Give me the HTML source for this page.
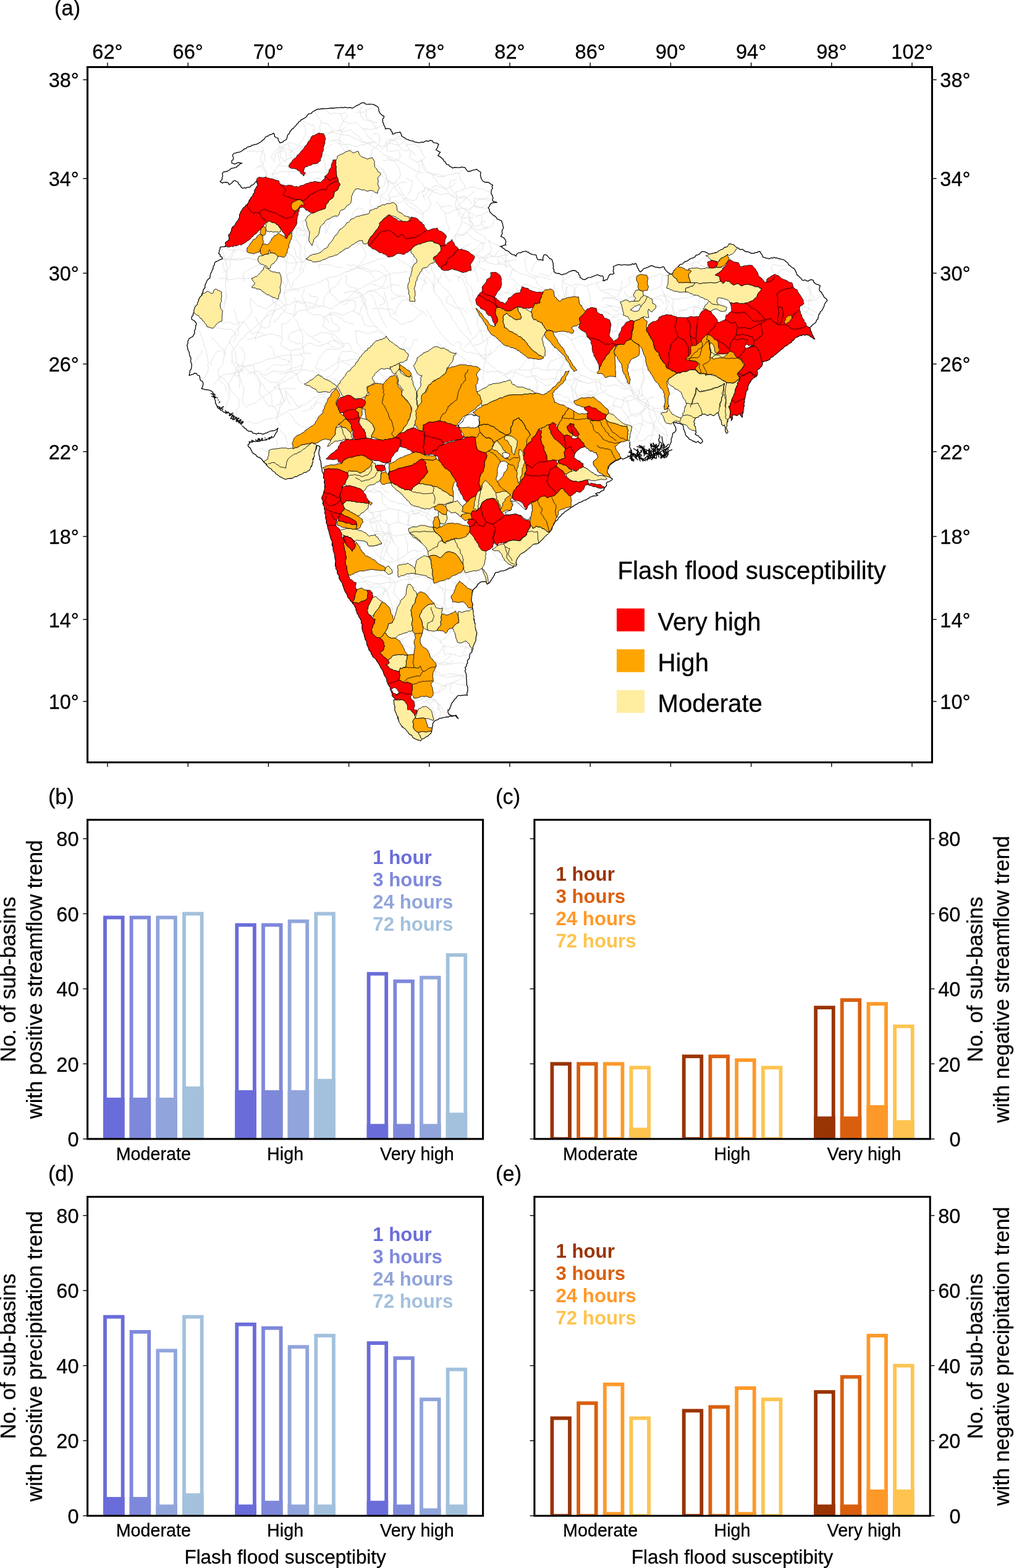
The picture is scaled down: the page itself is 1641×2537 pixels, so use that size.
<!DOCTYPE html>
<html lang="en"><head><meta charset="utf-8"><title>Flash flood susceptibility and sub-basin trends</title>
<style>html,body{margin:0;padding:0;background:#fff}svg{display:block}text:not([fill]){stroke:#000;stroke-width:0.3px}text{font-family:'Liberation Sans', 'DejaVu Sans', sans-serif}</style>
</head><body>
<svg width="1641" height="2537" viewBox="0 0 1641 2537" role="img" aria-label="Flash flood susceptibility map and sub-basin trend bar charts">
<rect width="1641" height="2537" fill="#fff"/>
<g id="map" stroke-linejoin="miter" stroke-linecap="butt">
<g fill="none" stroke="#dcdcdc" stroke-width="0.85">
<polyline points="507.5,180 510.7,182.7 513.1,186.5 515,190 518.6,193.6 520,197.5 517.8,202.9 517.5,207.5 518.7,211.2 521.2,215"/>
<polyline points="526.2,177.5 531.5,181.6 535,185 540,182.5 544.2,183.2 550,183.8 554.5,183.5 560,181.2"/>
<polyline points="487.5,193.8 493.6,197.4 497.5,200 501.8,201.8 507.5,202.5 508.4,207.2 508.8,212.5 506.9,217.4 505,220"/>
<polyline points="450,232.5 452.7,238.6 455,242.5 454,246.1 453.6,251.2 453.8,255 457,256.6 460,260 456.1,262.9 452.6,265.4 450,267.5 447.8,272.1 446.2,275 442.9,277.8 440,282.5 442.9,284.4 446.3,287.9 449.6,289.4 452.5,292.5"/>
<polyline points="460,260 463.3,258.9 467.1,256.5 472.5,255 480,253.8"/>
<polyline points="450,267.5 454.6,267.6 461.3,268.6 465,270 467.5,270"/>
<polyline points="440,282.5 445.1,280.6 450.4,279.8 455,277.5 458.8,277.3 463.7,278.1 466.1,278.1 472,277.9 475,277.5 479.5,277.1 486.2,278.8"/>
<polyline points="491.2,285 496.5,283.1 500,280 503.8,278.4 508,277.9 512.5,277.5 517.2,279.1 520.9,279.9 525,280 532.5,277.5"/>
<polyline points="525,216.2 530.1,214.5 534,215.1 540,213.8 543.6,216 550,217.5 553.5,218.1 557.7,218.7 562.5,218.8 567.1,220 570.7,222.1 575,223.8 579.7,226.4 582.6,228.4 587.5,230 591.4,230.9 596.3,233.2 600,235 604.7,237.2 609,239.7 612.5,242.5 617.7,246.5 620,250 624.5,251.7 629,253.3 632.5,255 636.5,257 641.1,257.8 645,260 649,263.2 653.2,263.8 657.5,267.5 662.1,269.9 666.7,272.6 670,275 675,277.3 679,278.6 685,280"/>
<polyline points="587.5,208.8 591,208.4 596.2,209.2 600,210 604.2,208.7 608.8,207.5 612.5,206.2 617.7,203.8 621.2,202.5"/>
<polyline points="587.5,208.8 590.3,211.4 592.6,216.5 595,220 597.4,222.8 601.5,223.8 605,227.5 607.6,230.9 612.1,235 615,237.5 619,236.3 625,235 629.4,231.4 631.1,228.1 635,225 639.8,223.4 645.3,220.8 650,220"/>
<polyline points="617.5,242.5 620.8,238.9 624.4,237.7 627.4,234.7 630,232.5 634.2,232.3 640.1,234 645,235 647.9,233.1 652.3,230.1 654.8,227.4 657.5,225"/>
<polyline points="616.2,281.2 618.4,284.6 621.8,287.2 625,290 629.6,293 635,295 638.1,301.2 640,305 643.1,309.2 645.8,312 650,315 652,319 655,325 658.2,328.3 659,331.3 662.5,335 667.6,337.2 672.5,340 677,343.8 680.2,345.5 685,347.5"/>
<polyline points="611.2,312.5 616.6,317.1 620,320 624.5,322.9 630,325 636.2,327.5"/>
<polyline points="363.8,401.2 369.2,403.2 375,405 379,405.4 382.6,403.6 387.5,403.8 390.5,405 396.3,406.8 400,407.5"/>
<polyline points="360,420 365.3,420.2 370,420.2 375,418.8 378.8,420.4 383.9,420.7 387.5,421.2 392.2,420.3 396,418.8 400,417.5 404.7,418.2 409.4,419.6 413.3,420.1 417.5,421.2"/>
<polyline points="472.5,376.2 475.3,379 477.7,383.7 480,387.5 482.6,392.3 484.3,396.5 487.5,400 486.7,403.4 485.8,408 485,412.5 485.4,416.1 488.2,421.6 490,425 487.8,428.3 486.3,434.5 485,439"/>
<polyline points="480,362.5 485.1,359.6 490,357.5 493.8,356.2"/>
<polyline points="490,357.5 490.5,361.9 490.8,366.3 492.5,370 495.2,375.5 495.5,379.6 497.5,385 495.7,391.3 494.6,395.7 492.5,400 494.1,405.5 493.8,409.4 493.5,415 495,418.8"/>
<polyline points="465,408.8 470,412.1 475,415 476.6,419 480,425 478.6,430.1 475.9,433.8 475,439"/>
<polyline points="550,183.8 552.2,186.5 553.6,191.3 555,195 560,197.7 565,200 570.3,199.5 575,197.5 578.6,200 582,203.3 584.4,206.3 587.5,208.8"/>
<polyline points="520,197.5 525.8,199.8 530,200 532.7,203.9 535.3,206.4 537.2,209.8 540,213.8"/>
<polyline points="625,232.5 629.1,229.9 635,227.5 639.6,226.5 645,223.8 652.5,225 654.4,230.5 657.5,235 660.4,237.8 661.7,242 665,245 663.7,250.9 662.5,255 667.1,258.1 671,259.8 675,262.5 682.5,260"/>
<polyline points="675,262.5 677,265.5 678.8,270 678,275.6 677.5,280 672.5,285 676.2,289.2 678.9,291.7 682.5,295 685.5,300.6 687.5,305 692.6,306.5 697,308.2 700,310 696.9,313.3 695.2,317.3 692.5,320 695.2,323.6 697.5,330 694.6,333.7 692.5,340 687.5,342.3 685,345"/>
<polyline points="625,255 629.4,256.5 632.7,258 637.5,260 639.3,263.6 642.1,267 645,270 646.4,274.8 647.8,280.8 647.5,285 645.2,288.3 641.9,292 640,295 642.5,297.6 645.5,302.2 647.2,305.4 650,310 652.7,314.9 655.6,317.2 657.9,322.3 660,325 663.2,328 667.5,328.9 670.2,332.4 675,335 678.9,338.8 682.8,341.6 685,345 684.8,349.8 686,353.6 685.1,358.4 686.2,363.8"/>
<polyline points="700,282.5 704.3,283.6 708.7,285.6 712.5,286.2 717.8,285 720.9,283.9 725,282.5 728.3,282 734,281.8 737,280.1 742.5,280 747.5,275"/>
<polyline points="742.5,280 743.8,284.5 745,290 747.4,293.3 749.8,296.7 752.5,300 750,307.5 745.2,307.6 742,310.1 737.5,310 738.7,314.9 739.1,319 740,325 742.6,328.6 745,335 749,337 755,340 752.5,343.2 750,347.5 748.3,351.5 747.5,355.6 747.5,360 745.4,366.1 742.5,370 740.3,376.3 737.5,380 736.7,384 735.7,390.1 735,393.8"/>
<polyline points="752.5,305 756.1,305.1 760.6,303 765,302.5 770.3,303 773.3,305 777.5,305 782.6,306.2 785.8,308.3 790,310 795,310"/>
<polyline points="767.5,320 772,321.8 776.1,321.2 780,322.5 784.8,320.8 790,320 794.7,323.1 797.5,325"/>
<polyline points="767.5,320 767,324.2 768.8,328.8 768.8,335 775.6,335.9 780,335 785.3,333.2 790,330"/>
<polyline points="700,310 703.4,311 708.6,312.8 712.5,315 715.8,314.7 721.1,313.4 725,312.5 728.9,315.9 732.7,317.7 737.5,320"/>
<polyline points="712.5,335 714.4,338.7 717.6,340.8 720,345 720.9,348.8 721.8,352.3 722.5,357.5 723.6,362.3 725.7,366.3 727.5,370 724.7,374.9 722.5,377.5"/>
<polyline points="755,340 758.7,343.6 763.5,344.5 766.2,348 770,350 776.1,348.5 780,347.5 783.7,345.1 790,342.5"/>
<polyline points="780,350 780.3,354.5 779.7,357.6 778.8,362.5 782,365 785,370 789.1,368.8 794.5,366.9 797.5,365 798.2,361.1 800,355"/>
<polyline points="750,360 755.5,361.9 760,365 764.2,369 765.7,371.1 770,375 773.9,377.3 780,380 783.7,382.5 786,386.2 790,390 795.2,392.2 800,395 804.3,396 810,398.8"/>
<polyline points="737.5,385 740.8,382.8 743.3,380.8 748.4,379.7 752,377.5 755,375 758.7,379.6 761.4,382.4 765,385 769.3,387.8 775,390 779,392.5 782.5,395 781.6,401.1 780,405 776.6,406.6 772.5,410 768,413.8"/>
<polyline points="782.5,417.5 787.5,417.1 791.9,416.3 795,415 799.8,415.6 802.4,415 807.5,415 810.8,413.9 815.8,413 820,412.5 827.5,410"/>
<polyline points="782.5,417.5 784.8,421.8 787.5,425 791.7,425.5 796.5,426.3 800,427.5 804,427.7 810.5,425.3 815,425 820.2,422.9 825,422.5 829.6,421.1 835,421.2"/>
<polyline points="805,415 805.6,419.3 807.5,424 807.5,427.5 810.9,427.9 815.9,428.3 821.2,430.4 825,430 829.3,433.9 832.5,439"/>
<polyline points="860,439 861.7,433.8 864.2,429.3 865,425 868.8,423 875,421.2"/>
<polyline points="682.5,260 684.7,264.1 686,268 688.4,272.2 690,275 693.2,278 696.1,279.8 700,282.5 701.3,286.4 705.9,290.5 707.5,295 710,297.7 714.4,300.4 716.7,301.4 720,305 723.3,306.9 726.6,312.3 730,315 733.4,316.6 737.5,320"/>
<polyline points="657.5,235 661.9,233.8 666.6,233.6 670,232.5 673.7,235.9 677.3,236.8 680,240 681.4,242.9 683.4,248 685.3,251.5 687.5,255 682.5,260"/>
<polyline points="625,290 627.4,292.3 631.5,295.4 635,297.5 640,295"/>
<polyline points="997.5,610 1001,613.3 1002.7,616.6 1005,620 1008.6,623.2 1012.5,627.5 1017.3,630.3 1022.2,632.3 1025,635 1026.8,638.7 1029.8,640.9 1032.5,645 1037.3,648.7 1040.5,650.5 1045,652.5 1047.2,655 1050,659"/>
<polyline points="1037.5,562.5 1039.3,568.7 1041.5,573.3 1042.5,577.5 1041.3,582.2 1040.9,586.8 1040.9,591.6 1040,595 1039.9,600 1040.9,604.2 1042.5,610 1040,614.4 1038.4,620.6 1037.5,625 1038.7,630.1 1039.2,635.7 1040,640 1035,642.5 1032.5,645"/>
<polyline points="975,470 978.4,468.5 983.3,468.5 987.5,467.5 992.4,468.5 996.6,469.5 1000,470 1004.4,468.7 1008.3,466 1012.5,465 1016.7,460.4 1020,457.5 1017.5,450 1021.4,447.3 1024.9,446.8 1028.8,445"/>
<polyline points="975,482.5 980.6,482.8 986.2,482.2 990,481.2 994.8,484.5 998.2,485 1003.8,487.5"/>
<polyline points="975,497.5 980.6,496.9 985.1,495.8 990,495 993.9,495.1 999.6,498.1 1002.5,497.8 1007.5,500"/>
<polyline points="1050,470 1054.3,469.6 1060,467.5 1066.2,465.3 1070,462.5 1070.9,457.1 1071.6,452.4 1071.2,447.5 1074.3,445.7 1080,445"/>
<polyline points="1055,483.8 1057.7,481.9 1062.2,480.4 1066.1,479.9 1070,477.5 1074,479.2 1078.9,478.7 1082.5,480 1087,482.7 1090,483.8 1089.7,488.1 1088.6,491.3 1089.5,495.8 1088.8,500 1090.5,503.8 1092.5,508.8"/>
<polyline points="1090,483.8 1094.1,484.4 1100.5,483.4 1105,482.5 1111,482 1114.4,481.5 1120,480 1125,477.5"/>
<polyline points="1097.5,500 1101.3,501.1 1106.6,501.1 1110,501.2 1114.1,498.2 1119.2,497.2 1122.5,495 1127.6,496.6 1131.3,498.7 1135,500"/>
<polyline points="1122.5,495 1123.7,499.3 1122.7,502.9 1123.8,507.5 1125,512.5"/>
<polyline points="1310,460 1310.4,466 1311.8,470.7 1312.5,475 1310.2,478 1310.2,483 1307.5,487.5 1308.7,491.3 1308.9,496.4 1308.8,500 1307.2,503.3 1303.5,505.8 1300,510"/>
<polyline points="1295,495 1301,496.2 1305,497.5 1308.8,498.4 1311.3,501.7 1316,502.9 1320,505 1325,508.8"/>
<polyline points="1307.5,487.5 1310.8,487.1 1316.2,486.2 1320,485 1323.3,482.1 1328.6,479 1332.5,477.5"/>
<polyline points="1107.5,423.8 1112.7,426.6 1117.5,427.5 1122.6,426 1126.5,423.8 1130,423.8 1134.5,420.2 1137.5,417.5 1142.5,413.8"/>
<polyline points="1130,423.8 1131.2,426.7 1135,430 1141,431.8 1145,432.5"/>
<polyline points="690,447.5 694.1,451.2 696.8,455.4 700,457.5 701.5,461.5 701.7,467.1 703.1,471.4 705,475 707,478.4 710.5,481.3 712,484 715,487.5 716.6,491.6 718.1,494.7 720.7,497.5 723,502 725,505 727.6,507.3 730,512 731.7,516.2 735,520 737.7,523.2 739.7,528.3 742.9,532.3 745,535 748.3,539.1 751.7,542.7 755,545 757.9,548.2 760.5,552.3 763.1,556.5 765,560 768.8,563 771.2,566.9 774.8,570.9 777.5,575 781.9,578.1 783.6,581.5 786.9,585.7 790,587.5 792.8,589.7 795.6,592.3 799.5,594.5 802.5,597.5 805.2,600.3 808.2,602.7 812.4,604.8 815,607.5 819.7,609.6 823.1,611.8 827.5,615"/>
<polyline points="705,447.5 707.7,450.4 709.4,455.3 712.9,459.4 715,462.5 718.7,466.1 722.2,468.5 724.2,470.5 727.5,475 731,478.9 731.6,482.5 734.5,486.6 737.3,492 740,495 741.3,498.1 744.6,501.6 746.3,504.2 747.4,508.6 750,512.5 752.4,515.8 753.7,520.9 755.5,526.3 757.5,530 758.1,533.4 761.4,538.6 762.5,542.5"/>
<polyline points="735,445 739.9,446.6 743,447.7 747.5,450 750.4,454 751.1,458.1 752.8,461.4 755,465 755.6,469.7 757.5,473.5 759.1,478.4 760,482.5 761.8,487 762.5,491.2 764,495.3 765,500 770,498.8"/>
<polyline points="690,500 691.8,502.6 694,507.5 697.2,510.8 697.7,514.9 700,517.5 701.8,520.8 703.3,525.3 705.4,528.6 708.6,531.5 710,535 713.5,539.4 716.5,543 720,546.4 722.5,550 725.6,552 728,555.5 731.8,557.4 735,560"/>
<polyline points="767.5,415 772.6,415.2 775.8,417 780,417.5 783.6,415.1 787.9,412.7 790,410 795.4,412.9 800,415 802.4,411.2 804.9,408.5 807.5,405"/>
<polyline points="807.5,415 812.6,417.3 816.2,420.7 820,422.5 822,425.5 824.9,428.6 826.5,431.5 830,435 833.4,438.1 836.6,439.4 840,442.5 844.9,443.5 848.9,444.7 852.5,445 855.7,447.1 859.6,448.6 865,450 868.7,447.7 870.7,445.3 875,442.5 878.3,444.3 883.4,444.9 887.5,447.5 891,444.1 894.3,438.5 896.2,435"/>
<polyline points="830,435 827.5,439.4 827.3,442.5 825,447.5 828,450.7 833.1,454.3 835,457.5 839.7,461 845,463.8"/>
<polyline points="865,450 868.3,454.8 870,460 873.6,463.1 877.6,464.7 882.5,468.8"/>
<polyline points="910,444.5 910.8,447.8 911.3,452.7 912.5,457.5 916.7,458.5 922.5,462.5 926.6,461.9 931.8,459.9 936.2,460 941.2,460.5 945.2,462.2 950,462.5 955.9,459.5 960.2,459.5 965,457.5 968.6,456.7 972.6,456.1 977.5,453.8"/>
<polyline points="927.5,480 928.3,475.9 928.6,471.4 930,467.5 933.1,463.5 936.2,460"/>
<polyline points="965,457.5 966.7,461.2 970.2,466.8 972.5,470 976.5,472.2 979.8,473.9 985,475 988.8,478.2 992.1,479.2 996.2,482.7 1000,485.4 1003.8,487.5"/>
<polyline points="950,462.5 951.3,467.1 953,470.5 952.9,475.1 955,480 955.4,484.9 955.8,489.5 956.7,494.2 957.5,497.5"/>
<polyline points="986.2,517.5 990.8,513.7 995,510 999,509.2 1005,507.5 1010,510"/>
<polyline points="892.5,535 897.1,537.1 902.5,540 907,540 911.1,541 915,542.5 918.8,544.3 921.3,547.1 925,550 926.5,555.1 929.4,558.3 930,562.5 933,566.2 936,569 936.3,571.9 940,575 942.9,580.7 944.2,585.7 945,590 949,593.5 951.6,596.3 955,600 960.6,601.6 966.2,603.8"/>
<polyline points="925,550 931,547.5 935,545 941.1,544 945.7,545.6 950,545"/>
<polyline points="933.8,598.8 936.5,603.3 940,607.5 935.8,610.2 933,613.7 930,615 927.8,619.9 925,625 925.3,629.3 926.1,633.2 927.5,637.5 927.9,643.6 928.8,647.5"/>
<polyline points="940,607.5 945.7,608.8 951,611 955,612.5 960.1,614.4 964.3,613.3 970,615 974.2,613 980,611.2"/>
<polyline points="996.2,610 998.8,614 1001.6,617 1005,620 1011,619.9 1015,621.2 1019.3,626.4 1022.5,630 1024.9,635.9 1025.2,640.6 1027.5,645 1030.2,647.5 1034.8,650.2 1037.2,653.7 1040,655 1044.9,657.3 1048.3,660.3 1052.5,662.5 1058,664.2 1061.2,666 1067.1,666.7 1069.8,668.3 1075,670"/>
<polyline points="970,615 970.8,619 972.1,626 972.5,630 976,632.9 978.9,635.4 981.2,637.1 985,640 988.9,641 995.8,644 1000,645 1005.5,646.3 1010.8,648.9 1015,650 1019.8,647.9 1023.2,647.4 1027.5,645"/>
<polyline points="815,607.5 818.6,605.8 821.6,602.8 825,600 830.3,599.2 835.1,598.8 840,597.5 845.4,599.3 849.7,598.1 855,600 859,597.7 866,595.8 870,595 875.5,597.9 879.5,597.8 885,600 889,598.6 893.3,598.1 897.5,597.5 903.3,598.6 907.4,598.6 912.7,598.6 916.2,600"/>
<polyline points="765,560 769,557.9 776.2,556.9 780,555 783.5,551.7 787.5,549.9 790.5,546.3 794.1,544.9 797.5,542.5"/>
<polyline points="777.5,575 781,574.5 787.3,574.2 789.7,573.4 795,572.5 798.4,569 801.4,566.8 804.3,563.3 806,560.6 810.1,558.1 812.5,555"/>
<polyline points="840,597.5 842.2,594.8 845.8,591.3 846.4,588 850,585 855,579.5"/>
<polyline points="885,600 887.1,593.8 887.5,590.3 890,585 894.7,583.7 898.6,581.8 902.5,580 906.8,578.7 913.8,576.2"/>
<polyline points="737.5,571.2 741.9,574.7 744.7,576.6 750,580 754.5,582.3 757.8,585.7 761,586.5 765,590"/>
<polyline points="356.2,400 358.7,403.8 360.4,407.5 362,411.7 363.2,415.8 365,420 366,423 366.3,428 367.4,432.3 367.6,435.9 367.5,440 366.6,443.4 365.7,448.3 365.1,452.4 365,457.5 365,461.9 365.6,467.3 365.6,471.1 366.2,475 366.2,478.9 364.1,483.8 363.7,487.7 364.6,490.8 362.7,495.8 362.5,500 360,505"/>
<polyline points="360,418.8 365.1,419 370,418.7 375,420 378.6,419.7 383.3,418.4 387.3,418.6 391.1,419.3 395,418 400,417.5 404.7,418.2 409.4,419.6 413.3,420.1 417.5,421.2"/>
<polyline points="353.8,450 359,450 362.5,450.5 367.1,451.9 370.9,452.4 375,452.5 379.9,451.2 382.1,450.6 387.9,450.8 390.3,450.8 395,450 400,450.8 404,450.6 407.5,450"/>
<polyline points="455,450 456.8,453.9 458.8,457.6 460.5,461.9 462.5,465 460.4,469.4 460,475 463.1,473 467.4,471.3 470.6,470.2 475,467.5 480.4,467.4 484.4,466.4 490,465 494.6,463.2 498.4,463 502.1,461.3 505.6,460.6 510,460 513.8,457.1 518.9,456.3 522.1,453.9 526,452 530,450 534.9,448.7 538.3,448.5 541.9,447.4 546.4,446.9 550,445 553.4,442.7 557.6,440.5 562.8,439.2 565.4,436.8 570,435 574.3,433.8 577.9,432.2 582,429.9 586.4,429.9 590,427.5 594.3,426.4 597.9,425 602.7,423.4 606.4,422.4 610,420 614.1,418 617.2,419 622.6,417.8 626.5,414.9 630,415"/>
<polyline points="465,415 464.4,419.8 463.1,424 463.2,428.9 463.9,433.6 462.5,437.5 462.1,441 464.2,445.3 464.3,449.5 465.5,453.4 465,457.5 462.5,465"/>
<polyline points="475,400 477,403.6 478.6,411 480,415 484.4,418.5 487.2,421.9 490,425 492.5,421.8 495,418.8"/>
<polyline points="495,425 494.1,429.8 491.6,433.7 490,440 486.2,442.8 484.3,445.4 481.3,449.9 478.3,451.1 475,455 473.4,458.7 472.5,465"/>
<polyline points="450,483.8 454.4,487.5 457,490.2 460,495 462.9,493.1 468.2,492.9 471.4,491.4 475.5,488.2 480,487.5 484.8,487.3 487.6,487.5 492.9,489.1 495.2,488.6 500,490 503.8,490.4 508.3,492.7 511,493.3 516.7,494.5 520,495 525.7,496 530.8,497.8 535,500 539.5,497.8 542.5,494.6 546.1,493.3 550,490 553.7,489.2 557.8,486.9 561.6,484.3 565,482.5 566.5,479.5 569.3,475.8 572.4,473.8 575,470 579,467.7 582.4,467.1 588.1,464 591.3,461.7 595,460 598.9,458.9 602.8,455.5 606.8,454.2 610.7,453.1 615,450 619.5,447.8 622.1,447.4 627.2,444.6 631.2,443.3 635,442.5 639.5,441.2 643.3,442.2 647.5,440.5 651.2,440.8 655.2,439.5 660,440"/>
<polyline points="405,482.5 407.1,485.6 411.6,489.1 413.3,492.1 417.5,495 422.9,496.4 426.9,498.5 430,500 434.4,497.3 436.5,494 439.4,493.4 443,489.5 447.3,487.6 450,485"/>
<polyline points="405,482.5 404.9,486.3 405.3,492.5 405.6,497 406.5,499.4 407.5,505 405.6,508.5 402.3,512.6 397.9,516.2 395,520 392.2,523 388.7,528.6 384.8,531.1 382.5,535 380,539.1 377.5,542.7 374.6,546.4 372.5,550 370.9,553.2 368.6,558.1 366.3,560.7 365,565 362.9,569.2 362.5,575"/>
<polyline points="430,512.5 434.3,510.7 439,507.4 442.4,505.8 446.1,502.2 450,500 454.1,498.5 460,495"/>
<polyline points="430,512.5 427.2,514.8 424.2,518.5 421.1,521.6 417.5,525 414.7,527.4 410.1,530.9 408,533.6 402.6,537 400,540 397,542.2 394.3,546.8 390.7,548.2 387.2,552.3 385,555 382.7,560 380.8,562 376.4,566.5 375,570 375.3,574.1 376,579.5 375,585 377,588.7 378.6,591.1 382.1,594.2 385,597.5 385.7,601.5 386.7,605.3 388.6,611.1 390,615 391.5,621.1 393.8,625.1 395,630 393.6,634 394.5,638.6 392.6,642.3 392.6,645.6 392.5,650 394.6,653.7 398,656.9 400,660"/>
<polyline points="455,525 460.7,523.2 465,522.5 468.1,519.1 472.2,515 475,512.5 478.9,508.4 480,505 483.6,503.3 487.4,502.2 492.8,502.1 496.3,500.6 500,500 503.2,499.1 507.7,498.1 512.6,495.9 516.1,496.6 520,495"/>
<polyline points="455,525 455.8,529.9 455.5,532.5 456.7,536.5 456.6,540.2 456.2,545 456.5,549.9 454.4,554.8 455,560 459.3,561.7 462.1,563.4 466.4,565.4 470,567.5 475.3,566 480.4,564.9 485,565 488.3,563 492.8,560.1 494.9,557.4 500,555 505.1,556 508.8,557.8 515,560 519.5,559.3 525.3,556.7 530,555"/>
<polyline points="400,550 404.6,548.4 408.7,547.7 412.3,546.1 416.4,546.2 420,545 424.7,543.1 430,542.2 435,540 438.9,540.9 442.8,541 446.5,542 451.4,543.5 455,545"/>
<polyline points="375,585 379.1,585.6 382.2,588.7 387.5,590.7 391.3,591 395,592.5 400,592.5 405.9,591.3 410,590 413.6,587.9 419.7,587.1 425,585 429,582.8 434.7,580.8 440,580 445,579.4 450,578.8 455.2,579.8 458.5,582.1 462.7,581.9 465.6,584.3 470,585"/>
<polyline points="470,567.5 470.1,572.9 470.9,577.4 471.3,580.5 472.5,585 470.8,589 471.1,595.6 470,600 473.6,602.6 480,605 481.5,608.4 482.6,614.1 485,617.5 489.3,619.9 492.5,621.2"/>
<polyline points="485,570 486.9,572.9 489.8,577.4 492.5,580 491,583.5 489.5,588.7 488.4,592.6 488.3,596.6 487.5,600 483.4,603 480,605"/>
<polyline points="420,605 423.1,607.6 427.8,611.5 432.4,614.2 435,617.5 439.2,618.6 446.2,618.5 450,620 453,616.3 456.8,614.3 458.6,610.2 461.4,609.2 464.5,604.6 467.9,602.2 470,600"/>
<polyline points="410,590 410.5,595.1 411.6,598 412.7,602.7 412.5,607.5 416.7,612.6 420,615 422.1,619.5 425.3,622.1 427.4,625.1 430,630 432.6,632.7 437.9,636.9 440,640 439.6,645.1 440.2,649.5 440,655 444,659.3 445.8,661.4 450,665 449,670.5 448.6,674.6 447.5,680 451.1,684.3 455,689"/>
<polyline points="450,620 451.9,624.9 452.1,629 453.8,634.2 455,637.5 456.7,641 459.2,646.3 460,650 456.9,652.9 455.9,656.5 452.5,660"/>
<polyline points="385,597.5 382.3,601.3 380.4,604.1 376.8,609.1 375.6,611.9 373.4,616.4 370,620 370.2,623.5 370.4,629.6 371.3,633.4 372.5,637.5 371.1,642.9 369.5,647 367,650.9 366.6,654.4 365,658.8"/>
<polyline points="322.5,535 324.1,538.1 325.1,543.1 327.3,546.7 328.1,552.3 330,555 330.4,559.4 331.4,562.1 333.5,566.5 334,571.3 335,575 336,579 336.2,582.4 337.4,587.9 336,590.6 337.5,595 335.9,601.3 335,604.6 332.5,610 328.8,612.7 323.8,613.8"/>
<polyline points="342.5,545 345.4,549.2 349.6,552.9 351.4,556 355,560 359.7,563.3 361.7,568 365,570 363.9,574.8 362.9,577 361.4,581.6 361.1,585.8 360,590 357,594 354.3,597.2 352.5,600 353.6,604.3 354.3,609.6 355,615 358.2,618.4 361.8,621.7 365,625 365.9,629.5 368.2,636.4 370,640"/>
<polyline points="505,545 509,543.1 512.3,541.6 516.3,539.8 520,537.5 523.8,538.6 528.2,538.9 532.9,539.2 535.4,539.5 540,540 543.6,543.2 545.7,547.1 550,550 552.9,553.3 554.5,556 557.5,560 553.7,561.2 549.5,564.1 545,565 541.5,562.2 537,560.7 533.2,556.5 530,555"/>
<polyline points="525,512.5 528.3,511.8 532.8,507.7 535.7,507.2 540,505 544.2,506.1 550.8,508.7 555,510 558,508.6 561.7,506.8 566.6,504.8 570,502.5 574.5,504.6 577.5,506.4 581.5,509 585,510 587.1,515.7 588.2,519.9 590,525 594.5,527.1 598.8,528.2 602.9,527.3 606.9,528.8 610,530 612.5,532.5 616.9,535.9 619,537 622.9,540.8 625,543.8"/>
<polyline points="550,490 556,486.8 560,485 565.7,486.5 570,485.8 575,487.5 574.4,490.8 575.4,495.3 575,500 570,502.5"/>
<polyline points="575,470 577.4,472.4 582.1,474.4 584.4,476.4 587.5,480 588.3,484.5 589.2,487.9 590.3,491 591.5,497 592.5,500 594,503.1 594.5,507.7 597,512.2 599.4,516.4 600,520 604.1,523.1 606.4,526 610,530"/>
<polyline points="600,475 602.6,479.4 604.6,482.3 606.5,486.3 607.5,490 608.4,494.5 610.8,496.8 612.6,500.7 613.1,505.1 615,510 617.1,513.9 618.7,518 620.8,521.4 623.6,525.7 625,530"/>
<polyline points="622.5,472.5 622.5,476.9 624.3,480.8 624.8,485.9 627,489.9 627.5,495 627.8,498.5 629.9,504.1 631.3,508.9 632.5,512.5 636.3,515.6 639.9,517.3 642.8,518.7 645.6,522.9 650,525 656,523.5 659.7,521 665,520 668.3,518.7 672.9,515.2 674.2,512.7 678.3,510 681.1,507.3 685,505"/>
<polyline points="575,535 578.7,535.7 582.6,535.9 586.3,537 591.5,539 595,540 600.1,538.4 605,537.3 610,535 613.5,537.7 618.3,539.2 622.1,542.2 625,543.8"/>
<polyline points="575,535 575.8,539.3 576.6,543.7 576.4,547.7 577.5,550.4 577.5,555 581.3,558.4 584,563.7 587.8,566.1 590,570"/>
<polyline points="510,595 511.8,591 513,587.7 515.5,581.9 517.9,577.7 520,575 522.9,571.9 525.4,568.3 530,565 536,564.4 538.9,565.8 545,565"/>
<polyline points="510,595 515.3,597.6 521.2,598.4 525,600 528,597.5 533.6,595.4 535.8,592.7 540,590 546,586.8 550,585 555.6,586.5 561.1,588.7 565,590 570,595"/>
<polyline points="480,487.5 479.1,490.6 477.7,496.3 478.1,500.7 476.6,503.9 476.6,509.1 475,512.5"/>
<polyline points="530,450 530.8,455.1 531.8,458 531.7,463.2 533.1,466 533.6,470.1 535,475 538.2,478.2 540.8,479.9 544.4,484.3 547.8,487.5 550,490"/>
<polyline points="400,605 404.7,604.2 409.7,602.7 415,600 419.1,601.2 423.2,604.5 425.4,605.9 430,607.5 432.9,605.2 437.6,602.4 442.5,600 446,601 452,601.1 456.7,601.4 460,602.5 462.9,600.2 466.8,598 471.4,596.6 475,595 480.7,593.8 484.7,592.6 490,590"/>
<polyline points="400,657.5 402.9,655.3 409.2,653.7 412.5,652.5 415.4,651 419,646.6 422.8,644.9 425,642.5 429.2,639.5 433.1,637.7 437.5,635 440.2,632 445.2,628.7 446.2,625.1 450,622.5 454.2,620.7 458.1,617.9 462,617.5 465,615 468.7,611.9 472.6,611.7 474.5,608.4 478.7,606.4 482.5,605"/>
<polyline points="400,682.5 404.6,682.4 410.2,684.6 415,685 420.4,683.6 423.6,681.9 428.2,679.6 432.5,677.5 437.2,677.5 441.4,677 446.4,674.9 450,675 452.7,672.3 457.2,670.2 462.3,667.9 465,665 470.2,663 473.4,663.1 477.6,662 482.5,660 487.1,658.1 489.6,655.1 493,655.1 496.8,651.9 500,650 504.3,646.7 506.2,644.7 511.8,642.3 515,640 520.8,637.6 524.6,637.6 530,635"/>
<polyline points="450,622.5 451.8,627.7 453.9,631.1 456.1,636.5 457.5,640 456.3,644.9 454.7,647.5 454.4,651.4 453.1,656.1 452.5,660 452.2,665.9 450.8,669 450,675"/>
<polyline points="450,692.5 453.1,694.8 456.3,699.9 460,702.5 461.7,706 462.9,711.6 465.5,714.9 465.3,718.4 467.5,722.5"/>
<polyline points="592.5,797.5 596.6,794 601.1,793.5 605,790 609.4,793.7 613.2,794.8 617.5,797.5 620.6,801 622.7,803.4 627,807 630,810 634.3,810.7 640.5,812.6 645,815 649.6,814.8 656,817.8 660,817.5"/>
<polyline points="597.5,830 600.8,829.6 605.4,828.8 610.1,827.4 615,827.5 619.7,826.5 625.1,825.2 630,822.5 635,823.8 639.3,824.5 645,825 650.9,826.8 655,828.8 660,830 663.6,827.9 668.9,826.8 675,825"/>
<polyline points="617.5,797.5 618.2,801.8 618.3,805.3 618.5,810.9 620,815 624.1,817.7 625.7,820.3 630,822.5"/>
<polyline points="587.5,840 592.8,841.4 595.7,842.4 600,845 606,843.4 609,843.4 615,842.5 618.1,843.4 623,847.2 626.5,847.1 630,850 635.8,847.2 639.4,845.9 645,845 649.2,846.4 654,848.3 660,850 664.1,850.2 670,852.5"/>
<polyline points="615,827.5 615.1,832.1 615.7,837.4 617.5,842.5"/>
<polyline points="645,825 645.3,829.3 644.4,832.7 644.3,836.2 644.4,840.2 645,845"/>
<polyline points="607.5,865 611.8,863.4 616.6,863.3 620.4,863.1 625,862.5 629.5,863 635.8,865.4 640,867.5 645.1,866.5 649.9,865.6 655,865 660.6,863.9 665,863.8"/>
<polyline points="675,825 680.6,826.4 685.2,829.1 690,830 693.1,831.6 696.1,835.2 700,837.5"/>
<polyline points="660,830 660.7,834.2 662.5,840 661.2,844.6 660,850"/>
<polyline points="630,850 631.1,856.2 632,859.8 632.5,865 634.6,870.3 635,873.9 637.5,879"/>
<polyline points="775,597.5 780.3,598.7 785.8,601.3 790,602.5 796,600.7 800.6,601.4 805,600 808.9,601 815.8,603.9 820,605 824.3,603.3 829.4,602.5 835,602.5 837.8,604.1 842,606.1 845.9,607.4 850,610 855.4,610 859.6,609.1 865,607.5 869.5,608.8 872.5,612.2 875.3,613.1 880,615 883.7,614.2 889,612.7 895,612.5 898.9,612.5 906,615.2 910,615"/>
<polyline points="825,615 827.9,612.6 831.2,608.9 831.5,605.7 835,602.5"/>
<polyline points="865,607.5 866.8,612.8 868,617.3 870,622.5 868.9,626.6 869.4,630.8 867.5,636.2"/>
<polyline points="925,605 927.8,607.9 931.6,612.9 935,615 933.5,620.4 932.2,625 930,630 932.3,635.9 932.8,639.6 935,645"/>
<polyline points="935,615 938.7,617 944.4,618.2 950,620 955.8,619.8 960.2,617.5 965,617.5 968.9,618.8 973.5,621 975.7,622.8 980,625 984.5,623.4 989.2,624.2 995,622.5 998.4,623.3 1002.2,625.1 1006.5,627.8 1010,630 1014.9,628.7 1020,625"/>
<polyline points="965,617.5 964.8,622.3 966.5,627.9 967.5,632.5 963.7,637.1 961.2,642.5"/>
<polyline points="982.5,661.2 988.3,657.9 992.5,655 996.2,657.2 1000,658.3 1005,660 1007.3,662.6 1010.4,667.2 1011.3,669.3 1015,672.5 1017.3,676.9 1018.9,681.8 1020.9,685.3 1022.5,690"/>
<polyline points="1005,660 1007.6,654.9 1008.3,649.5 1010,645 1015.8,641.7 1020,640 1023.2,642 1027.5,644 1032.1,645.5 1035,647.5 1040,646.5 1045,645"/>
<polyline points="1022.5,690 1027.3,688.1 1029.7,686.4 1035,685 1041.4,687.3 1045,690"/>
<polyline points="1020,625 1021.6,630.9 1023.9,636 1025,640"/>
<polyline points="1000,615 1002.3,618.4 1006.8,621.2 1010,625 1015.5,622.7 1020,622.5 1022.6,626.8 1025,630.6 1027.5,635 1031,640.1 1032.5,645 1037.3,648.7 1040.5,650.5 1045,652.5 1049.2,655.9 1053.3,656.9 1057.5,660 1062.6,660.9 1066.7,660.5 1070,661.2"/>
<polyline points="1040,600 1041.2,604.7 1042.1,609 1042.5,615 1041.1,618.9 1038.3,622.9 1037.5,626.5 1035,630 1034.6,634.9 1032.3,641.1 1032.5,645"/>
<polyline points="1045,660 1041.7,664.5 1037.5,667.5 1038.4,672.9 1040.2,678.4 1040,682.5 1038.7,686.4 1037.6,690.8 1036.3,695.5 1035,700 1033.3,703.1 1030,706.8 1027.5,712.3 1025,715"/>
<polyline points="1050,660 1050.4,664.2 1051.6,671.1 1052.5,675 1054.7,679.8 1056.1,682.8 1057.5,687.5 1057.7,692.2 1056.6,696.9 1055.4,700.3 1055,705 1054.1,709.8 1052,714.6 1050,717.5"/>
<polyline points="1070,668.8 1068.2,672.8 1065.6,678.6 1065,682.5 1068.8,685.8 1071.3,688.9 1075,692.5 1077.5,696.4 1078.4,699.8 1080,705 1078.6,708.1 1079,713.8 1077.5,717.5"/>
<polyline points="1057.5,687.5 1060.1,689.8 1064.8,694.1 1066.6,696.6 1070,700 1074,702.8 1080,705"/>
<polyline points="1022.5,690 1024.8,692.4 1028.9,694.2 1030.9,698 1035,700"/>
<polyline points="605,890 607.9,893.7 610,897.5 613.3,900.2 616.4,902.9 620,905 624.6,906.3 630,910 636.3,909.3 640,907.5 644.8,905.3 650,902.5 654,899.8 657,897.3 660,895 664,892.7 670,890 675.1,891.8 680,892.5 684.8,888.3 690,886.2"/>
<polyline points="630,860 630.3,866.1 631.8,870 632.5,875 629.5,879.1 629.2,882.8 627,886.2 625,890 623.3,895.9 621.4,899.7 620,905"/>
<polyline points="655,867.5 657.5,872.4 658,876.4 660,880 659.6,885.2 659.2,890.1 660,895"/>
<polyline points="575,926.2 578.3,927.9 581.5,932.2 585,935 589.8,935 593.9,933.1 600,932.5 606.2,932.1 608.9,931.9 615,930 620.8,932.2 625.3,933.9 630,935 634.4,937.7 636.7,940.3 640,942.5 645.7,939.9 650.7,938.5 655,937.5 661,937.1 666,936.5 670,935 675,933.3 679.5,933.1 685,932.5 689.9,934.7 695,935"/>
<polyline points="580,942.5 584.9,942.4 588.9,941.7 595,940 601,942.4 605.3,944.2 610,945 614.1,944.5 619.1,944 625,942.5 630,941.9 634.3,942.8 640,942.5"/>
<polyline points="630,935 630.6,939 631.5,942.6 632.5,947.5 628.9,951.5 626.6,953.2 621.9,956.9 620,960 614,963.1 610,965"/>
<polyline points="640,942.5 640.1,946.5 638.1,951.9 637.5,956.1 637.5,960 640.5,964.2 643.1,966.7 645,970 650,970"/>
<polyline points="695,935 695.3,938.3 697.4,942.8 697.5,947.5 694.4,951 690,955 687.5,960"/>
<polyline points="702.5,943.8 707,945 711.5,948.1 715,950 716.2,955.2 718.6,959.3 720,965 718.4,969.4 718.9,974 717.5,977.5 716.2,983.8"/>
<polyline points="720,938.8 721,942.3 720,947.3 721.1,951.5 721.2,955 720.2,960.5 720,965"/>
<polyline points="730,933.8 732,937.8 732.5,942.5 736.1,943.8 741.2,943.8"/>
<polyline points="752.5,926.2 754.3,931.2 757.5,935 762.6,939.1 765,942.5 768.4,943.1 773.8,945"/>
<polyline points="732.5,973.8 732.2,980.7 732.5,985 737.5,988.8"/>
<polyline points="692.5,1020 695.5,1023.8 697.2,1026.4 700,1030 704.5,1031.3 710,1035 712.9,1038.2 715.5,1041 717.5,1045 720.7,1046.3 725.5,1046.4 730,1047.5 734.8,1047.3 737.3,1045.2 742.5,1045 745.6,1046 750.6,1045.8 755,1047.5 759.6,1049.4 763.8,1052.5"/>
<polyline points="717.5,1045 718.1,1049.2 719.4,1056.2 720,1060 723.8,1058.1 730,1057.5 733.2,1058.8 738,1059.8 742.5,1062.5 746.5,1061.5 750.2,1060 755,1060 760,1062.5"/>
<polyline points="706.2,1077.5 709.2,1075.1 712.8,1074.1 717.5,1072.5 722,1072.6 725.8,1073.9 730,1075 734.9,1073 737.9,1073.6 742.5,1072.5 746.7,1072.6 752.5,1075"/>
<polyline points="702.5,1085 707.5,1086.9 710.9,1089.1 715,1092.5 720.3,1091.8 725.8,1090.8 730,1090 735,1091 737.7,1091.2 742.5,1092.5 746.1,1092.7 751.4,1093.8 755,1095"/>
<polyline points="701.2,1102.5 705.5,1104.9 708,1105 712.5,1107.5 720,1110 724.8,1108.9 729.6,1107 735,1105 739.1,1106.6 745,1107.5 750.1,1108.3 756.2,1110"/>
<polyline points="701.2,1122.5 706.2,1121 710,1120 712.6,1114.2 715,1110 720,1110"/>
<polyline points="697.5,1128.8 701.6,1131.3 705,1132.5 706.8,1136.3 710,1142.5 707.5,1149"/>
<polyline points="680,1127.5 681.9,1131.8 685,1135 689.6,1136.1 695,1137.5 699.7,1135.5 705,1132.5"/>
<polyline points="640,1032.5 644.8,1032.8 650,1035 656.3,1032 660,1030 662.4,1027 664.3,1023.3 667.5,1020"/>
<polyline points="650,1035 651.7,1039.2 655,1045 660,1046.1 665,1047.5 670,1050"/>
<polyline points="705.7,1090 710.1,1092.7 712.4,1093.1 717.1,1094.3 722.9,1096.4 728.4,1095.1 734.3,1094.3 739.6,1094 743.1,1093.8 747.3,1093 751.4,1091.4"/>
<polyline points="721.4,1107.1 726.4,1105.3 730,1105.7 734,1103.2 740,1101.4 744.8,1099.4 747.3,1097 751.4,1094.3"/>
<polyline points="702.9,1120.7 707.1,1120.4 712.9,1118.6 715.3,1116.4 720,1114.3 721.4,1107.1"/>
<polyline points="682.9,1139.3 686.7,1135 690,1132.9 693.7,1132.5 698.6,1131.4 705.7,1134.3 710,1140 710.7,1147.1 712.9,1154.3 714.3,1161.4"/>
<polyline points="690,1132.9 694.3,1138.6 696.9,1142.4 700,1144.3 702.9,1151.4 704.3,1158.6 702.1,1165.7"/>
<polyline points="705.7,1134.3 708.3,1137.9 711.1,1139.7 714,1144.4 715.7,1147.1 718.4,1150.5 720.1,1154.9 722.9,1157.1"/>
<polyline points="788.6,422.6 785.5,420.6 781.2,417.5 777.2,414.5 774.1,413.3 771.1,412.7 765.9,412.5 760.5,411.8 755.8,409.6 751.5,409 750.1,404.5 750,399.8 754.6,397 758.4,396 761.4,394.4"/>
<polyline points="456,236.7 456.8,239.8 459.2,242.9 461.9,245 462.9,249.1 463.4,254.4 462.3,259.6 462.6,264"/>
<polyline points="736.9,555.6 739.4,553.7 742.8,553.1 746.1,556.8 745.1,560.6 745.9,564.4 748.6,566.2 753,568.4 755.3,570.5 760.6,569.8 765,570.8 769.8,573.1 774.1,572.7 776.9,575.3 779.4,577.2 781.5,579.9 784.7,581 786.2,578.2 789.7,576.2 792.7,574.3 794,570.4 793.3,566.4"/>
<polyline points="415.8,615.2 419.7,619.2 421.1,624.1 420.3,628.2 419.8,633 420.8,636.9 421.4,640.2 426.4,642.3 427.4,646.8 429.3,649.4 431.5,652.3 433.2,655.8 438,657 442.4,658.5 447,656.9 449.6,654.2 453.7,653.1 457.3,652.4 460.8,648.3 461.8,645.5 461.3,641.1"/>
<polyline points="564,858.1 560,860.9 554.9,861.3 550.6,864.1 545.9,863.6 544.5,859.6 542.4,855.8 542,850.5 544.5,847.2 546.4,842.7 545.5,839.4 544.8,834.8 542,831.8 537.6,830.5 533,831.8"/>
<polyline points="538.8,225.5 542.3,229.7 546.1,230.9 549.7,232.4 553.1,233.4 557.8,234.1 563.1,233.3 568.2,234 571.8,236.5 577.2,237 580.8,236 584.8,234.4 588.6,234.3 591.9,233.8 595.4,231.3 599.4,230 603.6,229.7 606.9,230.7"/>
<polyline points="442.9,263.1 443.7,257.8 445.5,253.9 445.5,249.4 448.5,246.7 452.6,245.7 457.2,244.3 459.1,241.5"/>
<polyline points="615.5,427.2 618.7,430 621.5,431.8 623.5,435.9 627.2,439.3 630.4,443.1 631,446.8 631.5,452.1 631.6,455.8 632.8,458.9 632.7,463.5 632.8,467.6 634.6,472.1 637.1,474.3 640.4,477.1 644,478.4 648.1,479.2"/>
<polyline points="677.5,933.3 676.1,930.6 673.2,929.2 668.6,928.1 663.9,926.2 661,922.8 656.8,920.9 652.5,923.8 648.1,925.3"/>
<polyline points="973,654 973.2,658.2 975.2,661.5 977.4,664.1 980.5,664.5 984,663.6 988.6,663.9 991.1,662.1 994.6,657.9 992.2,653.8 993.3,650.4 995.7,646.5 998.9,645.4"/>
<polyline points="731.9,335.1 728.1,332.8 724.5,332.2 720.5,334.2 716,334.8 713,334.3 710,331.4 708.3,327.9 705.4,326.1"/>
<polyline points="609.3,752.6 604.2,751.1 600.7,752.2 596.9,754.3 593.2,756.5 589.9,755.8 585.3,754.6 582.6,752.4 579.9,750.7 575.2,751.2 570.7,750.8 567.2,750 564.1,747.8 559.2,746.7 557.4,744.2 555.8,741.2 556.3,737.7"/>
<polyline points="670.5,410.8 669,415.5 669.7,419.3 668.6,422.9 670.4,426.4 673.4,427.1 676.3,429 679,430.6 681.4,433.2 684,436.5 684.2,440.4 685.5,444.2 688.7,448.5 687.4,452.1 687.1,456.7 686.6,459.8 683.8,462.9 683.4,467.2 680.1,470.9"/>
<polyline points="1228,522.7 1230.8,518.2 1232,514.2 1230.2,509.1 1230.8,505.4 1233.4,501.6 1235.3,498.6 1236.3,495.7 1237.6,491.9 1240.2,487.2 1241.3,483.1 1243.2,480 1244.7,476.9 1243.9,473.4 1240.7,470 1236.7,470.5 1233.5,470.7 1228.6,471.1"/>
<polyline points="839.9,528.6 842.4,530.6 842.9,534.7 844.4,538.7 848.5,541.5 849.1,545.6 848.6,550.2 845.9,552.4 845.4,557.1 845.7,560.7"/>
<polyline points="472.7,247.2 471.3,243.4 468.3,239.4 467.2,235.3 466.1,230.5"/>
<polyline points="577.1,582.5 582.1,583.2 587.3,584.7 591.5,585.1 595,584.3 599.7,582 601.5,577.1 604.9,575.1 609.8,574.2 615,575.1"/>
<polyline points="354.7,608.1 358.2,610.8 361.1,612.4 363.9,615.6 366.9,618.7 369.9,622.5 372.2,627.4 374.2,632.1 377.8,636.1 379.5,638.7 382,641.1 385,643.6 386.7,646.6 386.7,652 387,656.6 385.2,659.5 383,662.9 382.5,666.7 383.4,671.1"/>
<polyline points="471.3,654.9 468,652.6 466.6,649.8 465,645.7 463.5,641.7 463.4,638.2 462.2,634.7 461.5,630.9"/>
<polyline points="667.9,424.3 672,426.3 677,427.5 680.9,429 683.5,431 687.1,434.2 690,438.2 692.7,440.9 696.9,442.8"/>
<polyline points="1129.3,555.7 1133,552.2 1137.5,551.8 1141.7,551.9 1145.8,549.4 1149.3,547.2 1154.1,545 1156.5,541.3 1159.4,538.5 1163.7,535.2 1167.2,535.5 1170.8,536.3 1173.4,540"/>
<polyline points="547.2,208.7 551.3,212 555.8,213.7 559.9,211.8 564.9,210.3 568.4,211.1 571.3,214 573.6,215.9 577.7,218 581.8,221.2 583.3,224.9 585.5,227.4 589.3,230.2 593.2,230.6 596.8,231.9 600.4,232.4 603.3,230.6"/>
<polyline points="537.2,234.2 533.3,235.2 529.4,238.8 526.1,240.6 521.7,243.7 518.2,243.7 513.9,242.8 509.5,241.7 505.4,240.1 501.6,237.4 498.7,236.2 494.7,237.5 491,236.5 487.1,239.8 486.3,243.3 488.9,247.3 489.9,250.4 492.2,253 494.2,255.7 496.2,259.8 495.5,264.6"/>
<polyline points="518.5,553.6 514.9,552.9 512.6,551 507.8,548.4 505.5,546.4 502.4,544 498.3,542.9 494.9,538.7 491.7,534.9 487.8,531"/>
<polyline points="659.6,315.1 661.9,312 664.2,307.4 665.5,303.6 666.6,300.2 667.4,296.6 667.6,293.4 663.5,291.9 660.1,289.8 657.2,287.3"/>
<polyline points="1093.9,539.9 1098.3,540 1100.3,542.5 1104.6,545.8 1106.4,548.2 1105.8,552.5 1102.5,556.4 1100.4,559.9 1096.8,563.3 1093.6,566.2 1089,566.4 1086,569.8 1084.3,573.5 1083,578.2 1080.7,581.5 1081.7,586.7"/>
<polyline points="477.5,516.7 481.1,520.8 481.7,524.3 483.6,528 484.8,531.5 486.2,534.7 488.6,538 489.8,543.1 490,548.3 490,553.4 489.6,558.8 490,562.4 491.4,567.5 491.9,570.9"/>
<polyline points="747.4,443.2 747.3,439.4 747.6,434.2 749.8,429.4 750.1,426.2 749.9,422.2 748.4,418.1 750.5,414.6 753.8,413.9 755.3,411.2 758.2,409.2 762.1,406.6 765.2,404.9 768.4,403.3 771.6,401.3 774.8,397.5 778.4,393.7 783.3,393 786,391.2"/>
<polyline points="891,452.4 885.9,450.5 880.8,449.1 878,447.6 873.7,448.3 869.8,448.1 865.7,446.4 860.8,445.3 857,443.3 854,440.1 852.1,437.6 851.7,434.4 850.1,429.2 849.8,425.5 848.8,420.8 850.8,417.7 853.9,415.2"/>
<polyline points="558.9,439.8 563.3,439.7 567.3,437.7 570.6,437.2 574.4,435.7 578.3,433.1 580.1,428.9 583.2,426.2 586.7,423.7 588.3,419.6 590.9,415.7 592.6,411.6 591.7,408.6 590.1,404.6 587.2,401.4 586.4,396.8 583.2,395.1 579.1,394.5 575.6,393.2 571.9,390.4 567.9,388.9 562.6,389.4"/>
<polyline points="629.7,796.7 625.9,796 622.2,793.5 619,790.1 616.5,786.7 614.6,782.4 610.2,779.4 607.9,777 604.6,774.1 603,769.1 599.7,766.7 595.2,764.8"/>
<polyline points="1165.9,470.8 1170.1,470.4 1174.2,471.6 1179.1,472.8 1183.8,473.1 1188.8,474.2 1192.3,475.5 1196.9,477.2 1201.3,477.5 1206,478.8 1208.7,480.7 1210,484.2 1213.3,486 1217.1,484.4 1218.7,487.2 1220,490.1"/>
<polyline points="724.3,643.1 727,644.6 730.3,645.1 734.5,645.2 736.8,648.7 739.5,650.4 743.1,652.9 746.1,654 748.6,657.3 750.9,660.1 754.8,659.1 757.6,657 757.3,653 756.6,648.5 757.5,643.6 757.4,639.2 757.9,633.9 758.7,629.8 755.7,626.6 754,622.6 752.1,619.6"/>
<polyline points="478.6,261.9 473.9,260 471.5,257.7 470.5,253.4 469.8,250.4 470.7,245.6 473.3,242.8 477.6,241.5 481.8,238.5 484.5,233.9 486.8,229.3 489.3,227.1 491.7,222.2 493.8,219.6 494.9,214.9 493.8,212.1 493.8,207 493.1,202.4 489.4,199.5"/>
<polyline points="1058.8,687.5 1058.9,684.5 1061.3,680.1 1063,677.6 1061.9,673.4 1060.3,670.3 1058,665.3 1056.8,660.4"/>
<polyline points="975.7,564.3 972,561.6 969.8,558.7 967.5,556.5 965.7,552.5 963.7,549.5 963.2,545.2 964.2,540.3 966.1,535.4 964.6,531.3 965.1,527.2 965.6,523.7 966.8,518.6 969.3,514 969.7,510.9"/>
<polyline points="936.1,646.7 934,644.5 935,641.1 933.1,638.5 930.4,635.7 928.6,633 926.4,629.5 924.5,626.3 922.6,623.5 918,620.7 916.3,617.6 913.1,615.2 910.1,614.5 906.2,613.1"/>
<polyline points="734.1,845.9 731.5,842.3 727.8,839.4 724.1,835.9 719.8,832.6 717.1,828.6 717,824.6 717.7,821.2 716.1,817.1 713.1,813.3 708.4,814 705.5,818.4 702.1,821.8 698.5,823.4 694.5,827.2 691,831 689.9,834.5 691.8,837.8 696.2,841 700.4,842.1 705.2,844.6 707,847.4"/>
<polyline points="979.7,491.6 983.1,493.7 988,494.6 990.1,497.7 992.8,501.1 995.3,503.1 999.9,503.2 1002.2,501.2 1003.6,497.3 1004.5,494 1005.1,490.9 1008.1,487.3 1010.2,484.8 1013.5,483 1016.7,482.5 1020.4,481.3 1024.2,480.8 1027.6,480.1"/>
<polyline points="1007.4,642.9 1011.3,644.1 1014.5,648.2 1015.9,651.7 1016.8,655.2 1016.9,659.1 1018.9,662.8 1019.6,666.9 1022.4,670.6 1025.8,672.8 1029,673.7 1032.2,671.6 1036,670.7 1038.6,668.4 1040.5,664.8 1042,661.9 1043.7,657.3 1045.2,654.4 1046.9,650.2 1047.6,647.2 1050.9,644.6 1055.1,642.5 1059.3,642"/>
<polyline points="488.6,656.1 485,657.7 480.1,656.8 478.6,653.1 475.1,649.4 472.7,645.2 470.2,641 467.6,638.8 464.8,636 463.4,632.6"/>
<polyline points="943.2,618.1 940.4,616.4 937,615.4 933.6,613.4 929,612.5 926.6,614.5 923.4,615.2 919.6,614.7 916.8,615.8 913.5,614.6 911.2,612 908.1,607.6 907.3,604 906.4,600.1 908.5,595.7 910.2,592.9 912.5,588.2 913.6,583.8 915.2,579.6 912.3,575.1 909.4,572.4 907.1,568"/>
<polyline points="621.1,570.9 619.7,574.8 620.8,578.2 618.9,582.7 615.6,587 613.4,589.3 609.2,589.9 605.9,590.4 601.1,591.3 597.5,590.7 593,590.8 590.7,588.9 586.6,585.4 583.1,584.3 579.6,583.5 576.1,581.3 571.4,581.1 566.2,582.1 562.1,583.7 558.2,584 553.6,583.5 550.3,582.6 548.2,578.2"/>
<polyline points="757.8,483.5 760.6,487.2 764.8,489.4 770.1,489.9 775.3,488.1 778.6,487.2 781.9,486.4 786.9,485.6 791.2,482.7 793.3,480 795.1,476 794.7,471.5 791.7,467.3"/>
<polyline points="1043.2,454 1046.7,450.8 1050.7,448.6 1054.3,447.9 1059.5,447 1063.2,445.1 1067.2,443.6 1071.9,443.8 1075.5,446.1 1080.8,445.1"/>
<polyline points="987.3,509 983,507.1 980.5,504.8 975.4,504.1 971.3,500.7 966.7,500.8 963.2,502.1 959,501.6 953.9,501.3 950.1,499.6 948.4,495.7 946.3,492.8 942.6,489.7 940.2,487.5 937.9,484 935.1,483 930.9,480.8 929.1,476.5 928,473.3"/>
<polyline points="759.8,358.2 763.9,359.7 766.3,363.7 770.6,365.8 775.9,364.5 779.2,361.3 782.4,358.3 786,359.6"/>
<polyline points="591.4,475.9 594.2,472.9 599.1,471 602.7,470.5 606.4,468.9 610.1,468 613.8,467.4 617,465.7 622.4,466.6 625.5,465.9 629.2,463.7 632.9,460.9 638,460.8 641.2,461.3 646.5,461.7"/>
<polyline points="533.8,504 534.7,509.1 535.5,512.7 536.5,518.1 538.2,522.8 540.8,524.3 545.8,526 549.5,529.8 549.4,534.2 546.1,535.9 541.8,536.2 537.7,535.5 533.6,536.5 530.9,533.8 528.2,530.8 525.4,529.3 521.7,526.6 524,523 525.2,518.8 523.9,515.1 523,511.9"/>
<polyline points="1000,515.5 1000,520.8 1000.2,525 999.1,528.5 997.9,533.8 994.7,536.7 990.1,537.8 986.1,539 982.5,539.1 978.3,538.8 974.5,537.9 969.8,537.6 966.3,537.1 961.2,538.9 957,537.6 951.9,536.7 948,537.1 944.7,537"/>
<polyline points="781.3,854.6 777.4,857 772.5,859 769,860.7 765.7,862.7 761.8,864.4 757.9,864.9 752.6,865.8 748.3,864.6 745.3,863.7 741.5,867.2 737.3,869.5 732.7,871.1 729,874.3 727,877.8"/>
<polyline points="506.1,394.8 509.3,396.3 511.9,398.5 515.6,399.5 517.6,402.8 519.8,407.5 517.4,411.8 515.7,415.6 512.7,420.1"/>
<polyline points="644,884.7 640.6,882.5 637.1,879 636,874.6 633.7,870.3 631.5,866.9 628.9,864.6 628.3,860.9 628,857.2 628,852.6 628.1,848.7 625.2,844.3 623.6,839.8"/>
<polyline points="578.9,508.5 582.3,506 583.5,502.6 583.7,499.4 586.1,495.5 590.4,492.2 591.9,487 590.5,482.9 587.7,480.1 585.2,475.9 581.6,472 578.4,469.1 575,466.2 570.6,465.5 566,463.9 562.6,462.1 560.2,457.9 560.7,453 560.2,448.1 560.4,444.6"/>
<polyline points="587.3,172.2 584.2,174.1 582.5,178.6 583.2,182.3 583.1,185.8 585.8,190.4 588.9,193.7 593.3,194.6 597.3,195.3 601.2,195.8 603.4,198 605.9,202 606.9,206.5 610.1,208.5"/>
<polyline points="667.2,939.6 665.9,936.6 663.3,932.5 658.6,932.8 654.6,930.2 651.4,927.6 648.3,923.3 647.1,919.5 647,916.3 647.6,913.2 650.5,910.1 653.3,908.5 657.3,909.7 662,907.9 664.5,905.4 669.5,903.3 674.9,904.3 678.2,906.1 681,910.3 682.9,913.7 683.7,917"/>
<polyline points="760,370.5 761.5,365.8 760.6,361.7 759.9,358.6 759.8,353.6 759.1,350.6 758.8,347.5 758,343.8 760.5,340.4 763.2,335.9 765.9,333.6 767.6,329.8 770.2,326.9 772.4,324.7 775.6,322.7 778.9,321.5 783.3,322.4 786.9,322.7 791.5,325"/>
<polyline points="701.3,1064.9 699,1069 696.9,1073.1 693.8,1076.2 691.3,1080.4 690.4,1085.2 692.3,1087.7 695.3,1092.2 695.5,1097.7 696.6,1102.6 693,1106.6"/>
<polyline points="431.5,298.5 430.7,295 432.9,290.1 431.4,286.9 431.6,281.6 430.9,277.6 428.4,273.3 426.2,270.1 425.9,266 424.2,263.4 422,260.2 421.4,255.8 423.2,250.9 425.2,245.9 425.8,241.4 423,236.6"/>
<polyline points="921.5,485.1 917.1,482.5 914.3,480.2 912.1,475.7 911.7,471.6 910.4,467.9 910.2,462.5 910,457.6 909.6,454.4 912.5,452.9 916.9,449.9 920.8,447.9 924,444.9"/>
<polyline points="761.3,420.9 764.5,423.3 764.8,428.3 766.2,431.4 767.8,435 768.5,438.2 771.3,442.1 772.4,446.6 772.8,451.7 774.1,456"/>
<polyline points="610,198.7 607.1,197.6 603.4,196.8 600.1,196 597.6,194.2 594.5,192.8 592.6,189.5 592.3,185 592.9,179.8 592.8,176.1"/>
<polyline points="740.1,824.2 738.5,820.6 735.2,819.7 730.2,819.1 726.5,818.8 721.2,818.3 717.9,815.2 712.5,816.1 710.3,818.2 709,822.6 707.6,827.7 703.2,829.7 700.9,832.2"/>
<polyline points="1008.7,535.2 1003.9,535.9 999,536.7 995.8,536.8 990.8,535.3 987.6,533.6 986.3,529.1 983.7,525.8 980.9,521.6 978.3,518.8 974.6,514.8 971.4,511"/>
<polyline points="930.9,771.5 926.7,772.7 922.2,773.2 918.4,772.8 914.6,774.2 910.9,775.1 905.8,774.3 901.8,772.6 898.8,771.7 896.2,768.6 892.2,765.5 889.1,761.7 887.6,758.1 883.5,756.6 882.6,753.2 882.5,748.5 882.8,744.1 884.8,741.8 885,738 887.9,735.5"/>
<polyline points="1104,515.5 1100.5,514.5 1097.2,514.2 1094.3,512.2 1091.2,510.8 1087.4,508.4 1082.1,507.1 1080.4,502.8 1078.6,499.4 1079.9,494.4 1078.2,489.8 1078,485.1 1077.9,481.7 1076.2,478.2 1075,474.6"/>
<polyline points="624.4,621.1 627.4,617.8 630.7,614.8 633.9,612.3 636.3,608.4 638.1,604.9 641.5,603.4 644.8,599.4 648.8,596.4 652.5,595.4 657,595.5 660.2,595.8 665.1,596"/>
<polyline points="492.1,466.7 492.1,470.3 491.6,473.7 488.6,478 489.3,482.2 491.6,485.8 492.7,489.2 494.6,493.9 499.4,496.7 504.3,497.2 508.2,495.2 510.2,492.3 510.8,488 513.5,486.5 514.2,482 510.8,479.5 506.2,479.5 502.1,478.7 499.2,474.7"/>
<polyline points="509.2,672.6 510.6,675.7 512.2,679.2 514.5,681.7 517.5,683.1 520.4,684.9 524.4,685.1 528,683.3 532.8,681.1 537.1,681.9 539.9,684.2 543.9,686.9 547.6,689.4 552,691"/>
<polyline points="522.2,615.1 525,611.5 528.8,610.6 533.3,608.9 536.7,606.1 540.3,602.3 543.7,598.1 546.8,594.4 547.8,591.3 547.5,587.1 546.8,583.4 547.6,580 549.1,576.9 550.1,574 552.9,569.3 556.9,568.7 560.2,569.3 563.2,568.4 567.5,568.1 572.1,569.6 576.9,571.2 581.5,574"/>
<polyline points="630.2,290.9 628.9,294 628.3,299.1 627.2,303.2 626.1,307.7 623.4,310.7 621,313.4 617.6,315.2 615.4,319.7 615.4,325 614.8,329.6 615.5,333.3 614.1,337.2 614.1,341.8 618.2,345.4 623.1,346.2 627.4,346 631.1,343.6 634.5,339.8"/>
<polyline points="593,822.1 596.5,825.9 597.6,829.2 601,829.6 603.7,831.7 604.9,835.3 603.8,838.7 600.6,840.4 599.2,843.1 598.7,847.5 600.6,851.4 603.3,855.6 604,859.3 606.6,861.1 610.6,863.2 614.3,865.3 618.6,867.6 623,865.9 626.4,862.9 630,862.5"/>
<polyline points="1161,655.4 1158.7,650.9 1157.2,648 1155.3,643.4 1154.8,639.5 1156.1,634.9 1158.3,632.3 1160.6,629.5 1165.1,626.4 1164.9,621 1163.4,617.1 1161.6,612.1 1158.7,608.2 1158.5,603.5 1159.6,599.1 1161.5,596.6 1164.5,593.6 1166.3,589.7 1166.8,586 1167.3,581.6 1164.7,577.5 1163,574.7"/>
<polyline points="866.3,779.1 870.2,781.5 874.7,783.6 879.7,785.1 881.4,787.9 884,791.5 882.6,796.6 881.5,801.3 880.8,805.4 876.5,808.9 874,813.1"/>
<polyline points="782.3,885.9 786.7,886.1 791.1,888.1 794.5,890.8 797.2,892.5 799.3,895.9 800.7,899.8 803.1,902.3 806.1,904.9 810.9,906.1 815.4,907.1 819.9,908.8"/>
<polyline points="360.6,523.6 364.2,521.9 367.6,520.8 372.8,521.7 375.8,523.4 378.2,525.3 381.8,523.8 385.6,522.6 390.8,521.2 395.5,522.6 398.2,525.7 401.1,529.6 403.6,532.2 404.7,536.5 407.7,539.8 410.8,539.6 413.4,537.4 417.9,538.1 421.4,537.9 425.6,540.9 429,541.8"/>
<polyline points="1125.8,564.7 1122.5,563.8 1119.5,564.7 1115.3,563.5 1111.1,564.3 1106.6,563.9 1102.2,563.2 1099,563 1095.9,562.5 1094.3,559.8 1091.4,557 1090.6,553.8 1088.2,549 1083.7,547.2 1080.9,543.9 1080,539.7 1080,534.9 1078.4,530.5"/>
<polyline points="672.6,650.5 669.4,648 666.3,645.6 663.5,641.3 662.1,638.5 659.9,636.5 656.4,634.1 653.2,633.4 649.8,631.6 648.3,628.6 646.1,623.9 642.5,620.4 639.4,615.9 637.8,612.5"/>
<polyline points="731.4,1108.3 729.3,1111.2 728.6,1114.6 727.8,1118.1 730.7,1121.4 735.2,1123.7"/>
<polyline points="1107.9,592.3 1109.8,595.1 1110.8,599.7 1113.6,602.1 1116.4,603.3 1118.6,606.3 1121.1,611.1 1122,614.9 1121.1,618.6 1118.4,622.3 1116.4,627.1 1113.7,628.7"/>
<polyline points="483.9,470.3 480.1,469 475.8,469.6 472.8,467.6 468.7,468.2 465.6,468.1 462.8,469.5 459.6,473 459.8,477.9 462.4,482.3 462.6,486.9 463.2,491.9 463,495.7 462.4,500.5 459.7,504.2 457.6,506.7 453.6,508.6 452.5,512 451.1,514.9 446.9,516.6 445.4,520.7 441.5,520.8"/>
<polyline points="487.5,261.8 484.4,258.5 482.1,256.1 478.4,254 475.9,250.1 475.6,246.3 470.9,243.8 466.2,242.3 462,238.8 457,239.4 453.2,239.9 451.4,242.4 451.7,245.7 450.4,249.5 450.9,254.5 452.1,258.2 453.3,262.9"/>
<polyline points="966.1,677.6 970.7,679.4 975.2,682.3 979.7,684.2 984.4,684.1 987.7,681.3 989.8,677.4 991.2,674.5 994.2,673.4"/>
<polyline points="786.5,436.3 781.1,435.9 778.3,434 775.8,432 774,429.5 775.5,426.8 776.5,421.8 776.2,416.7"/>
<polyline points="549.7,323.1 546.1,320.2 542.1,319 538.1,319.3 534.9,319.1 529.8,319.7 524.9,321.4 522.2,325.9 519.9,327.9 515.4,330 512.1,333.2 511.3,336.7 512,339.9 511,342.7 511.2,346.9 512.8,351.1 513.5,356.1"/>
<polyline points="762.3,440.7 761.8,437.6 762,433.2 761.9,428.7 762.5,425 764,422.4 764.9,417.6 766.9,413.4"/>
<polyline points="569.7,796 569.7,792.1 572.5,789.1 575.7,785.2 576.4,780 577.6,775.9 577.9,771.8 579,768.7 579,765 578.2,760.7 576.8,757.8 573.6,755.8"/>
<polyline points="1125.3,512.7 1121.5,508.9 1121.9,505.8 1122,501.8 1123.5,498.9 1127.9,496.5 1130.9,492 1131.8,486.9 1132.2,482.6 1130,478.9 1128.8,474.3 1128.1,470.3 1124.7,468.3 1121.4,464.7 1119.8,461.6 1115.5,460.2 1112.4,461.1 1108.9,461.7 1104,462.4"/>
<polyline points="700,790.4 695.4,788.4 690.6,787.8 687.3,789.2 683.2,789.1 679.9,790.3 676.8,787.7 675.3,784.9 673.5,780.5 671.2,778.1 666.8,777.7 662.2,778.5 658.6,777.8 656.1,774.5 654.6,769.5 654.7,764.7"/>
<polyline points="594.7,971.6 591.6,970.8 588,970.9 583.4,973 581,975.4 579.6,978.2 578.8,981.6"/>
<polyline points="1085.2,602.5 1079.9,601.2 1076.1,600.6 1072.7,598.3 1067.5,598.8 1063.1,596.9 1058.1,597.6 1054,599.5 1050.3,599.3 1045.2,598.8 1040.5,596.6 1037.5,596.8 1032.9,598.5 1029.1,599.4 1025.3,599.3 1021.3,599.3"/>
<polyline points="567,937.4 564.8,940.2 562.2,943 559.2,945.1"/>
<polyline points="742.2,802.6 738.3,799.1 733.6,800 729.1,799.6 725.3,800.2 719.9,799.5 716.3,799.6 712.2,801.4 708.8,800.7 706.4,798 706.2,793.8"/>
<polyline points="866.5,759.9 862.2,761.1 858,762.6 854.2,764.1 850.4,766.9 845.8,766.1 843.5,764 842.1,761 839.5,757.5 835.2,754.4 834.2,750 832.7,745.9 831.3,743.1 829.4,739.9 825.5,739.1 823.3,735.9 821,731.4 821.9,728.3 822.9,724.9"/>
<polyline points="673.9,729.8 678.1,726.4 679.2,723.5 681,718.6 682.1,715.5 680.8,712.3 680.5,708.5 678,703.6"/>
<polyline points="517.2,434.2 515.6,431 515.5,427.8 518.8,427.8 521.9,427.9 526.5,428.3 532,428.3 535.3,429.1 538.7,429.7 542.5,432.4 546.5,432 550.1,432.5 555.2,433.1"/>
<polyline points="487.9,748.8 489.5,751.6 492.5,753.6 494.3,756.2"/>
<polyline points="595,769.7 592.4,767.8 591.3,764.1 589.4,760.3 588.1,757.5 587.5,753.1 585.5,750.7 586.4,745.7 589.4,741.3 588.8,736.9 589.7,732.6 587.8,727.7 586,723.5 582.5,721 577.7,720.5"/>
<polyline points="876,503 878.7,507 881.3,511.5 879.8,515.4 877.2,519.4 875,521.7 874.3,524.7 875.1,527.9 876.2,533 874.9,537.8 874,542 873.1,545.4 873.1,549.1 869.7,551.2"/>
<polyline points="411,511.5 414.9,515.2 415.6,519.2 417.7,521.7 420.4,525.5 423.3,528.8 428.3,530.6 433.4,529.9 437.3,527.1 436.6,521.7 437.1,518.6 439.2,513.9 441.1,509.7 442.9,506.4 443.3,503 444.2,499.7 446.2,495.1 443.8,490.1 441.3,486.9 440.5,483.7 443,480.2 445.5,477.6 448,473.6"/>
<polyline points="700.6,1004.1 696.4,1004.6 692.9,1004.8 687.7,1003.8 683.3,1003 678,1002.5 674.1,1001.5 669.3,1001.3 665.7,1002"/>
<polyline points="764.4,365.3 767.5,367.9 769.4,370.3 772.6,371.6 777.1,372.4 781.4,370 786,368.1 790,366.1"/>
<polyline points="688.4,703.8 688.6,707.6 689.3,710.8 687.8,714.1 689.6,718.4 689.5,722.1 688.8,725.5 688.3,729.5 688.8,734.8 691.3,738.5"/>
<polyline points="1227,494.4 1229.8,490.8 1234.8,489.7 1240,491.4 1242.8,492.5 1246.1,492.7 1249.8,491.8 1253.9,492.1 1259.1,492"/>
<polyline points="926.4,808.9 929.8,810 934.9,808.4 939.3,808.5"/>
<polyline points="867,790.6 868.9,786.9 871.4,785.1 874,782.9 875.8,780.4 878,777.3 880.2,774.2 880.9,771.2 879.5,766.1 877.9,761.8 878.6,757.6 879.1,753.3 881.7,749.3 881.5,746.2 882.2,741.1 883.9,738.1 884.6,733.3 887.4,731.5 889.1,727.4 887.2,722.9 885.8,719.2 886.9,715.7"/>
<polyline points="1205,504.8 1208,508.9 1211,511.8 1213.5,514 1216.4,515.9 1220.1,517.6 1224.1,515.5 1226.2,513.1 1230.3,510.2 1234.2,506.8 1237.2,503.3 1241.2,501.2 1246.4,500.6"/>
<polyline points="703.1,845.6 698,844.1 693.4,841.1 691.7,838.6 688.8,835.5 684.4,833.6 680.2,831.8 675.6,828.8 671.7,830.6 667.1,831.3 663.1,833.7 661.4,838.1 659.9,843.1 660.1,847.6 662.6,850.6 664.8,853.4 666.4,856.9 668.9,860.7 671.5,863.3"/>
<polyline points="758.4,649.2 761.7,650.9 764.2,653.8 764.3,658.5 764.9,662.9 766.8,666.2 770.2,669.8 772.9,673.1 777.8,674.7 780.8,676.2 783.9,679.4 787.8,682.1 791.6,684.4"/>
<polyline points="797.5,619.2 794.2,622.7 790.9,626.8 788.1,629.3 784.6,631.9 781.7,633.6 776.7,634.7 772.2,637.5 768.5,640.8 766,642.7 763.4,644.6 760.6,646.6 755.5,648.2 750.7,650.2 745.7,651.3 741.5,653.6"/>
<polyline points="503,718.5 501.1,722.4 501,726.1 501.2,729.9 503.6,733.3"/>
<polyline points="669,379.9 664.6,381.8 659.4,382.5 656.2,382.5 653.2,380.9 648,381.1 644.2,381.5 639.9,383.3 636.4,387.1 635.2,390.7 630.8,393.3"/>
<polyline points="755.3,421 752.4,424.7 748.4,426.4 746.4,428.7 744.8,432.4 742.5,436.4 743.7,439.8 747.4,443.6 751.5,447.1 754.6,450.7 755.4,455.9 756.3,459.7 760.6,462.1 763,465.3 764.2,468.6 765,473.8 764.7,478 766.8,482.1 770.7,483.9 772.6,486.8"/>
<polyline points="875.3,741.3 873.3,746.4 869.7,748.2 866.7,749.8 862.4,752.4 858,751.7 855.5,750 852.2,750.8 849.2,752.5 845.8,755 842.8,756.4 839.3,757.9 837.3,761.8 837.2,766.4 838.8,769.7 841.3,773.4 845,775.2 848,774.4 852.7,773.9 856.3,774.9 857.9,778.3 859.5,781"/>
<polyline points="636,680.8 637.7,677.5 635.8,673.9 635.3,670.9 632.7,668 629.2,667.8 624.2,667.9 619.3,667 616.1,667.7 612.1,670.2 609.1,672.3 604.4,673.7 600.7,671.1 597.2,670.6 593,668.3 590.1,665.4 585.6,665.3 581.8,667.6 576.8,666.4 575.2,662.8 573.1,658.5"/>
<polyline points="982.9,630.1 979.1,632.3 975.1,635.6 969.8,636.3 967.2,637.8 965,640.2 960.5,638.5 956.1,639.3 952.7,639.9 949.7,638.5 946.6,637.5 942,638.1 938.7,639.2 936.2,642.6"/>
<polyline points="387.1,627.3 387.5,622.2 388.5,617.8 386.3,614.1 386.5,608.9 386.4,604.9 388,602.4 389,598.7 388.4,595 384.8,590.9 382.9,586.5 382.7,583.4 382.1,580.1 381.8,575.2 380.5,569.9 380.1,566.4 377.1,562.3 374.7,558.9 371.8,554.4 371.7,551.3"/>
<polyline points="784.8,618.9 782.4,615.5 781.3,611.9 782.2,606.7 782.9,601.9 782.7,598.6 783.1,594.7 783.9,591.2 783.8,586.9 785.6,583.4 786.3,578.4 785.7,573.7 785.8,568.2 786.1,564.4 785.5,561.2 788.7,556.9 788.6,551.4 787.8,547.4 786.7,544.2 784.3,541.9"/>
<polyline points="475.9,751.2 479.9,750.5 483.8,751 487.8,750.6 490.7,752.4 493.8,755.1 497.3,758.3"/>
<polyline points="836.5,881.1 831.5,879.4 828.7,878.3 825.1,877.3 821.6,875.7 816.3,875.6 812.4,874.1 807.7,874.5 803.7,875.1 799.9,877.7 796.2,879.9 793.9,882 791,883.3"/>
<polyline points="496.7,374.8 499.9,377 502.2,379.3 504.7,383 506.6,386 510,389.7 512.4,392.2 513,397.2 514.2,400.9 516,405.2"/>
<polyline points="550.4,304.2 546.5,305.4 541.7,308.1 539.3,309.9 537.7,312.7 537.3,317 535.7,321 533,325.8"/>
<polyline points="637.7,991.5 635.3,987.1 634.4,983.9 634.2,979.2 633.3,976 631.3,973.6 630.9,970.5 629.1,966.3 627.7,961.1 626,958.1 621.6,955.1 618.6,952.1 615.8,949.6 611.7,949.6 608.4,950.9 605.2,951.9 602.6,949.6 598.3,946.2 594.3,945.1 591.7,941.8 588.7,938.8 586.3,936.1"/>
<polyline points="595.6,1027.7 591.9,1024.5 592,1019.6 592.1,1014.2 590.6,1009.6 590.6,1005.8 589.7,1000.7 591.4,997.8 593.2,994.5 594.8,991 596.7,987 601.2,984.4 603.6,981.8 606.6,979.7 609.6,976.3 612.8,972.7 615.1,970.5 617.7,967.2 620.3,962.6 621.6,957.5 623.6,952.6 622.4,949.2"/>
<polyline points="455,314.6 453.2,318.6 451.6,323 447.7,326.5 444.6,329.5 440.8,333.5 436.7,337.1 434.2,338.9 431.6,341.5 430.5,345.5 429.6,348.4 430.5,352.5 431.2,356.6 433.1,360.8 434.7,365.1 433,369.7"/>
<polyline points="533.2,228.8 537.4,227.2 540.7,227 544.9,225.9 549.2,227.2 553.7,229.3 557.7,233.1 561.1,237 564,241.6 568.5,241.9 572.4,245.4 575.9,249.2 578.6,252.3 579,255.3 577.7,258.5 576.3,262.6 578.1,266.7 580.6,269.7 584.1,272.6 588,276.2 588.1,280.8 587.4,285.2 585.5,288.8"/>
<polyline points="707,553.9 710.3,557 714.6,558.5 714.7,562.9 713.9,566.5 713.5,570 713.6,574.6 713.9,579.2 711.2,582.2 711.3,587.4 712.9,590.4 715.6,594.7 719.1,597.9 720.9,601.5 724.8,604.6"/>
<polyline points="676.1,549.8 671.1,549.7 667.4,552.8 667.4,557.4 665.5,561.2 663.2,564.3 662,568.6 660,571.8 658.4,574.6"/>
<polyline points="975,658.8 971.6,660.8 969.3,663.6 968.6,667.2 969.8,671.9 969.5,676.1 970.5,681.5 969.9,685.7 973.5,689.3 976.3,690.6 978.3,693.1 980.5,695.8 980.2,700 980.6,704.5 981.5,709.2 983.3,711.8 986.4,714.7 988.8,718.5 990.9,720.8"/>
<polyline points="382.7,406.4 378.5,408.4 376.4,411.7 375,416.4 372.4,420.5 372.4,424.3 372.9,429.7 371.3,433.1 368.5,437.2 364.1,439.1 361,440.8"/>
<polyline points="647.1,885.1 643.9,888.3 643.9,891.5 645.3,896 643.9,898.8 643.8,904.2 644.4,907.9 648.6,909.8"/>
<polyline points="1044.6,521.6 1047.7,518.1 1050.8,517.5 1052.7,522 1056.4,525.5 1060.6,526.2 1063.2,530.4 1066.4,534.2 1069.7,535.4 1073.6,538.4 1077,538.3 1080.4,537.5"/>
<polyline points="675.5,795.4 677.1,798.1 680,800 681.8,805.2 683.8,809 685.8,812 686.6,815 683.4,818.3 683.5,822.2 682.3,825.7 679.3,828.7 676.7,831 673.3,832.1 669.7,831.9 669.2,828.2 666.4,824.7 664.8,820.8 664.7,816.5 664.7,811.8 661.9,808.9 658.9,807 656.3,802.3"/>
<polyline points="826.9,466.7 824.7,470.1 820.3,473.2 816.9,475.9 814,477.1 809.7,477.5 806.8,476.3 803.1,472.7 800.9,470.1 799.9,465.8 800.1,462 801.3,459.2"/>
<polyline points="1201.2,549.5 1201.5,554.3 1199.2,558.1 1195.8,560.3 1192.8,561.9 1188.3,564.3 1185.8,567.8 1183.9,570.3 1180,570.3 1175.5,571 1171.7,570.9 1169.9,568.4 1167,566.4 1163.6,565.5 1160,566.9 1156.9,564.5 1153,561.8 1151.7,558 1149.3,553.2 1144.8,550.5 1141.7,549.9 1138.2,548.8 1133.2,546.5"/>
<polyline points="1042.9,542.1 1040.4,539.4 1035.6,537 1031.3,536.1 1027.7,534.4 1023.4,531.8 1020.7,528.8 1017.8,526.9 1017.3,523.9 1019.5,521.2 1020.7,517.6 1021.8,514 1021.5,510.5 1022.7,506.7 1025.3,502.3 1026.1,499.2 1025.7,495.5 1027.7,493.2 1029.6,490.3 1028.3,487.2 1025.7,483.9 1023.1,481.2"/>
<polyline points="619.9,609.2 621.9,612.6 624,616 627.5,617.7 629.9,622.2 631.9,625 635,627.3 639.3,630.2 643.4,628.4 647.1,624.5 650.4,625.7 652.9,628 655.4,632 656.9,635.5"/>
<polyline points="733,981.5 728.9,983.9 724.6,985 720.9,984.7 715.9,983.2 712.6,979.8 709.4,978.9 705.7,977.1 702.4,975.3 698.9,972.4 695.9,970.1 693.2,965.8 694,961.7 693.9,957.2 693.9,952.3"/>
<polyline points="549.9,728.7 549.5,724.3 551.2,720.9 554.3,721.3 558,723.9 559.3,727.3 563,728.9 568.1,728.8 570.8,731.2 572.8,733.8 574.3,738.7 571.9,743.5 569.6,747.1 571.1,750.9 571.6,754.9 571.5,758.6 571.1,763.2 569.9,767.4 568.4,770.8 567.7,774.3"/>
<polyline points="784,842.4 784.8,846.6 784.6,850.9 783.9,855.5 779.9,858.9 776,861.3 771.2,862 768.5,863.5 766.8,868.1 765.8,873.4 765.5,878.2 764.7,883.6 762.1,885.3 759.2,889 755.4,891.4 752.1,894.5 751.9,897.7 749.5,900.2 746.7,903.3 746.8,908.5 746.5,911.5 744.4,916.2"/>
<polyline points="616.7,795.3 611.8,796 607.7,795.6 604.6,796.4 599.9,795.3 596.2,795.2 593.3,794.2 588.5,792.8 584.6,794.4 580.3,794.8 575.8,797 572.6,799.3"/>
<polyline points="435.4,747.4 440,745.2 443.2,742.3 443.4,738.1 441.5,735.3 438.2,733.6 435.5,731.7 430.8,730.1 428.2,728.4 424.5,726.2 420,726.4"/>
<polyline points="676.6,655.6 680.5,654.1 684.9,656.1 687.3,660.4 688.3,664.2 688.7,668.8 690.2,672.7 692.5,675.3 695.3,676.6 699.2,678.4 700.6,681.2 700.7,684.2 702.8,689 704,692.6 705.4,696 707.4,700 707.2,703.6 705.4,707.2 704.3,712.4 702.7,717 704.1,720.6 708.1,723.9 711.1,724.9"/>
<polyline points="619.6,331.8 614.4,333.5 611.2,333.4 607,335.6 601.8,334.2 599,329.8 598.6,325.2 600,320.5 601.5,317.3 602.3,314.4 605.5,311.2 608.9,307.4 612.4,304.4 616.1,303.2 620.3,301.6 623.3,298.5 622.7,293.5 625.2,290.7 625.7,287.1 625.5,283.7 622.6,279.5 621.3,275.3 619.1,273.2"/>
<polyline points="628.4,958.8 625.7,955.4 621.7,952.1 619.3,950.1 615.9,946.1 611,944 607.9,944.3 603.8,947 600.8,948.9 598.2,951.5"/>
<polyline points="525.6,280.9 530.1,278.1 534.4,277.4 536.6,274.9 537,271 535.9,266.2 537.3,261.9 535.7,258.4 532.6,254.8 529.6,251 526.8,249.8 522.1,250.4 519.4,252.3 517.9,256.8 516.6,262 514.4,266.1 512.5,268.5"/>
<polyline points="416,319 411.2,320.9 408.6,323.8 410.8,327.8 415.1,330.7 417.9,334.4 422.3,337.6 424.3,341 429.2,340.2 434.4,338.8 437.8,336.7 441.1,335.4 444.6,335.3 449.2,333.7 451.1,330.8 454.6,328.2 459.8,326.7"/>
<polyline points="737.2,293.6 735.6,296.5 732.3,300.4 728.3,303.1 725.1,304.3 719.8,305.2 714.6,303.5 711.5,302.2 706.9,300.1 702.7,300.5 699.8,303.3 695.5,306 692.8,309.6 690.1,312.8 687.4,315.5 684,318"/>
<polyline points="1074.5,492.7 1072.4,488.4 1070.8,484.8 1065.7,483.2 1062.6,483.3 1059.5,483.7 1056.4,483.5 1051.3,483.6 1047.5,482.9 1043.7,483.1 1039.6,483.8 1035.3,482.9 1030.7,482.6 1028,479.9 1024.8,479.1 1021.5,480.3 1018.2,479.5 1014.8,478.9 1011.6,475.5 1010.3,470.9"/>
<polyline points="602.3,952.2 599,956.2 596.1,954.9 592,953.5 589.1,951.8 584.7,951.2 581.1,950.1 576.1,948.5 572.3,947.2 569.2,946.5 564.9,946.2 561.8,948.2"/>
<polyline points="646.8,313.8 643.3,316.8 640.1,318.1 634.7,317.8 631.3,320.4 629.7,325.4 628.9,330.5 628.4,334.8 631,339.3"/>
<polyline points="890.2,658.5 892.9,655.4 894.5,652 898.6,648.8 903.3,647.1 907,648 912,649.5 915.3,651.1 918.4,651.3 923.2,650.3 927.5,650 930.7,649.1 934,648.1 937.8,647.5 942.1,647.6 946,645.8 948.8,644.4 950.4,641.8 954,638.9 959,640.9"/>
<polyline points="632,483.8 636.4,483.4 640.4,481.8 645,479.7 650.3,479 655.3,479.2 657.6,481.3 659.9,484.4 664,487.7"/>
<polyline points="1002.4,516.8 1006.9,517.4 1010,520.9 1014.9,523.5 1017.3,527 1020,531 1021.1,535.2 1020.7,539.8 1019.5,545 1020.4,548.4 1019.9,553.3 1021.7,558.2 1021.2,562.2 1023.3,565 1027.2,566.9 1030.9,569.9 1033.2,572.2 1035.9,574.7 1038.6,576"/>
<polyline points="498.9,383.2 495.5,380.8 490.7,380.2 486.3,380.2 483.3,380.3 479.9,378.8 479.3,373.5 482.4,372 486,372.4 490.8,372.4 495.6,374 500.6,374.2 504.8,372.6 509,370.9 513,369.8 517.4,368.5 519.9,366.4"/>
<polyline points="395.1,598.3 391,600.1 386.5,603.2 385.3,607.6 380.8,608.7 379.8,604.8 381.8,601.3 381.6,597.3 384.2,593.3 388.8,592.8 394.1,593.1 397.8,596.8 401.6,599.4 404.1,601.3 409.3,602.5 413.7,604.5 416.8,607.9 418,611.3 420.2,615.6 422.5,619.5 421.4,623 421.9,626.1"/>
<polyline points="1067.5,495.6 1063.9,494.5 1059.7,495 1055,494.2 1051.8,494.5 1046.8,494.9 1042.8,495.1 1039.1,493.3 1035,490.5 1030.6,488.8 1026,487.4 1020.9,488 1016.6,485.8 1011.2,485.5 1007,484.5 1002.1,484.1"/>
<polyline points="696.9,1125.7 694,1122.7 689.4,1121.9 685.4,1120.7 680.9,1121.5 677,1121.2 673.8,1117.2 671.5,1114.8 668.5,1110.6 668.4,1106.5 669,1103.5 667.2,1098.4 667.4,1093.4 666.7,1090 664.4,1086.7 659.9,1084.3 656.4,1081.6 653.3,1077.9 653.2,1074.4 653.4,1070.1"/>
<polyline points="721.6,968 720,972.3 720.1,976 720.4,980.9 721.6,985.1 723.2,988.2 726.4,990 731.6,991.3 734.9,992.4 739.4,995 742.2,997.8 742.8,1002.3 742.5,1006.3 741.3,1009.9 741.1,1013.5 739.1,1017.5 739,1022.7 739.1,1027.1 738.6,1030.3"/>
<polyline points="698.3,1098.8 701.9,1096.5 704.4,1092.9 704.4,1088.9 703,1084 702.6,1079.1 701.7,1075.8 699.5,1073.6 698.3,1068.3 698.1,1063.9 701.3,1061 706.4,1059.1 710.6,1056.6 713.1,1052.3 714.7,1049.6 717.4,1045.7 721.9,1042.9"/>
<polyline points="1121.8,474.8 1119.7,470.9 1116.6,467.5 1114.1,465.6 1111.8,462.6 1109.7,460.4 1106.5,459.2 1103.4,455.4 1102.5,450.6 1100.4,445.7 1100.2,442.5"/>
<polyline points="914.6,802.6 911.6,800.6 910.8,797.1 912.7,793.8 912.2,789.1 909.3,785.5 906.2,784.3 901.3,782.9 898.1,782.8 893.2,781.6 890.3,779.1 886.2,776.7 883.3,774.3 880.4,772.1 877.9,769.8 875,765.6"/>
<polyline points="878.7,673.7 875.9,671.7 872,669 870.6,665 867.6,663.5 865.3,661.2 861.8,659.8 856.6,661.3 852.3,663.1 847.9,663.3 844.7,662.9 840.8,662.3 838,658.6 835.7,654.9 832.8,650.4 831.5,646.5"/>
<polyline points="610.6,639 607.4,639.3 602.3,640 598.8,639.5 594.3,642.1 593.2,645.1 591.7,649 589,653.2 589.9,657.2 591.1,662.3 587.8,666.5 588.7,669.4 591.1,674.1 592.5,677.9"/>
<polyline points="896.3,619.9 898.3,615 898.9,611.9 900.5,607.5 901.8,603.4 903.6,599.3 906.2,596.4 908.9,591.9 910.6,588.3 911.3,584.9 911.4,580.7 909.6,578.2 906.1,575.7 903.2,573.8 902.6,569.2 904,564.4 905.1,559 905.5,555.4 907,552.6 909.1,549.2"/>
<polyline points="1015.7,690.9 1013.7,687.7 1012.2,683.4 1012.7,679.1 1015.9,675.1 1020.1,672.4 1023.7,671.1 1027.9,669.2 1031.2,669.4 1035.5,667.4 1039.8,664.5 1042.7,662.4 1046.7,660 1049.9,657.4 1049.6,652.1 1047.1,647.8 1045,645.6 1042.8,642.3 1038.8,639.4 1035.9,637.3 1033,633.4 1030.8,630.7 1029.7,626.6"/>
<polyline points="721.2,344.9 726.6,344.9 731.3,342.3 735.9,339.4 741.3,338.6 746.1,336.9 749.2,336.8 754,338 758.5,338.9 761.3,336.6 765.5,334.3 769.6,332.5 774,334.1 778.1,336.3 783.2,336.4 785.8,338"/>
<polyline points="453.2,751.9 453.5,756.9 451.7,759.5 452.1,764.3"/>
<polyline points="893,621.1 889.6,623.2 884.8,623.4 880.7,623 877.7,619.7 874.3,618.3 869.8,615.9 867,613.3 864.3,611.2 862.8,608.3 859.6,604.8 859.3,601 861.8,596.4 864.3,592.2 864.8,586.7 863.6,582.7 861.7,577.9 860.4,574.1 858,569.7 857.2,565.4 855.9,561"/>
<polyline points="1029.3,549.7 1027.6,545.9 1025.1,544.1 1023.7,540.6 1023,535.5 1022.7,530.2 1025.1,528.3 1026.9,524 1029.4,519.3 1033.4,518.6 1037.4,518.7 1040.6,518.3 1043.3,516.8 1045.8,519.2 1047.8,523.5 1051.3,524.3 1054.1,526.1 1056.4,528.1 1057.9,531.9"/>
<polyline points="780.3,838.6 781.5,834.1 781.5,830.4 781.3,826.4 779,822.6 779.7,818.5 779,815.6 776,814.6 772.5,811.9 773,807.5 775.5,804 777.4,799.9 779.4,797.7 781.4,794.3 784.3,792.3"/>
<polyline points="1079.1,460.5 1083.3,460.7 1086.7,461.6 1092.1,461.2 1095,459 1093.9,454.5 1091.9,451.5 1090.6,446.9"/>
<polyline points="645.7,334.3 640.8,333.5 637.1,330.6 633.7,327.2 632.2,323.8 629.5,319.5 629.2,316.1 629.7,313 632.2,308.5 635.3,305.3 638.7,302 642.7,298.9 646.7,295.9 650.1,295.3 654.9,293.8 657.7,296.4"/>
<polyline points="566.6,791.6 561.5,793.2 558.9,796 554.8,799.2 553.3,802.4 550.2,806.9 546.3,807.8 543,808.9 538.5,809.3 533.9,809.4 528.8,808"/>
<polyline points="576.1,658.9 577.4,654.3 579.5,650.2 578.4,646.1 575.7,642.1 572.1,640.2 568.5,640.4 564.2,638.9 561.7,635.5 561.3,631.4 560.7,626.2 558.1,623 555,622.6 550.8,622.8 547.3,619.7 543.9,615.4 540.4,613.3 535,612.9 531,615 526,614 523.3,612.3"/>
<polyline points="327,566.8 326.6,572 323.8,574.8 320.8,577.4 318.6,582.1 315.2,585.5"/>
<polyline points="681.3,257.3 681.6,261.4 683.1,266 683.9,270.9 687.5,274.3 688.9,278.3 692.4,279.7 695.3,281 698.5,281 703.8,281.4 708,281.6 711.8,283.4 715.6,284.6 719.3,285.8"/>
<polyline points="377.7,554.7 379.1,551.8 380.3,547.9 381.5,542.9 380.6,539 377.7,535.2 372.8,532.9 368.5,532.5 364.6,532.9 359.4,531.6 354.1,531 349.3,530.1 345,527.1 341.7,526.9 336.3,526.3 332.7,526.2 328.4,524.6 324.7,521 321.1,521.7"/>
<polyline points="345.4,472.1 346.4,477.1 348,481.3 350.1,485.6 351.7,488.7 354.1,492.4 359.4,492.8 363.7,490.4 365.1,486.5 367,483.7 367.5,480.1 366.7,476.9 363,473.5"/>
<polyline points="448.4,501.4 444,502.7 440.6,502.9 436.2,502.8 433.1,506.4 431,510.7 430,514.1 426.6,517.6 424.1,520.3 423.2,524.9 421.7,529.4 420.8,532.9 418.5,535.7 416.5,539.3 414.1,543.2 413.6,546.6 413,552"/>
<polyline points="1294.9,478.3 1296.6,481.1 1297.3,484.7 1298,487.9 1298.6,492.3 1298.4,496.6 1297.8,500.5 1300.4,503.3 1304.2,504.8 1308.4,508 1313.4,509.5 1317.8,510"/>
<polyline points="444.4,467.6 441.6,472 442.3,475.6 441.8,481 441.9,484.7 442.1,487.9 446.3,490.3 449.7,493.9 452.5,495 456.1,498.3 458.7,501.2 460.6,504 465.2,506.7 469.4,507.4 473.5,508.5 476.3,509.8"/>
<polyline points="473.9,442 470.5,441.4 467.3,441.4 464.9,444.9 464.1,449.4 467.1,453.4 468.2,457 469,461.3 471.2,466.1"/>
<polyline points="528.3,377 527.3,372.2 526.4,368 526.2,364.1 529.9,360.7 532.6,356.4 534.3,351.3 536.2,347.1 539.6,343 542.9,340.5 547,339.9 551.1,337.5 555.4,334.3 557.7,330.9 557.4,327.4 554.4,324 553,320.6 553.4,316.9 553.1,312.7"/>
<polyline points="663.5,388.8 665.7,383.9 668.1,380.9 672.1,380 675.5,379 679.2,377 680.2,373.7 678.6,368.7 678.3,364.3 675.5,360.3 672.2,357.6 669.8,354.9 666.8,351.1 661.4,350.8 658.3,352.8 653.4,354 649.9,357.4 650.2,362.5 650.9,365.8 649.5,368.8 648.9,371.7 649.8,375.6 647.6,380.6"/>
<polyline points="830.5,752.4 826.1,750.7 821,749.2 817.3,749 812.6,751.2 809.3,755.1 806.2,759.3 804.7,763.6 801.5,767.7 802.1,772.3 803.3,775.1 805.3,778.9 805.2,783.2 807.1,788.1 808.6,792.8 810.5,796.5"/>
<polyline points="707,1146.1 710.8,1148.6 713.2,1151.1 717.3,1153.4"/>
<polyline points="344.4,622.4 348.1,618.7 351.5,615.3 355.6,612.2 358.5,609 360.5,606.2 364.5,605.6 370,605.6 373.2,604.3 377,603.9 380.8,603 384.2,602 388.3,599.5 391.1,598.2 394.5,595.3 398,593.3 401.4,591.3 406.3,590.7"/>
<polyline points="434.7,557.8 438,561.2 441,563.9 443.2,567.4 442.7,572 444.6,576.2 448.6,577.3 452.8,576.1 457.4,575.6 462.2,574.6 465.9,574.8 471.1,574.8 474.2,574.5 477.9,574 483,574.6 486.6,574.4 488.9,572.4 493.9,571.5 497.1,571 500.1,571.1 504.5,572.6"/>
<polyline points="1128.5,671.2 1129.5,667.3 1131.1,663.2 1130.7,660.1 1127.8,657.1 1127.1,653 1125.3,649.5 1123.8,646.7 1121.8,641.6 1121.7,638 1124.3,634.4 1126.5,629.4 1131,627.2 1135.3,625.4 1138,621.8 1139.1,618.4 1142.7,616.6 1145.9,616.1 1150.3,618.1 1154.8,616.5 1160.1,616.2"/>
<polyline points="1062.3,609.9 1066.8,611.8 1070.5,614.4 1073,618.4 1074,621.9 1072.6,626.6 1072,631.1 1074.6,635.5 1077.7,636.9 1083.1,636.7 1088.2,637 1092.3,634.3"/>
<polyline points="1051.6,531.4 1047.1,530.9 1043,529.7 1038.8,528.4 1036,527 1032.9,524.8 1029.4,522 1028.8,518.8 1027,514.5 1027.4,510.4 1027.5,507.3"/>
<polyline points="1064.2,711.9 1065.4,707.1 1065.7,703.5 1063.8,698.9 1060.7,695.2 1058.9,691.3 1057.8,688.2 1055.6,685.5 1050.7,684.3 1047.2,683.8 1044,681.4 1039.4,678.5"/>
<polyline points="786.8,673.1 783.8,674.5 780,675 776.3,671.7 771.7,669.3 768.5,667.5 766.7,664.2 767.4,660.3 768.7,657 768.5,653.5 767.9,648.1 767,644.8 764.6,640.3 763.7,636.1 762.8,632.3 763.1,628.6 765.9,625"/>
<polyline points="938.4,764.2 933.8,766.7 931.5,770.9 931.1,775.6 929.9,780.2 929.2,785 927.1,788.7 925.6,793.2 924.5,796.5 921.1,799.1"/>
<polyline points="619.2,259.9 623.4,260.3 627.7,258.5 632,259.1 636.3,259.9 639.6,260.2 644.3,258.7 647.2,254.4 647.6,249.1 646.1,245.3 644.4,242.1 641.4,242.6 636.9,244.9 633.7,244.9 629.6,244.2"/>
<polyline points="691.5,511.5 689,509.2 687.2,506.8 684.7,503.9 679.4,503 677.3,500.4 673.5,498 670.8,495.7 666.7,492.7 664.5,487.8 661.7,485.7 657.6,485.2 654.3,485.9 651.3,486.5 648.2,489.1 645.7,493 643.1,496.8 641.9,501.6 640.9,504.8 637.6,506.3 634.1,508.1"/>
<polyline points="638.1,905.6 635.5,903.8 632.4,902.3 629.3,899.2 628.1,896 626.7,892.5 625.6,887.2 624.6,883.9 622.3,879.1 619.2,874.7"/>
<polyline points="552.7,725.8 549.3,723.2 546.9,720.8 545.3,717.1 543.3,714.8 540.2,711.5 537.2,710.3 534,709.5 530.8,709.1 529.1,706.4 527.3,702.3"/>
<polyline points="1168.1,428.5 1164.1,429.6 1160.2,432 1157.6,430.3 1156.1,426 1153.5,422.2 1153.5,418.5 1153.3,415.5"/>
<polyline points="1070.6,467.2 1073,471.5 1074,474.8 1075.1,480 1077.9,483.7 1081.4,486.2 1083,490.8 1085.6,493.2 1087.6,497.3 1088.9,501.5 1089.7,506.5 1091.1,510 1096.1,509.5 1099.3,509.6 1103.8,512.6 1108,513.8 1111.8,514.4 1116.6,515.4"/>
<polyline points="904.3,827.5 901.2,829.8 898.3,831.1 896.9,834.4 894.8,838.2 891.2,841.5 886.9,844.5 882.5,845.1 877.7,847.1 874.3,850.2 871,848.9 868,848.5 864.6,847.7 861.6,846.6 856.6,847.1 854,845.5 851.5,843.3 848.4,840.2 847.5,836.9 844.7,834.1 841,833.2 837.3,830.1 835.7,825.8"/>
<polyline points="881.6,636.7 885.8,635.9 890.1,636.2 895.1,637.9 899.9,638.4 905.2,637.6 909.9,640.2 912.4,642 916.1,642.5 919.7,643.3 922,647.6 924.2,651.6 928.5,654.4 933.5,655.2 938.2,654.3 941,650 942,646.3 945.2,642.8 947.6,639.4 951.1,635.7 953.3,633.1 956.3,633.1 959.9,632.2"/>
<polyline points="853.6,638.8 852.3,643.4 851.4,646.3 851.2,650 850,653.4 848.4,657.3 848.4,660.7 849.7,665.5 850.9,669.7 848.4,673.1 849.2,678 849.8,682.1 851.3,685 852,689.7 852,695.1 850.7,698 846,698.9 842.4,700.4 840,704.8 837.3,708.6 837.1,713.1"/>
<polyline points="781.8,553.8 780.8,549.1 781.4,544.5 780.3,541.3 779,538.2 777.6,534.1 775.7,531.1 772.7,527.4 772.3,522.8 772.3,517.6 772.8,512.6 773.2,508.5 775.5,503.9 780.5,503.2"/>
<polyline points="554.9,492.6 558.1,492.5 562.3,490.3 564.3,486.5 567.5,484.1 571.4,482.7 575.6,481.8 579.9,481.2 583.2,479.8 585.9,478.2 589.2,476.7 592.7,473.1 597.5,470.9 602.7,470.5 606.2,471.7 610.3,473.7 613.5,477.4 616.6,478.9 620.1,481.7 621.8,485.7 622.4,490.7 618.4,492.7 614.2,494.1"/>
<polyline points="617.8,835 614.4,832.7 610.7,835.3 608.2,837.5 604.5,838.4 600.1,840.8 597.2,839.8 592.7,836.9 588.5,836.9 583.6,838 579,835.9 574.5,834.1 569.7,835.8 566,835 562.4,834.6 559.2,836.7 556.2,838"/>
<polyline points="560.1,788.2 558.4,785.2 558.3,781.3 555.9,778.5 551.2,777.6 546.9,776.3 543,775 540.1,775.6 535,775.8 530.4,773.3"/>
<polyline points="1141.3,491.9 1140,489.1 1139.8,484.8 1138.3,481.5 1138.9,476.6 1136.4,472.7 1134.1,470.4 1131.3,467.8 1127.5,466.6 1123.5,464.1 1121.9,459.4 1122.1,455.3 1121.6,450.2 1121.5,446.9 1121,441.6 1120.6,438.2 1120.5,433.8 1120,430.5 1121,427.5 1122.8,422.3"/>
<polyline points="495.9,415.5 495.7,418.8 494.1,421.6 490.5,423.1 487,424.3 483.8,424.8 479.3,424.5 475.8,425.7 470.5,425.7 465.5,424.6 461.2,421.8 459.6,418.6 459.7,415.2 459.6,412.1 458.4,407.3 457.5,402.5"/>
<polyline points="555.9,328.6 553.9,324.5 554.2,321.5 556,317.8 556.6,313.9 556.8,310.5 561.5,307.7 562.1,302.6 558.8,298.2 555.4,297.1 553.1,293.8"/>
<polyline points="934.3,522.8 929.8,522.5 926.3,521.8 921.9,520.2 918.6,519 915.6,515.8 910.8,514.4 906.3,512.9 904.4,510.3 904.4,505.5 907.3,500.8 909.8,497.5 910.5,493.8 912.4,489.3 912.1,485.8 908.6,482.9 905.3,479.9 903.9,476.7 901.2,474.2 899.2,469.5 896.8,466.1 897.4,461.6 897.2,458.4"/>
<polyline points="768.9,310.4 765,311.3 762.2,315.1 757.4,317.4 754.8,322.1 750.2,324.9 746.6,328 743.5,331.1 740,333.7 739.6,338.1 740.6,341.6 742.4,344 742.3,347.1 745.3,350.4 749.7,352.9 753.9,352.5 759.1,351.2 762.4,352.1 766.1,353.1"/>
<polyline points="525.2,495.9 523.5,492.5 523.9,488.2 524.6,482.8 526.8,478.8 528.6,474.7 533,473 534.1,469.4 536.6,467.1 540.4,464.6 543.4,463.4 547.3,459.8 547.8,456.4 551.2,452.3 554.1,449.4"/>
<polyline points="532.1,522.2 530.4,518.6 529.3,515.6 526,514.4 522.2,511.5 519.7,509.6 516.1,508.9 512.9,509.6 507.9,509 504.6,508.3 500.2,505.6 496.7,502.6 495.6,499.3 494.9,495.2 494,490.8 489.4,491 486.3,490.5 483,489.1 479.9,487.8 477.9,483.9 474.8,481"/>
<polyline points="487.7,369.8 483.3,369.5 479,370.4 475.3,369.5 472.3,368.8 467.5,368.6 463.5,369.6 460.2,371.7 456.1,374.6 451.8,375.5 448.4,373.9 444,373.2 439.7,372.5 434.5,372.9 429.8,371 426.3,368.4"/>
<polyline points="600.3,847.2 605.4,845.6 608.6,846.4 609.4,850.7 609.9,854.1 610.9,859.4 607.3,863 605.1,866.8 602.8,869.3 601,872.3 597.1,873.6 593.6,876.1 590.2,876.9 585.4,878.5 581.6,877.5"/>
<polyline points="698,464.6 701.5,462.1 705.9,459.3 708.7,456.9 710.5,452.6 713.2,449.8 713.7,446.2 715,441.1 718.4,437.4 721.2,434.3"/>
<polyline points="601.7,264.1 605.2,265.7 608.8,268.1 613.8,270.2 617.1,272.5 619.4,275.9 620.6,280.3 623.5,283 625.9,287.3 626.5,291.6 627.8,296.5 629.9,301.2"/>
<polyline points="429.8,324.9 434.7,324.1 438,325.9 442.7,327.4 446.1,328.6 451.1,329.2 455.1,329.9 459.8,330.7 463.1,330.3 468,328 471.9,327 476,324.1 479,322.6 482.2,324.2 486.7,323.3 490.1,324 494.3,327.2"/>
<polyline points="603.3,216 607.4,216.5 610.6,216.3 614.8,219.7 614.5,223.9 614.3,228.8 612.7,232.8 610.7,236.5 606.5,239.1 602.4,241 601.9,246.4 601.2,250 599.4,253.9 599.2,257.9 600.2,262.8 601.2,265.7 603.4,268.3"/>
<polyline points="396.9,455.8 395,452.8 394.6,449.4 393.2,445.6 393.6,441.7 398,439 401.8,436.4 405.5,435.8 409.5,432.7 413.4,430.6 417.8,428.5 423,429 425.5,431.3 430.4,433.6"/>
<polyline points="724.2,999.1 729.1,1001.3 731.4,1004.2 730.2,1007.1 729.7,1012.4 728.5,1016.3 728.9,1021.3 728.4,1025.3 725.7,1027.4 723.3,1029.6 719.6,1033.1 716.5,1034.8 712.9,1036.9 712.8,1040.8"/>
<polyline points="659.5,584.9 657.1,581.1 654.5,578.4 652.8,575.1 651.6,571.2 651.7,566.7 652.4,562.3 652.4,559.2 653.3,555.9 656.3,551.4 657,548.2 653.8,545.6 650.8,544.8 646.4,545.2"/>
<polyline points="729.9,456.7 726.7,453 723,449.8 721.4,446.8 719.7,444.1 717.6,441.2 719.7,437.1 720.6,431.8 720.8,428.6 720.8,425 719.8,421.9 719.6,417.2 720.7,412.7 720,409.6 716.8,407.4 714.1,404.9 710.3,403.5 706.3,405 702.7,404.3 700.2,401.9 697,398 696,394.2 696.2,390.7"/>
<polyline points="832.2,459.6 834,463.7 836,466.3 837,469.6 839.6,471.1 843.6,474.4 847.5,477.9 849.2,481.3 851.3,484.4 853.3,487.8 852.4,492.7 849.1,494.5 844.4,496.7 841.1,498.3"/>
<polyline points="642.6,417.9 646,419.8 649,422.7 652.2,423.9 657.1,425.8 659.5,428.7 662.2,430.5 665.8,432.4 668.7,433.9 671.4,438.3 673.7,441.2 675.6,445.8 678.2,449.6 682.5,451.6 686.9,454.6 689.3,456.8 690.3,460.2"/>
<polyline points="701.4,471.4 702.7,466.9 702.9,462.1 701.2,459 703,454.8 703.7,449.7 703.8,446 701.5,442.2 699.4,438 697.7,433.1 698.3,429.1 701.8,425.3 701.9,421.9 703,418.2 706.3,414.7 708.8,412.5"/>
<polyline points="885.1,478.5 881.9,475.1 878.6,471.3 874.4,468.3 869.7,466.5 865.8,464.8 862.8,464.7 858.7,462.5 855.3,461.2 850.2,459.8 846.3,460.9 845,464.6 844.2,469.5 841,470 837.7,471.9 832.6,473.4 828.9,477 825.9,481.2 821.9,484.2"/>
<polyline points="701.5,1123.4 698.1,1126.1 694.4,1128 690.7,1128.4 686.4,1130.1 682.8,1131.1 678.3,1133.4 674.8,1133.3 671.9,1134.8 667.3,1133.5 662.8,1131.6 660.7,1129.2 657.3,1126.1 652.2,1125.1 650.6,1122.4 650.2,1119.2"/>
<polyline points="573,402.6 574,399.5 577.4,397.4 581.3,394.8 584.6,392.3 585.7,387.7 588.5,384.5 591.7,380.2 595.5,376.6 599.9,376.1 604.7,373.7 609.1,372.7 613.7,373 617.8,373.9 620.5,377.2 620,380.2 619.4,384.1 620.1,388.6 620.9,393 618.4,396.2 619.3,400.1 618.7,405"/>
<polyline points="441.4,257.4 439.5,255.1 439.7,251.9 441.7,248.3 444.3,245.7 447.1,243.6 449.2,241.1 452.4,238.3 456.7,236.3 460.3,235.1 464.1,233.5 468.3,230.2 472.3,232 475.9,232.3 480.1,234.6 484.7,237 488.1,237.7 492.1,237.7 495.6,235.7 499.9,235.5 503.4,234.2"/>
<polyline points="509.4,226.8 513.3,225.3 517.1,223 520.4,222 524.6,220.7 529,219.2 531.5,216.8 534.3,213.6 538.4,212.9 543.6,211.1 547,212.2 550.2,211.6 552.9,210.3 557.3,207.5 560.8,204.8"/>
<polyline points="715.5,689.4 713.7,694.1 711.7,697.8 707.4,700.8 703.1,700.6 700.3,705.3 699.3,709.1 698,714.3 698.6,717.8"/>
<polyline points="663.7,950.2 666.4,948.7 669.9,949.6 673.9,952.5 673.6,956.8 675.2,959.4 676.9,964 678.6,969 680.4,972.6 681.1,977.7 680.6,982.7 679.8,986"/>
<polyline points="526.1,377.8 529.4,375.4 529.8,371 532.3,367.8 532.4,364.3 534.9,359.7 537.2,354.9 540.9,352.4 544,350.3 544,345.6 543,342.6 543.1,338.8 546.9,336.6 550.7,333.1 554.5,333.9 557.7,334.2 560.9,332.4 563.2,328.7"/>
<polyline points="927.4,464.6 930.2,468.2 931.1,473.4 930.9,477.6 929.8,480.8 930,484.9 931.5,488.4 930,493.1 927,495.5 924.1,498.5 921.7,501.5 921.4,504.6 923.3,509.1 923.5,512.7 925.6,515.5 928.8,519.6 932,521.5 936.1,524.1 940.3,527.1 945,529.2 949.4,532.1"/>
<polyline points="708.5,759.5 711.4,763.6 713.9,765.2 719.2,765.7 721.6,767.7 723.3,770.2 724.5,773.3 724.7,777.5 725.2,780.9 723.7,785.8 723.3,789.9 726.1,792.6 727.3,797.1 727.2,801.5 725.3,805.8 725.6,809.8 723.9,814.7 721.3,817.5 716.7,817.9 712.8,818.5"/>
<polyline points="561.1,742.8 557.3,745.8 553.8,748.8 551.1,750.6 547.4,750.2 542.8,750.5 539,751.1 534.6,752.2 531.6,753.6 528.5,756.3 524.3,759"/>
<polyline points="607.6,452 604.8,448.4 601.1,444.6 599.8,441.6 597.2,439.9 593.8,439.3 590.8,437 586.6,435.3 581.9,433.5 577.3,430.8 572.4,428.3 569.3,429.2 563.9,429.4 560.2,426.5"/>
<polyline points="743.6,919.1 746,923.5 748.3,926.4 752.8,928.4 757,930.4 760.4,934 759.6,937.7 757.8,941.6 756,946.5 752.9,950.9 748.6,951.3 743.6,950.8 739.6,953 737.7,955.5 732.4,955.8 728.8,954.7 724.9,954.5 720.6,954.2 716.5,952.4 712.6,950.4 708,950.9"/>
<polyline points="735.5,1027.8 739.4,1028.4 743.9,1031.4 747.2,1032.7 750.5,1035.8 751.6,1039.1 754.7,1042.8 753.1,1047 752.3,1050.6 750.8,1054.6 747,1057.2"/>
<polyline points="735.3,812.9 739.3,810.8 742.5,807.1 743.4,803.1 741.7,799 738.9,796.2 734.7,794.7 733.2,791.3 731.2,788.4 727.4,784.5"/>
<polyline points="473.5,722.3 471.5,727.2 472.6,732.5 474.8,734.9 477.7,738.7 478.3,742.4 480.4,746.8 477.8,751.2 476.1,753.8"/>
<polyline points="713.1,706.9 713.4,712.1 712.7,715.5 712,719.5 707.7,721.3 704.9,723.6 704.4,728.6 704.1,731.9 705.3,735.7 704.9,740.2 707.3,744.5 710.9,747.3 715.5,750.2 718.5,748"/>
<polyline points="586.9,708.8 587.8,711.7 589.8,714.3 592.3,718.1 592.5,721.2 591.6,726.6 590.3,731.9 587.4,735.1 585.3,737.7 581.2,740.1 577.8,739.5 574.8,736.9 572.9,731.9"/>
<polyline points="568.7,564.7 567.7,560.5 565.9,556.5 561,555.1 556.9,556.5 553,555.9 550,554.3 546.2,551.8 541.7,550.6 536.7,551.4 534,552.7 531,555"/>
<polyline points="575.6,728.1 579.5,728 582.5,726.6 582.6,723.4 581.9,719 580.6,715.2 577.9,712.3 575.1,708.9 573.3,704.2 572.3,701.1 571.6,696.7 574.9,693.2 574.1,688.4"/>
<polyline points="607.6,595.3 610.8,596.1 612.7,598.8 614.5,602.2 616.9,606.8 620.7,607.3 624.6,609.8 627.5,610.5 630.4,609.3 633.3,608.1 635.6,604.7 637.6,601.2 641.3,597.8 643.4,595.6 644.7,592.7 645.7,588.6 644.6,584.1 642.9,579.2 640.8,576.1 640.6,571.5 643.2,567.4 644,564.4"/>
<polyline points="499.4,734.7 502,732.3 503.3,729 503.5,724.7 505.3,720.7 505.7,717 504.9,712.1 504.6,706.8 505.8,701.6 504.5,697.8 501.1,694.9 496.9,692 493.4,691 488.9,689.4 484.7,688.2 481.8,686 478.5,683.7 476.8,680.9 474.6,677.2 472.3,673.2 469.7,671 468,668.4"/>
<polyline points="1091.4,535.7 1089.2,530.9 1088.8,527.5 1088.3,522.4 1087.9,518.2 1088.3,513.1 1091.1,509.9 1093.5,507.3 1097.3,505 1102.4,503.4 1106.5,502.6 1111.5,501.1"/>
<polyline points="953.5,715.3 954.4,719 954.7,723.5 953.6,728.8 952.9,732.3 955,735.9 952.6,740.1 948.8,743.9 944.7,745.6 940.6,748 936.7,750.5 932.4,753 927.7,755.2 924.3,756.9 920.7,758.6 917.1,760.4 916.4,763.7 917,768 918,772.6 917.7,777.1 917,780.9 914.5,783.4 917.6,786.1"/>
<polyline points="763.8,330.1 761.7,325.8 757.9,322.6 754.9,319.4 751.8,317.9 746.8,317.8 742.5,320 739.4,321.6 737.5,325.6 736.6,329.2 737.1,333.6 738,336.7 742.3,339.2 745.6,343.5 748,346.1 751,348.1"/>
<polyline points="754.9,320.3 751,321.1 747.8,320.7 743.3,319.6 739.2,316.9 736.4,314.6 733,311.8 731.6,306.8 728.5,302.8 727.7,299.8 728.1,294.5 730.4,292.5 734.4,291.1 738.9,289.9"/>
<polyline points="796.9,548.2 801,547.9 806.1,547.8 809.4,545.7 812.3,543.7 817.4,544.3 819.9,546.6 823.1,549.9 827,551 830.2,550.2 833.1,546.8 835.8,542.5 838.8,540.9 842.3,538.8 847.1,538.4 851.2,538.8 856.7,539.4 860.5,541.8 864.1,543.9"/>
<polyline points="442.8,626.3 446.5,628.1 449.8,629.4 453.1,628.2 457.8,629.6 460.8,628.8 464,628.2 468.9,628.9 473.4,629.6 478.1,628.4"/>
<polyline points="838.2,476.7 835.3,475.5 830.9,474.5 826.6,475.1 822,473.4 817.1,472.7 811.8,472.7 808.1,475 805.4,477.7 804.5,482.1 803.8,487.3 803.3,490.4 801.6,493.5 799,496.7 797,500.9 794.3,503.7 792.6,506.5 790.4,509.9 789.4,514.5 787.3,518.6 784.5,523.3 781.2,526"/>
<polyline points="656.5,647.7 660.4,648.3 662.8,645.7 667,643.6 670.7,642.3 673.7,643.4 677.7,644.5 681.2,646.9 684.3,646.9 687.6,648 690.7,648.3 693.4,652.6 695.1,655.4 698.1,659.2 700.2,663.3 702.8,666.7 703.2,670"/>
<polyline points="728.3,478.4 725.3,479.6 723.4,482.2 722.2,486.9 723.4,490.1 726.1,491.8 730.4,493.4 734.1,495.8 736.2,498.2 740.3,498.3 744.2,498.6 747.8,498.1 749.7,500.5 754,503.9 755.9,506.8"/>
<polyline points="721.5,732.7 722.8,729.2 723.7,724.5 726,721.5 726.4,718.5 725.4,715.6 724,712 721.2,708.1 721.4,705 725.1,703.5"/>
<polyline points="752,562.3 754.7,558.3 758.8,555.8 761.2,552.1 764.3,547.9 767.9,546.5 770.6,542.5 772.6,539.9 775.2,535.9 778.4,534.8 782.7,535.3 786.5,535.5 790.8,535.9 794.9,536.2 799.8,537.3 802.7,536.1 806.9,534.4 810,532.1 811.6,528"/>
<polyline points="557.1,473.5 561,473.2 564.1,472.3 567.1,471.2 570.5,471.5 575.2,472 578.5,475.4 582.9,478 584.8,480.5 585.6,485.7 585.7,489.1 589,491.5 592.1,493.6 593.5,497.8 595.2,500.5"/>
<polyline points="635.1,693.7 631.9,697.1 627.4,697.7 623.8,696.5 618.7,696.2 615.1,694.7 611,692.5 606.2,693 602.4,694.3 598,693.4 594.4,692.5 590.9,693.1 587.9,694.5"/>
<polyline points="872.7,552.1 870,548.9 867.3,545.6 864,543.4 861.1,542 856,541.1 853,540.4 848.8,538.6 844.1,537.2 840.5,540.8"/>
<polyline points="1116.2,599.1 1114.8,596.3 1115.2,592.6 1114.1,588.5 1115.3,583.1 1115.8,578 1113.1,575.1 1112.1,571.6 1110,568.7 1107.5,564.6 1105.3,562.3 1100.9,561.4 1097.7,561.6 1094.2,561.7 1091.7,564.4 1091.3,568 1088.8,572.5 1085.4,573.8 1083.4,577.2 1082.8,580.7 1079,582.1 1076,584"/>
<polyline points="1298.3,472.5 1295,476.1 1290.6,479.3 1291.1,483.7 1293.7,486.6 1297.2,487.9 1300.9,487.5 1304.7,486.6 1308.8,486.2 1313.3,485.1 1317,481.5 1314.6,476.8 1311,473.1 1308.2,469.2 1307.6,465.4 1308.2,460.9"/>
<polyline points="1041.5,535.2 1044.8,531.8 1048.5,529.2 1052.1,526.8 1056,524.3 1060.6,522.7 1063.4,518.6 1065.2,515.9 1068.1,513.6 1069.6,509.4 1073,505.6 1075.7,503.5 1077.2,500.7 1078.1,497.7"/>
<polyline points="536.1,539 537.4,542.8 537.4,546.4 541.1,550 542.8,553 546.1,554 549.6,556.8 552.5,558.9 555.8,562"/>
<polyline points="601.9,499 605.5,499.4 610.9,499.4 615.6,498.6 619,498.9 623.6,500.6 628.2,500.8 631.3,499.4 634.9,500.6 638,504.6 640.5,508.5 642.8,510.9"/>
<polyline points="1199,519.3 1194.2,519.1 1191,518.7 1185.6,519.1 1182.6,519.9 1179.5,518.2 1177.8,513.2 1176.1,510.3 1174.6,506.7 1173.9,503.6 1168.8,502.3 1165.3,505.4"/>
<polyline points="606.8,761.8 602.2,759.9 599.2,758.2 595.4,757.5 591.5,756.8 589.2,752.4 587.5,749.4 587.7,744.9 591.2,741.9 593.7,738 594.1,733.4 594.4,730 595.3,726.2 597.4,723.2 599.1,720 602.2,716.1 605.2,712.5 605.7,709 601.7,705.7"/>
<polyline points="393.7,603.8 391.6,600.4 391.3,595.5 393.3,590.5 393.1,585.1 395,582.7 396.1,578.9 396,575.6 395.1,570.5 393,565.3 389.3,562.7 386.1,561.3"/>
<polyline points="427.6,318 424.2,321.3 419.4,322.7 415.8,324.1 412.1,327.4 411.6,332 411,337.4 411.5,341.8 413.2,346.8 416.4,350.1 419.2,352.5 423.6,354.2 427.8,356.3 429.7,359.8 431.4,363.6"/>
<polyline points="1060,703.2 1056.5,703.8 1052.1,704.3 1049,706.3 1046.1,707.8 1044,711.1 1039.6,712.7 1034.6,713.1 1031.1,710 1030.4,705.3 1027.2,702.2 1024.5,700.5 1022.3,697.3 1018.7,694.2"/>
<polyline points="697.8,637.6 695,639.2 691.9,641.1 687.6,644 685.5,647.7 681.5,651.4 679.3,655.5 674.7,657.9"/>
<polyline points="1292.5,490.9 1293.5,485.8 1295.9,481.8 1294.9,478 1293.2,475.3 1289.9,472.3 1286.7,468.1 1285.4,464.1 1281.7,461.5 1279.4,458 1275.2,454.6 1270.9,455 1267.7,453.1 1263.1,450.5 1259.8,449 1258.7,445.7 1259.5,441.1 1262.7,437.5 1267.2,435.5 1271.2,434.7 1274.7,438.3 1278.1,439.6"/>
<polyline points="918.3,464.4 916.9,468.3 917,472.6 914.7,476.6 914.2,480.6 916.2,484.6 916.7,489 916.4,492.9 915.6,496 916.9,501.3 919.2,505.6"/>
<polyline points="733.7,773.3 734.9,778.5 735.3,783.8 734.7,787.2 737.4,791.9 739.8,794.6 744.2,796.4 748.5,797.4 752.4,796.5 757.2,794.6 760.4,792.9 764.1,790.1 768.2,789.8 771.8,791 776.9,792.1"/>
<polyline points="487.6,534.8 482.5,533.5 478,535.6 475.4,537.2 470.4,539 467.9,543.2 467,546.9 468.5,551.2 473.5,552.9 478.1,555 482.3,556.5 487.3,554.8"/>
<polyline points="1001.4,511.8 998,513.2 992.5,512.9 989.8,510.1 987.2,507.6 982.8,504.5 979.4,504.7 977.4,507.5 975.7,510.1 971.6,513.5 967,512.7 963.8,508.5 959.6,507.3 955.3,504.8 951.7,503.8 948.2,504 943.4,502.8"/>
<polyline points="527.6,349.1 524.6,348.2 521.6,346.7 519.5,344 518.2,339.9 514.9,337 511.9,333.5 510.8,330.2 510.3,327 509.7,322.8 509.3,317.5 510.8,312.8 514.7,310.1 518.4,307.7 521.8,305.5 526,304.2"/>
<polyline points="916.8,756.1 920.4,759.1 923.9,758 923.1,754.7 920.7,751.4 920,746.7 918.1,742.3 916.4,737.9 916.5,733.3 919.4,729.9 918.8,726.1 914.7,723.7 912.6,720.7"/>
<polyline points="588.1,815.5 588.9,820.7 590.5,823.3 593.6,824.6 598.4,824.9 601.4,828.3 603.9,833.1 604.5,836.7 606.2,840.2 609.6,842.7 613.3,846.1 615,848.9 616.2,853.9 618.4,858.2 621.6,861.5 621,865.5 619.2,869.8 620.2,874.1 624,874.2 627.2,875.5 631.4,877.7"/>
<polyline points="593.2,345.7 590.3,343.3 588.4,339.1 584.8,337.6 581.8,336.4 578.1,337.4 575.1,339.8 571.8,343 571.8,346.6 570.1,350.1 568.9,354.7"/>
<polyline points="1125,572.5 1125.1,577.4 1124.8,582.5 1124.2,587.4 1122.9,592.4 1123.3,597.7 1121.8,601.8 1121.8,606 1124.7,609.1 1128.4,612.6 1132.8,615.3 1137.3,616.5 1142.6,616.7 1147.2,613.7 1148.9,610.4 1151,605.5 1154,604.3 1157.9,603.9"/>
<polyline points="571.9,524.2 568.8,523.3 564.2,522.6 560.3,521.3 556,519.1 553.8,516.1 549.4,512.9 544.4,510.7 540.2,508.8 536.1,508.7 531.9,509.6 526.9,511.3"/>
<polyline points="1261.1,447.2 1257.3,444.1 1253.8,442.3 1250.7,439.4 1248.3,435 1248.5,430.2 1251.9,427.7 1255.7,428.9 1259.3,430.2 1264.6,429.7 1269.8,429.6"/>
<polyline points="685,922.6 680.7,922.9 677.5,923.4 673.3,924.8 668.3,926.7 664.4,929.3 662.7,932.2 661.3,936.7 662.5,940.9 659.9,944.4 657.4,948.2 657.3,953.5 660.2,955.3"/>
<polyline points="693.6,620.8 690.2,618.7 685.8,616.3 683.1,612.3 681.6,608.1 682.4,604.3 686.1,602.7 691.4,602.1 696.3,602.5 700,603.1 705.3,604.6 708.3,608.4"/>
<polyline points="674.6,251.8 670,248.8 668,246.3 664.2,244.4 661.4,242.5 657.6,244.4 654,243.2 649.4,240.7 647.4,237.8 645.1,234.6 643.3,230.9 641.1,228.4 638,227.1 632.9,225.4 629.6,225.4 626.1,227.2 624.1,229.7 624.6,234.6 627,238.5 626.5,241.9 627.1,246.3"/>
<polyline points="469.1,745.5 465.9,741.6 461.5,741.5 456.4,740 453.3,738.2 449.9,734.8 449.1,730.8 449.1,727.1 447.7,723.4 448.6,719.3 448.8,715.7 446.7,711.6"/>
<polyline points="484.9,401.8 487.1,398.4 486.4,394.9 484,392.4 481.7,390.5 476.9,388.8 473.8,387.9 469.4,385.2 468,380.7 467.6,376.6 468.2,371.7 471.6,369.1 476.7,368.9 481.2,368.5 486.4,369.1 490.7,372.4 492.6,376.3 492.1,380.9"/>
<polyline points="729.9,1058.4 727.7,1062.3 723.5,1065.6 721.1,1068.4 718.5,1070.9 715,1072.1 711.3,1073.4 706.8,1072.3 703.5,1071.4 700.8,1070.1 699.3,1067.4 696.9,1062.9 694.7,1059.8"/>
<polyline points="868.7,680.4 873,680.1 876.8,679.9 880.5,678.6 885.7,677.1 890.4,676.7 894.6,675.8 896.5,672.7 899,668.1 901.5,666 904.1,663.9 907.3,664.4"/>
<polyline points="636.6,329.3 641.1,327.2 645,328.6 648.9,327 651.8,324.2 653.5,321.5 657.9,320.7 662.2,322.9 665.5,324.6 670.5,324.7 673.2,322.6 674.9,319.8 675.9,314.9 677.8,312.1 680.5,310.4 685.2,309.2 688.5,308.8"/>
<polyline points="598.7,862.6 596.3,865.4 591.8,864.8 588.4,861.5 585.6,860 581.6,860.2 579.9,857.1 577.6,854.4 572.4,853.6 568.9,854.1 565.6,854.7"/>
<polyline points="550.1,678.4 551.6,673.3 552.3,669.8 552.6,665.6 551.6,660.7 547.4,659.1 544.5,660.5 541.1,662.2 537.2,663.7 533.2,662.5 530.6,657.9 526.7,656.5 522.5,654.9 519.1,652.3 514.9,651.4 511.7,651.5 507.6,654.7 504.7,657 503,660.7"/>
<polyline points="734.7,942.5 738.6,940.3 741.6,939.4 744.2,937 746.5,933.6 748.8,928.8 747.3,925 746,919.9 748.4,915.3 749.7,910.1 751,906.9 753.8,905.5 758.6,904.6 763.6,904.8"/>
<polyline points="970.8,574.3 975.8,572.7 979.6,570.3 983.3,569.5 988.1,568.1 992.6,566.3 996.7,565.7 1001.5,565.7 1006.3,566.4 1010.2,568.7 1015.1,571.1 1018.3,571.8 1023.5,572.4 1027.6,573.7 1031.6,575.6 1035.9,578.1 1040.2,577.1 1044.2,578.1 1046.6,581.2 1050.4,585.2 1053.3,586.8"/>
<polyline points="704.1,1068.8 707.8,1071.1 711.3,1074.8 714.1,1076 717.1,1075.5 720.8,1076.2 725.3,1074.2 729.4,1071.2 733.3,1069.2"/>
<polyline points="1025.2,485.6 1026.7,488.8 1028.9,492 1030.8,495.9 1030,498.9 1029.8,504.2 1032,508.1 1034.4,512.6 1035.5,515.6 1036.8,519.2 1038,523.4"/>
<polyline points="1197.8,518.5 1199,513.7 1202.7,513.4 1205.8,512.2 1210.1,511.7 1214,510.8 1219.2,509.5 1222.3,509.4"/>
<polyline points="600.5,564.2 604.1,564.9 608.1,564.2 611.7,561.6 615.3,558.5 619.5,558.1 624.6,558.7 627.5,557.3 631.8,558.7 636.2,560.9 638.9,562.7 642.5,564.1 646.3,564.8 651.3,563.4 654.8,563.1 657.8,562.9 662.3,563.6"/>
<polyline points="577.2,432.5 581.2,434.7 585.8,432.9 589.8,433.6 594.7,434.8 597.1,436.8 601.6,439.2 606,437.8 609.2,438.4 612.6,438.8 615.4,439.9 619.9,442.8 623.6,445.3 625.1,448.2 624,451.2 622.9,456 621.4,458.9 619,463.4 615.6,464.2 611.2,462.6 606.9,460.5 601.6,459.9"/>
<polyline points="538.3,288 534.5,290.7 530.6,292.4 527.2,293.8 524.2,293.2 521.2,290.9 516.5,288.7 513.1,288 508.4,290.2 506.3,293.6 505.4,296.8 504.1,299.8 502.1,304.1 500.4,307.6 500,311.4 498.2,315.8 493.6,318.8 490.5,319.7 488.7,322.4 485.7,324.7 483.3,327 480,327.1 474.9,327.8"/>
<polyline points="1188.2,487.5 1184.8,488.5 1182.2,490.4 1181.8,494.1 1181.8,498.2 1182.7,502.6 1184.7,505.4 1185.4,509.3 1186.4,513.6 1187.8,518.7 1190.2,523.4 1193.2,527.4 1196.9,529.4 1201.8,531.5 1205.2,534.4 1206.8,539.6 1205.6,543.9"/>
<polyline points="747.9,714.6 744.4,713.6 742.8,709.8 739.1,706.1 737.6,703.2 733.7,700.7 731.4,698.2 731.3,694.3 730.7,691 729.7,685.9 727.4,681.1 726.1,676.7 730.2,673.7 733.5,670.3 735.9,666.9 737.7,663.6 738.9,658.2 739.3,654.7"/>
<polyline points="685.5,1093.3 682.3,1089.9 683.5,1085.3 681.2,1083 677,1081.5 673.5,1079.9 670.6,1078.4 668.7,1075.9 667.5,1072.2 669.1,1068.1 671,1065.5 672.3,1062.4 671.7,1058.2 670.1,1053.9 670.7,1048.6 672.8,1046.3 674,1041"/>
<polyline points="1075.2,562.3 1074.6,557.9 1074.7,554.7 1078.7,552.9 1081.3,550 1085.1,547.7 1089,548.1 1091.7,549.7 1096.3,552.2 1100.2,550.2 1102.8,548.4 1106.2,547.2 1111.2,546.7 1115,546.5 1119.6,545.2"/>
<polyline points="399.2,245.8 404.1,244.5 408.4,244.2 411.4,245 414.8,245.9 419.6,244.1 422.7,244.8 425.7,245.4 428.5,249.6 428.8,252.8 428.2,256.6 428.3,259.8 425.9,262.4 424.3,264.9 421.7,269 417,271.4 412,272.2"/>
<polyline points="1195.5,657.9 1193.8,655.3 1191.4,653.4 1188.1,650.5 1184.6,647.7 1180.7,645.6 1179.9,642.7 1179.8,638.9 1179.9,635.5 1181.5,632.2 1181.7,626.7 1181.9,622.7 1183.6,619 1183.5,615.8"/>
<polyline points="358.6,566.9 355.6,567.3 350.6,569.1 347.8,573.7 345.6,578.7 342.5,582.4 341.2,587.1 341.5,591.6"/>
<polyline points="819.9,434.7 818.2,429.7 817.5,426 818.7,420.9 819,417.6 818.3,413 817.6,409.7 816.2,406.9"/>
<polyline points="451.6,606 455.8,604.1 459.7,604.8 463.8,603.2 468,601 472.8,600.1 476.4,599.4 481.5,598.6 484.5,597.4 488.6,598.2 493.7,598.3 496.7,599.1 499.8,600.2 505,600.2 508.1,601.1 512.3,602.9 515.6,605"/>
<polyline points="882,717.6 884.3,721.4 886.5,724.3 889.2,727.7 890.4,730.5 893.4,731.6 897.8,733.9 901,735.5 904,735.1 907.7,738 910.8,742.5 914.3,744.3 918.5,744.9 923.7,744.2 925.6,741.2 929.3,737.6 931.1,734.2 931.5,730.9 929.2,727.6 927.9,724.8 926.1,719.9"/>
<polyline points="803.6,755.7 803.6,758.7 804.9,763.1 805.6,768.1 805.9,772.2 805.4,775.7 802.9,779.8 801.1,782.3 802.1,786.4 805.9,788.7"/>
<polyline points="429.9,319.7 428.6,316.8 427.9,311.7 430,307.7 430,303.3 427.6,298.8 427.9,294.4 428.3,289.1 429.6,286.3 430.8,282.5 431.5,279.3 427.9,275.9 425.1,273.7 422.8,269.5 417.9,268.2"/>
<polyline points="385.4,544.4 385,540.4 386.1,536.7 385.7,532.6 386.5,527.6 387,522.2 385.3,519.6 383,514.7 381.8,512 381.7,508.7 379.4,504.4 379,500.4"/>
<polyline points="729.5,390.8 731.5,387.8 734.1,383.7 736.4,379.8 741.4,379.2 744.8,380.1 748.1,381.2 753.2,379.3 754.8,376.1 757.9,372.7 762.8,370.7 763.8,366.2 764.5,362.5 762.7,358.2 760.2,354.3 758,351.2"/>
<polyline points="606.8,860.3 609.9,858.8 613.7,860.2 618.3,860.4 622,861.5 623.9,864 627,867 626.6,870.3 625.6,874.7 624.7,879.2 621.8,882.6 620.2,887.1 617.7,891.2 617.6,895.1 617,898.3 616.6,903.3 614.7,906.9 613.9,910.3 615.2,914.3 615.5,917.4 616.5,920.9 619.5,925.2"/>
<polyline points="924.1,518 923.4,512.9 923.2,509.2 922,505.8 924.1,503.1 926.6,500 929.6,498.8 933.2,496.4 937.4,494.8 939,491.5 937.6,486.9 934.2,486.5 929,486.3 924.4,484.7 920.9,482.2 917.4,479.2 916.3,474.5 915.6,469.5 916.6,466.2 917,462.8"/>
<polyline points="563.4,184.6 561.2,187.6 560.5,191.1 557,193.5 555.1,196.5 552.8,200.7 551.4,203.9 549.4,206.3 551.4,210.6 553,215.8 551,219.5 549.4,224.5 549.7,228.7 550.3,233.5 551.6,236.4 554.7,240.1 556.6,242.6 557.3,246.2 558,249.3 559.7,254.1 558.6,259 555.6,262.8"/>
<polyline points="782.5,653.7 779,649.6 775.2,649.2 770.7,648.3 765.9,650.4 762,651.3 757.5,652.9 753.9,655.4 749.1,657.8 745.6,660.7 742.6,662.3 740.1,666.7 737.7,670 734,671.3 730,674.3 725.1,675.9 721.6,676.9 718.7,678 715.6,678.4 710.3,679.3 704.9,679.3 701,676.1 695.8,675"/>
<polyline points="628.2,388.2 631,383.5 630.3,380 629,376.1 625,374 621,375.4 617.7,376.1 614.3,380.3 611.7,384.2 611.8,388 608.7,389.8 606.6,393.8 603.2,396.5 598.1,397.1 594.7,393.9 590.4,391.2 587.8,388.3"/>
<polyline points="1190.2,549.3 1192.4,553.2 1188.4,555.9 1183.9,556.8 1183.6,559.8 1182.7,563.8 1180.6,568.7 1182.7,573 1184.7,576.3 1187,580.1 1189.7,582.8 1189.8,586.1"/>
<polyline points="567.3,652 564.3,649 560.4,647.4 555.3,648.2 552.1,648.4 549,648.1 544.4,649 539.7,648.8 535,647.3 531.9,646.4 529.3,644.2 525,643.3 522.2,641.7 517.8,643.6 514,646.7 511.9,649.1 511.5,652.2 509.3,656.6 507.3,660.4 502.5,662.1 497.2,663.4 492,665.1 488.3,665"/>
<polyline points="381.6,398 379,402.8 378,405.7 375.2,409 373.2,412.6 370.5,415.8 367.2,419.8 363.3,422.7 361.1,427.6 360.4,432.3 362.9,435.1 365.5,439.5 367.6,444.4 367.4,449.9 368.2,453.3 367.5,457.2"/>
<polyline points="524.2,248 524.3,252.1 524.7,255.3 524.5,259.7 526.2,264.5 526,267.9 526.4,271.9 528.7,276.8 530.6,281.2 529.2,284.4 527.6,287.4"/>
<polyline points="1175,472.2 1172.8,474.5 1171.4,479.3 1167.9,483.1 1166.9,487.7 1167.1,491.7 1169.1,495.4 1168.7,498.4 1167.7,501.9 1165.3,506.6 1163.4,510.1 1161,514.4 1160.1,518"/>
<polyline points="742.9,455.4 742.1,452.1 742.6,447.8 747.1,444.7 749.7,440.2 748.8,436.2 747.8,432.5 746.8,428.8 746,423.5"/>
<polyline points="759.5,848.8 764.4,847.8 769.4,846.3 771,842.3 774.3,841.3 778.1,839.8 780.5,842.9 783.4,845.1 788,847.8 791.1,847.7 795.2,847 800.3,847.2 804.3,845.3 808.4,843.4 810.3,838.8 809.3,834.9 807.2,830.3 803.5,826.3 802.5,821.9"/>
<polyline points="1005.6,454.4 1006.7,457.3 1005.2,461 1004.8,465.3 1005.1,470.6 1002.6,473.9 1001,476.5 997.1,480.2 993.9,481.6 990.6,482.6 987.3,481.9 983,482 980.3,480.4 975.8,483.6 974.6,487.2"/>
<polyline points="769.3,871.4 771.3,875.5 772.1,878.5 775,880.7 778.4,884 781.3,885.2 785.2,883.9 788.7,885.3 792,886.2 794.7,887.7 798.8,887.8 802.9,888"/>
<polyline points="429.6,598.3 432.8,597.9 435.1,595.9 439.1,592.4 442.5,590.8 446.2,589.6 451.2,590.3 456.2,591.7 460.2,590.5 465.2,590.4 467.4,586.2 468.5,583.1 471,580.9 472.5,578.1"/>
<polyline points="1304.6,479.2 1302,483.8 1299,488.3 1294.6,489.3 1289.3,490 1284.9,489.1 1280,490.5 1275,491 1271.6,489.7 1267,487 1264,485.5 1260.1,482.5 1256.8,478.9 1254.6,474.9 1253.1,471.1 1250.6,467.6 1248.9,462.8 1245.2,460.5 1242,456.8 1239.7,453.9 1236.7,451.1 1236.7,447.1"/>
<polyline points="575.2,182.6 579.8,181 585.1,181.6 590.3,181 593.9,178 597.7,176.4 601,175.3 603.6,173.8"/>
<polyline points="795.2,627.3 793.5,631.9 792.8,636.3 793,639.9 792.9,643.1 793.6,647.1 797.2,650.8 797.5,654.1 797.9,659.3 796.5,662.9 798.4,666.3 800.8,671 802.3,675.3 804.8,679.9 808.4,680"/>
<polyline points="689.3,323.1 685.9,320.2 684.6,316.1 683.1,313 685.5,309.7 686.6,305.7 688.5,302.8 691.9,304.2 694.7,306.8 698.8,308.2 703.8,307.1 707.7,306"/>
<polyline points="791.6,388.5 791.9,392.6 793.1,395.6 795,399.2 795.7,403.1 793.9,408 791.2,412 788.3,414.9 786.6,419.8 784.3,422.1 781.5,423.3 778.4,422.7 774.3,423.4 771.7,425 771,430.2 771,434.6 767.4,438.2 762.4,438.3 757.4,438.4 753.5,440.1 752.8,444.4 753.6,448"/>
<polyline points="832.1,845 833.9,848.8 837.5,852 839.6,854.8 841.2,857.9 842,861.6 844,866.2 848.4,868.6 848.7,872.6 851.9,876.9 852.7,879.9"/>
</g>
<g fill="none" stroke="#000" stroke-width="1.3">
<polyline points="343,439 343.3,437 345,434.2 345,431.2 346.9,428.7 347.5,425 349.3,423.3 351.3,423 353.8,421.2 357.2,419.6 360,418.8 359.3,416 356.4,414.9 356.3,412 353.8,410 354.8,407.9 355.1,404.4 356.1,403.1 356.2,400 358.3,399.3 361.8,399.4 363.8,399.2 365.6,396.3 364.8,393.1 366.2,391.2 369.3,389.6 371.2,386.2 370.5,383.6 370,380 372.5,378.3 373.5,375.2 375,373.8 374.8,371.1 376.2,367.5 379.4,365.4 381.2,362.5 382.2,360.1 384.5,357.3 386.2,355 387.5,352.2 387.7,349.8 387.5,347.5 388.8,345.5 389.9,342.4 391.7,340.3 392.4,338.8 393.8,336.2 396.4,334.7 397.7,332.2 400,331.2 401.5,328.9 402.9,326.4 403.3,323.8 405,322.5 406.2,319.6 408.4,318.5 409.2,316.1 410,313.8 411.9,311.9 412.2,307.7 413.8,305 415.1,302.4 417.5,300 417,297.9 415.7,295 415.5,292.5 413.6,294.4 412.1,296.4 410,298.8 406.6,299.8 405,302.5 402.5,303 399.4,303.1 397.9,304.7 395.4,303.6 392.5,304.5 390.4,303 388.8,300 385.8,297.1 385,294.5 382.6,293.5 380,292 377.4,293.3 375,296.2 372.5,298 370.8,298.8 369.9,296.5 367.5,295 364.9,294.9 362.1,295.2 360,296.2 356.2,293.8 358,291.9 359.5,290 359.4,287.8 360.5,284.7 360,282.8 360,280 362,278.1 366.2,277.5 368.3,276.7 371.1,275.2 372.5,273.8 374.8,272.4 377.8,271.8 380,271.2 382.4,270.9 383.7,269.1 386.2,267.5 388.5,265.2 392,263.8 389.3,263.8 386.2,263 382.8,264.2 380,265.5 377.2,264.3 375,263.8 375,260 376.7,258.7 378,256.2 377.2,253.9 376.2,251.2 378.8,248 381.4,247.7 384.4,246.5 387.5,246.2 390.1,245 392.5,243.5 395,241.2 397.9,240.4 399.5,238.5 402.5,237.5 405,237.1 407.5,235.2 410,234.7 412.5,233.8 415.7,233.2 417.9,232.2 419.5,231 422.5,229.5 424.3,227.6 427.5,225 430,221.2 434.2,219.9 436.2,218 439.7,217.5 442.5,215.5 444.3,217.8 444.5,221.2 447,222.5 450,223.8 450.5,226.9 451.7,229 453,231.2 457.5,230 459.2,228 462.4,226.5 463.8,225 464.6,222.6 464.9,220.4 466.2,217.5 468.1,216.3 469.4,212.7 471.2,211.1 472.5,208.8 474.9,207.7 476.1,205.6 478.6,203.7 480,201.2 482,200.1 483.4,197.3 486,195.8 487.5,193.8 489.6,192.8 492.5,191.2 495.6,189.2 497.5,186.2 499.9,183.8 503.5,183.6 504.7,182 507.5,180 510.1,178.6 512.1,177.4 514.7,176.5 517.7,176.8 520,175.8 522.9,176 524.5,175.8 526.9,175.6 530.3,175.6 532,175.4 535,175 538,174.9 539.9,175 542.1,174.6 545.3,174.3 547.3,174.4 550,174.2 552.6,173.7 554.6,174.5 557.1,173.5 560,173.8 563.1,174.6 564.4,174.2 567.2,173.8 570,175 573.1,173.5 575.1,172.2 577.5,170.5 580.7,169.6 582.2,168.5 584.4,166.8 587.5,166.2 590,166.7 592.2,168.7 595,168.8 598.3,168.3 600.3,168.6 603.8,168.8 605.8,169.6 608.7,171.4 611.2,172.5 612.8,175.8 613,178.2 613.8,181.2 615.1,183.4 617.1,185.2 619,186.9 621.2,187.5 621.5,189.7 619.2,192.8 619.5,195 619.4,198 620.7,199.6 621.2,202.5 623,205.2 623.8,208.8 625,208"/>
<polyline points="625,208 628.1,208.1 629.5,208.1 632.5,209.5 633.2,212.6 634.9,213.7 635,217 638.2,216.5 639.2,215.1 642.8,214.6 644.4,214.3 647.5,213.8 649.1,216.6 650,220 652.1,221.5 655.4,223.4 657.5,225 660.1,225.8 662.4,226.9 664.4,227.6 668.3,228.1 670,229.5 672,229.8 675.1,230.3 677.4,230.9 680.4,230.7 682.4,229.7 685,230.5 687.3,228.8 690.2,227.9 693.4,228.7 696.2,227 699.6,227.9 701.3,230.7 703.8,231.2 707.9,231.9 710,233.8 708.5,235.9 708.4,238.8 706.7,240.3 705.5,242.5 707.6,243.5 709.7,244.9 712.5,246.2 710.3,249.4 708.8,252 710.7,252.6 713.6,254.6 715,256.2 717.5,258 718,260.4 720.5,261.8 721.2,263.8 723.4,266.3 726.1,266.6 728,269.5 730.3,270 732.5,272 734.7,271 737.6,270.9 739.9,271.1 742.5,271.2 744.7,271 747.8,270.2 749.7,270.8 752.5,270.8 753.5,272.8 755.7,275.6 757.5,277.5 760.9,277 762.5,276.3 766.2,275.2 769.2,274.6 771.2,273.8 773.4,275.8 775.9,277.2 778,278.8 777.7,281 777.5,284 778.1,285.9 778.8,288.8 779.8,290.5 781.3,292.8 783.8,294.5 786.5,295 790,295 792.8,296.6 795.1,298.4 797.5,299.5 796.2,301.7 797.1,305.2 795.4,307.2 795,310 794.9,313.3 796.2,315.4 797,317.5 798,320.5 797,322.8 797.5,325 799.8,326.3 802.4,326.6 804.5,327.5 802,327.3 798,328 795,328.8 793.1,331.2 792,333.8 790,336.2 791.6,338.2 792.2,340.8 793.2,343.7 795,345 797.1,347.1 798.6,348.6 801.3,349.9 803.5,352.4 805,355 807,355.2 809.4,356.4 812,357.5 812.1,359.4 813.5,362.3 813.6,364.4 814.8,367.7 814.2,370 812.7,372.4 812.4,375.4 813,377.6 811.8,380 810.5,382.5 813.5,383.8 815.5,385 817.5,387.5 818.9,391 817.8,393.9 818.8,396.2 815.7,396.7 813.1,398 810,398.8 812.5,399.8 814.3,401.9 816.2,402.5 818.1,404.9 820.2,405.4 823,406.7 825,408.8 827.5,410.9 829.3,411.8 833.1,412.7 835,414.5 835.8,412.1 837.5,410.3 840,408.8 842.7,409.1 845.6,407.2 847.8,407.1 851.2,406.2 852.7,407.6 855.3,408.2 857.3,410.1 860,411.2 862.6,411.9 864.7,412.1 867.5,412.5 868.3,415.5 869.3,417.9 870,420 873.4,420.3 875.9,420.2 878.8,421.2 878.6,418.6 878.8,416.1 880,413 882.2,412 885,413 886.4,414.9 887.9,416.1 889.7,418.6 892,418.9 893.8,421.2 894.1,423.6 895.4,426.4 895.1,429.1 895.8,430.9 895.1,434 896.8,436.6 896.2,439"/>
<polyline points="975,453.8 978.1,454.2 980.3,452.6 982.5,452.5 983.5,450.6 984.8,447.4 986.2,445 988,443.4 991.2,443.8 993.8,442.5 992.4,439.4 992.6,436.4 993.3,434.1 992.5,431.2 994.6,430.5 997.2,429.2 1000.3,428.4 1002.5,428 1005.2,429.1 1007.4,428.6 1009.8,428.4 1011.9,428.3 1015,428.8 1017.6,428.5 1021.2,428.6 1023.3,426.8 1025.7,427.7 1028.8,426.2 1030.5,428.8 1031.2,432.5 1032.9,434.7 1034.1,437.3 1036.2,440 1039.3,437.7 1041.2,435 1043.4,434.2 1045.5,433.7 1048.5,432.3 1050.5,431.3 1052.9,430.2 1055,430 1057.5,430.6 1060.1,432.1 1063.8,432.5 1067.1,433.3 1070.1,432.8 1072.8,431.5 1075,432.5 1076.2,435.8 1078,437.9 1080,440 1081.4,441.3 1084.3,442.8 1086.2,443.8 1088.7,442.1 1089.6,440.8 1090.6,438.1 1092.5,436.2 1094.5,435 1096.6,432.9 1098.8,430 1100.9,427.6 1104.1,427.4 1106,425.6 1107.5,423.8 1110.1,422.8 1113.1,421.9 1115.4,420 1117.4,418.6 1120,417.5 1122.8,416.9 1125.1,415.4 1125.8,413.3 1128.8,412.5 1131.2,411.4 1133,410 1135,407.5 1137.6,406.9 1141.3,407.6 1143.8,408.8 1147.5,411.2 1149.9,411.1 1152.8,410.2 1155.5,409.7 1157.8,408.4 1160,408.8 1162.8,406.4 1164.4,405.5 1167.5,403.8 1170.5,403 1172.3,400.2 1175.6,400.1 1177.5,398.8 1178.8,397.3 1180,394.5 1182.6,394.9 1185.2,396.1 1187.5,396.2 1188.8,398 1191.5,400.1 1193.8,401.2 1196.3,402.5 1197.7,404.1 1200.3,403.2 1203.5,404.6 1205,406.2 1207.9,407.5 1210,407.2 1212.8,408.4 1215,409.5 1218.1,409.8 1220.5,410 1222.1,408.4 1225,408.8 1227.4,406.9 1230,407 1231.3,409.8 1232.9,411.5 1233.9,413.9 1235,416.2 1237.3,416.7 1240,417.9 1242.7,417.8 1245,418.8 1247.9,417.1 1250.5,417.7 1252.5,416.2 1255.1,417.5 1257.2,417.2 1260,418.5 1262.5,418.8 1265.3,419.7 1268.4,420.3 1271.2,422.5 1273.1,424.1 1275,425.6 1276.1,428.2 1278.8,430 1280.6,431.9 1282.3,433.4 1284.3,433.9 1286.2,436.2 1287.9,439.4 1289,442.1 1290,445 1291.9,446.1 1294.3,448.7 1295.8,449.6 1297.5,452.5 1299.8,453.9 1302.6,452.9 1304.7,453.9 1307.5,455 1310.9,452.9 1313.8,452.5 1316.1,453.7 1316.9,456.3 1319.5,458.8 1321.2,460 1324.4,460.6 1327.5,462.5 1326.5,464.8 1325.9,467.3 1326.2,470 1327.7,471.9 1329.7,473 1330.7,476.1 1332.5,477.5 1333,479.9 1335.6,482.4 1337.2,483.3 1338.8,486.2 1336.8,488.7 1335.3,490.5 1334.5,491.9 1333.8,495 1332.7,497.3 1331.2,500.4 1330,502.5 1327.6,504.3 1326.7,507.5 1325,508.8 1324.7,511.8 1323.9,513.7 1323.8,516.2 1321.4,517.9 1321,519.8 1320,522 1317.5,523.8 1315.4,525 1313.9,526.8 1312.4,528.7 1310,530 1311.5,531.9 1311.6,535 1312.9,536.8 1313.8,540 1314.8,542.2 1316.2,544.1 1316.6,546.7 1318.8,548.8 1316.5,547.6 1313.7,545.5 1311.2,544.5 1310,542.5 1307.2,542 1304.5,541.1 1302.5,542.4 1300,541.2 1297.6,542.8 1294.3,542.6 1293,543.9 1290.5,545.1 1287.5,546.2 1285.4,548.2 1284.1,550.6 1281.5,551.3 1281,553.9 1278.8,555 1276.3,556.2 1274.3,558.3 1272.2,559.6 1270,560 1268.4,562.2 1266.9,564 1263.5,565.6 1262.5,567.5 1259.9,568.6 1258.3,570.7 1256.8,571.9 1254.7,573.7 1252.5,575 1251,577.1 1247.2,578.3 1245.9,581.4 1243.8,582.5 1241.4,583.7 1238.5,584 1235,585 1233.6,586.7 1233.7,590.2 1232.5,592.5 1230.6,594.4 1228.9,596.5 1226,597.9 1225,600 1225.7,602.9 1225.7,604.8 1225,607.5 1223.1,608.6 1221.1,610.8 1218.4,612.3 1217.2,613.8 1215,616.2 1214.3,618.1 1212.3,620.6 1211.3,622.8 1210.6,624.7 1210,627.5 1210.3,629.8 1208.2,632.6 1207,634.4 1206.8,637.8 1206.2,640 1205.6,642.1 1205.5,645.3 1203.8,647.7 1205,649.6 1203.8,652.5 1204,656 1202.5,659"/>
<polyline points="896.2,439 898.5,441.3 902.5,442.5 905.2,442.3 907.4,444.2 910,444.5 911.8,443.5 915.8,442.8 917.6,441.7 920,440 922.6,439.4 925.5,437.9 928.8,437.5 932.1,438.3 933.3,440.1 936.2,441.2 936.8,444.4 938.5,446 938.8,448.8 941.5,450.4 942.7,451.8 946.2,452.5 948.7,451.1 951.8,449.2 955,448.8 957.7,448.1 960.3,446.9 962.3,446.5 965,445 967.2,444.4 969.6,445.7 972.6,446.9 975,446.2 976.6,448.7 976.3,451.8 977.5,453.8"/>
<polyline points="343,439 341.4,441.6 340.3,444.6 340,447.5 339.5,450 336.1,452.4 334.4,455.2 333.8,457.5 332.7,459.4 331.7,462 331.8,465.5 330,467.5 328.6,469.8 328.6,472 327,475 326.1,478.4 324.2,479.9 322.8,482.2 321.3,485.2 321.2,487.5 319.6,490.3 319.4,493.1 317.1,494.7 315.3,497.6 314.7,499.7 313.8,502.5 313.9,505.2 312.5,507.5 312.5,510 310.2,512.5 310,516.2 312.3,518 313.9,518.5 315.7,520.5 317.5,522.5 317.9,524.5 316.5,528 316.5,529.9 316.2,532.5 314.6,535.2 315.1,538.8 313.8,540.9 312.5,543.8 310.5,545.3 308.8,546.3 306.2,547.8 305,550 303.9,552.2 304.1,555.7 302.5,558.8 303.3,561.1 303.9,565.1 304.9,567.5 306.2,570 306.4,572.9 307.1,575.6 308.1,577.6 309,579.5 308.8,582.5 308.5,584.6 309.6,588 310.4,589.6 310,592.5 309.9,595.2 309.3,597.1 307.2,600.2 307.4,602.5 306.5,604.6 306.2,607.5 309.3,606.4 312.9,605.3 315,603.8 317.8,604.3 320.2,607.3 322.5,607.5 323.3,610 323.8,613.8 324.7,615.6 327.7,617.3 328.8,620 328.5,623.3 327.7,625.6 326.2,628.8 329.1,629.5 332.4,630.5 334,630.3 337.5,631.2 340.1,631.7 343.8,634 345.1,636.6 344.9,638.7 345.5,641 346.8,643.6 347.4,646 348.6,648.3 348.5,650.8 349.2,653.2 351.1,656.3 351.5,658.5 353.1,660.8 355.5,661.4 357.2,664.2 359.8,664.6 362.7,667.4 365,667.2 367.4,668.1 369.7,667.8 372.6,669.3 374.8,670 376.7,672.2 378.5,674.1 380.6,674.5 382.5,676 383.4,678.6 386.5,681.8 387.6,683.4 389,685.3 391.2,687.5"/>
<polyline points="391.2,689 394.2,690.2 395.3,692.7 397.9,693.6 400,696.2 402.8,697.8 405.1,697.5 407.5,698.4 409.6,701.1 412.5,701.2 415,702.5 418,700.8 420,701.3 422.2,701.4 425,702.5 427.4,701.9 430.1,700.7 432.4,700.1 435.3,698.5 437.5,697.5 440.5,696.9 442.2,697.2 445,696.2 447.5,695 450,692.5 448.8,695 448.8,697.5 447,699.9 445.1,703 444.3,704.9 442.5,707.5 440.5,708.1 438,708.5 435,708.8 433.3,710.4 430.7,710.9 427.3,712.3 425,712.5 422.1,712.8 420.4,713.8 417.7,714.3 415,713.8 412.5,714.6 409.8,713.8 407.4,715.3 405,715 403.6,717.5 401.2,720 402.1,722.8 404.4,724.2 406.2,727.6 407.5,730 408.5,732.3 410.5,734.2 413.7,735.5 415,737.5 416.4,739.1 419.7,740.1 421.2,741.1 423.2,742.7 425,745 426.8,747.6 429.3,749.5 431,751.7 432.5,753.8 434.8,756 436.8,757.7 439.2,758.5 440.6,761.4 442.5,762.5 445.3,764.3 446.1,766.3 448.3,767.8 451.1,769.4 452.5,771.2 455.6,772.1 457.3,773.4 459.7,774.5 462.5,775.5 464.3,774.6 468.1,774.2 470.3,774.4 472.8,774 475,772.5 477.4,770.9 479.7,771 482.9,769.4 484.5,768.1 487.5,767.5 489.4,766.5 491.9,764.4 495.7,764.1 497.2,762.4 500,761.2 501.8,758.9 502,756.1 504.2,754.6 505,752.5 505.2,749.4 506.4,748.1 505.5,744.9 507.5,742.5 507.5,740 508.8,737.7 507.8,734.7 509.2,731.9 510,730 511.4,727.1 512.4,724.5 512.5,721.2 514.6,721 517.5,722.5 517.8,725.4 516.8,727.1 516.4,729.8 515.8,732.3 516.2,735 516.5,737 517.8,740.4 517.3,743.3 518.8,745 519.2,748.1 519.5,749.4 519.7,752.6 520,755 520.8,757.6 521.3,759.5 521.2,762.5 522.4,764.9 523.9,767.7 523.8,770 523.4,773.1 525.6,775.1 525.2,777 524.7,780 525.2,782 526.2,785 525.2,786.7 525.8,790.2 525.1,792.6 524.5,794.5 523.8,797.5 523.4,799.9 521.9,802.7 520.9,805 521.2,807.5 522.5,809.3 522.8,811.8 522.4,814.8 523.8,817.5 525.5,820.3 524.7,822.9 526,825.2 526.2,827.5 525.6,830.4 527.4,832.6 527.2,835 526.8,837.2 527.5,840 528.4,842.4 528,845.5 529.3,847.6 530,850 530.3,852.6 530.9,855.4 531.7,857.3 532.5,860 532.9,862.6 533.8,864.6 534.5,868.1 535,870 536.2,873.4 537.8,876.3 537.5,879"/>
<polyline points="1020,715 1018.8,717.1 1019.6,719.5 1018.8,722.5 1019.7,724.8 1021.3,727.6 1022.5,730 1021.8,732.6 1021.1,734.4 1020,737.5 1017.1,738.9 1014.5,740.2 1011.9,741.1 1010,742.5 1007.7,742.9 1005,741.2 1003,742.8 999.6,744.6 997.5,745 994.9,746.4 993,747.9 990,750 986.9,752.5 985,755 985,758 982.4,759.7 982.5,762.5 982.9,765.2 984.8,767.1 986.8,770.3 987.5,772.5 991.2,775 990,776.8 987.5,778.2 985.4,779.4 982.5,780 981.3,782.1 981.8,785.2 980,787.5 977.7,790.2 977.5,792.5 975.4,793.8 972.4,794.9 970,797.5 967.4,797.1 963.8,798.8 967.5,801.2 964.5,802.3 962.8,802.4 960,802.5 956.8,803.9 955.1,804.1 952.3,806.6 950,807.5 947.3,809.4 945.3,809.3 942.1,811.4 940,812.5 937.1,813.2 934.5,815.3 932.1,816.2 930,817.5 927.6,819.1 924.9,820.6 922.5,822.5 919.6,824.6 917.4,826 915,827.5 912.6,829.6 911.5,830.9 908.9,832.3 907.5,835 904.8,836.7 904,838.3 902.2,841.2 900,842.5 897.6,845.2 896.7,847.7 895,850 893.6,853.7 893.2,856.1 891.2,858.8 889.6,860.7 887.3,862.5 885,865 882.3,867.7 880,870 877.6,873.1 875,875 873.2,877.3 871.2,879"/>
<polyline points="1202.5,659 1202.4,661.9 1202.5,665 1202.9,667.2 1201.3,670.1 1201.3,672.6 1201.2,675 1198.8,672.5 1197.5,668.8 1194.5,671.2 1192.5,672.5 1189.5,671.4 1186.2,671.2 1184.8,673.4 1185.5,676.9 1183.8,680 1183.6,677.9 1182.4,675.3 1181.2,672.5 1180.5,676.2 1177.5,678.8 1178,681.3 1176.7,683.3 1176.2,686.2 1176.4,688.8 1175,692.5 1176.5,695.3 1178,698.8 1176.2,701.2 1174.5,699.1 1173.8,696.2 1174,692.7 1173.4,690.2 1172.5,687.5 1170,688.8 1168.1,686.5 1167.5,682.5 1167,679.2 1164.9,677.9 1165,675 1163.4,672.9 1163.1,670.3 1162.5,667.5 1158.8,668.8 1157.5,670.5 1155,672.5 1152.9,671.9 1150,670 1147.1,671.1 1145,672.5 1141.2,670 1138.5,669.6 1136.2,670 1135.2,672.1 1132,672.2 1130,675 1127.5,675.4 1125,676.2 1123.9,680.1 1122.5,682.5 1124.1,685.1 1123.2,687.6 1125,690 1125.6,692 1125.4,695.6 1126.2,697.5 1126.5,700.2 1125,702.5 1128,704.3 1130,705 1132.8,708.3 1135,710 1136.8,712.6 1137,715 1133.8,717.5 1131.4,716.1 1130,713.8 1126.2,716.2 1123.6,714 1121.2,713.8 1119.8,712.2 1116.6,711.2 1115,710 1113.2,707.2 1111.2,706.2 1109.6,704.1 1108.8,700 1107.3,696.4 1106.2,693.8 1106,690.3 1105,687.5 1102.4,686.5 1100,685 1096.8,685.1 1095.1,683.5 1092.5,683.8 1088.8,682.5 1090,684.7 1091.2,687.5 1093.3,691.2 1093.8,693.8 1093.9,696.9 1092.5,698.8 1088.8,701.2 1088.2,704.4 1087.5,707.5 1086.2,710.3 1086.3,712.1 1086.2,715 1085.1,717.8 1083.8,720 1083.4,722.7 1081.2,725 1081.3,727.3 1080.3,730.1 1081.2,732.5 1081.5,734.7 1080,737.5"/>
<polyline points="537.5,879 537.4,882.5 539.4,884.7 539.2,886.8 539.5,889.5 540,892.5 540.8,894.4 541.7,897.7 541.8,900.4 542.1,902.9 542.5,905 543.4,907.7 542.8,910.6 542.6,912 542.6,915.5 543.8,917.5 543.7,920.5 545.9,922.9 545.9,924.7 546.2,928 547.5,930 549.1,932.1 548.7,935.6 550.5,938.1 551.2,940 553.2,942 554.3,944.8 555,947.5 556.1,950.1 556.7,952.3 557.7,955.1 558.8,957.5 560.6,960.1 562.2,962.7 562.5,965 563.9,967.9 565.9,969.3 567.5,972.5 569.7,973.9 570.9,976.7 572.5,978 573.8,980 574.9,982.7 576.4,984.9 576.2,987.2 577.5,990 578,992.6 580.1,995.2 580.7,997.7 582.5,1000 583.6,1002.1 585.2,1005.4 584.5,1007.8 586.2,1010 586.2,1012.7 585.9,1015.3 586.1,1017.2 586.9,1020.3 587.5,1022.5 588.9,1025.1 589.4,1026.8 589.8,1030 590.9,1032 591.2,1035 593,1036.9 593.7,1040.5 594,1043.1 595,1045.6 596.2,1047.5 596.8,1050.3 597.8,1052.6 600.2,1054.4 600.7,1057.7 602.5,1060 603.5,1062.8 605.4,1064 607.6,1065.3 609.1,1067.9 610,1070 612.4,1072.5 613.2,1074.3 615,1077.3 616.2,1080 617.6,1082.3 619.2,1084.4 620.3,1087 621.2,1090 622.4,1093.2 624.1,1095.3 625.4,1097.6 626.2,1100 626.1,1102.4 627.7,1105.4 628.1,1107.2 630,1110 631.7,1112.1 631.5,1115.2 632.7,1116.8 633.8,1120 634.8,1122.6 634.7,1125.5 636.2,1127.5 638.3,1129.2 640,1132.5"/>
<polyline points="871.2,879 868.7,879.8 865,880 862.7,880.8 860.6,882.5 859.4,884 857.6,885.8 855,887.5 852.9,889.4 851.5,890.7 849.4,892.4 847.2,893.9 845,895 842.9,895.9 841.1,897.9 839.5,900.5 837.5,902.5 836.6,904.4 835.4,907.7 835,910 836.2,913.8 834.1,915.7 831.1,915.6 830.5,918 827.5,918.8 824.3,919 822.7,920.1 819.7,921.9 817.5,922.5 815.6,923.4 812.8,923.8 810,923.8 807.8,925.5 805.6,926 802.5,926.2 800.7,927.8 800.3,930.2 798.6,932.5 797.5,935 795.4,937.6 793.9,940.4 792.5,942.5 788.8,945 786.2,941.2 783.6,940.9 780,941.2 777.3,942.2 775.2,943.7 773.8,945 771.8,947.6 771.5,949.3 768.8,951.2 767.3,952.7 765,955 765.1,957.1 763.8,959.3 763.8,962.5 763,964.7 763.2,968 762.5,970 762.9,972.3 764.2,975.6 765,977.5 764.8,980.3 764.1,981.9 765,985 765.5,987.2 765.7,990.2 765.1,992.3 766.2,995 766.9,997.1 766.1,999.8 767.9,1003 767.5,1005 768.1,1007.6 769,1009.4 767.6,1013.1 768.8,1015 769.7,1017.6 770.1,1020 771.2,1022.5 771.8,1024.8 771.2,1027.5 770.4,1030 769.9,1033.1 770,1035 769.5,1037.7 768.2,1039.5 767.1,1042.5 766.2,1045 764.8,1046.9 765.5,1049.6 763.8,1052.5 763.7,1055.2 761.2,1056.6 759.9,1060 760,1062.5 759.6,1065.2 757.7,1067 756.3,1069.6 756.8,1072.6 755,1075 755.1,1077.5 752.7,1080.2 753.8,1082.8 752.5,1085 753.1,1087.2 754.5,1090.3 754.5,1092.8 755,1095 754.6,1097.8 755.2,1099.5 754.9,1102 755.5,1104.7 755.2,1107.7 756.2,1110 756.9,1112.2 756.8,1115.4 757,1118 755.8,1120.4 755.7,1122.9 756.2,1125 752.9,1124.3 750,1124.8 747.5,1125 745.3,1125.7 743,1125.2 740,1126.2 738.7,1128.9 736.8,1130.2 735,1132.5 733,1135.5 731.3,1137.3 730,1140 729.8,1142 728.5,1144.2 728.1,1146.5 726.2,1149"/>
<polyline points="763.8,1015 766.2,1013.8 768.8,1017.5 770,1020 767.5,1020 765,1017.5 763.8,1015"/>
<polyline points="640,1132.4 637.1,1132.9 637.6,1135.6 637.9,1139.3 638.6,1141.4 639.3,1144.5 638.7,1147.7 639.3,1150 640.5,1152.4 641.5,1154.7 642.1,1157.1 643.8,1158.7 643.4,1161.6 645,1164.3 645.6,1167.3 647.3,1169.4 647.9,1171.4 649.8,1173.9 650.5,1175.9 652.9,1177.1 655.1,1178.9 656.8,1180 658.6,1182.9 660.2,1184.2 662,1187.5 664.3,1188.6 666.7,1189.6 668.1,1193.3 670,1194.3 672.3,1195.5 675.7,1197.1 678.5,1197.5 680.7,1198.6 682.9,1195.7 687.1,1194.3 689,1192 692.9,1190.7 694.9,1188 697.1,1187.1 698.6,1182.9 698.8,1179.8 699.3,1177.9 700,1174.3 700.7,1170 702.1,1167.9 704.3,1165.7 708.6,1164.3 711.6,1162.1 714.3,1162.1 717,1161.1 720,1160.7 722.8,1160 725.7,1160 728,1158.7 731.4,1159.3 733.6,1157.8 737.1,1157.9 738.6,1160 742.1,1162.9 740.4,1160.8 737.9,1157.1 734.2,1158.5 731.4,1157.9 727.1,1156.4 725,1152.9 725,1148.6 726.3,1149"/>
<polyline points="640.7,1137.9 642.1,1140 642.9,1144.3 643.6,1148.6 642.1,1150.7 641.4,1147.1 641.1,1142.9 640.9,1140.3 640.7,1137.9"/>
<polyline points="1022.3,741.1 1021.7,739.5 1020.1,738.8 1018.5,738.3 1016.9,737.8 1015.2,737.6"/>
<polyline points="1023.6,735.6 1023.1,734 1022,732.7 1020.3,732.2 1019.2,730.9 1018.3,729.5 1023.6,735.6"/>
<polyline points="1024.2,738.4 1024.6,736.7 1024.5,735 1023.5,733.6 1021.9,733.1 1020.3,732.6 1018.7,732.1 1017,731.6"/>
<polyline points="1024.9,731.4"/>
<polyline points="1025.7,743.4 1024.1,742.7 1022.9,741.6 1022.2,740 1021.8,738.4 1021.2,736.8 1021.8,735.2 1023.3,734.5 1022.9,741.6"/>
<polyline points="1026.3,737.7 1025.7,736.1 1025.2,734.5 1025.7,732.8 1025.7,736.1"/>
<polyline points="1027.9,736.1 1026.7,734.9"/>
<polyline points="1028.3,741.1 1029.5,739.9 1030.9,739 1031.3,737.4 1032.4,736.1 1034,735.5 1035.5,734.7 1029.5,739.9"/>
<polyline points="1029.1,741.2 1028.6,739.6 1029.5,738.1 1029.1,736.5 1028.3,735 1029.1,741.2"/>
<polyline points="1030.3,738.5 1029.1,737.3 1027.7,736.4 1026.9,734.9 1025.3,734.5 1023.7,734 1022.1,733.3 1020.5,732.6 1027.7,736.4"/>
<polyline points="1031.2,733.9 1031.3,732.2 1031.7,730.5"/>
<polyline points="1031.6,733 1032.3,731.4 1033.6,730.4"/>
<polyline points="1032.8,734.6 1032.3,733 1031.8,731.4 1031.2,729.8 1030.9,728.1"/>
<polyline points="1033.7,738.2 1033.1,736.6 1032.4,735.1 1030.8,734.5 1029.6,733.3 1033.7,738.2"/>
<polyline points="1033.8,736.6 1034.4,735 1034.9,733.4 1034.4,731.7 1032.9,731.1 1031.7,729.9 1031.2,728.2 1032.1,726.8 1032.9,731.1"/>
<polyline points="1034.8,732.6 1033.7,731.3 1032.3,730.4 1031,729.3 1029.5,728.4 1028.1,727.5 1026.7,726.5 1025.2,725.7 1031,729.3"/>
<polyline points="1036,733.6 1036.4,731.9 1037.5,730.6 1037.4,729 1036.1,727.9"/>
<polyline points="1036.4,746.6 1035.7,745 1035,743.5 1034.3,741.9 1033.7,740.3 1034.4,738.8 1035.9,738 1035,743.5"/>
<polyline points="1037.2,732.5 1038.3,731.2 1038.4,729.5 1039,727.9 1040.4,727 1041.3,725.5"/>
<polyline points="1038.7,738.6 1038.3,737 1037.3,735.6 1035.7,735.1 1034,734.6 1032.4,734.1"/>
<polyline points="1039.5,725.8 1038,725 1036.4,724.5 1034.7,724.2 1033.5,723.1 1031.8,722.9 1030.2,722.4"/>
<polyline points="1040.1,746.1 1041.1,744.8 1042.7,744.3 1044.4,743.8 1045.8,742.9 1042.7,744.3"/>
<polyline points="1041.1,746.3 1039.9,745.1 1039,743.7 1037.5,742.9 1036.2,741.8 1035.8,740.1 1034.3,739.3 1032.8,738.5 1031.3,737.7 1029.8,737 1028.5,735.9"/>
<polyline points="1041.6,735.2 1042.3,733.6 1041.8,731.9 1042.8,730.5 1042.4,728.9 1043,727.4 1041.8,731.9"/>
<polyline points="1042.7,727.3 1041.6,726 1040.2,725.1 1040,723.4 1038.6,722.4 1037,721.9 1035.4,721.4 1033.8,720.9 1042.7,727.3"/>
<polyline points="1043.2,735.2 1043.2,733.5 1044.5,732.4 1044.9,730.7 1046.1,729.5 1047.7,728.9 1049.3,728.3 1050.9,727.8 1052.5,727.3"/>
<polyline points="1044.3,741.3 1045.3,739.9 1046.7,739 1048.4,738.6 1050,738.1 1050.8,736.6 1052.4,736.1 1054,735.4 1054.5,733.8 1054.2,732.1 1053.9,730.5 1054.5,733.8"/>
<polyline points="1044.8,731.2 1043.5,730.1 1041.9,729.6 1041.2,728 1040.2,726.7 1039.7,725 1039.6,723.3 1038.3,722.2 1036.7,721.7 1035.1,721.2 1043.5,730.1"/>
<polyline points="1046.2,732.3 1046.1,730.6 1045,729.3 1043.3,728.8 1042.5,727.3 1041.6,725.9 1042.1,724.2 1041.9,722.6 1042.9,721.2"/>
<polyline points="1047.2,744 1048.3,742.7 1048.7,741 1049.1,739.3 1048,738 1046.8,736.8 1048.7,741"/>
<polyline points="1047.3,743.1 1047.9,741.5 1049.5,740.8 1050.8,739.7 1052.4,739.2 1053.8,738.3 1054.8,736.9 1054.6,735.2 1053.8,733.7 1052.5,732.7 1054.8,736.9"/>
<polyline points="1048.9,738.1 1050.5,737.5 1052.1,737 1053.7,736.5 1055.3,736 1056.7,734.9 1058.3,734.4 1059.9,733.9 1061.2,732.7 1062.8,732.2"/>
<polyline points="1049.3,733.7 1050,732.2 1049.9,730.5 1051.2,729.3 1051.5,727.6 1050.6,726.2 1050,732.2"/>
<polyline points="1050.6,733.4 1050.5,731.7 1049.9,730.1 1048.8,728.8 1047.2,728.3 1045.7,727.5 1044.1,727 1042.5,726.5 1040.8,726.1 1039.6,724.9"/>
<polyline points="1051.4,738.2 1050.3,736.9 1050.1,735.2 1051.3,734 1051.3,732.3 1051.5,730.6 1052.8,729.5 1054.3,728.8 1050.3,736.9"/>
<polyline points="1051.7,737.5 1050.4,736.4 1049.4,735 1047.8,734.5 1046.2,733.9 1044.6,733.4 1043.1,732.6 1041.4,732.1 1040.7,730.6 1041.1,728.9 1040.7,727.3 1051.7,737.5"/>
<polyline points="1052.5,737.5 1051.2,736.4 1049.6,735.7 1048.4,734.5 1046.9,733.7 1045.3,733.2 1044.3,731.8 1043.3,730.5 1043,728.8 1042.5,727.1 1043.3,725.6"/>
<polyline points="1053.6,723.6 1054.9,722.4 1054.9,720.7 1054.6,719.1 1053.5,717.8 1053.6,723.6"/>
<polyline points="1054.8,731.5 1056.1,730.4 1057.7,729.8 1059.1,728.8 1059.7,727.2 1059.6,725.5 1060.8,724.3 1057.7,729.8"/>
<polyline points="1055.6,728 1055.1,726.4 1053.9,725.2 1053.7,723.5 1053.3,721.8 1053.7,720.2 1052.7,718.8"/>
<polyline points="1056.5,732.5 1057.5,731.2 1059,730.4 1060,729 1061.6,728.3 1063.2,727.9 1064,726.4"/>
<polyline points="1056.9,735.6 1058.1,734.4 1059.7,733.9 1061.3,733.4 1062.9,732.9 1064.3,731.9 1058.1,734.4"/>
<polyline points="1057.6,731.2 1057.2,729.6 1057.9,728 1057.9,726.3 1056.8,725.1 1057.2,729.6"/>
<polyline points="1058.6,726.8 1059.5,725.4 1061,724.5 1062,723.1 1062.3,721.5 1062.4,719.8 1061.8,718.2 1061,724.5"/>
<polyline points="1059.9,729.7 1060.9,728.3 1060.6,726.6 1061.4,725.1 1062.9,724.5 1064.2,723.3 1064.6,721.7 1065.3,720.1 1060.6,726.6"/>
<polyline points="1060.6,723.7 1061.4,722.2 1060.9,720.6 1059.3,719.9 1057.7,719.4 1056.9,717.9 1056.9,716.2 1060.6,723.7"/>
<polyline points="1061.4,725.9 1060.5,724.5 1059.9,722.9 1058.6,721.9 1057,721.1 1055.4,720.9 1053.7,720.4 1052.1,719.9 1060.5,724.5"/>
<polyline points="1061.9,742.6 1060.9,741.3 1059.2,740.8 1057.6,740.3 1056,739.8 1054.4,740.3 1052.8,739.8 1059.2,740.8"/>
<polyline points="1062.7,742.1 1062,740.5 1062.7,739 1062.3,737.3 1063.3,735.9 1063,734.3 1062.3,732.7 1062.1,731 1062.3,737.3"/>
<polyline points="1063.8,735.2 1062.6,734 1061,733.5 1059.4,734.1 1057.8,733.6 1056.9,732.1 1059.4,734.1"/>
<polyline points="1064.6,736 1064.1,734.4 1063.3,732.8 1062.4,731.4 1060.8,730.9 1059.2,730.4 1057.9,729.2 1056.6,728.1 1062.4,731.4"/>
<polyline points="1065.3,732.1 1064.2,730.8 1064.4,729.1 1065.2,727.6 1066.6,726.6 1068.2,726 1068.8,724.4 1069.7,723 1069.4,721.3 1070.3,719.9"/>
<polyline points="1066.4,740.1 1065.9,738.5 1065.7,736.8 1065.3,735.2 1066.3,733.8 1067.5,732.6 1065.3,735.2"/>
<polyline points="1066.8,735.2 1066.5,733.5 1065.1,732.4 1064.1,731.1 1064.2,729.4 1064.4,727.7 1063.6,726.3 1063,724.6 1063.4,723 1064.9,722.2 1066.2,721.1"/>
<polyline points="1067.6,726.1 1069,725.2 1070.6,724.7 1071.2,723.1 1070.8,721.4 1070.2,719.8 1070.7,718.2 1070.5,716.6 1069,715.7 1067.4,715.2"/>
<polyline points="1068.9,736.5 1067.8,735.2 1066.2,734.5 1064.6,734 1063.6,732.6 1062.5,731.4"/>
<polyline points="1069.5,730.9 1070.8,729.8 1072.4,729.3 1074,728.8 1075.2,727.6 1076.9,727.1 1078.5,726.8 1079.7,725.5 1081,724.4 1072.4,729.3"/>
<polyline points="1070.1,741.8 1070.4,740.2 1070.3,738.5 1071.4,737.2 1072.9,736.2 1074.5,735.7 1076.1,735.2 1077.7,735.9 1079.3,735.4"/>
<polyline points="1071.5,740.9 1072.4,739.4 1072.1,737.8 1070.9,736.5 1070.6,734.9 1069.4,733.6 1067.8,733.1 1066.3,732.4 1065.6,730.8 1066.2,729.3 1067,727.8 1070.9,736.5"/>
<polyline points="1072.2,728.4 1071.2,727 1069.6,726.5 1068,727.2 1066.4,726.7 1064.8,726.2 1063.4,725.1 1066.4,726.7"/>
<polyline points="1073.2,740.2 1073.8,738.6 1075,737.4 1075.9,736 1076,734.3 1077.3,733.2"/>
<polyline points="1073.9,724.9 1074.8,723.4 1075.3,721.8 1075.3,720.1 1074,718.9 1073.9,717.2 1073.9,724.9"/>
<polyline points="1074.9,733.9 1074.2,732.4 1073.6,730.8 1074,729.2 1073.8,727.5"/>
<polyline points="1075.1,725.1 1076.3,723.9 1077.7,722.9 1079.1,721.9 1079.7,720.3 1081.3,719.6 1082.2,718.2"/>
<polyline points="1076.4,730.3 1077,728.7 1078.3,727.6 1079.7,726.8 1080.9,725.5"/>
<polyline points="1077.3,723.3 1078,721.8"/>
<polyline points="1078.4,731.8 1078,730.1 1076.9,728.8 1075.5,727.9 1074.5,726.5 1073,725.6 1072.3,724.1"/>
<polyline points="1079,727.1 1079,725.4 1080.4,724.4 1081.9,723.8 1079,725.4"/>
<polyline points="1079.7,733.6 1078.3,732.6 1076.7,732.1 1075.5,730.8 1074.4,729.6 1073.2,728.4"/>
<polyline points="1080.9,733.3 1081.1,731.6 1081.9,730.1 1083.4,729.2 1085,728.7 1086.6,728.2 1088,727.1"/>
<polyline points="1022.7,745.3 1022.6,743.6 1021.7,742.2 1021.1,740.6 1019.6,739.8"/>
<polyline points="1023.5,745.9 1024.1,744.3 1023.3,742.8 1021.7,742.3 1020.1,741.8 1018.4,741.3"/>
<polyline points="1025.7,739.5 1026.7,738.2 1028.4,737.7 1029.7,736.7 1030.6,735.3"/>
<polyline points="1027,744.7 1025.5,743.8 1024,743 1022.4,742.5 1021,741.6 1019.4,741.1"/>
<polyline points="1028.1,735.8 1028.2,734.1"/>
<polyline points="1030.5,742.8 1029.6,741.4 1028.2,740.4 1027.6,738.8 1030.5,742.8"/>
<polyline points="1030.9,740.4 1030.4,738.8 1029.6,737.3 1028.2,736.4"/>
<polyline points="1032.5,744.7 1031.6,743.3 1030.3,742.2 1029.1,740.9 1027.5,740.4 1031.6,743.3"/>
<polyline points="1034.7,735.3 1035.3,733.7"/>
<polyline points="1036.2,736.7 1035.3,735.3 1034.5,733.7"/>
<polyline points="1037.1,738.9 1035.8,737.8 1034.3,737"/>
<polyline points="1039.7,742.6 1038.8,741.2 1037.1,740.9 1035.6,740.1 1034,739.6 1039.7,742.6"/>
<polyline points="1039.8,743.4 1041.1,742.2 1042.7,741.9 1044.2,741.1 1045.9,741.5"/>
<polyline points="1042,738.3 1042.5,736.6 1043.3,735.2 1044.9,734.6 1046.4,733.7"/>
<polyline points="1042.8,733"/>
<polyline points="1044.9,745.9 1043.3,745.1 1042.1,744 1040.4,743.7 1038.9,742.9"/>
<polyline points="1045.9,744.3 1047.4,743.5 1049,743 1050,741.5 1051.6,740.9 1045.9,744.3"/>
<polyline points="1047.2,745.6 1047.4,743.9 1048.2,742.3 1049.6,741.5 1050.7,740.2"/>
<polyline points="1049,741.7 1049.5,740.1 1049.1,738.5 1048,737.1 1049,741.7"/>
<polyline points="1051,743.1 1052.2,742 1053.3,740.7 1053.1,739 1053.5,737.4"/>
<polyline points="1052.3,742.2 1053,740.7 1052.4,739.1 1052.5,737.4 1052.5,735.7"/>
<polyline points="1054.3,744.4 1054.7,742.7 1055.7,741.4 1057,740.3 1057.6,738.7 1059.2,738.2 1054.3,744.4"/>
<polyline points="1055,738.6 1055.8,737.2 1055.3,735.5 1053.8,734.8"/>
<polyline points="1056.1,739.1 1057.4,738 1059,737.5 1060.6,737 1056.1,739.1"/>
<polyline points="1058.2,738.7 1057.5,737.2 1058,735.5 1059.4,734.6 1060.8,733.6 1061.6,732.1 1058.2,738.7"/>
<polyline points="1059.6,741.6 1059.7,739.9 1058.6,738.6 1057.3,737.5 1057,735.8 1059.7,739.9"/>
<polyline points="1061.1,737.1 1059.8,736 1059.7,734.3 1058.7,733 1059.8,736"/>
<polyline points="1062,732.8"/>
<polyline points="1063.9,736.1 1063,734.7 1062.4,733.1 1061.9,731.5 1063,734.7"/>
<polyline points="1066.1,734.7 1066,733 1066.9,731.6"/>
<polyline points="1066.4,735.9 1065.8,734.4 1065.7,732.7 1064.7,731.3 1065.8,734.4"/>
<polyline points="1068.5,733 1066.9,732.3 1065.5,731.5"/>
<polyline points="1069.5,742 1069,740.4 1069.8,738.9 1071.2,737.9 1072.6,736.9 1073.8,735.7"/>
<polyline points="1070.9,738.8 1069.9,737.5 1068.9,736.1 1069.1,734.4 1069.8,732.9"/>
<polyline points="1072.9,739 1073.7,737.5 1075.1,736.6 1076.4,735.4 1078,734.9 1079.6,734.4 1075.1,736.6"/>
<polyline points="1074.1,739.5 1075.7,738.9 1076.9,737.7 1077.6,736.2 1075.7,738.9"/>
<polyline points="1076,737.7 1075.4,736.1 1075.5,734.4 1075.3,732.7 1074.2,731.4 1072.6,730.9"/>
<polyline points="1078,739.3 1079.1,738 1080.4,736.9 1080.5,735.2 1079.6,733.7"/>
<polyline points="1078.1,734.1 1078.5,732.4 1078.2,730.7"/>
<polyline points="1080,732.2 1078.5,731.4 1076.8,730.9"/>
<polyline points="1080,737.5 1078,740 1074,741"/>
<polyline points="1026,746 1022,745 1021,738 1023,733 1020,728"/>
<polyline points="1066,722 1067,716 1066,711 1068,707 1067,703"/>
<polyline points="1071,724 1073,718 1072,712 1071,706"/>
<polyline points="345.9,642.2 345.5,640.5 345.2,638.9 344,637.6 342.4,637.1 340.8,636.6"/>
<polyline points="346.8,634.2"/>
<polyline points="348,644.4 348,642.7 347.5,641.1 346.8,639.5"/>
<polyline points="348.3,640 347.9,638.4 346.5,637.4 344.8,636.9 347.9,638.4"/>
<polyline points="349.6,644.1 348.3,643.1 346.7,642.6 345,642.1 343.4,641.6 341.8,641"/>
<polyline points="350.5,643.4 349.1,642.4 347.4,642.8 345.8,642.3 350.5,643.4"/>
<polyline points="351.2,644.4 352.8,643.9"/>
<polyline points="352.7,647.9 353.7,646.5"/>
<polyline points="354.1,652.1 355.3,650.9 355.8,649.3"/>
<polyline points="354.8,650.5"/>
<polyline points="355.5,651.7"/>
<polyline points="356.7,659.8 355.6,658.5 353.9,658.1 352.3,657.6 356.7,659.8"/>
<polyline points="357.7,660.5 359,659.4 360.4,658.4 362,657.9 357.7,660.5"/>
<polyline points="359,660.3 358.2,658.8"/>
<polyline points="359.7,663.3 359.1,661.7 357.6,661 355.9,661 354.2,660.5"/>
<polyline points="360.8,662.6 360.6,660.9"/>
<polyline points="361.6,662.3"/>
<polyline points="363.1,662.7"/>
<polyline points="364.3,663.1"/>
<polyline points="365.1,669.7 366,668.2 366.3,666.5 365.4,665.1 363.9,664.3"/>
<polyline points="366.3,667.2 367.3,665.8"/>
<polyline points="367.5,668.2 368.8,667.1 369.8,665.8"/>
<polyline points="367.9,668 368.7,666.5"/>
<polyline points="369.2,667.7"/>
<polyline points="370.2,671.9 371.8,671.3 373.3,670.6 375,670.1 371.8,671.3"/>
<polyline points="370.9,672.9 372.5,672.2 373.3,670.7 374.7,669.7 376,668.7 377.6,668.2"/>
<polyline points="371.7,672.2 371.6,670.5 372.4,669"/>
<polyline points="373.5,672 373.1,670.4"/>
<polyline points="374.4,677.3 374.2,675.6 375.2,674.3 376.8,673.8"/>
<polyline points="374.7,674.4 374.9,672.8 376.3,671.7 377.9,671.1"/>
<polyline points="376.2,678.3 377,676.8 377.5,675.2 378.8,674 378.7,672.3"/>
<polyline points="377.6,679.9 376.8,678.4 375.5,677.4 373.9,676.9 372.2,676.9"/>
<polyline points="378.4,679.3 377.9,677.7 377.9,676 378.3,674.4"/>
<polyline points="378.8,679.4 380,678.2 381.1,676.9 382.5,675.9 383.6,674.6"/>
<polyline points="380.2,678.3 380.2,676.6 381.4,675.5"/>
<polyline points="381.1,674.8"/>
<polyline points="382,680.5 382.6,678.9 383.9,677.8 385.2,676.8 386.8,676.1 382,680.5"/>
<polyline points="383.7,681.8 383.7,680.1 384.1,678.5 385.6,677.6 387.3,677.1"/>
<polyline points="384.8,682 386.2,681 387.8,680.5 389.3,679.7 390.1,678.2 386.2,681"/>
<polyline points="385.3,677.9"/>
<polyline points="385.9,685 386.8,683.6 388,682.4 389.2,681.2 390.8,680.7"/>
<polyline points="387.9,681.7 388.1,680.1"/>
<polyline points="388.7,684.4 387.8,683 386.3,682.2 384.6,681.7 383,682.2 381.4,681.7"/>
<polyline points="390,685.1 390.1,683.4 391.5,682.4 393.1,681.9 390.1,683.4"/>
<polyline points="390.6,684.9 392,683.9 393.3,682.8"/>
<polyline points="391,685.9 391.8,684.4 393.2,683.5 394,682 391,685.9"/>
<polyline points="403.9,717 403.6,715.4 403,713.8"/>
<polyline points="405.3,714.2"/>
<polyline points="406.7,714.3 407.3,712.7"/>
<polyline points="408.4,715.9 409.2,714.4 410.2,713"/>
<polyline points="409.9,713.4 408.5,712.5 406.8,712"/>
<polyline points="413,712.5 414.1,711.3"/>
<polyline points="413.6,710.8"/>
<polyline points="416.3,714.8 417.4,713.5 417.1,711.8 417.9,710.3 417.4,713.5"/>
<polyline points="417.1,713.9 415.6,713.1 414.5,711.8"/>
<polyline points="418.5,712.5 418.4,710.8 417,709.8"/>
<polyline points="420.5,714.1 420.6,712.4 420.4,710.7 419,709.7 420.5,714.1"/>
<polyline points="421.8,711.5 423.2,710.7 424.9,711.1"/>
<polyline points="424.7,711.9 424,710.4 423.7,708.7"/>
<polyline points="425.4,709.9 424.1,708.8"/>
<polyline points="427,707.9"/>
<polyline points="429.3,709.2 428.5,707.7"/>
<polyline points="430,712.8 431.2,711.6 431.4,709.9"/>
<polyline points="432.7,708.2"/>
<polyline points="434.5,710 435.5,708.6 436.9,707.6"/>
<polyline points="435,711.7 436,710.4 436.2,708.7"/>
<polyline points="438.1,709.7 437.2,708.2 435.7,707.4"/>
<polyline points="438.7,708.1 439.2,706.5 440.7,705.6"/>
</g>
<g fill="#ffeda0" stroke="#000" stroke-width="0.85">
<polygon points="430,362.5 432.3,360.1 435,357.5 437.5,358.2 440.1,360 442.5,360 445.2,360.8 447,362.9 450,363.8 451.8,366.7 452.8,369.1 455,371.2 453.8,375 451,375.7 448,375.2 445,375 441.8,375.6 439.2,374.4 436.2,375 431.2,373.8 430.2,371.5 429.9,368.8 430.8,365.5"/>
<polygon points="546.2,252.5 548.7,251.3 552.6,249.3 555,248.8 556.9,247.4 559.5,245.6 562.4,244.6 565,243.8 567.3,243.8 570.1,246.7 572.5,247.5 574.6,246.5 577.7,244.9 580,245 580.7,247.7 581.9,250.3 583.8,252.5 586.8,254.5 589.1,255 592.4,256.3 595,257.5 597.9,256 600.4,255.7 602.5,255 604.7,259 606.2,261.2 605.9,264.6 606.2,266.5 606.2,270 608.5,272 610.3,274.5 611.2,277.5 614.8,279.2 616.2,281.2 615.2,283.6 612.2,286.4 611.2,288.8 612,291.7 612.1,294.5 611.2,297.5 612.7,301.4 613.8,303.8 612.5,307.1 611.3,308.9 611.2,312.5 607.8,311.7 605.9,310.6 603.8,308.8 600.9,308.3 598.3,308.2 595,309.5 592.5,308.8 589.5,307.2 585.2,307.4 582.5,306.2 579.1,305.4 575,306.2 573.2,309.2 571.2,312.5 570.3,315.2 569,317.8 568.8,320 568.8,323.1 568.3,325.4 567.5,328.8 565.8,330.6 561.8,332.4 560,335 558,337.5 555.1,339.5 552.1,339.9 550,342.5 549.4,345.1 548.1,348.1 546.2,350 543.7,349.3 540,350 538,351.1 535.1,352.5 533.1,354 530,355 527.6,356.6 525.6,358.5 524.6,361.4 522.5,362.5 520.4,364.8 518.8,366.4 517.5,370 517.1,372.7 516.5,376.9 515,380 513.3,382.6 511,383.5 509.5,385.8 507.5,387.5 507.4,391 505.6,394.4 505,397.5 503.1,394.4 501.2,392.5 499.7,388.9 500,385 500.4,381.6 500.7,378.6 501.2,375 499.7,373.3 498.3,369.4 497.5,367.5 496.3,363.8 496.2,360 493.8,356.2 495.9,353.7 497.5,350 500.5,348.1 502.2,345.9 505,345 507.3,345.1 510.2,342.1 512.3,341.3 515.4,340.3 517.5,340 520.7,339.4 523.5,338.1 526.2,337.5 527.1,334.5 527.2,332.3 528.8,330 530.8,327.7 532.3,324.6 535,322.5 538.3,320.4 540,317.5 540.7,313.7 541.2,310 543.6,309.1 546.2,307.5 547.7,304.9 548.3,301.7 550,300 549.9,297.1 547.9,295.7 547.5,292.5 546.6,288.4 545,286.2 544.7,283.7 544.3,281 544.2,278.3 543.9,275.7 543.8,272.5 544.1,269.5 542.9,266.6 543.7,264.3 543.4,261.7 543.8,258.8 545.7,256.3"/>
<polygon points="495,418.8 498.2,417.2 500,415 501.8,413.5 504.2,412.7 506.9,411.4 510,411.2 513.1,410.6 514.6,410.1 517.8,408.6 520,407.5 522.4,404.8 524.4,403 527.1,402.1 530,400 531.6,396.9 532.6,394.6 535,392.5 536.5,390.7 538.8,387.6 540,385 542,381.4 544.8,379.8 546.2,377.5 548.6,373.7 550,371.2 553.1,369.8 554.6,368.1 556.5,366.8 558.8,364.7 560,362.5 560.9,360.6 564.3,359.5 566.4,357.4 567.5,355 570.7,353.9 572.5,353.4 574.6,351.9 577.5,350 580.7,350 584.2,348.6 586.7,348 590,347.5 593.1,346.7 595.6,346.2 597.5,345 598.8,340 602.4,339.8 604.9,338.2 607.5,337.5 610.9,336.8 611.7,334.6 615,333.8 617.8,332 620.1,330.8 622.2,331.9 625,330 627.2,329.2 630.6,329.6 633.8,328.2 636.2,327.5 638.5,329 641.2,331.2 641.9,334.5 642.6,336.9 642.5,340 644.5,342.5 647.6,344.1 650,345 652.8,347.6 654.5,349.1 657.5,350 662.5,351.2 662.2,354.8 663.8,358.8 660.8,358.9 657.3,359.1 655,358.8 652.8,358.5 649.4,356.3 647.3,355.8 645,353.8 642.7,353 640.6,351.2 637.5,350 635.3,349.6 631.7,349.1 630,347.5 626.9,348.9 624.9,350.5 622.5,352.5 620.2,354.9 618.8,357 616.2,358.8 614,361.6 614.6,364 612.9,367 611.2,370 608.5,372.4 607.1,375 605,377.5 603.2,380.7 601,381.9 598.8,385 596.8,388.7 596.2,391.2 594.2,393.6 591.2,395 587.5,393.8 586.2,388.8 583.5,389.5 580,390 578,391.4 574.4,393.5 572.5,395 570.3,395.9 567.4,398.2 565,400 562.9,401.9 559.2,401.8 558.2,403.7 555,405 553.2,407.2 550,408.2 547.5,411.2 545.5,412.4 542.5,412.7 539.9,414.1 537.5,415 534.8,415.4 532.3,416 529.7,417.6 527.5,418.8 524.4,420 521.8,420.2 520.5,421.6 517.5,422.5 513.9,423.4 510,423.8 506.5,423.9 503.4,421.2 500,421.2 497,419.7"/>
<polygon points="418.8,415 421.5,413.9 425,413.8 427.6,412 430.9,411 433.8,411.2 437.5,408.8 441.9,409.5 445,410 447.6,412.7 450,415 448.9,417.7 447.5,421.2 445.1,423.3 443,426.1 440,427.5 438.1,430.1 437.8,433 436.2,435 433.9,433.6 431.8,431 430,430 427.5,429.2 424.6,427.7 422.5,427.5 419.9,425.7 418.9,424.1 417.5,421.2 417.5,418"/>
<polygon points="666.2,402.5 667.8,400.9 669.9,398.9 672.7,396.9 675,396.2 677.7,394.6 680.4,395 682.5,393.4 684.5,392.9 687.5,392 691.5,390.7 694.7,389.9 697.5,390 700.3,390.1 701.8,392.3 705.4,393.5 707.5,393.8 711,395.2 712.5,397.5 713.4,400.5 713.8,405 711.6,408.1 710,411.2 707.8,413.9 705.4,413.7 702.5,415.5 701.2,417.5 701.9,420.9 703.8,423.8 701.3,425.4 697.5,426.2 695.1,427.8 693.1,430.3 691.2,432.5 688.1,433.2 685,433.8 683.1,434.9 682.4,438.5 680,440 679.3,442.8 677.9,444.8 676.2,447.5 675.1,449.6 675,453.3 673.6,454.4 672.5,457.5 672.7,460.2 671,464.8 670,467.5 671.7,470.8 671.7,474.2 672,477.5 671,479.7 670.7,482.9 671.9,485.3 671.2,488 666.7,487.2 663.8,487.5 662.6,484.7 663.4,481.5 662.5,477.5 661.2,474.8 661.9,471.2 660.6,468.6 660,465 659.9,462.2 660.8,458.7 662.6,455.6 662.5,452.5 662.5,449.5 664.2,447.5 665.1,445.5 665.2,442.5 666.2,440 667,435.8 666.9,433.2 668.8,430 670.3,427.5 673.7,425.4 675,422.5 674,419.4 672.5,417.5 670,415 669.4,412.6 667.1,410.6 665,408.8 665.1,404.9"/>
<polygon points="1142.5,413.8 1145.6,412.9 1147.5,411.2 1150.5,410.9 1154.2,409.9 1157.5,409.3 1160,408.8 1162.8,406.4 1164.4,405.5 1167.5,403.8 1170.5,403 1172.3,400.2 1175.6,400.1 1177.5,398.8 1180,394.5 1183.9,395.2 1187.5,396.2 1188.8,398 1191.5,400.1 1193.8,401.2 1192.1,402.5 1190,405 1189.3,407.3 1186.7,409.4 1185,411.2 1182.3,411.9 1180,413.8 1177.5,411.2 1175,414 1172.5,415 1170.7,416.6 1166.8,417.7 1165,420 1162.9,422.3 1161.2,423.8 1158.9,422.9 1155.2,421.7 1152.5,421.2 1150.1,420.3 1147.5,417.5 1145.6,415.1"/>
<polygon points="1113.8,435 1116.3,434.7 1119.4,433.8 1121.7,433.9 1125,433.8 1128.9,433.4 1131.7,434.3 1135,435.2 1137.5,434.5 1141.1,434.4 1144,432.6 1146.8,434 1150,432.5 1153.6,431.7 1157,433.4 1160,432.5 1162.9,432.9 1167.5,432.5 1170,435 1167.3,438 1165,440 1162.4,441.9 1160.3,442.8 1157.5,445 1160.9,445.9 1163.3,446.9 1165,448.8 1165.2,452.2 1166.2,455 1163.6,455.7 1160,457.5 1157.1,457.7 1154.3,457.9 1150.4,457.1 1147.5,457.5 1143.9,457.7 1141.8,458.2 1138.8,457.6 1135,458.8 1131.3,459.1 1128.9,457.5 1125,457.5 1121.5,457.4 1117.5,457.5 1116.2,452.5 1115,449.9 1114.6,447.4 1113.8,445 1115.4,442.3 1116.9,440.7 1118.8,438.8 1115.8,437.7"/>
<polygon points="1081.2,445 1083.8,444 1087.5,443.8 1090,447.5 1092.5,449.7 1095,451.2 1096.3,454.5 1098.8,457.5 1102.2,456.9 1104.4,457.5 1107.5,457 1110.1,456.8 1114.3,457.2 1117.5,457.5 1121.5,457.4 1125,457.5 1122.5,461.2 1120.8,463.2 1117.6,463.4 1115,465 1110,466.2 1109.3,468.7 1110,472.5 1106.6,472.3 1103.5,472.8 1100,473 1096.7,471.8 1092.5,471.2 1090,471 1087.5,469.1 1085,468.8 1082.5,467.1 1078.8,466.2 1079.5,462.7 1081.1,460 1081.2,457.5 1081.1,454.5 1081.4,450.7 1081.4,448.2"/>
<polygon points="1110,466.2 1115,465 1117.6,463.4 1120.8,463.2 1122.5,461.2 1125,457.5 1128.9,457.5 1131.3,459.1 1135,458.8 1138.8,457.6 1141.8,458.2 1143.9,457.7 1147.5,457.5 1150.4,457.1 1154.3,457.9 1157.1,457.7 1160,457.5 1163.6,455.7 1166.2,455 1169,456.7 1170,458.8 1172.8,456.4 1173.8,453.8 1176.4,455 1180,455 1182.1,457.6 1184.3,459.3 1187.5,461.2 1189.7,460.3 1192.1,459.2 1195,458.8 1198,461.7 1201.2,462.5 1203.8,460.9 1207.5,460 1210.8,460 1215,461.2 1219,462.3 1221.4,463.7 1225,463.8 1228.2,464.3 1229.2,466.1 1232.5,466.2 1231.6,469.2 1229.6,471.6 1227.5,473.8 1225.8,477 1225,480 1222.8,482.1 1220,484.3 1218.8,486.2 1216,487.1 1212,488.7 1210,490 1206.1,490.2 1203.9,491.2 1200,491.2 1196.3,491.2 1193.5,489.7 1190,490 1187.4,491 1183.4,489.8 1181.2,490 1180,487.5 1178.3,485.8 1174.8,484.2 1171.8,483.7 1170,482.5 1167.1,482.4 1164.5,481.6 1161.2,482.5 1160,487.5 1161.1,490.1 1162.5,492.5 1165.5,493.6 1167.6,494.4 1170,495 1172.8,495.5 1176.2,497.5 1175,502.5 1171.6,503.7 1167.5,503.8 1165.5,503.1 1162.8,502 1160.5,500.2 1157.5,500 1154.7,500.8 1152.5,502.2 1150,503.8 1147.7,503.3 1145.2,501.7 1142.5,500 1137.5,500 1140,497.7 1141.2,493.8 1144.3,491.8 1145.5,489.4 1147.5,487.5 1145.6,485.5 1142.9,484.4 1140,483.8 1137.6,481.8 1134.3,481 1132.5,480 1130.8,478.7 1127.5,477.8 1125,477.5 1122.6,477.7 1120.3,475.6 1117.5,475 1114.6,473.3 1113.3,472.7 1110,472.5 1109.3,468.7"/>
<polygon points="1025,477.5 1026.1,475 1027.6,472.8 1028.8,470 1033.8,468.8 1037.9,470.4 1040.5,471.2 1040.9,475.1 1041.2,477.5 1044.4,478.7 1047.5,480 1050.7,481.3 1052.7,483.1 1055,483.8 1055.8,486.7 1056.2,491.2 1058.9,491.8 1061.2,493.8 1061.5,497.6 1060,500 1057.3,501.7 1055,505 1051.4,502.5 1050,500 1048.6,503 1048.8,506.2 1049.2,509.5 1050,513.8 1046.2,513.9 1043.4,512.5 1040.5,513 1037.6,514.5 1034.8,516.7 1032.5,517.5 1028.8,518.6 1026.2,520 1023.6,518.6 1020,518.8 1017.8,515.4 1016.2,512.5 1013.1,511.7 1010.9,510.4 1008.8,510 1009.1,506.2 1007.9,503 1007.5,500 1006.6,496.8 1006.3,494.2 1005.1,491.8 1003.8,488.8 1006.5,487.7 1010.4,486.4 1012.5,485 1016.8,486.5 1018.8,488.8 1022,487.2 1026.2,487.5 1027.1,484.7 1028.8,482.5 1026.5,479.8"/>
<polygon stroke="none" points="1082.5,612.5 1085.2,611.1 1087.9,609.2 1090,607.5 1092.3,606 1096.2,603.8 1098.4,602.4 1101.3,603.1 1104.5,601.7 1107.5,601.2 1110.8,601.1 1113.3,600.1 1115,598.8 1118,598.1 1122.4,598.6 1125,597.5 1128.1,599.7 1130,602.6 1132.5,603.8 1136,604.1 1138.5,603.9 1142.5,605 1145.8,605.6 1150,606.2 1153.7,607.6 1156.8,608.1 1160,608.8 1161.6,611 1165.2,612 1167.5,613.8 1169.5,615.4 1173.2,616.9 1175,618.8 1177.4,619.6 1182.3,619.1 1185,620 1188.1,618.9 1189.7,618.1 1192.5,616.2 1194.8,613.4 1197.5,611.2 1196.4,615.2 1195,617.5 1193.1,620.2 1193.8,622.2 1191.8,625.3 1191.2,627.5 1190.1,629.6 1189.6,632.2 1189.3,635.6 1188,637.3 1187.5,640 1185.9,642.7 1184.9,645 1183.9,647.3 1183.8,650 1182.2,652.1 1181.6,656.7 1180,659 1108.8,659 1110.1,656.2 1111.2,652.5 1109.7,650.8 1108.6,646.8 1106.2,645 1105.1,642.5 1104.1,639.4 1103.2,637.9 1102.5,635 1099.5,632.8 1097.8,631.3 1095,630 1091.5,628.7 1090.2,626.2 1087.5,625 1085.1,623.6 1082.8,621.5 1081.2,620 1081,616.7"/>
<polygon points="837.5,496.2 841.1,497.1 843.3,496.9 846.1,498.7 850,498.8 851.9,500.8 855,502.2 856.8,503.9 860,505 861.2,507.7 861.1,511.8 862.5,515 863.9,517.1 867.5,517.2 870,520 872.8,520.2 874.9,521.9 877.5,522.5 878.2,525.6 880.1,527.5 881.2,530 883.6,532.9 885,535 882.2,537.6 882.4,539.6 880,542.5 878.6,545.2 877.2,547.6 877.5,550 878.6,552.6 879.1,556.8 880,560 881.7,562.2 881.8,565.5 882.5,567.5 881.8,572.2 882.5,575 879.5,576.7 877.5,577.5 875,575.3 872.2,575.1 870,572.5 867.5,570.4 864.7,568.9 862.2,566.8 860,565 857.9,562.3 856.2,560 854.1,558.2 852.8,555.3 850,552.5 848.5,549.8 846.1,549.2 845,547.1 842.5,545 839.4,544.5 837,542 835.3,540.6 832.5,540 830.9,538.2 827.5,536.7 824.4,535.9 822.5,533.8 819.8,531.1 816.2,530 816.2,526.4 814.6,522.5 813.8,520 814.8,516.2 813.7,514 815,510 818.2,508.6 820,506.2 822.4,509.5 825,511.5 827.5,512.5 830.1,514.8 832.7,516.2 835,517.5 839.1,516.5 842.5,516.2 843.8,512.5 842.4,510.6 842,507.9 840,505 838.4,502.9 838.2,499.6"/>
<polygon points="327.5,475 331.4,474.2 333,472.9 336.2,471.2 338.3,472.3 340.6,474.1 343.8,475 345.3,472.9 345.8,470 347.5,468 350.1,468 353.3,469.9 356.4,471.2 358.8,472.5 358,475.2 358.9,478.2 358.3,481.9 357.8,483.8 358.8,487.5 357.1,489.5 356.6,491.7 356.2,495 357.2,498.1 357.3,499.7 359.8,502.1 360,505 359.8,508.2 359.3,510.5 359.3,514.3 359.3,517.7 358.8,520 356.1,520.2 352.5,522.5 350.1,525 348.8,526.8 346.7,529.3 345,531.2 340.8,530.5 338.9,529.4 335,528.8 334.3,525.6 331.5,522.9 330,520 327.9,519 326.6,516 324.1,515 322.5,512.5 321.3,510.8 318,509.6 316.2,507.9 313.8,506.2 313.8,502.5 314.7,499.7 315.3,497.6 317.1,494.7 319.4,493.1 319.6,490.3 321.2,487.5 321.8,484.6 323.4,481.7 324.1,480.2 327,478"/>
<polygon points="428.8,431.2 431.2,433.9 434,434.8 436.2,437.5 439.3,439 441.2,439.9 445,440 448,441.3 452.5,441.2 453.4,443.9 454.5,446.5 455,450 455.1,452.5 455.3,456.9 454.5,459.5 453.8,462.5 453.1,465 454.2,469.3 453.3,472.2 453,475 451.2,477.2 451,480.6 450,483.8 447.2,483.7 445.3,481.6 442.9,481.6 440,480 437.6,479 435,476.8 432.1,477.1 430,475 427.1,472.9 424.3,471.5 422.5,468.8 419.1,467.8 415,467.5 413,465.8 410,465.8 407.5,465 408.8,462.5 411.1,460.9 412.5,458.8 411.2,456.5 408,452.7 407.5,450 410.3,449.8 412.6,447.7 415,447.5 417.3,445.3 418.6,444.1 421,441.4 422.5,440 424.3,437.4 426,436.7 426.9,432.5"/>
<polygon points="492.5,621.2 494.7,620.6 497.2,619 500,617.5 502.1,615.1 504.7,614.6 508.3,611.7 510,610 512.3,607.6 516.2,606.2 517.7,608.2 520.6,608.7 522.5,611.2 525.3,613.1 527.2,614.1 530.7,614.9 532.5,616.2 535.7,617.5 537,619 540,621.2 542.4,622.3 545,625 543.8,628.8 541.2,629.1 537.5,630 535.6,633.1 533.8,635 531.3,634.8 527.4,633.5 525,633.8 522,634 518.8,634.8 515,635 512.6,632.5 511.2,630 507.5,628.5 505,627.5 502.8,625.6 500,623.8 497.3,623.4 495.3,623.2"/>
<polygon points="546.2,625 547.5,621.5 550.1,620.2 550.7,616.6 552.5,615 554.6,613 556.5,610.1 558.8,607.8 560,605 561.2,602.8 563.2,600.7 566.6,599.7 568,596.6 570,595 571.3,593.3 574.5,591 575.1,589.7 576,586.4 578.4,585.5 580,582.5 581.1,580.5 582.5,577.9 584.9,576.5 585.6,573.9 588.1,571.5 590,570 591.2,567.6 594.7,566.7 595.1,563.6 598.7,562.7 600,560 602.8,558.7 603.8,555.9 605.6,554.8 607.5,552.4 610,551.2 612.9,550.8 615.1,549 618.1,549.8 619.8,547.6 622.5,547.5 625,543.8 626.5,547 628.9,548.8 630,551.2 632.5,552.9 635.5,554.5 637.5,556.2 639.3,558.2 642.7,559.4 645.3,562.6 647.5,563.8 650.1,565 653,565.7 655,566.2 656,568.6 657.7,570.7 660.3,572.3 661.2,575 660,577.8 659.1,579.4 658.8,582.5 655.3,584 652.5,586.2 649.6,586.1 646.2,587.5 642.6,589.5 640,591.2 637.4,591.6 634.7,593.6 631.2,593.8 632.5,597.5 628.1,596.2 625,596.2 621.8,597.5 617.7,596.2 615,597.5 612.1,599.6 610.8,601.7 608.6,602.7 606.2,605 605.9,607.3 602.9,610.3 602.5,612.5 603.9,615.1 605.5,617 606.2,620 602.1,621.4 600,623.8 596.6,624.9 593.8,626.2 593.8,628.8 595.6,633.1 595,636.2 593,638.8 592.2,641.2 590,642.5 587,643.3 585.1,645.2 582.5,646.2 579.9,644.8 575.6,645.1 572.5,643.8 569.8,641.9 567.6,640.8 565,640 562.4,640.9 558.3,641.5 555,641.2 553.3,639.6 551.9,635.4 550,633.8 549.6,630.6 547.4,628"/>
<polygon points="631.2,593.8 634.7,593.6 637.4,591.6 640,591.2 642.6,589.5 646.2,587.5 646.2,591.7 647.5,595 645.5,596.7 644.9,600.3 642.5,602.5 640.5,603.9 637.5,605 634.9,602.4 633.8,600 632,597.4"/>
<polygon points="427.5,746.2 431.3,743.8 433.8,742.5 433,739.7 434.8,737.3 434.7,734.6 435.3,731.9 435,728.8 438.1,727.4 441.1,726.7 445,726.2 448.3,726 450.8,725.6 454.2,725 456.8,724.8 460,725 463,724.7 465.9,726 469.4,725.4 472.5,725.3 475,726.2 476.7,724.6 479.7,724.3 483.3,722.7 485.5,721.1 487.5,720 490.1,719.5 492.9,719 496.5,718.1 499.7,718.1 502.4,717 505,716.2 507.9,718 510.3,718.8 512.5,720 511.1,723.8 511,726.5 510,730 508.2,733 509,736.8 507.5,740 505.9,743 506.6,746.9 505.4,748.6 505,752.5 502.9,754.6 502.3,758.1 500,761.2 497.2,762.4 495.7,764.1 491.9,764.4 489.4,766.5 487.5,767.5 484.5,768.1 482.9,769.4 479.7,771 477.4,770.9 475,772.5 472.2,773.9 469.5,773.9 464.8,774.5 462.5,775.5 459.7,774.5 457.3,773.4 455.6,772.1 452.5,771.2 451.1,769.4 448.3,767.8 446.1,766.3 445.3,764.3 442.5,762.5 440.6,761.4 439.2,758.5 436.8,757.7 434.8,756 432.5,753.8 431.6,750.6 428.5,749.1"/>
<polygon points="582.5,676.2 585.8,676.8 588.8,677.5 593.8,678.8 597.5,681.2 599.4,683.4 602,685.8 603.8,687.5 604.2,690.5 605.9,691.7 606.2,695 605.4,697.2 603.3,700.5 602.5,702.5 601.1,705.3 601.6,708.2 600,710 596,709.3 592.5,708.8 592,705.5 591.5,703.2 591.2,700 590,698 589.1,694.7 585.7,692.7 585,690 583.2,687.9 582.4,685.4 581.2,682.5 582.3,678.9"/>
<polygon points="543.8,691.2 547.3,691.3 549.2,690.7 552.5,690 554.7,691.4 557.1,691.5 560,692.5 562,694.6 564,696.5 565.9,698.5 567.5,700 568.9,703.3 568.8,706.3 570,708.8 572.5,710 570,710.6 565.6,711.6 563.1,710.4 560,711.2 556.5,710.8 553,713.1 550,712.5 546.6,713.9 543.1,713.6 540,715 538.2,717.4 535.2,718.2 533.5,721 530,722.5 531.3,719.5 532.7,716.8 534.6,715.4 535,712.5 537.2,709.1 538.2,707.6 541.2,705 542.7,701.8 542.5,697.5 543.5,693.9"/>
<polygon points="562.5,765 565,761.2 567.9,762.3 572.2,762.3 575,762.5 577.9,762.4 581.8,765.2 585,765 586.7,763.4 590,762.5 591.9,759.8 594.1,758.4 596.2,757.5 598.6,755.3 600,752.5 601.7,749.2 602.5,746.2 604.8,749.2 607.5,750 607.5,753.8 607.7,756.8 610,758.7 610,761.2 614.5,761.7 617.5,762.5 616.7,765.5 616.2,770 616.4,773.6 615,777.5 612.5,779.4 609.4,780.2 607.5,782.5 603.7,784.3 600.4,784.5 597.5,785 594,787.3 592.5,790 590,793.8 587.5,795 585.3,792.4 582.4,790.6 580,790 578,789.4 575.1,788.2 572.5,787.5 569.3,786.9 566.7,785.8 562.5,786.2 560.3,785.1 557.5,783.8 558.8,781.1 560,777.5 561.5,775.3 563.2,772.3 563.8,770"/>
<polygon points="555,816.2 556.3,813.8 558.7,812.6 560,810 563.6,810.6 566.8,810.5 570,811.2 574.1,811.1 576.3,812.8 580,812.5 584.1,813 587.5,813 590,813.8 594.4,814.2 597.5,813.8 596.1,816.2 596.2,820 595.2,822.6 592.8,824.3 591.2,826.2 588,829.2 585,830 582.8,833.2 580,835 577.5,834.2 575.2,832.5 572.5,831.2 569.6,829.2 567.6,828.6 565,826.2 562.2,825.8 559.3,823.9 557.5,822.5 556.1,819.3"/>
<polygon points="552.5,857.5 555.5,856.2 557.2,856.4 560,855 564.4,855.4 567.5,855 570.5,856.2 574,856.1 576.2,856.2 579.3,857.5 581.7,858.5 585,858.8 587.7,860.6 589.5,861.5 592.5,862.5 595.2,866.1 597.5,867.5 600.9,866.3 604.6,866.2 607.5,865 608,867.5 611.2,869.3 612.5,872.5 614.6,874.5 616.4,877.2 617.5,880 614.3,880.1 611.5,881.8 607.5,882.5 604.5,883.6 600.1,883.2 597.5,883.8 595.4,881.6 593.8,877.5 590.9,876.1 587.8,875 585,875 581.4,874.6 577.5,873.8 575.4,875 573.8,877.5 572.5,874.7 570,872.5 568.4,870.4 564.7,869.5 562.5,867.5 559.2,867.5 556.2,866.2 552.5,865 552.6,862.2 550.6,859.6 550,857.5"/>
<polygon points="767.5,635 769.8,633.8 773.4,633.5 774.6,632.9 777.7,631.4 780,630 781.7,628.5 785,627.9 787.9,626.1 790,623.8 792.8,621.9 795,622.8 797.3,620.6 800.2,620.8 802.5,620 805.5,620.2 808.7,619.5 811.9,618.8 815,617.5 818.3,617.5 821.6,615.5 825,615 827.6,617.2 828.1,620.1 830,622.5 832.8,622.5 835.1,624.6 837.3,626.2 840,626.2 843.5,626.2 846.2,626.5 849.6,627.8 852.5,628.8 854.3,629.7 857.7,629.9 859.7,632 862.5,632.5 864.7,635.4 867.5,636.2 864.5,637 861.2,637.5 857.7,636.6 855,637.5 851.7,637.6 848.1,637.4 846.2,638.7 842.5,638.8 839.5,638.6 836.2,638.8 833,638.7 830,638.8 826.2,639.2 824.1,639.2 819.9,640.4 817.5,641.2 815.5,642 812.8,644.1 809.6,643.7 806.9,645 805,646.2 803.1,647.1 799.5,648.4 797,649.3 794.7,650.7 792.5,651.2 790.2,653.3 788.1,654.1 784.7,655.2 782.1,655.5 780,657.5 779.3,655.1 779,651.7 777.5,650 775.8,647.1 774.2,645.4 773.8,642.5 770.5,640.1 769.8,637.9"/>
<polygon points="985,667.5 987.7,669.8 990,670 993.3,671.6 995.6,673.6 997.5,676.2 999.5,677.9 1002.5,680 1005,682.5 1007.8,684.6 1009.4,685.6 1012.4,686.8 1015,687.5 1017.4,687.9 1019.6,688.4 1022.5,690 1022.2,693.4 1021.7,696 1020.8,699.4 1020,702.5 1019.8,704.6 1019.3,708.3 1018,711.3 1018.8,713.8 1015,712.5 1015.4,709.9 1015.1,705 1016.2,702.5 1015.5,699.9 1016.6,696.1 1014.8,693.1 1015,690 1011.6,689.7 1008.2,689.5 1005,688.8 1002.4,688.2 1000.3,686.6 996.9,686.1 995,685 992.4,684.6 988.1,683.7 985,682.5 982.4,680.6 980,678.5 978.8,676.2 980.6,674.1 981.2,671.2 983.4,670.5"/>
<polygon points="916.2,767.5 918.7,765.6 921.8,763.6 925,762.5 928.1,761.5 932.5,762.5 935.2,760.5 937.5,757.5 941.4,756.7 943.8,755 945,756.2 947.3,756.8 950.3,758.6 952.5,760 954.6,761.8 956.8,763.7 960,765 962.3,767.5 965.2,768.1 967.5,770 970.7,769.2 973.6,769.2 977.5,770 979.8,771.8 982.5,775 979.5,776 976,776.1 973.4,775 970,776.2 966.5,776.7 963.7,778 960,777.5 957.4,777.9 954,776.2 951.2,776.2 947.9,776.8 945,777.5 941.8,778.6 938.1,779.2 935,780 932.2,778.4 928.1,778.7 925,777.5 921.6,776.1 920.5,774.5 917.5,772.5"/>
<polygon stroke="none" points="862.5,855 866.1,853.3 867.5,851.2 871.4,852.9 875,852.5 877.2,855 880.3,855.7 882.5,857.5 885.4,860.1 888.8,861.2 887.2,864.2 885,865 882.3,867.7 880,870 877.6,873.1 875,875 873.2,877.3 871.2,879 815,879 817.6,879 820.8,877.4 821.8,875.6 825,875 829.3,874 832.5,873.8 836.7,874.5 840,875 843.1,872.8 845,870 847.3,869 850.8,866.9 852.5,865 852.6,862.3 854.1,859.3 855,857.5 856.8,854.6 858,853 858.8,850 861.6,852.7"/>
<polygon points="632.5,781.2 635.4,781.4 637.9,783.3 640.1,784.3 642.5,785 644.6,787 647.6,788.6 650,790 652.9,790.4 654.3,792.1 657.5,792.5 661.7,792.2 665,793.8 667,791.8 667.3,789.3 670,787.5 672.7,785.4 674.5,784.2 677.5,782.5 681.6,782.8 683.7,782.5 687.5,783.8 691.5,784.4 694.3,784.8 697.5,785 700.2,786.4 701.9,786.7 705,787.5 707.8,787.6 710.3,789.9 712.5,790 714.9,792.6 717.4,794.3 720,795 723.4,797.3 725.4,798.2 727.5,801.2 731,801.9 733.8,803.8 734,806.6 733.4,810.2 732.5,812.5 729.2,812.3 725,813.8 722.7,815.1 720,816.2 716.2,816.2 712,816.1 708.8,816.2 706.6,818.4 702.5,820 699.8,820.8 697.4,822.1 695,823.8 691.3,822.7 688.3,823.8 685,822.5 681.7,822.3 677.7,819.9 675,820 672.2,818.9 670.2,818.9 667.5,817.4 665,816.2 663.5,813.9 662.5,812.1 660,810 658.1,808.9 656.8,806.4 653.6,804.2 652.5,802.5 650.8,799.7 649,798.9 647.5,796.8 645,795 641.4,793.2 640.2,791.1 637.5,788.8 635.4,787.3 633.5,784.1"/>
<polygon points="722.5,815 726,814.9 730.1,813.6 732.5,812.5 735.4,811.5 738.2,811.6 740,810 742.5,812.5 743.9,815.2 746.1,816.8 747.5,818.8 750.5,821.5 753.2,822.4 755,825 757.2,827.4 760,830 758.6,833.4 756.2,835 752.8,834.5 750.4,833.1 747.5,832.5 745,836.2 743.4,835 741.8,831.8 739.1,831.5 737.5,828.8 733.9,829.6 730,830 728.2,827.7 725.1,826.1 722.5,825 721.2,820"/>
<polygon points="710,827.5 712.9,829.1 715,831.2 717.8,832.3 722.5,832.5 723.4,836.4 723.8,840 722.1,842.2 721.2,846.2 718.4,847.5 716.2,847.5 712.5,847.5 711.2,842.5 709.7,839.1 708.8,836.2 709.8,833.2 709,830.2"/>
<polygon stroke="none" points="661.2,855 664.9,854.2 666.7,852.4 670,852.5 673.6,852.6 676.2,851.9 680,850 684,850.2 687.5,850.1 690,851.2 694,852.2 697.1,852.9 700,852.5 701.4,855.4 702.3,857.7 703.8,860 705.2,862.1 707.9,863.4 710.4,866.4 712.5,867.5 713.6,869.6 715.1,872 716.4,875.5 717.5,877.5 719.8,879 722.5,879 682.5,879 680.5,876.8 679.1,873.6 675.9,872.3 675,870 672.2,869.5 670.7,867.1 667,864.8 665,863.8 663.4,861.9 661.2,858.8"/>
<polygon stroke="none" points="1180,657.5 1181.2,662.5 1182.1,666.6 1181.8,669 1181.2,672.5 1180.5,676.2 1177.5,678.8 1176.9,681.9 1176.2,686.2 1176.4,688.8 1175,692.5 1176.5,695.3 1178,698.8 1176.2,701.2 1174.5,699.1 1173.8,696.2 1174,692.7 1173.4,690.2 1172.5,687.5 1170,688.8 1168.1,686.5 1167.5,682.5 1167,679.2 1164.9,677.9 1165,675 1163.4,672.9 1163.1,670.3 1162.5,667.5 1158.8,668.8 1157.5,670.5 1155,672.5 1152.9,671.9 1150,670 1147.1,671.1 1145,672.5 1141.2,670 1136.2,670 1135.2,672.1 1132,672.2 1130,675 1125,676.2 1123.9,680.1 1122.5,682.5 1124.1,685.1 1123.2,687.6 1125,690 1125.8,693 1126.2,697.5 1122.8,696.5 1120,696.2 1117.7,694.6 1115,693.8 1113.3,691 1112.5,689.4 1110,687.5 1105,686.2 1102.2,685.2 1100,682.5 1096.1,681.3 1092.5,681.2 1089.7,683 1088.1,684 1086.2,686.2 1082,685.2 1078.8,685 1076.2,682.5 1075,678.8 1073.9,675.6 1072.5,672.5 1069.5,668.8 1071.5,667.6 1075,667.5 1080,666.2 1080.3,663.6 1079.5,660 1082.5,661.2 1083.7,664.2 1085.7,666.3 1087.5,670 1090.7,671.1 1092.5,672.3 1095,673.8 1097.7,674.8 1100.3,675.8 1102.5,676.2 1105,672.5 1105.1,668.2 1107.3,666.6 1107.5,662.5 1108.8,657.5"/>
<polygon stroke="none" points="617.5,877.5 617.5,880 614.3,880.1 611.5,881.8 607.5,882.5 604.5,883.6 600.1,883.2 597.5,883.8 595.4,881.6 593.8,877.5"/>
<polygon points="623.8,918.8 626.2,916.9 628.8,915.5 630.9,918.9 633.8,921.2 634.7,923.7 635,927 631.9,928.6 628.8,929.5 626.4,927.5 624.8,925.7 622.5,923.8"/>
<polygon points="643.8,915 647.2,913.6 649.3,914.1 652.5,912.5 655.7,913 660,911.2 662.2,912.9 666.2,915 669.4,917.4 671.2,920 672.3,916.5 672.6,913.5 673.5,910.4 673.8,907.5 675.8,905.2 677.5,904.6 680,902.5 683.6,900.9 686.2,898.8 688.3,899.9 691.3,900.2 693.8,901.2 695.9,905.1 697.5,907.5 697.6,912 698.8,915 698.4,919.1 700,921.3 700,925 699.6,928.4 700.5,932.4 701.2,935 702.5,938.8 699.9,937.6 697.4,936.1 695,935 691.9,934 690.3,931.8 687.5,931.2 683.8,930.5 680,930 675.8,928.9 672.5,928.8 669,927.7 665,927.5 662.3,928.5 658.7,928.4 655,930 653.3,931.5 649.9,931 647.5,932.5 645,933.8 643.8,931.4 644.1,927.9 643.8,925 644.4,921.9 643.4,917.7"/>
<polygon points="662.5,862.5 664.9,861.1 667.9,861.2 670,860 672.5,860.1 675.8,860.1 677.8,861 680.5,860.2 683.4,860.2 685.6,859.4 689,859.6 691.7,860.7 694.4,859.7 697,860.9 699.1,859.9 701.3,860.6 704.8,859.2 707.8,859.1 709.4,859.5 712.5,860 712.8,862.5 715.5,864.2 716.2,867.5 715.3,870.6 715,875 717.2,877 720,877.5 722.2,876.6 724.7,876 727.9,874.6 730,873.8 735,872.5 737.7,871.7 742,871.5 745,870 746.8,868.6 749.5,868.5 752.3,867.6 755,865.4 757.5,865 758.5,862.2 760,860 762.9,859.6 766.4,859.7 770,860 771,863 771.3,864.9 771.7,867.9 774.3,870 774.1,872.9 775,875 776.1,877.5 778.7,879.5 779.4,881.8 780.5,885.9 782.5,887.5 784.6,888.3 786.2,891.2 786.2,893.5 786.4,897.4 785.4,900.2 786.2,902.5 784.7,906.5 784.8,908.6 783.8,912.5 782.6,915.7 780.9,917.3 780,920 777.2,921 775.8,922.4 772.2,923.2 770,923.8 766.7,923.4 763.7,924.3 760,925 756,926.6 752.5,926.2 751.6,922.9 750.4,921.2 750.6,918.1 749.4,915.8 748.8,912.5 746.5,908.8 745,906.2 742.7,902.5 741.2,900 739.5,898.6 737.1,895.8 735,895 732.7,893.9 730.5,893.5 727.5,892.5 724.9,892.9 722,893.7 720,895 717.8,897.3 716.7,899.1 715,900.7 712.5,902.5 710.3,901.7 707.1,899.5 705,898.8 701.7,898.3 697.6,898.7 695,900 693.8,901.2 693,898.3 692.8,895.7 692.5,892.5 691,889.6 690,886.2 687.7,884.1 685,881.2 682.8,878.8 680,876.5 677.5,875 675.2,873.2 672.6,870.9 670,870 667.7,868.4 666.2,865.7 664.7,863.9"/>
<polygon points="780,920 783.8,922.5 784,925.1 787,927.2 788.2,930.4 788.8,932.5 789.6,935.9 789.9,939.9 791.2,942.5 787.5,945 787.4,942.3 786.7,938.3 786.2,935 784.9,932.6 784.4,930.3 782.5,927.5 782.2,925.3 781,922"/>
<polygon points="796.2,888.8 799.2,887.6 801.2,886.4 802.4,884.8 805,883 807.3,881.9 810,881.1 812.2,880.8 815,880 816.9,877.7 820.3,877.1 822.5,875 824.6,873.7 827.9,872.7 830,872.5 833.2,872.4 836.3,873 839.3,874.6 842.5,875 844.5,872.4 845.2,871.1 848.2,868.7 850,867.5 851,864.5 852.7,862.2 855,860 858.4,859.9 860.4,859.3 864.3,860.9 866.7,860.8 870,860 870.1,863 870.3,865.6 870.4,868.1 870.3,870.8 870.9,873.5 871.6,876.3 871.2,879 868.7,879.8 865,880 862.1,881.3 860.5,883.2 858.2,885.3 855,887.5 853,889.5 850.4,891.6 847.7,893.6 845,895 842.9,895.9 841.1,897.9 839.5,900.5 837.5,902.5 836.6,904.4 835.4,907.7 835,910 835.5,913.9 835,916.2 831.2,915.6 828.8,916.2 826,913.6 822.5,912.5 821.1,910.5 819.1,908.4 816.2,906.2 815.3,903.1 813,901 812.5,897.5 810.8,895.2 809,893.8 807.5,891.2 803.2,890.9 800,891.2"/>
<polygon points="602.5,967.5 605,966.2 607.5,965 609.5,966 611.3,968.5 613.8,970.6 616.9,972.4 618.8,973.8 616.5,977.1 615,980 613.5,983 612.4,984.7 610,987.5 608.3,989.4 605.8,992.8 605,995 601.2,997.5 599.6,995.2 596.2,993.8 595,990.9 593.8,987.5 595.4,985.7 595.7,982.1 596.2,980 597.5,977.8 598.6,975.6 600,972.5 601.2,970.2"/>
<polygon points="660,946.2 663.8,945 665.7,947.7 667.9,949.5 668.8,952.5 669.9,955.2 672,956.5 673.8,958.8 675,962.5 674.8,964.6 673.4,967.2 672.5,970 672.1,972.4 671.7,975.3 670,977.5 667.5,980.1 666.8,984.3 665,986.2 665.3,988.8 666.2,992.5 665.9,996 667.5,1000 667.8,1003.1 667,1006.3 666.2,1010 667.3,1013.3 668.1,1017 667.5,1020 664.6,1021.6 662.6,1020.9 660,1022.5 658.2,1024 655,1023.9 652.5,1025 649.8,1026.2 648.1,1026.6 645,1027.5 643,1029.7 640,1032.5 637.2,1032.3 633.8,1032.6 630,1031.2 627.8,1029.8 626.2,1027.8 624.7,1025.2 622.5,1023.8 625,1020 626.6,1017.1 627.5,1015 627.9,1012.4 628.8,1008.8 631.2,1008.7 635,1007.5 635.4,1005 637.5,1002.5 638.6,1000.1 638.8,996.7 640,995 640.6,992.2 641.7,988.3 642.5,985 643.2,981.8 645.6,979.7 646.2,977.5 647.7,975.4 647.8,972.5 650,970 652.8,968 655,965 656.8,962.5 657.4,959.8 657.5,957.5 657.6,954.6 658.8,950"/>
<polygon points="695,977.5 699.5,977.4 702.5,976.2 704.2,980 705,982.5 707.7,983.9 709.7,984.1 712.5,985 716.2,983.8 715.6,987 714.9,989.9 715,993.8 714,997.4 713.8,1000 714.6,1002.6 712.9,1006.5 713.8,1010 712.4,1013 710,1015 708.5,1017.3 707.5,1020 703.5,1021.1 700,1021.2 695.8,1020.3 692.5,1020 689.4,1018.2 687.6,1017.6 685,1015 683.6,1011.7 683.4,1008 682.5,1005 681.1,1001.4 679.3,998.9 678.8,996.2 680.5,992.8 682,990.6 682.5,987.5 685.4,985.2 687.5,982.5 690.4,980.2 691.7,979.2"/>
<polygon points="627.5,1067.5 630.6,1066.3 632.5,1065 634.9,1061.3 637.5,1060 641.5,1059.8 645,1058.8 648,1059.7 652.2,1058.7 655,1060 660,1060 658.8,1062.5 658.9,1065.8 657.2,1069.9 657.5,1072.5 657.4,1075.8 656.2,1080 652.9,1079.7 650.7,1081.5 647.5,1081.2 646.2,1086.2 643.2,1086.1 640.3,1084.9 637.5,1085 635.1,1083.1 632.7,1082.4 630,1081.2 628.5,1078.3 626.2,1077 625,1075 627.6,1074.7 630,1072.5 629,1069.9"/>
<polygon points="741.2,990 744,989.6 747.5,991 750,990 753.5,988.9 756,988.2 758.8,988.8 762.1,985.9 765,985 765.6,988 765.9,992 766.2,995 767,997.8 766.3,1001.4 767.5,1005 768.2,1008.4 769.2,1010.9 768.8,1015 769.7,1017.6 770.1,1020 771.2,1022.5 771.4,1025.7 770.6,1028.7 769.9,1032.6 770,1035 769.5,1037.7 768.2,1039.5 767.1,1042.5 766.2,1045 764.8,1046.9 765.5,1049.6 763.8,1052.5 763.4,1049.2 762.1,1047.1 760.3,1045.9 760,1042.5 756.7,1040.1 755,1037.5 752.8,1037.3 749.3,1038.9 747.5,1040 742.7,1040.2 740,1038.8 739.3,1035.1 738,1033 737.5,1030 737.1,1027.9 736.3,1024.2 735,1022.5 733.6,1019 732.5,1016.2 734.1,1013.4 735.6,1011.8 737.5,1010 740.1,1008.2 742.5,1007.5 742.4,1005.4 741.9,1001.8 741.8,999 741.2,996.2 741.5,993.2"/>
<polygon points="637.1,1132.9 639.7,1132.3 642.9,1132.9 647.1,1132.8 650,1131.4 653,1133.4 655.7,1134.3 657.9,1137.4 659.3,1140 660.2,1143 660,1145.7 662.1,1146.6 664.3,1149.3 667.1,1152.1 670.7,1155.7 671.4,1158.3 672.1,1161.4 669.3,1164.3 667.9,1167.9 668.9,1170.1 669.3,1172.9 668.6,1177.1 671.4,1181.4 674.4,1183.9 677.1,1185 678.1,1188.3 680,1190 680.4,1193 682.9,1195.7 680.7,1198.6 678.5,1197.5 675.7,1197.1 672.3,1195.5 670,1194.3 668.1,1193.3 666.7,1189.6 664.3,1188.6 662,1187.5 660.2,1184.2 658.6,1182.9 656.8,1180 655.1,1178.9 652.9,1177.1 650.8,1175.1 647.9,1171.4 646.1,1168.7 645,1164.3 644.2,1159.7 642.1,1157.1 641,1153.6 639.3,1150 638.7,1147.7 639.3,1144.5 638.6,1141.4 637.9,1139.3 637.6,1135.6"/>
<polygon points="672.1,1161.4 673.6,1157.1 675,1152.9 675.7,1150.3 677.1,1147.1 681.1,1145.8 682.9,1143.6 686.4,1143.7 688.6,1142.6 692.9,1145 694.4,1147.1 697.1,1148.6 698.7,1150.7 699.3,1154.3 700.2,1156.7 700.7,1160 701.9,1163.1 701.4,1165.7 697.1,1164.3 693.4,1162.7 690,1162.9 686.8,1162.1 684.3,1161.4 681.1,1162.2 678.6,1162.1 674.3,1162.9"/>
<polygon points="677.1,1185 680,1184.3 682.4,1183.6 685.7,1183.6 689.4,1184.5 692.9,1183.6 695.8,1183 698.6,1182.9 697.1,1187.1 694.9,1188 692.9,1190.7 689,1192 687.1,1194.3 682.9,1195.7 680.4,1193 680,1190 678.1,1188.3"/>
<polygon points="674.9,579 677.9,577.3 680.1,575.1 683.5,573.6 685.1,571 687.9,570.5 690.8,568.7 693.7,567.8 695.7,566 697.6,564.7 699.6,563.4 702.2,561.4 706.1,560.8 709.7,561.4 712.6,563.4 716.4,563.5 719.1,563.1 721.8,565.7 725.6,566.6 727,568.9 730.8,570.5 735.3,571.8 738.6,571.2 736.8,574 734.7,575.1 733.5,578.5 733.4,581.6 732.3,584.8 729.5,588.1 727.5,589.9 726.9,592.6 724.3,594.5 722.9,596.5 723,599.7 721.9,602.1 720.4,604.9 717.4,606.4 715.4,608.2 713.9,609.5 711.6,611.7 708.7,612.7 706,614.1 703.1,615.4 700.9,616.6 699.1,619.5 695.7,621.8 693.7,623.8 691.8,627 690.2,629.3 689.2,631.4 687.9,634.8 686,637.7 683.4,640 683.1,644 682.7,646.5 682.7,648.6 684,651.7 682.3,654 680.8,656.2 676.9,658.8 674.9,654.3 674.8,651.7 674.8,648.4 673.6,646.5 674.6,643.7 675.1,641.3 674.9,638.7 674.6,635.5 674.7,633.5 677.5,629.6 679.6,627.1 680.8,624.4 681.3,620.9 680.1,617.9 681.4,615.6 680.8,612.7 681.2,610 683.4,608.2 678.8,606.9 674.9,603.6 673.7,600.7 672.3,598.4 670.6,594.4 669.1,591.9 671.6,589.1 672.3,586.8 674.9,582.9"/>
<polygon points="647,597.1 647.7,601 648.8,603.5 651.6,604.9 654.4,607.5 658.1,608.8 661.9,610.1 665.8,607.5 667,610.7 666.5,614 668.3,617.5 668.4,620.5 669.3,623.5 670.4,625.7 671.7,627.5 672.5,631.2 674.7,633.5 673.9,635.8 674.3,639.1 674.1,641.1 674.1,644.5 673.6,646.5 674.8,648.4 674.8,651.7 674.9,654.3 676.9,658.8 675.5,661.2 674.9,664.7 674.5,667.5 674.6,672.3 674.9,675.1 674.1,679.1 673.4,681.7 672.5,684.9 670.5,687.7 670.3,690 667.5,692.5 664.5,693.2 662.2,694.7 660,694.9 657.8,696.2 655.8,698.3 652.5,700 649.5,701.2 646.2,701.3 648.3,699.3 650,697.5 652.4,694.8 653.3,691.7 655.8,689.9 657.5,687.5 658.1,684.5 659.9,682.1 661.5,680.2 662.6,677.5 663.2,675.6 663.8,672.7 664.5,669.9 665.3,667.2 665.6,665.3 666.5,662.1 666.2,658.6 664.5,656.9 662.8,654 660.6,650.4 658.2,646.8 655.5,645.2 653,641.4 650.3,640 649.6,636.1 650.8,632.4 652.9,630.9 650.4,629.1 649,627 647.7,624.6 646,622.7 643.8,620.5 644.3,618.1 644.9,615.9 644.4,612.7 643.2,609.4 642.1,606.6 640.5,604.9 641.2,602.3 643.8,599.7"/>
</g>
<g fill="#ffa500" stroke="#000" stroke-width="0.85">
<polygon points="422.5,368.8 425.3,367.4 427.5,366.2 430.5,370 430.1,372.7 430,377 428.8,380 425,381.2 422.9,379.7 420.8,376.2 422.1,372.2"/>
<polygon points="420,378.8 422.6,380.1 425,381.2 425.5,383.9 425.1,387 426.2,390 425.9,393.1 424.6,397.2 425,400 423.3,403.2 420.9,404.3 420,407.5 417.3,408.1 414.8,409.3 412.7,409.2 410,411.2 407.9,409.4 405.5,409.5 401.8,408.8 400,407.5 399.5,404.3 400,401.2 401.6,399.4 403.7,397.1 405,393.8 407.1,392.2 408.8,389.2 410,387.5 412.9,386.6 415,385 416,382.2 418.8,380.3"/>
<polygon points="425,395 428.9,394.7 432.5,396.2 434.8,394.4 437.1,391.4 438.8,388.8 439.5,386.3 442.9,383.6 443.8,381.2 446.3,380.8 449.1,378.3 451.2,377.5 453.7,379.3 457.5,381.2 460.3,382.7 462.5,386.2 464.6,383.1 466.2,380 468.6,378.5 472.5,376.2 472,379.6 472.8,382.1 471.7,384.2 471.2,387.5 469.3,390.1 469.2,393.1 467.6,394.9 467.5,397.5 467.5,399.9 465.5,403.1 464.8,406.3 465,408.8 463.1,410.7 462.5,413.7 460,416.2 457.5,416 453.1,414.8 450,415 447.6,412.7 445,410 441.9,409.5 437.5,408.8 436.2,403.8 434.9,405.5 434.7,408.7 433.8,411.2 430.9,411 427.6,412 425,413.8 424,411.8 421.2,410 421.5,406.7 421.2,402.5 423.2,399.8 423.9,397.3"/>
<polygon points="1161.2,427.5 1161.4,425 1164.2,422.6 1165,420 1166.8,417.7 1170.7,416.6 1172.5,415 1175,414 1177.5,411.2 1177.7,414.4 1179.3,416.9 1180,418.8 1178.9,421.1 1177.5,423.8 1175.4,425.8 1173.9,427.1 1172.5,430 1170.3,430.7 1167.7,431.4 1165,432.5 1161.7,432.8 1158.8,431.2"/>
<polygon points="1087.5,443.8 1089.2,441.4 1089.7,438.7 1092.5,436.2 1094.1,433.8 1097.5,431.2 1099.6,432.7 1102.6,432 1105,433.8 1107.6,434.2 1109.6,436.6 1112.5,437 1116.5,437.2 1118.8,438.8 1116.9,440.7 1115.4,442.3 1113.8,445 1114.6,447.4 1115,449.9 1116.2,452.5 1117.5,457.5 1114.3,457.2 1110.1,456.8 1107.5,457 1104.4,457.5 1102.2,456.9 1098.8,457.5 1096.3,454.5 1095,451.2 1092.5,449.7 1090,447.5"/>
<polygon points="1031.2,446.2 1034.9,444.6 1037.5,443.8 1040.6,444.2 1042.7,445.1 1046.2,445 1047.8,447.5 1048.8,451.2 1047.9,453.9 1047.5,457.5 1047.9,460.2 1049.5,463.8 1048.5,466.8 1047.5,470 1044.2,469.7 1040.5,471.2 1037.9,470.4 1033.8,468.8 1032.6,465.2 1032.3,463.4 1033,460 1031.8,456.3 1030,453.8 1029.9,449.1"/>
<polygon stroke="none" points="1026.2,520 1028.8,518.6 1032.5,517.5 1034.8,516.7 1037.6,514.5 1040.5,513 1042.5,516.3 1044.6,518.3 1047.5,520 1046.8,523.4 1046.6,526.1 1046,527.8 1047,531.5 1046.2,533.8 1046.7,536.3 1049.6,539.3 1050.1,541.8 1052.5,545 1053.6,548.1 1055.8,550.2 1056.5,552.3 1057.5,555 1057.9,557.8 1059,562.1 1060,565 1062.4,568.5 1065,570 1066.7,571.9 1066.4,575.4 1068.8,577.2 1068.8,580 1071.4,582.8 1072.7,585.5 1075,587.5 1077.6,590.2 1077.8,593.2 1080,596.2 1082.9,596.8 1085,598 1087.5,600 1090.1,600.3 1093.9,601.9 1096.2,603.8 1092.3,606 1090,607.5 1087.9,609.2 1085.2,611.1 1082.5,612.5 1080.7,615.4 1079.6,616.7 1078.8,620 1080.2,621.6 1079.6,625.7 1081.2,627.5 1082.1,632.2 1083,635 1083.4,637.7 1081.6,642.2 1081.2,645 1081.1,647.4 1081,651 1081.3,653.9 1082.7,656.8 1082,659 1075,659 1075.4,656.3 1075.5,653.3 1076.6,650.4 1076.1,648.2 1076.2,645 1074.9,641.7 1075.7,637.9 1073.8,635 1073.8,632.5 1071.7,629.8 1068.6,627.5 1067.5,625 1065.8,621.7 1064.1,619.5 1061.2,617.5 1059.4,614.6 1057.6,611.8 1056.2,608.8 1054.5,606.1 1052.8,604.3 1052.1,601.4 1050,600 1048.7,597.8 1048.4,594.9 1047,592.2 1046.2,590 1045.8,587.2 1044.8,583.9 1045,580 1044.1,577.2 1043.2,575 1041.6,572.9 1041.2,570 1040,568 1039.4,564.9 1037.5,562.5 1035.5,560.5 1033.8,557.5 1031.2,556.7 1028.5,554.6 1026.2,553.8 1023.8,551.2 1021.2,548.8 1022.2,545.4 1022.5,543.7 1023,540.3 1022.5,537.5 1022.9,534.6 1024.6,531.8 1025,527.5 1024.9,522.8"/>
<polygon points="1021.2,548.8 1023.8,551.2 1026.2,553.8 1028.5,554.6 1031.2,556.7 1033.8,557.5 1034.2,561.2 1034.6,563.4 1035,567.5 1034.9,571 1033.8,575 1031.4,576.6 1027.5,578.8 1023.7,580 1021.2,582.5 1019.8,584.3 1018.4,587.9 1016.2,590 1016.8,593.1 1015.7,597.2 1015,600 1016.8,602.4 1017.1,604.3 1017.5,607.5 1018.7,610.7 1020,613.8 1019.2,616.7 1018.8,621.2 1016.2,620 1014.9,618.1 1015.2,615 1013.6,612.8 1012.5,610 1011.8,606.8 1009.9,605.3 1008.8,602.1 1007.5,600 1007.3,596.8 1006.4,593.2 1006.2,590 1004.9,587.3 1002.6,585.4 1001.2,582.5 999,580.3 999,577.4 996.2,575 994.6,572.2 992.5,568.8 994.6,566.5 996.2,562.5 998.8,560.2 1000,557.5 1003.4,557.5 1007.1,556.7 1010,555 1012.1,552.8 1015,551.2 1018.4,549.8"/>
<polygon points="770,498.8 772.6,500.3 775.1,502.8 776.2,505 779.2,507 780.8,509.5 782.5,512.5 784.6,514.9 787.5,517.5 789.6,519.9 790.7,522.6 792.5,525 794.2,526.5 797,527.2 800,528.8 801.2,527.5 801.7,524.7 804.1,522.3 805,520 805.2,516 803.8,512.5 802.7,510.3 801.9,508 801.2,505 802.5,502.3 802.3,500.3 803.8,497.5 806.1,497.3 810,497.5 812.1,499.7 815.1,499.9 817.5,502.5 820.6,502.9 823.4,503 827.5,502.5 829.4,501 832.9,498.7 835.1,497.6 837.5,496.2 838.2,499.6 838.4,502.9 840,505 842,507.9 842.4,510.6 843.8,512.5 842.5,516.2 839.1,516.5 835,517.5 832.7,516.2 830.1,514.8 827.5,512.5 825,511.5 822.4,509.5 820,506.2 818.2,508.6 815,510 813.7,514 814.8,516.2 813.8,520 814.6,522.5 816.2,526.4 816.2,530 819.8,531.1 822.5,533.8 824.4,535.9 827.5,536.7 830.9,538.2 832.5,540 835.3,540.6 837,542 839.4,544.5 842.5,545 845,547.1 846.1,549.2 848.5,549.8 850,552.5 852.8,555.3 854.1,558.2 856.2,560 857.9,562.3 860,565 862.2,566.8 864.7,568.9 867.5,570.4 870,572.5 872.2,575.1 875,575.3 877.5,577.5 880,578.8 877.7,580.5 875,581.2 871.1,581.6 867.7,580.7 865,580.5 860.9,579.9 858.9,579.2 855,579.5 852.3,577.8 849.6,574.9 847.5,573.8 844.4,571.3 841.6,569.7 840,567.5 836.9,566.8 835.1,564.2 831.9,563.9 830,562.5 825.8,562.3 823.4,559.9 820,560 816.8,558.6 814,556.9 812.5,555 811.2,553.3 808,551.2 806.5,549.6 805,547.5 802.3,545.5 800.9,544.2 797.5,542.5 794.9,541.1 792.5,537.5 791.3,535.3 789.3,532.9 788.8,530 788.2,527.1 785.9,525.8 785,522.5 782.5,520.3 781.3,517.4 780,515 777.8,513 775.9,510.6 775,507.5 772.9,504.5 771.2,501.1"/>
<polygon points="862.5,497.5 864.1,494.6 865,491.2 868.3,491.7 870.2,490.7 873.8,490 873.5,486.5 875,482.5 876.4,480.2 876.1,477.7 878.5,474.8 878.8,472.5 880.4,470.4 882.5,468.8 886.8,468.9 890,467.5 893,468.3 896.2,471.2 896.4,474.1 897.1,477.2 897.5,480 900.4,481.8 901.4,484.5 903.4,485.1 905,487.5 907.5,486.8 910,483.8 914.2,483.6 916.3,482.3 920,481.2 924.6,480.8 927.5,480 930.1,479.8 934,480.8 936.2,480 936.5,483.2 937,486.1 937.5,490 938.5,493 941.1,494 942.5,497.5 944.3,500.7 946,501.8 947.5,505 945.2,507.5 942.5,510 939.2,512.6 937.5,515 938.1,517.6 938.5,520.6 940,522.5 936.2,525 933.5,527.2 930,527.5 927.9,528.1 925,530 926.2,532.4 928.8,535 927.5,538.8 924.2,539.3 920.4,537.1 917.5,537.5 914.8,536.2 910.7,535.9 907.5,536.2 903.6,536.5 900,537.5 896.8,537.2 895.3,536.5 892.5,535 887.5,533.8 885,535 883.6,532.9 881.2,530 880.1,527.5 878.2,525.6 877.5,522.5 874.9,521.9 872.8,520.2 870,520 867.5,517.2 863.9,517.1 862.5,515 861.1,511.8 861.2,507.7 860,505 860,502.1 861.6,499.5"/>
<polygon points="885,535 888.5,535 892.5,535 895.3,538 895.8,540 897.5,543.8 899.7,547 901.8,549.8 902.5,552.5 904.1,555.3 906.2,557.3 907.5,560 910,561.7 911.9,564.6 913.8,567.5 914.5,570.7 915.9,572.4 917.5,575 919.8,576.8 920.1,580.2 922.8,582.5 923.8,585 925.1,586.8 926.8,590 927.2,591.6 930,593.8 931.9,597.1 933.8,598.8 931.6,599.6 928.8,601.2 928.1,598.9 924.7,596.1 923.8,593.8 922,590.8 921.3,588.1 918.8,585 916.7,583.2 915.6,579.8 913.8,576.2 911.9,574.1 909.4,572.4 907.5,570 904.3,567.4 902.5,565 899.9,562.7 897.5,562.5 896.5,560 893.7,557.9 892.5,555 889.3,552.2 887.5,550 885.1,548.2 882.5,545 881.2,540 883.2,537.5"/>
<polygon points="993.8,560 997.5,558.8 996,562 995.3,564.5 993.9,566.7 993.8,570 994.5,572.8 995.5,576 995,580 995.6,583.5 995.5,586.2 995.5,589.8 996.2,592.5 995.9,596.3 995.5,598.6 996.6,602.3 996.2,605 996.2,610 992.9,609 988.8,608.8 986.1,608.8 983.1,609.9 980,611.2 978.6,609.6 976.7,606.5 975,605 971.6,604.2 968.8,604.6 966.2,603.8 968.2,600.5 970,597.5 970.2,594.5 972.4,592.3 972.8,590.3 973.6,587.6 975,585 976.9,582.8 978.9,580.6 979.1,577.9 981.2,576.2 982.3,573.8 985.2,572.2 986,570.5 987.5,567.5 990.1,564.7 991.9,562.2"/>
<polygon points="647.5,590 650.6,592 652.3,593.5 655,595 657.7,597.7 659.8,598.6 662.5,600 664.2,603.2 666.2,605 664.7,606.7 663.8,610 659.6,609.2 657.5,607.5 654.3,605.3 652.5,602.3 650,601.2 648.3,598.9 646.2,595"/>
<polygon points="543.8,628.8 546.2,630.6 547.5,633.8 549.4,637.2 550,640 548.2,642.8 546.2,646.2 544.3,648.8 543.8,652.5 544.7,655.7 545.7,658.1 547.5,660 547.7,662.5 549.3,664.7 550,667.5 551.8,669.1 553.3,671.4 556.2,672.5 558.4,674.5 560,677.5 557,678.8 554.3,682.1 552.5,683.8 549.4,685 547.5,687.5 545.4,689.6 543.8,691.2 543.5,693.9 542.5,697.5 542.7,701.8 541.2,705 538.2,707.6 537.2,709.1 535,712.5 532.3,711.4 529.5,711.3 527.5,710 525.5,710.9 522.7,711.2 520.3,712.4 517.5,713.8 515,715.9 513.4,716.6 510,717.5 505,716.2 502.4,717 499.7,718.1 496.5,718.1 492.9,719 490.1,719.5 487.5,720 485.5,721.1 483.3,722.7 479.7,724.3 476.7,724.6 475,726.2 473.8,723.5 474.2,720.9 472.5,717.5 473.8,715.7 475.1,711.9 475.2,710.2 477.5,707.5 479.5,705.6 481.9,704.1 485.2,703.2 487.1,701.9 490,700 492.7,698.8 494.3,696 497.6,694.4 500,692.5 502.5,690.3 504.9,689.5 508.1,686.9 510,685 510.8,682.5 512.4,680.5 514.1,678.2 515,675 517,672.9 518.4,671.4 520.8,670 522.5,667.5 522.5,664.3 525.1,660.3 525,657.5 526.8,655.5 527.1,653 529.8,649.8 530,647.5 531.3,644.1 534.1,642.4 535,640 535.9,637.5 538.1,634.3 540,632.5 542.1,630.9"/>
<polygon points="560,677.5 562.8,680.6 565,682.5 566.8,684.9 568.8,687.5 568.7,691.7 570,695 569,698.2 567.5,700 565.9,698.5 564,696.5 562,694.6 560,692.5 557.1,691.5 554.7,691.4 552.5,690 550.2,687.9 547.5,687.5 549.4,685 552.5,683.8 554.3,682.1 557,678.8"/>
<polygon points="595,625 597.7,624.9 600.1,623.1 602.5,622.5 605,622.7 607,620.1 610,620 613.6,620.8 617.6,620.9 620,622.5 621.6,619.4 623.8,617.2 625,615 628.3,612.9 630.1,610.4 632.5,608.8 636.2,608.2 638.8,606.2 641.1,608.6 642.5,612.5 643.9,616.4 642.4,619.3 643.8,622.5 644.7,624.7 645.9,627.4 649.3,629.9 650,632.5 650.1,636.7 650,640 652,641.3 653.8,643.7 655.8,646.1 657.5,647.5 659.1,649.6 661.6,652.2 663.8,655 664.6,657.7 665.4,662.1 666.2,665 665.3,667.3 664.2,670.2 664,672.9 663.5,675.5 662.5,677.5 660.7,679.8 660.1,682.5 659.1,685.3 657.5,687.5 655.8,689.9 653.3,691.7 652.4,694.8 650,697.5 648.6,699.9 646.2,701.2 643.9,703.7 642.4,705.3 640,707.5 637.5,708.3 634,709.8 630,710 626.1,711.4 623.2,710.9 620,712.5 616.3,711.5 612.5,711.2 610,709.3 606.9,709.1 605,707.5 602.6,707.7 600,710 601.6,708.2 601.1,705.3 602.5,702.5 603.3,700.5 605.4,697.2 606.2,695 605.9,691.7 604.2,690.5 603.8,687.5 602,685.8 599.4,683.4 597.5,681.2 593.8,678.8 592.1,675.7 592,672.5 591.2,668.5 590.8,666.4 591.2,662.5 588.6,662.2 586.2,660 587.5,657 588.7,654.3 590,652.5 589.6,648.7 589.9,646.4 591.2,642.5 592.9,639.9 596,639.5 597.5,637.5 595.6,634.3 593.8,632.5 594.9,628.9"/>
<polygon points="575,662.5 577.2,661 580,658.8 583.7,659.7 586.2,660 586,663.4 585.9,667.2 586.2,670 585,673.4 582.5,676.2 581.2,675 580.1,671.7 580,667.5 576.6,665"/>
<polygon points="525,760 522.5,756.2 525.4,756 527.5,753.6 530,753.8 533.1,752.6 536.6,751.9 540,752.5 544.1,751.7 545.7,750.6 550,750 552.5,750 554.5,748.1 555,745 557.6,744.1 560.5,742 562.5,741.2 566.8,739.7 570,740 571.9,738.9 574.4,738.3 577.5,737.5 580.6,737.2 585,736.2 587,736.7 590.4,738.1 592.5,738.8 594,740.8 597.5,742.5 599.7,744.4 602.5,746.2 601.7,749.2 600,752.5 598.6,755.3 596.2,757.5 594.1,758.4 591.9,759.8 590,762.5 586.7,763.4 585,765 581.8,765.2 577.9,762.4 575,762.5 572.2,762.3 567.9,762.3 565,761.2 562.5,765 559.7,764 557,763 554.9,762.3 552.5,761.2 549.8,759.8 545.6,759.1 542.5,758.8 539.7,758.6 535.1,759 532.5,758 528.2,759.1"/>
<polygon points="617.5,765 622.5,763.8 627.1,762.6 630,762.5 629.6,766.1 628.8,768.8 629.9,771.6 630,775 632.1,778.1 632.5,781.2 628.3,782 625,782 621.9,783.9 618.8,783.8 616.8,781.6 615,777.5 616.4,773.6 616.2,770"/>
<polygon points="630,762.5 629.5,758.4 628.8,755 630,750 633.2,749.4 634.6,748.5 637.5,747.5 640.5,745.5 642.7,743.4 645,742.5 646.6,741 650.2,740.3 652.3,739.3 655,737.5 657.3,737.4 660.4,735.4 662.8,735.5 665,733.8 667.5,732.8 669.5,732.4 672.5,731.2 676.5,731.9 680,732.5 683.1,734.1 684.9,734.9 687.5,736.2 690.5,737.5 694.1,736.8 697.5,737.5 700.4,737.8 705,737.5 706.2,742.5 703,743.7 700,745 696.9,744.3 693.6,744.2 690,743.8 686.4,743.5 682.5,743 679.4,744 676.9,746 675,747.5 672.4,750 670.2,749.8 667.5,752.5 663.8,753.7 661.5,754.1 657.5,755 654.1,755.9 651.2,756.6 647.5,757.5 645.3,757.5 642.5,758.9 640.6,760.1 637.5,761.2 632.9,762.8"/>
<polygon points="557.5,822.5 559.3,823.9 562.2,825.8 565,826.2 567.6,828.6 569.6,829.2 572.5,831.2 575.2,832.5 577.5,834.2 580,835 581.3,836.8 583.4,838.7 586.2,840 587.5,845 585,847.8 583.8,850 583.5,852.5 581.2,855 576.2,856.2 576.8,852 577.5,848.8 576.2,843.8 573.3,842 570,840 567.4,838.6 564.8,837.2 562.5,836.2 559.3,835 557.7,834.8 555,832.5 550,831.2 552.1,830.4 553.8,827.5 556.4,825.4"/>
<polygon points="547.5,842.5 551.8,843.4 555,843.8 557.7,845.2 559.1,846.1 562.5,846.2 564.8,846.1 567.7,847.9 570,848.8 573.7,848.6 577.5,848.8 576.8,852 576.2,856.2 574,856.1 570.5,856.2 567.5,855 564,855.2 560,853.8 555.4,853.6 552.5,852.5 549.7,850.8 546.2,850 545,845"/>
<polygon points="597.5,810 599.2,812.4 602.5,813.8 600,817.5 598.4,816 596.2,813.8"/>
<polygon points="671.2,687.5 672,684.3 671.9,680.4 673.5,678.8 673.8,675 673,672.6 673.5,667.7 672.5,665 674,663 675.7,660.1 676.2,657.5 677.9,655.3 680.9,652.9 682.5,650 681.9,646.6 681.9,643.2 682.5,640 684.2,637.1 686.6,635.8 688.4,635.3 690,632.5 691.1,630.2 692.1,628 692.5,625 694,622.6 696.8,622 698.2,619.6 700,617.5 702.2,617 705.3,615 707.5,612.9 710,612.5 711.9,611.1 715.3,608.3 717.5,606.6 720,605 722,602.2 722.1,600.2 723.6,598 725,595 728.2,595.2 730.9,593.4 733.7,593.4 737.5,592.5 740.6,591.3 743.8,590.2 747.5,590 751.4,590.6 753.5,589.7 756,591.7 760,591.2 763.7,591.7 766.6,593.2 768.7,592.6 772.5,593.8 774.9,595.2 777.5,597.5 775,600.3 773.4,601.8 771.2,605 771.5,608.3 773.4,611.1 773.8,615 772.6,616.8 772.6,620.1 770.3,622.1 770,625 770.8,627.6 770.8,631.3 772.5,635 773.4,637.9 776.2,639 777.5,642.5 778.1,646.1 780,648.8 778.7,652.2 776.9,654.4 775,656.2 772.1,657.7 770.2,660.7 767.5,662.5 765.5,664.3 762.8,665.4 760,667.5 757.6,670 755.6,671.3 752.5,672.5 749.8,674 748.2,675.5 746.8,678.8 745,680 743.9,682.7 742,683.9 740,686.2 742.5,690 739.7,688.4 736.1,688.2 732.5,687.5 730.3,686.1 727.5,685.5 724.4,685 722.5,683.8 720.1,682.5 715.9,682.3 712.5,681.2 709.9,680.8 705.9,682.2 702.5,682.5 699.8,683.3 695.1,682.6 692.5,683.8 689.9,685.2 687.5,687.1 685,687.5 685,690.1 684.2,694.2 685,697.5 682.5,697.2 679.4,696.5 677.5,695 674.8,692 674.1,689.5"/>
<polygon points="765,667.5 768,666.4 769.8,663.2 772.5,662.5 774.9,660.1 777.7,659.4 780,657.5 782.1,655.5 784.7,655.2 788.1,654.1 790.2,653.3 792.5,651.2 794.7,650.7 797,649.3 799.5,648.4 803.1,647.1 805,646.2 806.9,645 809.6,643.7 812.8,644.1 815.5,642 817.5,641.2 819.9,640.4 824.1,639.2 826.2,639.2 830,638.8 833,638.7 836.2,638.8 839.5,638.6 842.5,638.8 846.2,638.7 848.1,637.4 851.7,637.6 855,637.5 857.7,636.6 861.2,637.5 864.5,637 867.5,636.2 870.6,636.1 875,637.6 877.5,638.8 880.1,638.2 882.4,637 885,636.2 886.5,633.9 890,632.3 892.5,630 894.1,627.4 896.3,626.1 899,624.7 900,622.5 901.6,621.3 903.2,618.7 906.2,617.6 907.5,615 908.4,612 910,609.9 912.5,607.5 914.3,604.2 915,601.2 918.2,601.3 921.2,600 920,602.8 919,604.7 917.5,607.5 915.8,609.5 915.4,612.3 915,615 912.7,616.2 911.8,619.1 910.1,620.8 907.5,622.5 905.7,624.2 903.4,625.9 902.3,628.2 900,630 896.9,632 896.5,634.6 893.8,636.2 895.1,638.7 894.7,642.1 896.2,645 896.9,647.4 897.5,651.2 900.3,651.2 902.5,652.9 904.9,653.9 907.6,655 910,655 913.2,655.9 914.7,657.2 917.3,659.7 920,660 918.8,663.4 916.7,665 915,667.5 913.8,671 910.8,672.3 910,675 909.6,677.8 908.2,680.3 906.2,682.5 904.7,685.5 903.9,687.4 902.5,690 901.1,687.8 898.8,686.2 896.8,684.5 893.8,683.8 891.4,686.2 887.5,687.5 885,687.8 882.5,690 879.8,691.6 876.2,692.5 872.5,693.8 870,697.5 869,699.7 867.5,702.5 864.9,706.1 862.5,707.5 860.5,709.4 860.6,712.4 858.8,715 855.7,716.4 854.7,718.5 852.5,720 849.7,721 847.5,722.5 846.2,719.7 843.8,717.5 840.6,715.2 837.5,715 836.6,712.4 834,710.2 832.5,708.8 830.4,707.3 828.3,706 825,705 821.6,705 817.5,705 815.8,706.8 812.2,707.9 810,710 807,710.6 805,712.5 802,715.2 800,717.5 798.2,719.7 797.2,721.9 797.3,724.9 795,727.5 792.1,729 790,730 786.2,732.5 782.7,732.1 780,731.2 776.8,729.9 775,729.3 772.5,727.5 771.5,724.1 770.6,721.5 770,717.5 769.8,714.9 769.1,710.8 768.8,707.5 771.3,705.3 773.7,702.4 775,700 774.7,697.3 774.4,694.1 773.8,690 774.9,687.6 776.1,685.9 776.2,682.5 774.6,678.3 775,675 772.5,673.2 770,671.2 767.7,668.4"/>
<polygon points="773.8,690 776.8,687.9 780,687.5 783.6,686.2 786.3,687 790,686.2 792.1,688.2 794.5,689.2 797.5,690 800,690.9 802.5,694.1 805,695 807.2,697.2 809.1,698.6 812.5,700 815.4,701.8 817.3,703.3 820,703.8 823.9,702.5 826.2,700 826.9,696.8 826.2,694 827.5,690 829.4,687.5 829.8,684.8 830.5,681.9 831.2,680 833.8,679.2 837.6,676.7 840,676.2 841,678.9 844.3,680.5 845,682.5 846.9,684.2 848.3,686.7 850,690 851,693.1 852.7,695.5 855,697.5 856.1,699.6 857.8,702.7 857.5,705 855.1,707.9 853.6,709.3 852.5,712.5 852.5,716.2 852.5,720 851.4,722.1 849.6,725.3 847.5,727.5 847.8,730.6 848.8,735 847.7,737.4 846.8,740.3 846.2,742.5 848.2,745.9 850,747.5 851.2,752.5 851.6,756.5 852.5,760 851.4,762.6 850,765 849.1,767 849.4,770 847.5,772.5 846,774.9 843.8,776.2 843,779.4 841.9,781.6 840,785 836.6,787 835,790 832.8,792.2 831.2,795 830.1,798 829.8,800.6 828.8,802.5 828.7,805.7 826.2,807.3 826.2,810 827,812.2 828.2,815.4 830,817.5 828.2,820 827.5,821.9 827.5,825 823.4,825.9 820.7,825.1 817.5,826.2 814.9,828 812.5,830 811,827.3 808.8,825 807.7,821.6 807.4,818.7 806.2,816.2 805.2,813.4 802.5,810 799.2,807.8 796.2,806.2 793.1,806.8 790,807.5 786.9,808.1 785,810 781.8,811.6 780,813.8 778.7,817.1 777.5,820 776.1,822.2 773.5,823.6 772.5,826.2 768.5,827.1 765,826.2 762.8,829.6 762.5,832.5 759.4,831.6 757.7,830.6 755,830 753,829.5 749.8,828.4 747.5,827.5 748.9,823.6 748.7,820.7 750,817.5 753.2,815.6 755,812.5 758.5,810.1 760,807.5 763.8,805 767.1,803.4 770,802.5 773.5,800.3 775,797.5 776.1,795.5 776.8,792.3 777.5,790 777.1,786.8 775.3,783.2 775,780 776.1,776.8 776,773.4 777.5,770 778.4,766.6 780,765.5 782.3,762.4 782.5,760 783,757.5 784.2,754.3 783.8,750 784.3,747.2 785.4,744.8 786.6,741.9 787.5,740 788,736.8 786.2,732.5 790,730 792.1,729 795,727.5 797.3,724.9 797.2,721.9 798.2,719.7 800,717.5 798,714.7 796.9,711.9 795,710 791,708.2 787.6,708.8 785,707.5 783.5,706 781.2,704.2 779.8,701.9 777.5,700 775.5,697.1 775,695"/>
<polygon points="928.8,648.8 931.6,647.7 934.8,646.8 937.5,645 941.1,643.6 944.8,644 947.5,643.8 950.4,643.3 952.7,642.7 956.3,643.8 958.7,642.6 961.2,642.5 963.1,645.2 965.4,646.5 967.5,648.8 970.9,650.7 973.2,652.3 975,655 978.1,657.5 979,659.3 982.5,661.2 984.5,664.1 985,667.5 983.4,670.5 981.2,671.2 980.6,674.1 978.8,676.2 975.1,676.9 973.2,679.6 970,680 967,681.1 963.5,680.1 960,681.2 956.8,680.6 953.7,678.8 951.2,677.5 951.9,674.8 951.4,670 952.5,667.5 952.2,664.9 950,662.5 947.9,661.5 946.2,658.8 943,658.4 940.9,658 937.5,656.2 934.4,655.8 931.2,653.8 929.2,651.5"/>
<polygon points="920,660 923.7,661.9 925.5,662.9 928.8,665 931.9,667.1 934.2,668.4 937.5,670 939.9,669.7 942.5,668.9 945.6,670 948.3,669.1 951.2,668.8 950.7,671.1 951.6,675.2 951.2,677.5 953.7,678.8 956.8,680.6 960,681.2 963.5,680.1 967,681.1 970,680 973.2,679.6 975.1,676.9 978.8,676.2 980,678.5 982.4,680.6 985,682.5 988.1,683.7 992.4,684.6 995,685 996.9,686.1 1000.3,686.6 1002.4,688.2 1005,688.8 1008.2,689.5 1011.6,689.7 1015,690 1014.8,693.1 1016.6,696.1 1015.5,699.9 1016.2,702.5 1015.1,705 1015.4,709.9 1015,712.5 1011.7,713.9 1008.2,714.9 1005,715 1003,716.4 999.8,718.8 997.7,721.2 995,722.5 996.2,724.5 997.3,728.3 998.8,729.6 1000,732.5 1002.1,734 1002.8,737.5 1005,740 1002.7,742.3 1000.4,743.1 997.5,745 995.1,745.1 992.7,746.6 990,748.8 987.4,750.2 985.7,753.5 983.8,755 983.8,758 982.5,762.5 982.9,765.2 984.8,767.1 986.8,770.3 987.5,772.5 985,771.7 982.5,771.3 980,770 976.7,769.2 974.5,767.7 972.7,766.9 970,765 967,762.4 966.6,760 964.4,756.9 962.5,755 961,753.3 960.2,750.4 960,747.5 961.5,745.2 963.8,743.5 965.7,742.2 967.5,740 967.2,737.4 965.4,735 965,732.5 961.6,732.6 958.6,729.9 955,730 952.9,728 951.4,725.6 949.1,725.5 947.5,722.5 946.2,722.5 945,718.8 943.4,715.8 940.7,714.6 940,712.5 938.4,710.2 935,707.5 935.7,704.8 937.5,702.5 935,698.8 933,696.1 932.1,694.1 930,692.5 928.7,689.5 928.8,686.2 926.1,686.3 922.5,685 921,687.6 917.5,690 918.8,695 920.2,697.5 922.5,700 925.1,701 927.5,703.8 925,707.5 922.1,705.6 920.8,704.8 917.5,703.8 912.5,705 910.8,702.8 907.5,700 905.5,697.5 903.7,696.7 902.5,693.8 902.5,690 903.9,687.4 904.7,685.5 906.2,682.5 908.2,680.3 909.6,677.8 910,675 910.8,672.3 913.8,671 915,667.5 916.7,665 918.8,663.4"/>
<polygon points="876.2,692.5 879.8,691.6 882.5,690 885,687.8 887.5,687.5 889.2,689.5 888.4,692.5 890,695 891.6,697.9 891.2,699.7 892.5,702.5 894.5,705.2 895.5,707.3 897.5,710 899.4,711.3 901.6,712.7 903.8,715 905.8,716.4 908.1,718.5 910,720 911.6,722.5 913.3,723.9 915,726.2 914.7,729.1 912.5,732.5 913.5,734.5 913.6,737.9 915,740 913.3,741.3 910,742.5 906.8,743.6 903.8,745 900,745 895,743.8 893,745.1 888.9,745.4 886.2,746.2 884.9,742.7 885,740 884.7,736.7 883.6,735.1 882.8,732.1 881.2,730 880,726.6 880.2,722.7 878.8,720 877.2,718.3 876.4,715.7 875.6,713 875,710 876.3,706.6 874.8,703.5 876.2,700 875.8,697"/>
<polygon points="903.8,745 905,750 908.5,750.4 912,752.5 915,752.5 918.4,755 920,757.5 922.1,758.5 925,760 925,762.5 921.8,763.6 918.7,765.6 916.2,767.5 912.5,765 910.8,762 907.5,760 905.4,758.5 902.6,755.8 900,755 900.7,752.7 902.5,750"/>
<polygon points="910,790 912.5,792.5 914.4,795.5 917.5,797.5 920,801.2 922.5,802.5 924.1,804.6 924.2,808.2 925,810 923.9,813.4 924.4,816.7 923.8,820 921.4,820.7 917.5,821.2 914.9,821.6 913.2,823.6 910,823.8 906.2,825.1 903.8,827.5 903.6,831.4 902.4,834.8 901.2,837.5 899,840.1 898.9,843.3 897.5,845 895.8,847.4 895.2,850.2 893.8,852.5 892.3,855.4 890.8,858.7 888.8,861.2 885.4,860.1 882.5,857.5 880.3,855.7 877.2,855 875,852.5 871.4,852.9 867.5,851.2 866.1,853.3 862.5,855 861.6,852.7 858.8,850 857.8,845.5 857.5,842.5 859.2,839.6 858.6,835.6 860,832.5 860.3,829.3 861.7,825.6 861.2,822.5 861.3,819.2 860.8,817.3 860,813.8 861.9,812.7 865.1,811.9 867.5,810 870.9,808.7 872.5,806.2 875.1,803.9 877.6,802.9 880,802.5 882.8,802.8 884.5,804.8 887.5,805 890.1,803.1 892.2,803.3 895,802.5 898.4,801.1 900,798.8 902.7,796.7 905,793.8 906.6,791.6"/>
<polygon points="682.5,743 686.4,743.5 690,743.8 693.6,744.2 696.9,744.3 700,745 703,743.7 706.2,742.5 710,745 712.2,747 715,750 715.8,752.3 718.3,754.9 720,757.5 723,758.4 725.2,760.5 727.5,762.5 729.9,764.5 730.5,767.2 732.5,770 734.3,772.4 736.2,775 737.5,777.5 736.3,780.1 733.8,782.5 733.6,785.5 732.4,789.8 732.5,792.5 733.5,795.1 733.6,798.1 733.4,800.7 733.8,803.8 731,801.9 727.5,801.2 725.4,798.2 723.4,797.3 720,795 717.4,794.3 714.9,792.6 712.5,790 710.3,789.9 707.8,787.6 705,787.5 701.9,786.7 700.2,786.4 697.5,785 694.3,784.8 691.5,784.4 687.5,783.8 683.7,782.5 681.6,782.8 677.5,782.5 679.5,779.3 680.7,777.4 682.5,775 686,772.6 687.5,770 688.9,767.4 691.1,765.8 692.5,762.5 691.2,760.7 690,757.6 690,755 688.2,752.4 689.3,749.2 687.5,746.2 684.7,744.7"/>
<polygon points="702.5,820 706.6,818.4 708.8,816.2 712,816.1 716.2,816.2 718.1,817.8 721.2,820 723,822.6 723.8,826.2 722.9,828.6 722.5,832.5 717.8,832.3 715,831.2 712.9,829.1 710,827.5 706.8,825.2 703.8,825"/>
<polygon points="747.5,832.5 749.8,832.1 753.8,831 756.2,830 760.2,830.6 762.5,832.5 763.3,835.9 763.8,840 758.8,840 756,841.4 752.5,842.5 750.3,840.1 748.4,838.8 746.2,836.2"/>
<polygon points="702.5,837.5 705.7,835.9 708.8,836.2 709.7,839.1 711.2,842.5 711.8,846.6 711.5,850 712.5,852.5 710.1,853.3 707.5,855 705.1,853.8 701.2,852.5 701.4,849 700.9,847.1 701.1,843.5 703.1,840.9"/>
<polygon points="712.5,852.5 714.8,852.3 717.9,849.7 720.4,849.2 722.5,847.5 726,846.6 729.9,846.7 732.5,846.2 736.1,847.7 738.8,846.8 742.5,847.5 745.6,848.2 748.6,850 752.5,850 755.5,850.9 757.5,850.7 760,852.5 760.8,856.2 760,860 758.5,862.8 756.2,864.7 755,867.5 752.7,868.9 750.7,869.6 747.8,870.6 745,871.2 741.6,871.9 738,870.8 735,871.2 732.9,872.7 729.8,872.1 728.1,874.6 725,875 722.8,875.4 719.8,877.6 717.5,877.5 716.4,875.5 715.1,872 713.6,869.6 712.5,867.5 710.4,866.4 707.9,863.4 705.2,862.1 703.8,860 702,857.8 701.7,854.9 701.2,852.5 705.1,853.8 707.5,855 710.1,853.3"/>
<polygon stroke="none" points="1082,656.5 1080,661 1077.5,662.3 1075,662.5 1075,659.5 1074.2,656.5"/>
<polygon points="555,880 558.8,877.5 559.9,880.9 561.1,882.7 563.8,885 565.8,887 568.7,889.8 570,892 571.1,888.8 573.1,888.2 574.5,885 575.4,881.6 576.2,877.5 578.6,879.5 580,882.5 582.7,884.9 582.7,888.1 585,890 585.7,892.6 589,894.8 590,897.5 591.6,899.2 595,900 597.3,901.4 600,902.5 602.6,905 605.9,905.8 608.3,908 610,910 612.3,912.2 614.6,913.3 617.5,915 620.3,915.8 623.8,918.8 622.5,923.8 619.7,922.7 615.9,923.4 612.5,922.5 609.6,922.4 605.4,921.9 602.5,921.2 598.3,921.7 595.8,922.4 592.5,922.5 589.8,923.8 585.2,923.9 582.5,923.8 580.2,924.6 577.7,926 575,926.2 572.6,928.9 569.4,929.1 567.5,931.2 563.8,930 562.7,927.3 561.9,923.8 561.2,920 561,916 559,913.2 558.8,910 558.9,906.6 560.4,903.5 560,900 558.9,896.4 559,892.4 557.5,890 557.4,886.5 555,883.2"/>
<polygon points="577.5,953.8 580.3,953 583.2,952.1 585,951.2 588.3,953.5 589.9,954.3 593.8,955 595.2,957.9 595.5,960 594.7,963.8 595,967.5 592.7,970 590.3,971.5 587.5,972.5 584.5,973 582.6,974.5 580,976.2 576.9,975.1 574.2,975.1 571.2,975 571.5,972.7 573.1,970.1 573.8,967.5 574.5,963.7 575,960 576.7,957.6"/>
<polygon points="618.8,973.8 622.6,975.8 625,977.5 627.3,980.6 630,982.5 631.5,985.7 632.4,989.4 632.5,992.5 634.3,994.3 635.6,996.8 635.7,999.8 637.5,1002.5 635.4,1005 635,1007.5 631.2,1008.7 628.8,1008.8 627.9,1012.4 627.5,1015 626.6,1017.1 625,1020 622.5,1023.8 620.7,1026.4 619.5,1028.9 617.5,1030 615,1032.5 613.1,1031.7 610.4,1031.6 607.5,1030 605.6,1027.7 602.5,1025 601.8,1021.6 601.2,1017.5 602.9,1015.6 603.2,1012.1 605,1010 606.4,1007.7 606,1004.7 607.5,1002.5 604.4,1001.5 602.5,1000 604.3,998 605,995 605.8,992.8 608.3,989.4 610,987.5 612.4,984.7 613.5,983 615,980 616.5,977.1"/>
<polygon points="622.5,1023.8 624.7,1025.2 626.2,1027.8 627.8,1029.8 630,1031.2 633.8,1032.6 637.2,1032.3 640,1032.5 642.7,1034.3 645.6,1036.3 647.5,1037.5 648.1,1040.3 650.1,1042.6 651.7,1045.3 652.5,1047.5 654.2,1050.1 654.4,1052.1 656.2,1055 658.8,1057.8 660,1060 655,1060 652.2,1058.7 648,1059.7 645,1058.8 641.5,1059.8 637.5,1060 634.9,1061.3 632.5,1065 630.6,1066.3 627.5,1067.5 625.6,1066.1 622.8,1063.6 620,1062.5 619.1,1060.2 617,1058.3 615,1056.2 616.7,1054.3 620,1052.5 621.1,1049.5 621.3,1047.7 622.5,1045 620.9,1042.6 621.1,1039.7 620,1037.5 618.5,1035.2 615,1032.5 617.5,1030 619.5,1028.9 620.7,1026.4"/>
<polygon points="680,957.5 682.6,958 685.2,959.1 687.5,960 690,961.8 692.5,965 693.8,967.2 695.3,968.9 697.5,971.2 699.4,973.7 702.5,976.2 699.5,977.4 695,977.5 691.7,979.2 690.4,980.2 687.5,982.5 685.4,985.2 682.5,987.5 682,990.6 680.5,992.8 678.8,996.2 679.3,998.9 681.1,1001.4 682.5,1005 683.4,1008 683.6,1011.7 685,1015 684.9,1017.4 684,1021.1 683.8,1023.8 682.6,1027 682,1030.1 680.1,1031.9 680,1035 680,1038.6 680.8,1041.2 682.5,1045 684.4,1046.4 687.8,1048.6 690,1050 692.7,1052.6 693.1,1055 695,1057.5 695.6,1059.9 696.1,1063 697.5,1065 700,1066.8 701.5,1069.3 702.9,1070.3 705,1072.5 706.2,1077.5 704.5,1080.1 704,1082.3 702.5,1085 700.7,1088.8 700.6,1092 700,1095 700.9,1098 701.2,1102.5 699.3,1104 697.5,1106.2 698,1109.6 699.9,1112.4 700,1115 700.7,1117.8 701.2,1122.5 700.4,1125.4 697.5,1128.8 695.2,1128.4 692.9,1127.7 690,1126.2 686,1127.4 683.8,1126.4 680,1127.5 676.4,1129.1 673.9,1129.5 670,1130 668.6,1126 666.2,1123.8 666.2,1120.9 666.9,1117.2 667.5,1115 666.8,1111 667.5,1107.5 665.4,1105.9 662.5,1105 658.8,1103.6 655.7,1105 652.5,1103.8 649.9,1102.2 647.6,1100.6 645,1100 646.7,1097.6 646.6,1095.5 647.5,1092.5 646.1,1088.9 646.2,1086.2 647.5,1081.2 650.7,1081.5 652.9,1079.7 656.2,1080 657.4,1075.8 657.5,1072.5 657.2,1069.9 658.9,1065.8 658.8,1062.5 660,1060 663.3,1059.1 666.3,1059.1 670,1058.8 670.1,1056.1 670.4,1052.7 671.2,1050 671.5,1046.5 671,1043.4 670,1040 670.4,1036.7 671.2,1034.5 672.5,1032.5 671.4,1028.3 671.2,1025 668.7,1023 667.5,1020 668.1,1017 667.3,1013.3 666.2,1010 667,1006.3 667.8,1003.1 667.5,1000 665.9,996 666.2,992.5 665.3,988.8 665,986.2 666.8,984.3 667.5,980.1 670,977.5 671.7,975.3 672.1,972.4 672.5,970 673.4,967.2 674.8,964.6 675,962.5 676.6,959.9"/>
<polygon points="695,900 697.6,898.7 701.7,898.3 705,898.8 707.1,899.5 710.3,901.7 712.5,902.5 715,900.7 716.7,899.1 717.8,897.3 720,895 722,893.7 724.9,892.9 727.5,892.5 730.5,893.5 732.7,893.9 735,895 737.1,895.8 739.5,898.6 741.2,900 742.7,902.5 745,906.2 746.5,908.8 748.8,912.5 750.5,916.8 750,920 748.6,923.1 747.5,925 745.4,926.9 742.4,927.1 740,928.8 737.9,930.2 734.7,930.8 731.7,932 730,933.8 728.1,935.5 726,936.9 722.5,936.6 720,938.8 716.3,939.6 712.4,940.2 710,941.2 707.8,942.3 704.8,943 702.5,943.8 701.2,940.7 701.4,937.8 701.2,935 700.5,932.4 699.6,928.4 700,925 700,921.3 698.4,919.1 698.8,915 697.6,912 697.5,907.5 697.5,904.5 695.6,902"/>
<polygon points="743.8,940 745.8,942.6 748.8,943.8 750.4,946.1 753.5,948 755,950 756.5,951.8 759.4,952.5 763.1,954 765,955 764,957.8 763.8,962.5 763.4,966.9 762.5,970 762.9,972.3 764.2,975.6 765,977.5 764.2,981 765,983.8 761.9,983.3 758.8,983.8 756.5,981.7 756,979.7 753.8,977.5 751.7,975.3 750,973.8 746.8,973.9 742.5,975 739.2,974.4 736.6,973.9 732.5,973.8 732.3,970.9 730.6,968 730,965 731.5,962.6 734.3,959.9 735,957.5 735.7,954.8 737.2,952.3 737.5,950 738.7,947 741.2,943.8"/>
<polygon points="715,993.8 718.6,993.4 721.4,995.1 723.8,995 726.5,994.3 730,992.5 733,991.8 735.3,989.5 737.5,988.8 738.3,991.2 739.8,993.1 741.2,996.2 741.8,999 741.9,1001.8 742.4,1005.4 742.5,1007.5 740.1,1008.2 737.5,1010 735.6,1011.8 734.1,1013.4 732.5,1016.2 730.1,1016.6 727.9,1017.4 725,1018.8 723.6,1022.8 721.2,1025 719.4,1022.8 717.5,1021.2 714.5,1020.6 711.4,1020.4 707.5,1020 708.5,1017.3 710,1015 712.4,1013 713.8,1010 712.9,1006.5 714.6,1002.6 713.8,1000 714,997.4"/>
<polygon points="669.3,1164.3 672.1,1162.1 675.7,1162.7 678.6,1162.1 681.1,1162.2 684.3,1161.4 687.9,1162.9 689.5,1166 690,1168.6 691.8,1172.9 691.4,1175.7 694.3,1177.1 699.3,1177.9 698.6,1182.9 695.8,1183 692.9,1183.6 689.4,1184.5 685.7,1183.6 682.4,1183.6 680,1184.3 677.1,1185 674.4,1183.9 671.4,1181.4 668.6,1177.1 669.3,1172.9 668.9,1170.1 667.9,1167.9"/>
<polygon points="742.5,690.5 746.3,690.6 748.3,691 752,690.4 755,690 757.9,689.3 760.9,690.4 763,689.7 765.7,689 768,689.1 771.6,688.8 773.8,689.2 774.9,691.4 776,694.4 776.1,697.7 777.5,700 774.9,701.5 773.7,704.3 772.4,706.7 770,708 766.8,706.8 762.5,707 758.8,707.5 755.7,706.8 752.5,708 750.5,705.4 750.3,703 748.4,700.5 746.2,698 746.1,695.5 744,693.5"/>
</g>
<g fill="#ff0000" stroke="#000" stroke-width="0.85">
<polygon points="516.2,215 519.7,216.1 523.8,216.2 525,218.9 526,222.2 527,225 525.7,227.6 525.8,231.5 525,233.8 524.4,236.1 523.1,239.4 523.5,242.5 522.9,244.6 521.5,246.8 521.2,250 520.6,253.8 518.4,257.2 518.8,260 515.8,262 514.7,263.7 511.2,265 508.2,264.9 506.1,265.3 502.9,267.8 500,267.5 498,269.5 494.9,269.7 492.5,272.5 491.2,277.5 494.5,280 492.5,282.5 491.2,285 490.1,282.1 487.1,281.1 486.2,278.8 484.3,276.6 481.4,275.5 480,273.8 476.6,272.7 472.5,272.5 469.6,271.7 467.5,270 467.9,266.9 470,263.8 472.3,261.6 473.4,259.2 475.5,257.2 478.4,255.4 480,253.8 481.1,251 483.8,249.5 486.2,246.2 488.1,243.8 490,241.9 492.6,238.8 493.8,236.2 495.7,235 497.2,232.5 498.9,229.1 501.4,227.1 502.5,225 503.4,222.2 505,220 508.7,219.1 511.2,217.5 513.6,216.4"/>
<polygon points="417.5,287.5 420.4,286.6 424.6,287.7 427.1,287.4 430,286.2 432.8,288.1 434.5,288.1 437.1,289 440,289.2 442.5,290 445.8,291.3 448.4,291.9 451.2,292.5 452.1,295.8 455,298.8 458.3,299.3 462.5,300.8 466.4,299.6 468.3,299.7 472.5,300 474.8,301.5 476.9,302.2 480.6,301.4 482.5,303 484.5,301.4 486.9,300.2 490.3,299.8 492.5,298.8 495.3,296.9 496.9,296.9 500.2,295.9 502.5,294.5 505.2,295.1 508.8,293.5 511.2,293.8 514,294.4 518.8,295 520.6,293.4 522.8,290.9 525,290 526.2,285 528.8,282.7 531,280.7 532.5,277.5 532.8,274.5 535.1,272.3 536.2,269.9 536.2,267.5 537.1,264.6 538.7,261.4 538.8,258.8 543.8,258.8 543.4,261.7 543.7,264.3 542.9,266.6 544.1,269.5 543.8,272.5 543.9,275.7 544.2,278.3 544.3,281 544.7,283.7 545,286.2 546.6,288.4 547.5,292.5 547.9,295.7 549.9,297.1 550,300 548.3,301.7 547.7,304.9 546.2,307.5 543.6,309.1 541.2,310 540.7,313.7 540,317.5 538.3,320.4 535,322.5 532.3,324.6 530.8,327.7 528.8,330 527.2,332.3 527.1,334.5 526.2,337.5 523.5,338.1 520.7,339.4 517.5,340 515.3,341.5 512.9,341.9 510,343.8 506.7,344.2 502.5,343.8 499.7,342 497.6,340.4 495,340 493.2,337.1 490,335 485,336.2 484.1,338.6 483.8,342.5 482.3,344.5 482.8,347.5 481.2,350 480.9,353.5 480.3,357 480.4,360.2 480,362.5 478.9,365.2 477,367.7 475.7,369.9 474.2,372.2 472.5,375 470,375.8 468.5,379.4 466.2,380 465.9,382.7 463.8,386.2 462.1,383.7 461.2,381.2 460.6,378.3 457.6,375.9 456.2,372.5 453.7,370.2 453.3,367.5 451,366.8 450,363.8 447,362.9 445.2,360.8 442.5,360 440.1,360 437.5,358.2 435,357.5 433.2,358.9 430,360 428.3,363.1 426.7,364.2 425,367.5 422.3,369.4 421.2,371.8 418.5,373 417.5,375 415.3,377 414.1,378.6 410.5,380 409.8,382.2 407.5,383.8 405.2,386.5 403.4,388.2 400,390 398.3,391.9 394.9,393.7 392.5,395 390.1,396.4 387.5,395.6 384.4,397.1 382.5,398 379.8,397.2 377.8,399.2 373.9,398.5 372.1,399.5 368.6,399.9 367,398.8 363.8,399.2 365.6,396.3 364.8,393.1 366.2,391.2 369.3,389.6 371.2,386.2 370.5,383.6 370,380 372.5,378.3 373.5,375.2 375,373.8 374.8,371.1 376.2,367.5 379.4,365.4 381.2,362.5 382.2,360.1 384.5,357.3 386.2,355 387.7,350.7 387.5,347.5 389.1,345 390.5,341.2 392.7,338.5 393.8,336.2 396.4,334.7 397.7,332.2 400,331.2 401.9,328.2 403.9,324.8 405,322.5 406.7,318.7 409.2,317 410,313.8 411.9,311.9 412.2,307.7 413.8,305 415.1,302.4 417.5,300 416,296.1 415.5,292.5 415.5,289.7"/>
<polygon points="630,347.5 632.7,349 635,351.3 637.5,352.5 640.8,354.1 642.6,355.4 645,357.5 648.4,357.5 652.5,358.8 655.3,357.9 658.9,359 660.6,357 663.8,357.5 663.8,354.3 665,351.2 669.2,351.9 672.5,352.5 676.1,354.4 678.1,356.7 680,358.8 682.5,359.6 683.9,362.7 686.2,363.8 687.2,367.8 689.6,370 690.5,372.5 693.4,372.8 697.5,371.2 700.2,370.1 704.4,369.9 707.5,368.8 709.1,372.2 711.2,373.8 714.4,374.3 716.3,375.9 718.8,377.5 721.8,380.9 722.5,383.8 720.8,386.4 720,390 719.7,393.1 721.2,397.5 717.6,397.2 715.7,397.9 712.5,397.5 711,395.2 707.5,393.8 705.4,393.5 701.8,392.3 700.3,390.1 697.5,390 694.7,389.9 691.5,390.7 687.5,392 684.5,392.9 682.5,393.4 680.4,395 677.7,394.6 675,396.2 672.7,396.9 669.9,398.9 667.8,400.9 666.2,402.5 664.7,404.2 662.5,406.2 659.7,408.3 656.8,408.9 655,411.2 651.7,411.5 648.2,410.4 645,410 641.9,410.8 639.6,412.7 637.5,413.8 635.6,415 632.5,415.2 630,416.2 627.2,415.3 624.7,412.5 622.5,411.2 620.2,410.9 618.1,408.7 614.3,409.1 612.5,407.5 610.1,405.8 607.9,404.2 605,402.8 602.5,402.5 600.8,400.2 598.4,398.9 596.2,397.5 595.5,394.2 596.2,391.2 596.8,388.7 598.8,385 601,381.9 603.2,380.7 605,377.5 607.1,375 608.5,372.4 611.2,370 612.9,367 614.6,364 614,361.6 616.2,358.8 619,356.8 620.4,354.2 623.8,352.5 626.3,350.8 627.7,348.7"/>
<polygon stroke="none" points="1181.2,420 1184,421.6 1187.5,423.8 1192,424.4 1195,425 1196.7,428.3 1197.5,431.2 1200.9,431.3 1204.3,429.9 1207.5,430 1210.4,429.2 1214.1,429 1217.5,429.5 1219.2,432.1 1222.5,435 1223.7,437.6 1226.2,441.2 1227.5,446.2 1230,448.3 1232.5,450 1234.7,452.6 1236.2,454.7 1238.8,457.5 1241,454.7 1240.6,452.8 1242.5,450 1244.9,449.2 1247.8,446.9 1250.5,445.4 1253.8,443.8 1257.2,445.4 1260,446.2 1262.1,447.7 1264.1,450.3 1266.2,451.2 1268.5,452.3 1272.2,453.4 1275,455 1276.9,456.9 1280.6,456.9 1282.5,458.8 1283,461.6 1283.8,465 1286.9,467.5 1290,468.8 1291,471.9 1293,474.7 1295,477.5 1296.7,480.3 1298.8,483.8 1300.2,486.1 1299.8,488.4 1301.2,491.2 1297.9,493.9 1295,495 1294.1,497.7 1293.8,501.2 1295.4,504.2 1295.4,506.9 1297.5,510 1297.9,512.7 1299.2,515.2 1301.2,517.5 1301.5,520.6 1303.7,522 1304.8,524.7 1305,527.5 1307.2,528.1 1310,530 1311.5,531.9 1311.6,535 1312.9,536.8 1313.8,540 1315.2,543 1316.9,545.5 1318.8,548.8 1316.5,547.6 1313.7,545.5 1311.2,544.5 1310,542.5 1306,541.3 1303.3,542.5 1300,541.2 1297.6,542.8 1294.3,542.6 1293,543.9 1290.5,545.1 1287.5,546.2 1285.4,549.4 1282.3,550.5 1281.5,553.5 1278.8,555 1275.6,557.5 1272.8,559.3 1270,560 1268.4,562.2 1266.9,564 1263.5,565.6 1262.5,567.5 1259.7,569.6 1257.8,571.1 1255.2,573.4 1252.5,575 1251,577.1 1247.2,578.3 1245.9,581.4 1243.8,582.5 1241.4,583.7 1238.5,584 1235,585 1233.6,586.7 1233.7,590.2 1232.5,592.5 1230.6,594.4 1228.9,596.5 1226,597.9 1225,600 1225.7,604.4 1225,607.5 1223.1,608.6 1221.1,610.8 1218.4,612.3 1217.2,613.8 1215,616.2 1213,619 1211.8,621.7 1210.9,624 1210,627.5 1210.3,629.8 1208.2,632.6 1207,634.4 1206.8,637.8 1206.2,640 1205.9,643.5 1204,646.6 1205.2,648.9 1203.8,652.5 1204,656 1202.5,659 1180,659 1181.6,656.7 1182.2,652.1 1183.8,650 1183.9,647.3 1184.9,645 1185.9,642.7 1187.5,640 1188,637.3 1189.3,635.6 1189.6,632.2 1190.1,629.6 1191.2,627.5 1191.8,625.3 1193.8,622.2 1193.1,620.2 1195,617.5 1196.4,615.2 1197.5,611.2 1195.8,608.5 1193.8,605 1194.5,602.9 1197,601.4 1198.8,598.8 1201.8,596.1 1202.7,592.8 1205,591.2 1202.5,588.2 1201.2,585 1200.1,583.1 1196.1,580.9 1195,578.8 1190.6,579.5 1187.5,580 1183.9,579.2 1181.3,580.2 1177.5,579.9 1175,580 1171.7,579.2 1170,578.3 1167.2,577.8 1165.2,575.8 1163.2,574.6 1159.9,574.7 1157.3,573.3 1155,572.9 1152.9,570.5 1150,570 1150.6,566.6 1150,564.1 1148.9,561.6 1148.4,558.1 1147.5,556.4 1146.9,552.5 1147.5,550 1145.7,552.8 1143,553.1 1141.6,556 1139.1,558.5 1137.5,560 1135.5,562.7 1134,563.4 1130.2,564.7 1129,566.9 1127.4,569.2 1125,570 1123.1,571.6 1121.6,573.4 1119.1,576.1 1118.2,578.8 1116.1,580.7 1115,582.5 1118.8,583.5 1121.7,583.8 1125,583.8 1128,585.7 1129.8,587 1132.5,588.8 1131.9,591.2 1131.2,595 1133.4,597.8 1133.9,600.2 1135,602.5 1132,604.8 1129.7,602.3 1127.7,599.2 1125,597.5 1122.4,598.6 1118,598.1 1115,598.8 1113.3,600.1 1110.8,601.1 1107.5,601.2 1104.2,601.3 1100.9,603.8 1097.5,603.8 1094.5,603.3 1092.8,602.5 1089.9,600 1087.5,600 1085,598 1082.9,596.8 1080,596.2 1077.8,593.2 1077.6,590.2 1075,587.5 1072.7,585.5 1071.4,582.8 1068.8,580 1068.8,577.2 1066.4,575.4 1066.7,571.9 1065,570 1062.4,568.5 1060,565 1059,562.1 1057.9,557.8 1057.5,555 1056.5,552.3 1055.8,550.2 1053.6,548.1 1052.5,545 1050.1,541.8 1049.6,539.3 1046.7,536.3 1046.2,533.8 1046.7,530.9 1048.8,528.7 1050,525 1052.1,523.5 1055,521.2 1058.4,520 1061.2,520 1063.2,518.2 1065.3,517.2 1066.6,513.2 1068.8,512.5 1071.6,510.8 1073.4,510.4 1076.1,510 1078.8,508.8 1082.1,509.5 1085.1,509.8 1087.5,510 1089.4,511.5 1092.3,511.8 1095.3,512.9 1097.5,513.8 1100.1,513.4 1104.2,513.9 1107.5,513.8 1111.1,514.1 1114,513.4 1117.5,512 1120.4,512.3 1123.6,513 1127.3,512 1130,512.5 1132,510.5 1133.3,507.1 1135,505 1136.7,502.9 1139.4,501.8 1142.5,500 1145.2,501.7 1147.7,503.3 1150,503.8 1151.4,505.3 1152.8,508.4 1155,510 1157.3,512.8 1158.8,515 1160.8,517.5 1161.2,521.2 1164.3,521.6 1167.5,520 1170.9,518.2 1173.8,517.5 1174.4,514.2 1175,510 1178,508.8 1180.1,505.9 1182.5,505 1184,502.3 1183.8,498.8 1183.6,496.4 1182.5,492.3 1181.2,490 1183.4,489.8 1187.4,491 1190,490 1193.5,489.7 1196.3,491.2 1200,491.2 1203.9,491.2 1206.1,490.2 1210,490 1212,488.7 1216,487.1 1218.8,486.2 1220,484.3 1222.8,482.1 1225,480 1225.8,477 1227.5,473.8 1229.6,471.6 1231.6,469.2 1232.5,466.2 1229.2,466.1 1228.2,464.3 1225,463.8 1221.4,463.7 1219,462.3 1215,461.2 1210.8,460 1207.5,460 1203.8,460.9 1201.2,462.5 1198,461.7 1195,458.8 1192.1,459.2 1189.7,460.3 1187.5,461.2 1184.3,459.3 1182.1,457.6 1180,455 1176.4,455 1173.8,453.8 1172.8,456.4 1170,458.8 1169,456.7 1166.2,455 1165.2,452.2 1165,448.8 1163.3,446.9 1160.9,445.9 1157.5,445 1160.3,442.8 1162.4,441.9 1165,440 1167.3,438 1170,435 1171.1,432.2 1173.4,431.4 1175,428.8 1175.9,426.1 1177.5,422.5"/>
<polygon points="1145,423.8 1148,423.1 1149.4,422.2 1152.5,421.2 1156.7,422.8 1160,423 1161.2,427.5 1159.7,430.6 1157.5,432.5 1153.8,434 1150,433.8 1147.3,432.6 1145.8,430 1145.4,427"/>
<polygon points="731.2,387.5 732.6,390.5 735,393.8 735.8,396.3 737.5,398.7 739.9,399.6 741.2,402.5 744,404 747.2,402.8 749.3,404.3 752.5,405 755.5,406.1 758,406.7 760,408.8 762.6,411.1 765.8,412.8 768,415 767.5,417.9 766.5,419.8 765,422.5 762.4,426 761.2,428.8 762,430.9 762.3,435.1 762.5,437.5 759.3,437.5 757,438.6 755.6,439.7 751.8,440.2 750,441.2 748.1,440.4 745.2,439.6 742.2,438.4 740,437.5 737.3,436.7 735.2,436.8 732.5,435 728.8,435.9 725.7,437.4 722.5,437.5 718.2,437.4 715,436.2 713.5,433.7 710,431.1 708.8,428.8 706.5,426.2 705,423.8 704.3,420.9 701.2,417.5 703.2,415.7 706,414.5 707.5,412.5 708.9,410.4 712.2,407 713.8,405 713.4,400.5 712.5,397.5 715.7,397.9 717.6,397.2 721.2,397.5 722.6,394.9 725.2,392.4 727.5,391.2 730,390"/>
<polygon points="793.8,441.2 796.9,440.7 799.5,440.8 802.5,440.5 805.6,442.5 808.8,445 810.4,447.5 811.3,450.6 811.2,453.8 811.2,456.5 811.9,458.9 811.2,462.5 810.4,465.2 808.8,468.2 807.5,470 804.9,472.2 804,474 802.5,477.5 800,481.2 803.4,482.6 804.4,484.6 807.5,486.2 809.9,488.9 812.6,488.9 815.5,490.1 817.5,492.5 818.1,490.2 820,488.2 822.2,485.3 822.5,482.5 826,481.3 827.7,480 830,477.5 831.7,476.1 834.6,474.6 837.5,473.9 840.4,473.8 842.5,472.5 842.4,470 843.8,467.2 845,463.8 847.7,464.8 849.9,466.1 852.5,466.2 855,466.9 857.1,469.5 859.5,470 862.5,471.2 866.5,472.2 869.7,473 872.5,472.5 876.3,472.7 878.8,472.5 878.5,474.8 876.1,477.7 876.4,480.2 875,482.5 873.5,486.5 873.8,490 870.2,490.7 868.3,491.7 865,491.2 864.1,494.6 862.5,497.5 858.7,498.1 856.1,498.9 853.3,498.7 850,498.8 846.1,498.7 843.3,496.9 841.1,497.1 837.5,496.2 835.1,497.6 832.9,498.7 829.4,501 827.5,502.5 823.4,503 820.6,502.9 817.5,502.5 815.1,499.9 812.1,499.7 810,497.5 806.1,497.3 803.8,497.5 802.3,500.3 802.5,502.3 801.2,505 801.9,508 802.7,510.3 803.8,512.5 805.2,516 805,520 804.1,522.3 801.7,524.7 801.2,527.5 800.3,524.5 799.5,522.7 797.5,520 796.9,517.3 796.7,515.4 795,512.5 793.1,510.6 790,510 787.5,507 786.2,503.8 783.5,501.3 781.2,500.5 777.5,498.8 776.4,496.3 773.5,494.2 771.2,492.5 770.7,489 769.9,486.6 770,483.8 772.2,481.1 773.8,477.5 775.5,475.9 776.9,473.8 780,472.5 780.6,468.1 780,465 781.2,462.9 783.3,460.5 785,458.8 787.2,455.2 787.5,452.5 790.5,450.4 793.8,448.8 794.6,444.1"/>
<polygon points="950,500 952.4,499.6 955.4,497.8 957.5,497.5 960.9,498.1 965,498.8 965.7,501.8 966.2,505 969.6,507.3 971.7,508.4 975,508.8 976.7,512.3 978.8,515 980.8,515.3 983.5,516.3 986.2,517.5 987.2,519.6 987.9,522.1 988.8,525 988.3,528.3 987.8,531 987.5,535 986.7,538.1 986.1,540.4 986.2,543.8 988.3,546.1 990.4,548 991.7,550.5 992.5,552.5 994.7,551 998,549.4 1000,547.5 1001.6,544.8 1001.4,541.7 1002,540.2 1003.8,537.5 1005.3,534.9 1005.8,532.1 1006.2,530 1008.3,527.9 1010.4,525.9 1012.5,522.5 1015.3,520.5 1017.7,520 1020,518.8 1023.6,518.6 1026.2,520 1025.8,523.4 1024.5,527.2 1025,530 1024.2,534 1022.8,537.1 1022.5,540 1022,543.2 1021.5,546.1 1021.2,548.8 1018.5,549.8 1015.5,550.9 1012.5,552.5 1011.5,555.6 1010,557.5 1007.2,557.4 1004,556.6 1000,557.5 997.9,559.1 993.8,560 991.9,562.2 990.1,564.7 987.5,567.5 986,570.5 985.2,572.2 982.3,573.8 981.2,576.2 979.1,577.9 978.9,580.6 976.9,582.8 975,585 973.6,587.6 972.8,590.3 972.4,592.3 970.2,594.5 970,597.5 969.5,593.9 969,589.8 967.5,587.5 966.7,584.6 965.3,582.7 963.6,579.6 962.5,577.5 960.8,575 961.2,572.7 959.3,570 958.8,567.5 958.2,564.1 958.6,561 957.5,557.5 956.2,554.7 956.8,552.3 955,550 952.5,546.4 950,545 949.7,542.5 948.5,539.3 947.5,537.5 945,536.5 943.1,535.3 940,533.8 938.2,531.8 936.2,530 937.5,527.1 938.1,524.6 940,522.5 938.5,520.6 938.1,517.6 937.5,515 939.2,512.6 942.5,510 945.2,507.5 947.5,505 948.1,502.7"/>
<polygon points="945,660 947.4,658.6 950.4,657.7 952.5,657 955,657.4 958.1,659.7 961.2,660 964.4,660.8 967.5,663.8 969.7,665.3 973.3,667.1 975,668.8 978.3,669.5 981.2,671.2 980,674.7 980,677.5 977.1,677.7 975.3,679.5 972.1,679.5 970.1,680.3 967.5,681.2 963.9,679.9 961.7,679.8 957.5,680 955.5,677.9 952,676.1 950,675 950.5,672.3 951.2,669.5 951.2,666.2 949.4,664.7 946.7,662.9"/>
<polygon points="550,643.8 552,642.6 555.2,642.7 558.2,641.2 560,640 563.2,639.3 567.5,640 570.4,642.3 572.3,644.1 575,646.2 578.4,645.9 582.2,644.6 585,645 588.5,646.7 591.2,648.8 591.6,652.2 590,656.2 587.1,658.8 585,660 580,658.8 577.2,661 575,662.5 576.6,665 580,667.5 580.1,671.7 581.2,675 581.3,679.3 580,682.5 581.1,685.6 582.4,687.7 585,690 585.7,692.7 589.1,694.7 590,698 591.2,700 591.5,703.2 592,705.5 592.5,708.8 588.3,709.7 585,710 581.6,710.1 579,711.4 575,711.2 572.4,708.9 571.2,705 570.8,701.9 571.2,697.5 570,695 568.7,691.7 568.8,687.5 566.8,684.9 565,682.5 562.8,680.6 560,677.5 558.4,674.5 556.2,672.5 555,667.5 550,667.5 549.3,664.7 547.7,662.5 547.5,660 546.7,657 543.8,653.8 545.8,650.1 546.2,647.5 547.8,645.9"/>
<polygon points="552.5,715 555.2,714.7 557.6,713.2 560,711.2 563.4,710.6 566.5,711.9 568.6,711.4 571.4,711.4 575,711.2 579,711.4 581.6,710.1 585,710 588.3,709.7 592.5,708.8 596,709.3 600,710 603.4,710.8 606.3,711.3 609.9,711 612.5,711.2 616.3,711.5 620,712.5 623.2,710.9 626.1,711.4 630,710 634,709.8 637.5,708.3 640,707.5 643.4,709.1 646.2,708.8 647.9,711.1 648.8,715 647.9,718.6 647.5,722.5 645.9,724.2 644.4,726.9 643.8,730 641.4,731.1 639.4,732.4 637.5,735 636.5,737.3 633.8,740 632.4,743.8 632.5,747.5 628.2,748.2 625,748.8 621.2,748.7 618.4,748 615,746.2 611.7,745.3 608.4,745.6 605,745 603,744.6 599.6,743.8 597.5,742.5 594,740.8 592.5,738.8 590.4,738.1 587,736.7 585,736.2 580.6,737.2 577.5,737.5 574.4,738.3 571.9,738.9 570,740 566.8,739.7 562.5,741.2 560.5,742 557.6,744.1 555,745 554.5,748.1 552.5,750 550.6,748 547.5,747.5 547.2,744.9 545,742.5 540.6,743.7 537.5,743.8 534.1,742.9 531,743.2 527.5,742.5 530.9,739.9 532.5,737.5 534.2,735.7 536,734.2 538.8,732.5 541.1,730.9 542.5,729.2 545,727.5 547.1,725.4 547.6,722.1 550,720 550.6,717"/>
<polygon points="646.2,708.8 643.4,709.1 640,707.5 642.4,705.3 643.9,703.7 646.2,701.2 649.5,700.1 652.5,700 654.7,699.1 657.2,697.5 660,695 662.3,694.4 664.7,693.9 667.5,692.5 672.5,692.5 674.3,694.2 677.5,696.2 681,697.4 685,697.5 686.9,700.7 687.5,703.8 688,706.3 687.6,709 686.2,712.5 686.5,716.4 685.9,719.9 685,722.5 685.7,727.1 686.2,730 687.3,733 687.5,736.2 684.9,734.9 683.1,734.1 680,732.5 676.5,731.9 672.5,731.2 667.5,732.5 665.6,729.8 662.5,727.5 659.8,727.3 657.5,725 652.5,723.8 647.5,722.5 647.9,718.6 648.8,715 647.9,711.1"/>
<polygon points="630,762.5 632.9,762.8 637.5,761.2 640.6,760.1 642.5,758.9 645.3,757.5 647.5,757.5 651.2,756.6 654.1,755.9 657.5,755 661.5,754.1 663.8,753.7 667.5,752.5 670.2,749.8 672.4,750 675,747.5 676.9,746 679.4,744 682.5,743 684.7,744.7 687.5,746.2 689.3,749.2 688.2,752.4 690,755 690,757.6 691.2,760.7 692.5,762.5 691.1,765.8 688.9,767.4 687.5,770 686,772.6 682.5,775 680.7,777.4 679.5,779.3 677.5,782.5 674.5,784.2 672.7,785.4 670,787.5 667.3,789.3 667,791.8 665,793.8 661.7,792.2 657.5,792.5 654.3,792.1 652.9,790.4 650,790 647.6,788.6 644.6,787 642.5,785 640.1,784.3 637.9,783.3 635.4,781.4 632.5,781.2 632.1,778.1 630,775 629.9,771.6 628.8,768.8 629.6,766.1"/>
<polygon points="607.5,753.8 611.1,752.3 615,752.5 619.1,752.2 622.5,753.8 623.1,756.2 623.8,760 620.9,761.6 617.5,762.5 614.5,761.7 610,761.2 610,758.7 607.7,756.8"/>
<polygon stroke="none" points="525,760 528.2,759.1 532.5,758 535.1,759 539.7,758.6 542.5,758.8 545.6,759.1 549.8,759.8 552.5,761.2 554.9,762.3 557,763 559.7,764 562.5,765 563.8,770 563.2,772.3 561.5,775.3 560,777.5 558.8,781.1 557.5,783.8 555.5,785 553.8,787.5 553.2,791.1 552.5,795 550.7,797.8 550.4,799.7 550,802.5 550.7,805.5 551.2,810 552.8,812.7 555,816.2 556.1,819.3 557.5,822.5 556.4,825.4 553.8,827.5 552.1,830.4 550,831.2 549.7,834.4 547.5,837.5 545.9,839.7 545,842.5 543.6,847 543.8,850 545.2,853.1 548.1,854.2 550,857.5 550.6,859.6 552.6,862.2 552.5,865 552.8,867.5 554.5,870.3 556.2,872.5 558.6,876 560,879 537.5,879 537.8,876.3 536.2,873.4 535,870 534.2,866.2 533.1,863.4 532.5,860 531.4,857.1 530.5,853.5 530,850 528.4,847.2 528.6,843.3 527.5,840 527.4,836.9 527.5,833.9 525.7,831.1 526.2,827.5 525.2,824.6 525.7,821.3 523.8,817.5 523.2,813.2 522.6,809.9 521.2,807.5 521.1,804.3 522.3,801.2 523.8,797.5 524.6,793.7 525.4,791.4 526.2,788.3 526.2,785 525,782 525.4,778.4 525.8,776.2 523.5,773.8 523.8,770 523.7,767.4 524.5,763.4"/>
<polygon points="553.8,787.5 556.4,787.2 559.3,786.7 562.5,786.2 566.7,785.8 569.3,786.9 572.5,787.5 575.1,788.2 578,789.4 580,790 582.4,790.6 585.3,792.4 587.5,795 589.2,797.7 591.9,800.2 592.5,802.5 593.3,805.6 595.1,807.7 596.2,810 597.5,813.8 594.4,814.2 590,813.8 587.5,813 584.1,813 580,812.5 576.3,812.8 574.1,811.1 570,811.2 566.8,810.5 563.6,810.6 560,810 558.7,812.6 556.3,813.8 555,816.2 552.8,812.7 551.2,810 550.7,805.5 550,802.5 550.4,799.7 550.7,797.8 552.5,795 553.2,791.1"/>
<polygon points="550,831.2 555,832.5 557.7,834.8 559.3,835 562.5,836.2 564.8,837.2 567.4,838.6 570,840 573.3,842 576.2,843.8 577.5,848.8 573.7,848.6 570,848.8 567.7,847.9 564.8,846.1 562.5,846.2 559.1,846.1 557.7,845.2 555,843.8 551.8,843.4 547.5,842.5 547.5,837.5 549.7,834.4"/>
<polygon stroke="none" points="556.2,866.2 559.2,867.5 562.5,867.5 564.7,869.5 568.4,870.4 570,872.5 572,875.6 572.5,879 560,879 558.6,876 556.2,872.5 556.9,869.6"/>
<polygon points="685,687.5 687.5,687.1 689.9,685.2 692.5,683.8 695.1,682.6 699.8,683.3 702.5,682.5 705.9,682.2 709.9,680.8 712.5,681.2 715.9,682.3 720.1,682.5 722.5,683.8 724.4,685 727.5,685.5 730.3,686.1 732.5,687.5 735,687.6 737.5,689 739.6,690.9 742.5,691.2 743.5,694.6 746.2,697.5 746.1,700.2 747.5,703.8 749.2,705.6 752.5,707.5 750.2,707.9 747.9,709.3 745,711.2 741.4,711.7 738.8,711.6 735,712.5 731,713.6 727.5,713.6 725,715 722.7,715.5 719.7,716.3 717.5,717.5 715.2,715.6 712.5,715 709.3,714.3 707.4,712.7 705,712.5 702.7,711.2 698.4,711.4 695,710 693.3,708.6 690.2,707.6 687.5,707.5 686,703.8 687.5,700.8 686.2,697.5 684.7,693.5 685.9,691.3"/>
<polygon points="687.5,703.8 689.8,704.2 692.7,706.7 694.9,705.5 697.5,707.5 701.4,708.4 703.6,708.3 707.5,710 709.8,710.3 712.2,710.9 715,712.5 716.5,716.4 717.5,718.8 714.9,720.5 711.7,720.8 710,722.5 708,725 707.5,727.5 704.8,729.2 702.6,728.4 700,730 698.4,732.1 697.5,735 694.6,735.6 690.4,735.5 687.5,736.2 687.3,733 686.2,730 685.7,727.1 685,722.5 685.9,719.9 686.5,716.4 686.2,712.5 687.6,709 688,706.3"/>
<polygon points="717.5,718.8 722.5,717.5 724.7,716.2 727.1,715.6 730,715 733.2,714.9 735.5,713.8 737.5,712.5 741.8,711.5 745,711.2 747.5,710.5 750.5,710.1 752.5,708.8 755.2,707.4 758.8,707.4 762.5,706.2 765.5,706.4 768.8,707.5 769.1,710.8 769.8,714.9 770,717.5 770.6,721.5 771.5,724.1 772.5,727.5 775,729.3 776.8,729.9 780,731.2 782.7,732.1 786.2,732.5 788,736.8 787.5,740 786.6,741.9 785.4,744.8 784.3,747.2 783.8,750 784.2,754.3 783,757.5 782.5,760 782.3,762.4 780,765.5 778.4,766.6 777.5,770 776,773.4 776.1,776.8 775,780 775.3,783.2 777.1,786.8 777.5,790 776.8,792.3 776.1,795.5 775,797.5 773.5,800.3 770,802.5 767.1,803.4 763.8,805 760,807.5 758.5,810.1 755,812.5 752.8,809.6 750,807.5 749.6,805 748.2,801.7 746.6,799.9 745,797.5 744.3,794 742.5,793.2 741.9,789.3 740,787.5 738.9,784.3 739.4,781.3 737.5,777.5 736.2,775 734.3,772.4 732.5,770 730.5,767.2 729.9,764.5 727.5,762.5 725.2,760.5 723,758.4 720,757.5 718.3,754.9 715.8,752.3 715,750 712.2,747 710,745 709.8,741.9 708.9,739.4 707.5,737.5 704.6,737.4 700.7,735.1 697.5,735 698.4,732.1 700,730 702.6,728.4 704.8,729.2 707.5,727.5 708,725 710,722.5 711.7,720.8 714.9,720.5"/>
<polygon points="872.5,693.8 875.3,696.9 876.2,700 874.8,703.5 876.3,706.6 875,710 875.6,713 876.4,715.7 877.2,718.3 878.8,720 880.2,722.7 880,726.6 881.2,730 882.8,732.1 883.6,735.1 884.7,736.7 885,740 884.9,742.7 886.2,746.2 888.9,745.4 893,745.1 895,743.8 900,745 900.7,748.6 902.5,750 900.7,752.7 900,755 902.6,755.8 905.4,758.5 907.5,760 910.8,762 912.5,765 914.2,767.9 914.9,769.8 917.5,772.5 920.5,774.5 921.6,776.1 925,777.5 928.1,778.7 932.2,778.4 935,780 938.1,779.2 941.8,778.6 945,777.5 947.9,776.8 951.2,776.2 951.6,779 952.5,782.5 950.9,784.4 947.5,785 946.3,786.8 945.1,790.5 943.8,792.5 941.9,793.7 940,796.2 936.9,796.3 932.5,795 931.1,797.7 927.5,800 925.2,801.9 922.5,802.5 920,801.2 917.5,797.5 914.4,795.5 912.5,792.5 910,790 906.6,791.6 905,793.8 902.7,796.7 900,798.8 898.4,801.1 895,802.5 892.2,803.3 890.1,803.1 887.5,805 884.5,804.8 882.8,802.8 880,802.5 877.6,802.9 875.1,803.9 872.5,806.2 870.9,808.7 867.5,810 865.8,811.4 862.4,811.9 860,812.5 857.7,814.5 855,817.5 853.6,819.8 853.3,822.2 851.2,825 850.6,822 848.7,820.4 847.5,817.5 846.3,815 843.8,812.5 840.6,810.9 837.5,810 835.1,809.6 832.8,809.4 830,807.5 828.8,802.5 829.8,800.6 830.1,798 831.2,795 832.8,792.2 835,790 836.6,787 840,785 841.9,781.6 843,779.4 843.8,776.2 846,774.9 847.5,772.5 849.4,770 849.1,767 850,765 851.4,762.6 852.5,760 851.6,756.5 851.2,752.5 850,747.5 848.2,745.9 846.2,742.5 846.8,740.3 847.7,737.4 848.8,735 847.8,730.6 847.5,727.5 849.6,725.3 851.4,722.1 852.5,720 854.7,718.5 855.7,716.4 858.8,715 860.6,712.4 860.5,709.4 862.5,707.5 864.9,706.1 867.5,702.5 869,699.7 870,697.5"/>
<polygon points="951.2,782.5 953.7,783.3 956.7,781.5 960,782.5 963.9,783 965.8,784 970,783.8 972.4,783.9 975.1,786.9 977.5,787.5 978.8,790 975.6,789.7 972.7,790.2 970,790 967.5,789.3 963.8,787.6 960,787.5 957.9,786 954.5,785.7 952.5,785"/>
<polygon points="887.5,687.5 891.4,686.2 893.8,683.8 896.8,684.5 898.8,686.2 899.3,689.1 901.4,691.1 902.5,693.8 903.7,696.7 905.5,697.5 907.5,700 910.8,702.8 912.5,705 917.5,703.8 920.8,704.8 922.1,705.6 925,707.5 926.7,709.4 930,710 932.9,708.9 935,707.5 938.4,710.2 940,712.5 940.7,714.6 943.4,715.8 945,718.8 946.2,722.5 943.6,723.9 940,725 937.9,726.4 935,728.8 932.6,731 931.1,733 930,735 928.8,740 930.4,741.3 933.3,743.5 935,745 937.2,746 940.2,748.4 942.5,750 943.8,755 941.4,756.7 937.5,757.5 935.2,760.5 932.5,762.5 930.5,761.4 927.3,759.7 925,760 922.1,758.5 920,757.5 918.4,755 915,752.5 912,752.5 908.5,750.4 905,750 903.8,745 906.8,743.6 910,742.5 913.3,741.3 915,740 913.6,737.9 913.5,734.5 912.5,732.5 914.7,729.1 915,726.2 913.3,723.9 911.6,722.5 910,720 908.1,718.5 905.8,716.4 903.8,715 901.6,712.7 899.4,711.3 897.5,710 895.5,707.3 894.5,705.2 892.5,702.5 891.2,699.7 891.6,697.9 890,695 888.4,692.5 889.2,689.5"/>
<polygon points="917.5,690 921,687.6 922.5,685 926.1,686.3 928.8,686.2 928.7,689.5 930,692.5 932.1,694.1 933,696.1 935,698.8 937.5,702.5 935.1,705.5 932.5,706.2 930,705.6 927.5,703.8 925.1,701 922.5,700 920.2,697.5 918.8,695"/>
<polygon stroke="none" points="790,807.5 793.1,806.8 796.2,806.2 799.2,807.8 802.5,810 805.2,813.4 806.2,816.2 807.4,818.7 807.7,821.6 808.8,825 811,827.3 812.5,830 815.3,832 817.5,833.8 820.3,832.5 824.6,833 827.5,832.5 831.8,832.2 835,831.2 836.7,832.5 840.4,833.6 842.5,833.8 844.1,836.1 845.6,838.1 847.5,840 851.2,841.6 854.2,841.9 857.5,842.5 857.8,845.5 858.8,850 858,853 856.8,854.6 855,857.5 854.1,859.3 852.6,862.3 852.5,865 850.8,866.9 847.3,869 845,870 843.1,872.8 840,875 836.7,874.5 832.5,873.8 829.3,874 825,875 822.1,875.7 820.7,877 817.5,877.5 814.1,878 810,879 772.5,879 771.2,876.5 768.3,873.1 767.5,870 765.2,867.3 763.8,865.5 761.4,863 760,860 760.8,856.2 760,852.5 759.5,849.4 758,847.7 756.2,845 757.9,842.8 758.8,840 763.8,840 763.3,835.9 762.5,832.5 762.8,829.6 765,826.2 768.5,827.1 772.5,826.2 773.5,823.6 776.1,822.2 777.5,820 778.7,817.1 780,813.8 781.8,811.6 785,810 786.9,808.1"/>
<polygon stroke="none" points="1205,656.5 1203.6,659.4 1203.8,662.5 1202.5,665 1201.5,668.5 1201.4,671.8 1201.2,675 1198.8,672.5 1197.5,668.8 1194.5,671.2 1192.5,672.5 1189.5,671.4 1186.2,671.2 1184.8,673.4 1185.5,676.9 1183.8,680 1183.6,677.9 1182.4,675.3 1181.2,672.5 1181.8,669 1182.1,666.6 1181.2,662.5 1179.7,659.5 1179.5,656.5"/>
<polygon stroke="none" points="555,877.5 555.7,880 557.2,884.2 557.1,886.1 557.5,890 559,892.4 558.9,896.4 560,900 560.4,903.5 558.9,906.6 558.8,910 559,913.2 561,916 561.2,920 561.9,923.8 562.7,927.3 563.8,930 564.7,932.6 565.7,935.1 566.2,937.5 569.3,937.9 571,939.7 573.1,942 576.2,942.5 576,946.1 575,948.8 575.6,951.3 577.5,953.8 576.7,957.6 575,960 574.5,963.7 573.8,967.5 573.1,970.1 571.5,972.7 571.2,975 574.2,975.1 576.9,975.1 580,976.2 582.6,974.5 584.5,973 587.5,972.5 590.3,971.5 592.7,970 595,967.5 594.7,963.8 595.5,960 595.2,957.9 593.8,955 598.8,955 600.5,957.3 602.5,958.8 602.8,962.4 603.8,965 602.3,967.8 601.9,969.9 600,972.5 598.6,975.6 597.5,977.8 596.2,980 595.7,982.1 595.4,985.7 593.8,987.5 595.5,990.3 595.5,992.6 597.5,995 601.1,997.5 602.5,1000 604.4,1001.5 607.5,1002.5 606,1004.7 606.4,1007.7 605,1010 603.2,1012.1 602.9,1015.6 601.2,1017.5 601.8,1021.6 602.5,1025 605.6,1027.7 607.5,1030 610.4,1031.6 613.1,1031.7 615,1032.5 618.5,1035.2 620,1037.5 621.1,1039.7 620.9,1042.6 622.5,1045 621.3,1047.7 621.1,1049.5 620,1052.5 616.7,1054.3 615,1056.2 617,1058.3 619.1,1060.2 620,1062.5 622.8,1063.6 625.6,1066.1 627.5,1067.5 629,1069.9 630,1072.5 627.6,1074.7 625,1075 626.2,1077 628.5,1078.3 630,1081.2 632.7,1082.4 635.1,1083.1 637.5,1085 640.3,1084.9 643.2,1086.1 646.2,1086.2 646.1,1088.9 647.5,1092.5 646.6,1095.5 646.7,1097.6 645,1100 647.6,1100.6 649.9,1102.2 652.5,1103.8 655.7,1105 658.8,1103.6 662.5,1105 665.4,1105.9 667.5,1107.5 666.8,1111 667.5,1115 666.9,1117.2 666.2,1120.9 666.2,1123.8 664.6,1127.3 665,1130 667.9,1132.8 670,1135 670.7,1138.2 671.2,1142.5 669.7,1145.7 670,1149 660,1149 659.3,1145.7 659.6,1143.3 658.8,1140 656.9,1137.7 655.1,1134.8 652.5,1132.5 648,1131.9 645,1131.2 640,1132.5 638.3,1129.2 636.2,1127.5 634.7,1125.5 634.8,1122.6 633.8,1120 632.7,1116.8 631.5,1115.2 631.7,1112.1 630,1110 628.1,1107.2 627.7,1105.4 626.1,1102.4 626.2,1100 625.4,1097.6 624.1,1095.3 622.4,1093.2 621.2,1090 620.3,1087 619.2,1084.4 617.6,1082.3 616.2,1080 615,1077.3 613.2,1074.3 612.4,1072.5 610,1070 608.7,1066.8 606.1,1065 603.9,1063.4 602.5,1060 600.7,1057.7 600.2,1054.4 597.8,1052.6 596.8,1050.3 596.2,1047.5 595,1045.6 594,1043.1 593.7,1040.5 593,1036.9 591.2,1035 590.9,1032 589.8,1030 589.4,1026.8 588.9,1025.1 587.5,1022.5 586.3,1019 586,1016.6 586.2,1013.4 586.2,1010 584.5,1007.8 585.2,1005.4 583.6,1002.1 582.5,1000 580.7,997.7 580.1,995.2 578,992.6 577.5,990 576.2,987.2 576.4,984.9 574.9,982.7 573.8,980 572,978.1 570.3,974.5 567.5,972.5 565.9,969.3 563.9,967.9 562.5,965 562.2,962.7 560.6,960.1 558.8,957.5 557.7,955.1 556.7,952.3 556.1,950.1 555,947.5 554.3,944.8 553.2,942 551.2,940 550.5,938.1 548.7,935.6 549.1,932.1 547.5,930 546.2,928 545.9,924.7 545.9,922.9 543.7,920.5 543.8,917.5 542.8,913.7 542.9,912 543.4,908.4 542.5,905 542.2,902.4 541.9,899 540.9,894.9 540,892.5 538.7,889.2 539.2,886.4 538.6,883.8 538.1,880 537.5,877.5"/>
<polygon points="555,868.8 560,867.5 562.5,867.7 565,869.7 567.5,870 569.4,871.3 571.1,874 573.8,875 573.8,878.6 575.1,882 574.5,885 573.1,888.2 571.1,888.8 570,892 568.7,889.8 565.8,887 563.8,885 561.1,882.7 559.9,880.9 558.8,877.5 557.1,875.5 556.1,872"/>
<polygon stroke="none" points="810,877.5 806.4,879.7 805,882.5 802.4,880.9 800,877.5 798.6,880.3 797.6,882.5 797.5,885 795.2,886.6 793.2,888.4 790,890 787.2,891.5 782.5,891.2 779.2,889.9 777.5,887.5 775.2,884.8 774.4,882.1 773.8,880 773,877.5"/>
<polygon stroke="none" points="673.6,1147.9 675,1150 673.6,1154.3 671.4,1157.9 670.7,1155.7 668.7,1154.1 667.1,1151.4 665,1147.9"/>
</g>
<g stroke="#000" stroke-width="0.85">
<polygon fill="#ffa500" points="472.5,328.8 475.3,326.5 478.8,325 482,323.3 485,322.5 487.8,324.8 490,326.2 491.7,329.2 492.5,332.5 487.5,331.2 485.1,333.6 483.8,336.2 481.5,339.3 480,342.5 477.1,340.8 475,340 472.8,338.6 471.2,335 471.4,331.7"/>
<polygon fill="#ffa500" points="1273.8,512.5 1275.9,510.6 1278.2,510.7 1281.2,509.5 1281.2,512.6 1282,515 1278.9,518.2 1277.5,521.2 1274.2,522.3 1271.2,525 1270.3,522.9 1268.8,520 1271.5,517.6 1271,514.8"/>
<polygon fill="#ffffff" points="1020,501.2 1022.6,499.7 1025,497.8 1027.5,495 1029.9,495 1032.2,493.9 1035,492.5 1037.5,496.2 1035.2,498.9 1033.8,502.5 1029.9,503.7 1026.2,503.8 1023.4,502.7"/>
<polygon fill="#ffa500" points="1144.8,541.5 1149,542.3 1152.4,544.8 1154.9,547 1155.8,549.1 1159.2,550.3 1162.1,552.9 1162.2,556.3 1162.5,558.8 1163,563 1165.1,565.9 1162.5,569.7 1160.8,572.3 1165.1,572.7 1168.4,571.7 1171,572.7 1175.2,572.3 1178.2,571 1181.9,568.1 1184.5,569.3 1187.9,571 1189.5,574.8 1191.4,577.6 1193.8,579 1196.8,579.5 1198.8,580.7 1200.5,579.9 1199.7,582.4 1201.6,585.3 1203.9,586.6 1205.2,589.2 1203.1,593.4 1201.1,595.7 1199.7,597.6 1196.3,601 1194,603.2 1192.9,605.2 1195.5,609.4 1198,611.9 1196.3,614.5 1193.2,615.7 1191.2,617 1189.4,619.1 1186.2,620 1182.8,619.5 1178.8,619.4 1176,619.1 1173.3,616.7 1171,616.6 1166.8,613.6 1162.5,611.1 1159.2,608.6 1156.5,607.4 1154.1,605.6 1149,605.6 1144.8,606.5 1141.9,607.3 1141,604.8 1136.4,604.8 1132.1,604.8 1128.8,602.2 1125.4,599.3 1125,595.9 1127.1,593.4 1129.6,590.8 1130,588.3 1127.9,586.2 1123.7,584.9 1121.5,584.9 1118.6,583.2 1113.6,583.2 1111.2,582.7 1108.9,580.7 1112.7,577.8 1115.3,575.2 1117.8,572.3 1118.2,567.2 1117.8,562.1 1118.6,559.2 1122.9,559.2 1127.1,558.8 1128.5,556.6 1131.3,555 1134.7,552 1136.4,548.2 1139.7,545.3 1142.3,542.3"/>
<polygon fill="#ffeda0" points="1149.9,554.5 1152.4,555.8 1154.9,558.8 1156.2,563 1156.6,567.2 1157.9,570.6 1160.8,571 1159.2,573.1 1155.8,575.7 1153.2,578.2 1150.7,579 1149,577.8 1149.9,573.1 1150.4,569.5 1149.4,567.2 1148.3,563.6 1148.6,560.5 1149,556.2"/>
<polygon fill="#ffeda0" points="1153.2,578.2 1155.8,575.7 1159.2,573.1 1162.5,572.7 1166.8,572.7 1171,572.7 1175.2,572.3 1178.2,571 1176.9,573.5 1173.5,575.7 1171,578.2 1168.4,579.4 1165.1,578.6 1161.7,579.4 1158.3,579.9 1154.9,581.1 1152.4,579.9"/>
<polygon fill="#ffffff" points="1205.6,559.6 1208.1,557.1 1209.8,557.5 1211.5,559.2 1215.7,558.3 1220.8,558.3 1219.1,559.6 1214,560.5 1211.5,562.6 1207.3,563.4 1205.2,561.3"/>
<polygon fill="#ffffff" points="623.8,750 628.8,748.8 630,751.9 629.5,755 629.8,758.7 630,762.5 628.5,765.2 628.8,768 625,765 623.8,760 623.1,756.2 622.5,753.8"/>
<polygon fill="#ffeda0" points="796.2,726.2 797.1,723.3 798.7,720.6 799.3,718.6 800,715 802.6,713.4 805,712.5 805.9,715.1 808.7,718.5 810.5,720.8 812.5,722.5 813.1,725.5 814.8,728.3 817.6,729.9 818.8,733.8 820.2,737.2 821.3,739.7 821.2,742.5 818,741.9 815,740 812.1,738 810,735 806.6,732.9 805.2,730.2 802.5,728.8 798.7,728.1"/>
<polygon fill="#ffeda0" points="817.5,705 821.6,705 825,705 828.3,706 830.4,707.3 832.5,708.8 834,710.2 836.6,712.4 837.5,715 836.6,717.9 836.8,720.6 835.9,723 835,726.2 833.8,728.9 833,732.7 832.5,736.2 830.3,734.1 828.8,732.5 828.3,729.2 828,726.4 827.5,722.5 825.3,720.1 823.5,718.3 822.5,715 820.4,712.4 817.7,711.9 816.2,710"/>
<polygon fill="#ffeda0" points="840,727.5 842.3,727.6 845,730 846.5,732.5 846.6,736.1 847.5,740 847.3,742.7 849.2,746.7 848.8,750 846.8,752.8 847.6,755.3 845.3,757 845,760 844.9,764.1 845.1,766.4 843.8,770 842.2,772.1 842,774.4 842.5,777.7 840.2,779.3 840,782.5 838.4,780.4 838,778.2 837.5,775 836.3,772 836.7,768.2 837.3,766.1 836.2,762.5 836.3,759.7 838.2,756.4 838.8,752.5 839.3,748.5 841.1,745.5 841.2,742.5 840.9,738.7 839.5,735 839.9,730.9"/>
<polygon fill="#ffeda0" points="786.2,777.5 788.4,779.7 791.2,782.5 793.3,785.3 796.1,787.1 797.5,790 798.9,792.6 801.2,795.3 802.5,797.5 806.5,796.9 810,796.2 812.4,795.1 816.8,795.1 820,795 822.1,797.5 823.9,798.6 826.2,801.2 823.2,802.9 820,805 817.2,807.6 817.2,810.2 815,812.5 813.6,814.1 813.7,817.2 812.5,820 811.1,822.8 810,825 809.9,821.3 809.6,819.1 808.8,816.2 806.8,813.9 806.2,810 802.5,807.5 799.6,806.5 796.2,806.2 793.1,806.8 790,807.5 786.9,808.1 785,810 781.8,811.6 780,813.8 778.7,817.1 777.5,820 776.1,822.2 773.5,823.6 772.5,826.2 770,824 766.2,822.5 767.2,819.5 767.9,816.3 767.5,812.5 769,809.2 769.7,805.4 770,802.5 771.6,799.6 771.8,797.9 773.8,795 776.9,793.6 778.8,792.5 779.7,789.4 780,785 781.3,782.7 782.5,780"/>
<polygon fill="#ffffff" points="810,747.5 813.4,746.1 817.5,746.2 820.1,748.4 822.5,750 821,753.7 821.7,756.6 820,760 818.5,762.7 815.9,764.4 815,767.5 813.9,770.5 812,772.6 810,775 807.3,777.2 805,780 804.4,777.3 802.5,775 804,771 804.6,768.4 805,765 804.9,762.2 805,758.2 806.2,755 806.8,752.8 808.4,750.1"/>
<polygon fill="#ffffff" points="812.5,733.8 816.4,732.1 820,732.5 822.8,733.6 825,735 824.4,737.6 822.5,740 820.1,741.1 816.2,741.2 814.3,739.1 813.7,736.1"/>
<polygon fill="#ffffff" points="827.5,810 830.2,811.1 835,811.2 837.3,813.4 840,815 841.6,816.9 843.8,818.8 845.5,820.8 847.5,822.5 851.2,825 853.3,822.2 853.6,819.8 855,817.5 857.2,815.7 860,813.8 860.8,817.3 861.3,819.2 861.2,822.5 861.7,825.6 860.3,829.3 860,832.5 859.6,835.2 857.4,837.1 857.5,840 852.5,841.2 850.2,839.3 847.5,838.8 845.6,835.7 842.5,833.8 840.4,833.6 836.7,832.5 835,831.2 831.8,832.2 827.5,832.5 824.4,833.6 821.4,833.6 818.8,833.8 817.5,828.8 820.7,828 822.2,826.9 825,826.5 827.5,825 827.5,821.9 828.2,820 830,817.5 829.8,814.7 829,812.2"/>
<polygon fill="#ffffff" points="742.5,690 744.4,688.5 746.3,685.7 747.5,682.5 749.7,681.4 751.8,678.8 752.9,677.1 755,675 758.4,673.7 759.8,672.3 762.5,670 765.4,671.2 770,671.2 772.5,673.2 775,675 774.6,678.3 776.2,682.5 774.9,685.5 773.8,688.8 771,687.9 768,689.5 765,688.8 761.2,688.8 758.2,689.7 755,689.5 751.8,689.7 748.5,688.9 745,689.8"/>
<polygon fill="#ffffff" points="930,735 931.1,733 932.6,731 935,728.8 937.9,726.4 940,725 943.1,723.9 945.4,723.5 947.5,722.5 949.1,725.5 951.4,725.6 952.9,728 955,730 958.6,729.9 961.6,732.6 965,732.5 965.4,735 967.2,737.4 967.5,740 965.7,742.2 963.8,743.5 961.5,745.2 960,747.5 960.2,750.4 961,753.3 962.5,755 964.4,756.9 966.6,760 967,762.4 970,765 973.4,766.4 975.4,768 977.5,770 973.6,769.2 970.7,769.2 967.5,770 965.2,768.1 962.3,767.5 960,765 956.8,763.7 954.6,761.8 952.5,760 950.3,758.6 947.3,756.8 945,756.2 943.7,753.3 943.8,750 940.6,748.9 938.3,745.8 935,745 933.3,743.5 930.4,741.3 928.8,740"/>
<polygon fill="#ffffff" points="632.5,1115 635.4,1113.9 637.5,1112.5 640.1,1113 642.5,1115 644.4,1118.4 646.2,1120 643.9,1122.2 642.5,1123.8 639.8,1122.5 636.2,1121.2 635.1,1118.4"/>
<polygon fill="#ffffff" points="752.9,673.8 755,671.8 758.1,671.2 761.3,670.4 763.2,669.9 765.8,672.5 768.8,672.7 771.2,672.2 773.5,673.8 776.2,673.8 775.1,677.1 775,679.6 775.6,682.9 775.6,686.3 773.6,690 769.7,691.9 767.2,692.2 763.8,692.1 761.9,692.5 758.6,691 755.6,691.5 752.9,691.9 750.3,691.8 747.5,692.2 745.3,691.6 742.5,690.6 742.5,686.8 744.7,685.2 747.7,682.9 749.4,681.2 750.3,677.7"/>
</g>
<g fill="none" stroke="#000" stroke-width="0.85">
<polyline points="400,331.2 400.7,334.6 402.4,336.7 403.8,338.8 405.3,341.3 408,343.1 410,345 413.9,343.8 416.5,344.9 420,343.8 422.5,340.5 425.8,339.5 427.5,337.5 430,339.9 434.3,340.8 436.2,342.5 439.3,342.3 441.5,344 445,343.8 447.9,345.6 449.6,346.9 452.5,348.8 455.1,349.1 457.1,350.6 460.1,352 462.5,353.8 466.5,352.2 469.9,351.9 472.5,351.2 475,348.2 476.4,346 477.5,342.5 479.4,339.9 482.6,338.9 485,336.2"/>
<polyline points="420,343.8 421.6,347.1 422.5,350 424.5,352.2 425.2,354 429,355.5 430,357.5"/>
<polyline points="453.8,298.8 455.8,301.2 458,301.9 460,305 462.5,306.2 461.8,308.5 460.5,310.7 458.7,313.6 458.8,316.2 462,317.1 464.1,318.2 468,318.8 470,320 473,320.9 475.7,322.2 480,322.5 484.1,322.8 487.1,323.7 490,325 493,323.4 495,322.5 496.7,320.9 499.4,318.6 500,316.2 502.2,315 504.3,313.5 507.8,313 509.3,310.5 512.5,310 514.7,308 517.9,307.9 521.2,306.2 524.9,306.9 527.5,307.5 529.2,305.4 529.8,301.7 531.2,300 534.6,298.1 536.9,296.7 540,295 543.3,293.7 546.2,292.5"/>
<polyline points="525,285 527.3,286.5 530.2,288.6 532,290.9 533.8,292.5 536.1,290.3 538.8,288.7 541.9,288.8 545,286.2"/>
<polyline points="598.8,396.2 601.1,394 602.2,392.5 603.4,389.4 605.6,387.7 607.5,385 609.9,382.6 611,381.5 613.4,378 614.8,376.5 617.5,375 620,374.1 624.9,373.8 627.5,372.5 630.6,373.3 633.1,374.5 635,376.2 637.7,377.5 640.3,380.8 642.3,382.4 645,383.8 646.9,381.5 650,378.8 652,380.3 654.2,382.9 655.6,384.9 657.5,386.2 661,386 664.5,385 666.6,384.3 670,385 673.1,383.4 675.1,382.3 678.3,381.4 679.3,380 682.5,378.8 685,376.1 688.5,374.3 690.5,372.5"/>
<polyline points="1095,513.8 1095,516 1094.6,519.4 1093.9,522.6 1093.7,524.8 1092.2,527.6 1092.5,530 1093.9,532.5 1093.4,534.8 1095.2,537 1096.5,540.1 1096.1,542.7 1097.5,545 1094.7,546.8 1094.1,549.3 1091.6,550.6 1089.5,552.8 1087.5,555 1086,556.8 1085.7,560.4 1085.2,562 1084.9,564.8 1083.7,568.2 1082.5,570 1081.9,572.7 1083.3,576.5 1082.6,579.1 1083.8,582.5 1082.5,585.8 1081.9,587.6 1081,590.5 1081.5,594.2 1080,596.2"/>
<polyline points="1097.5,545 1099.9,546.9 1101.7,548 1105.1,549.2 1107.5,550 1109,553 1111,554.8 1111.3,557.6 1113.8,560 1114,562.9 1114.6,566.1 1113.9,568.8 1114.6,571.8 1114.5,574.6 1115,577.5"/>
<polyline points="1111.2,513.8 1112.7,516.7 1113.7,518.9 1116.3,522.7 1117.5,525 1116.6,527.6 1117.7,530.6 1116.7,533.6 1116.1,537.1 1116.7,540.2 1116.2,542.5 1117.7,545 1117.4,547.6 1118.9,551.1 1118.7,552.7 1120.2,556.4 1120,558.8"/>
<polyline points="1130,512.5 1129.2,515.3 1129,517.9 1128.8,520.8 1127.7,524.4 1128.3,526.7 1127.5,530 1127.3,532.8 1126.9,536.7 1126.6,539.3 1126.9,542.5 1126.2,545 1126.3,548.9 1127.4,551.7 1127.4,553.7 1127.5,557.5"/>
<polyline points="1116.2,542.5 1118.9,544.2 1121.3,547.1 1124.9,547.9 1126.2,550"/>
<polyline points="1161.2,521.2 1159.5,523 1157.1,525.4 1157.2,528.3 1155,530 1152.7,532.3 1150,535 1147.7,536.8 1146.6,538.7 1145,542"/>
<polyline points="1173.8,517.5 1176.6,518.5 1180.2,520.7 1182.5,522.5 1186.9,522.8 1190,521.2 1191.6,524.6 1192.2,526.4 1193.8,530 1192.2,533.5 1192,536.7 1192,538.7 1191.2,542.5 1189.1,545.7 1187.5,547.5 1185.9,549.6 1184.2,551.9 1182.5,555 1182.3,557.8 1181.6,561.6 1180,565 1182.5,568.8"/>
<polyline points="1160,550 1162.3,550.6 1165.1,554 1167.6,554 1170.5,556.4 1172.5,557.5 1174.7,559 1176.5,561.6 1178.5,562.6 1180,565"/>
<polyline points="1183.8,505 1186.6,504.7 1188.7,505.9 1192.2,506.1 1195,506.2 1198.6,506.4 1201.4,505.3 1205,505 1206.9,507.4 1208.8,508.6 1210.5,510.2 1212.5,512.5 1214.1,514.4 1215.9,516.2 1217.3,518.3 1220,520 1224.1,519.8 1226.6,519.3 1230,520 1232.9,518.3 1236.1,517.9 1240,517.5 1242.2,516.3 1245.2,516 1247.5,515 1248.6,517.2 1251.3,520.1 1252.4,521.2 1255.9,522.7 1257.5,525 1259.9,525.4 1263.9,525.4 1266.9,525.3 1270,525"/>
<polyline points="1193.8,530 1196.4,530.7 1199.5,530.4 1202.8,530.4 1205,530 1207.4,530.6 1210.3,531.4 1213.8,532.5 1216.3,530.9 1220,528.9 1222.5,527.5 1225.7,526.2 1227,524.5 1230.8,523.8 1232.5,522.5 1234.9,520.6 1238,519.7 1240,517.5"/>
<polyline points="1191.2,542.5 1194.7,542.3 1197.7,541.8 1200,541.2 1203.2,540.9 1206.7,542.8 1210,542.5 1211.7,543.6 1214.3,544.8 1217.5,545 1218.6,547.6 1220,551.2 1222.4,550.4 1225.7,548.9 1227.5,547.5 1228.8,545.2 1231.8,544.1 1233.6,541.6 1235,540 1233.3,537.1 1232.6,532.7 1232.5,530 1231.6,526.2 1232.5,522.5"/>
<polyline points="1187.5,547.5 1189.4,548.8 1192.6,549.9 1195,550 1197.8,548.7 1201.2,547.5 1203.6,548.4 1206.7,549.9 1210,550 1209,553.2 1206.6,555.6 1206.2,558.8"/>
<polyline points="1215,560 1217.8,559.3 1220,557.5 1220.3,553.8 1220,551.2"/>
<polyline points="1210,563 1212.3,562.5 1214.7,561.6 1218,561 1220,560 1223.5,561.2 1224.7,563.3 1227.5,565 1227.5,567.5 1229.7,569.4 1229.7,573.4 1231.2,575 1231.1,578.9 1232.8,581.8 1232.5,585 1235,585"/>
<polyline points="1195,578.8 1196.8,577.3 1198.4,574.9 1200,572.5 1202,570.4 1205,567.5 1206.2,564.3 1205.5,562"/>
<polyline points="1207.5,490 1208.5,491.8 1211.5,493.8 1214.1,495.5 1215,497.5 1217.5,498.6 1220.2,499.7 1222.4,501.4 1225,502.5 1227.5,504.5 1228,506.9 1230.2,507.7 1232.5,510 1234.1,511.9 1235.7,513.8 1237.7,515.9 1240,517.5"/>
<polyline points="1238.8,457.5 1240.9,456.1 1244.7,456.1 1247.5,455 1250.1,453.3 1251.9,450.8 1253.8,447.5"/>
<polyline points="1257.5,475 1259.8,474 1261.8,471 1265,470 1268,468.8 1270.5,467.7 1272.6,467.7 1275,466.2 1277.7,466.6 1280.8,465.6 1283.8,465"/>
<polyline points="1257.5,475 1256.9,477.6 1258.8,481.2 1258.7,484.2 1258.8,487.5 1258.3,491.6 1258.7,495 1260,497.5 1259.7,501.2 1260,503.1 1260.4,507 1260,510 1259.1,512.5 1258.1,516.5 1259.5,518.8 1257.9,522.2 1257.5,525"/>
<polyline points="1260,497.5 1263.3,496.9 1266.2,497.5 1266.1,500.9 1267.8,503.6 1267.1,506.6 1267.5,510 1266.6,513.8 1265.1,516.3 1265,520 1263.1,522.9 1260,525"/>
<polyline points="1293.8,501.2 1291.2,503.1 1289.4,505.5 1287.6,506.5 1285,507.5 1284.6,510.2 1282.2,512.2 1282,515"/>
<polyline points="1271.2,525 1273,526.7 1275.9,527.6 1277.5,529.1 1280,531.2 1283.9,532.2 1287.3,532.8 1290,532.5 1292.9,531.2 1296.5,530.7 1300,530 1302.7,528.3 1305,527.5"/>
<polyline points="1193.8,605 1196.4,604.7 1200,605.8 1202.5,607.5 1205.5,606.6 1207.1,604.8 1210.1,603.4 1212.5,601.2 1216,602.6 1218.4,605.6 1221.2,606.2 1225,607.5"/>
<polyline points="1147.5,487.5 1150,489.1 1151.5,491.3 1155,492.5 1159.4,492.8 1162.5,493.8"/>
<polyline points="1026.2,487.5 1029.5,487.1 1032.8,487.4 1035,486.2 1036.1,483.9 1037.6,481 1040.2,480 1041.2,477.5"/>
<polyline points="1037.5,496.2 1038.9,493.2 1040.5,491.3 1042.5,490 1044,487.6 1045.3,484.9 1046.4,482.2 1047.5,480"/>
<polyline points="1126.2,627.5 1128.3,628.9 1129.4,631.9 1132.5,633.8 1135.6,632.6 1137.9,633.1 1141.5,632.6 1143.8,631.3 1147.2,630.8 1150,630 1152.7,630 1155.1,628.8 1156.9,627.1 1160.3,626.9 1163.2,626.2 1165,625 1168.3,623.4 1170.6,621.4 1172.5,620"/>
<polyline points="1126.2,627.5 1125.8,631.1 1125.8,633.3 1125.9,637.4 1125,640 1123,642.6 1121.4,645.2 1120.8,647.8 1120,650 1119.8,653.8 1117.8,656.1 1117.5,659"/>
<polyline points="1172.5,620 1172.4,622.5 1170.9,625.7 1170.9,629.5 1170,632.5 1168.5,636.2 1169.5,639.7 1169,641.5 1167.5,645 1167.9,647.9 1166.9,650.1 1165.4,653.5 1165.3,656.6 1165,659"/>
<polyline points="1175,618.8 1175.6,621.1 1174.8,624.5 1174.3,626.9 1173.9,629.5 1174,632.1 1173.8,635 1174.1,637.6 1174.9,640.8 1175,645 1174.6,648.2 1175.2,650.4 1175.2,653.3 1173.2,656.4 1173.8,659"/>
<polyline points="1134.7,552 1136.8,555.4 1136.5,558.4 1136.4,561.3 1135.1,564.8 1135.5,567.2 1133.9,569.2 1133.8,572.3 1132.1,576.5 1128.8,579 1126.4,578.9 1122.9,578.6 1118.6,579 1114.4,580.3 1111.8,581 1108.9,580.7"/>
<polyline points="1144.8,541.5 1144.4,546.1 1143.5,549.5 1147.3,550.7 1149,554.5 1147.9,557.9 1148.6,560.5 1148.3,563.6 1149.4,567.2 1150.4,569.5 1149.9,573.1 1149,577.8 1149,582.4 1145.7,585.8 1142.3,587.9 1138.9,589.2 1137.2,590.8 1138.9,593.4 1140.6,596.8 1142.3,600.1 1144,602.7 1143.1,604.8 1141.9,607.3"/>
<polyline points="741.2,402.5 739.8,405.5 737.6,406.6 736.1,408.9 735,412.5 732.6,413.5 730.5,415.5 727,417.2 725,418.8 724.7,421.1 722.7,425 722.5,427.5 719.2,427.9 717.2,430.3 715,430 714,433.6 715,436.2"/>
<polyline points="780,472.5 782.1,473.1 784.3,475.5 786.7,477 790,477.5 793,478.6 794.5,478.8 797.7,480.5 800,481.2"/>
<polyline points="773.8,477.5 777.2,478.4 779.2,479.7 782.7,481.9 785,483.8 787.4,486 789.7,485.5 793.4,487.1 795,488.8 797.9,490.1 800.7,492.3 802.7,495.2 805,496.2 803.8,497.5"/>
<polyline points="800,481.2 801.2,485.1 801.2,487.5 802.3,490.9 803.1,494.1 805,496.2"/>
<polyline points="950,545 952.8,546.2 955.4,546.8 959.8,547.8 962.5,547.5 964.3,549.3 967.3,549.4 970.4,550.9 972.5,552.5 974.8,554.5 976.9,555.4 980,557.5 982.8,556.6 986.6,557.3 988.9,556 992.5,556.2 995.2,557.2 1000,557.5"/>
<polyline points="433.8,750 436.6,750 438.8,749 441.4,748.3 445,748.8 447.2,751.5 450.3,752.3 452.5,755 455.1,755.9 458.4,756.2 462.5,757.5 462.8,753.8 463.6,751 463.6,748.6 465,745 466,742.9 468.1,740.9 470.5,738.4 472.5,737.5 475.3,735.4 477.8,734.2 480.1,734.6 481.7,732.2 485.7,731.2 487.5,730 489.4,728.1 492.2,726.2 494,725.5 496.3,722.3 499.1,721.3 500.5,719.3 503.2,717.6 505,716.2"/>
<polyline points="552.5,690 553,693.1 554.6,697.2 555,700 555.8,703 557.7,704.8 559.2,709 560,711.2"/>
<polyline points="620,622.5 619.8,625.3 619.7,629.1 621.4,631.4 620,634.4 621.5,637.5 621.2,640 619.6,643.4 619.7,646.9 618.5,649.6 618.8,652.5 620.2,654.4 622.6,657.9 623.5,660 625,662.5 625.9,665.4 627.6,667.1 628.7,670.1 628.9,673 630,675 630.7,678.2 633.4,679.7 634.2,682.9 635,685 635.5,687.7 636.4,691 637.5,695 636.6,697.8 634.7,699.8 633.8,702.5 635.7,704 637.5,707.5"/>
<polyline points="555,667.5 557.2,666.4 560,664.4 562.5,663.8 566.7,662.9 570,662.5 575,662.5"/>
<polyline points="560,677.5 563.9,679 567.5,678.8 571.3,678.6 575,677.5 578,676.3 580,675"/>
<polyline points="523.8,797.5 526.9,796.9 528.9,799.1 531.8,798.3 535,798.8 537.1,800.5 540.8,801.4 542.7,802.9 545,805 547.8,804.8 551.2,803.8"/>
<polyline points="527.5,802.5 527.8,805.8 526.1,808.4 526.2,812.5 528.2,814.4 530.5,816.5 532.5,818.8 535.1,817.8 539.6,817.6 542.5,816.2 545.5,814.3 547.9,812.2 550,810"/>
<polyline points="527.5,823.8 530.3,824.9 532.1,826 534.7,827.1 537.9,828.3 540,830 543.9,829.5 546.4,830.9 550,831.2"/>
<polyline points="535,830 536.7,831.9 537.5,835 538.7,836.8 540,840 542.6,840.3 545,842.5"/>
<polyline points="530,850 534,850.3 537.1,849.9 540,850 543.8,850"/>
<polyline points="565,770 568.1,768.5 571.4,768.9 575,767.5 576.9,769 580.3,769.1 583.1,770 585,771.2 587.7,770.9 591.9,768.9 595,768.8 596.3,767.2 598,764.9 600,762.5 601.4,760 600.9,756 602.5,752.5"/>
<polyline points="575,772.5 577,774.1 580.9,775.5 582.2,776.4 585,778.8 588.9,778 591.7,776.8 594.5,776.6 597.5,776.2 600.3,773.9 603.3,773.2 605,771.9 607.5,770 608.1,767.6 610.3,764.2 612.5,762.5"/>
<polyline points="886.2,746.2 882.6,747 880,747.5 876.1,747.3 872.5,747 870.5,749.6 867.6,750.7 865,752.5 863.4,754.5 861.2,757.5 859.5,755.4 856.8,754.8 855,752.5 851.2,752.5"/>
<polyline points="850,765 852.5,768.8 856.4,768.7 860,770 863.4,769.9 866.9,770 870,770 873.9,770.5 876.4,768.3 880,768.8 883,769.1 887.5,770 888.5,767 888.8,762.5 890.5,760 892.5,757.5 895,757.3 897.9,755.3 900,755"/>
<polyline points="887.5,770 886.1,771.8 886.6,774.7 885,777.5 885.8,780.6 886.9,782.9 887.5,785 890.2,788.2 892.5,790 895.3,791.9 897.5,795 900,798.8"/>
<polyline points="912.5,705 913.6,709.1 913.5,712.4 915,715 915,718.3 915.6,720.7 915.5,722.9 915,726.2 917.1,725.5 920.3,723.9 922.5,722.5 924.8,724.6 925,728.4 927.4,729 928.5,732.2 930,735"/>
<polyline points="922.5,685 923.3,688.3 925,692 925,695 926,698 926.8,701.5 927.5,703.8"/>
<polyline points="777.5,820 779.2,822.3 778.4,825.5 780,827.5 780.6,830.2 780.9,834.1 782.5,837.5 785.1,840.1 785.1,842.3 787.5,845 790.6,845.6 794.1,847.3 797.5,847.5 800.9,846.3 802.8,845.1 805,842.5 807.3,841.6 810,840 812.1,838.5 814.7,835.8 817.5,833.8"/>
<polyline points="763.8,840 766.8,840.9 770,842.5 772,845.5 772.8,848.2 775,850 777.2,850.3 779.6,851 782.5,852.5 783.9,849.7 785.1,847 787.5,845"/>
<polyline points="797.5,847.5 798.8,850.5 799.8,852.3 802.5,855 801.2,858 801,862.4 800,865 798.6,868.2 798.6,869.9 798.6,872.9 798.1,876.3 797.5,879"/>
<polyline points="760,852.5 761.9,851.7 765,850.4 767.5,850 768,846.7 769.9,845.7 770,842.5"/>
<polyline points="757.5,597.5 756.6,600.7 756.1,602.6 753.3,604 752.5,607.5 752.9,611.9 753.8,615 751.5,616.3 750,619.3 748.4,620.9 746.2,622.5 745.8,625.2 744.9,628.1 743.3,629.9 742.5,632.5 741.1,635.2 741.1,639.3 739.9,642 740,645 738.5,647.8 736.5,648.6 734.2,650.1 732.5,652.5 729.6,653.4 728.3,656.4 725,657.5 724.9,660.9 723.4,661.9 722.5,665 721.2,667.2 719,669.5 716.6,669.6 715,672.5 713.3,675.6 712.6,678.2 712.5,681.2"/>
<polyline points="773.8,690 776.8,687.9 780,687.5 783.6,686.2 786.3,687 790,686.2 792.1,688.2 794.5,689.2 797.5,690 800,690.9 802.5,694.1 805,695 807.2,697.2 809.1,698.6 812.5,700 815.4,701.8 817.3,703.3 820,703.8 823.9,702.5 826.2,700 826.9,696.8 826.2,694 827.5,690 829.4,687.5 829.8,684.8 830.5,681.9 831.2,680 833.8,679.2 837.6,676.7 840,676.2 841,678.9 844.3,680.5 845,682.5 846.9,684.2 848.3,686.7 850,690 851,693.1 852.7,695.5 855,697.5 856.1,699.6 857.8,702.7 857.5,705"/>
<polyline points="777.5,700 779.8,701.9 781.2,704.2 783.5,706 785,707.5 787.6,708.8 791,708.2 795,710 796.9,711.9 798,714.7 800,717.5 802,715.2 805,712.5 807,710.6 810,710 812.2,707.9 815.8,706.8 817.5,705"/>
<polyline points="790,730 792.4,730.2 794.8,732.6 797.5,732.5 799.2,735 802.1,736.1 802.8,738.4 805,740 807.5,742.8 809.1,745 810,747.5"/>
<polyline points="820,740 822.2,742.3 825,745 827.5,742.4 829.7,741.5 832.5,740 835.9,740.9 840,740"/>
<polyline points="822.5,750 825.1,751.6 827.6,752.5 830,752.5 832.5,754.8 832.9,757.2 834.4,760.7 836.2,762.5"/>
<polyline points="805,780 807.3,782.8 807.7,785.7 810,787.5 812,789.4 815.1,792.3 817.5,793 820,795 822.1,797.5 823.9,798.6 826.2,801.2"/>
<polyline points="928.8,665 928,667.9 928.9,671.3 928.8,673.7 927.5,677.5 930.5,678.8 935,678.8 938.3,678.8 942.5,677.5 946.1,678.1 947.9,676.8 951.2,677.5"/>
<polyline points="955,681.2 956.5,684.7 958.5,686.2 960,690 960.2,692.7 960.9,695.7 962.5,697.5 965.2,699.8 968,700.4 970,702.5 971.7,705.4 974.1,707 975,710 977.7,711.7 980.3,712.6 982.2,713.1 985,715 989,715.3 992.4,716.4 995,717.5 998.2,716.7 1001,716.1 1005,715"/>
<polyline points="970,680 971.5,682.8 972.9,684.3 973.5,688.1 975,690 976.6,691.7 979.1,695.5 980.4,698.5 982.5,700 984.4,701.1 985.2,704 987.7,706.6 990,707.5 992.5,708.8 994.8,711.7 997.5,712.5"/>
<polyline points="978.8,676.2 980.5,678.1 982,681.6 982.7,684.9 983.4,686.8 985,690 987.5,692.6 988.9,695.3 989.9,697.9 992.5,700 995.8,701.5 997.8,703.5 1000.1,705 1002.5,707.5 1005,709.1 1008,708.9 1009.6,710 1012.5,711.7 1015,712.5"/>
<polyline points="966.2,720 967.7,722.4 970.1,723.8 972.5,725 975.9,724.6 979.4,726.4 982.5,726.2 985.5,727.1 987.6,727.7 990,730 990.5,732.1 991.8,735.6 993.6,737.2 993.8,740 995.8,741.5 997.5,745"/>
<polyline points="910,675 913.3,676.7 917.3,676.9 920,677.5 924.5,676.8 927.5,677.5"/>
<polyline points="870,810 870.5,812.5 872.3,815.5 872.5,817.5 874.3,820 877.5,822.5 876.9,825.8 876.7,827.4 875,830 876.7,832.4 878.6,834.3 880,837.5 881.3,839.4 883.9,842.5 885,845 885.6,849 886.7,852 887.5,855 888.3,857.6 888.8,861.2"/>
<polyline points="892.5,805 893.9,806.7 895.2,810 896.2,812.5 897.7,814.8 900,817.5 899.8,822.1 898.8,825 898.7,828.1 899.4,831.5 900.2,834.6 901.2,837.5"/>
<polyline points="665,793.8 667.7,795.6 669.9,796.5 672,796.1 675,797.5 677.9,796.9 681.3,798.1 684.5,798.8 687.5,798.8 690.5,798.8 694.3,798.3 696.5,798.5 700,797.5 701.8,799.7 702.7,801.7 703.8,805 704,809.2 702.8,811.9 702.5,815"/>
<polyline points="700,797.5 701.4,795.4 701.4,792.3 702.5,790 700.7,787.6 697.5,785"/>
<polyline points="780,785 779.7,788.8 778.6,790.9 777.6,794 777.5,797.5 776.6,800.8 775.9,804.4 775.2,807.3 775,810 774.3,812.5 775,815.5 773.3,818.4 774,821.1 773.5,823.7 772.5,826.2"/>
<polyline points="802.5,797.5 802.7,800.4 803.9,804.6 803.8,807.5"/>
<polyline points="1185,647.5 1188.6,649.7 1190,652.5 1191.9,650.1 1194.5,649.3 1197.5,647.5 1200.4,647 1203.8,645"/>
<polyline points="1195,610 1198,609.5 1199.6,607.8 1203.3,607.9 1205,606.2 1207.2,604.9 1209.5,604.1 1211.7,603.2 1215,602.5 1216.5,604.4 1218.1,606.9 1220,608.8 1225,610"/>
<polyline points="1110,652.5 1113.3,652.5 1117.5,653.8 1121.3,653.3 1123.5,653.2 1127.1,652.4 1130,652.5 1130.7,654.9 1131.9,657.5 1133.8,660 1134.6,663.2 1135.8,666.3 1136.2,670"/>
<polyline points="1105,672.5 1108.5,671.9 1112.5,671.2 1115.5,672.4 1117.8,672.6 1120,673.8 1121.6,675.4 1125,676.2"/>
<polyline points="1102.5,676.2 1101.3,679.4 1100,682.5"/>
<polyline points="1118.8,653.8 1121.1,650.6 1120.8,647.7 1122.5,645 1123.3,641.9 1123.9,639.6 1124.7,636.9 1126.2,635 1126.6,631.1 1127.5,627.5 1128.1,629.8 1130.4,632.1 1132.5,633.8 1135.2,634 1139.4,631.9 1141.9,632.3 1145,631.2 1147.3,631.2 1150.6,630.1 1152.4,628.5 1155.5,627.8 1157.5,627.5 1160.3,627.4 1162.2,625.9 1165,624.3 1167.5,623.8 1170.2,622.6 1172.5,620"/>
<polyline points="1172.5,620 1171.6,622.6 1171.2,627.4 1171.2,630 1171.7,633.3 1170.8,636.5 1170,640 1168,642.6 1167.6,644.5 1167.4,648.3 1166.2,650 1164.5,654 1165.1,656.3 1163.8,660 1164,663.7 1162.5,667.5"/>
<polyline points="1172.5,637.5 1172.6,640.5 1173.4,644 1175,647.5 1174.2,650.8 1173.5,654.1 1173.9,656 1174.8,660.3 1173.8,662.5 1173.7,664.8 1174.1,668.9 1175.2,671.1 1173.8,674.5 1175,677.5 1177.5,678.8"/>
<polyline points="628.8,1106.2 631.8,1104.7 634.2,1105 637.5,1103.8 640.3,1102.4 642.4,1102.1 645,1100"/>
<polyline points="640,1125 642.7,1124.5 645.1,1122.3 647,1121.4 650,1120 651.9,1120.8 654.8,1122.7 657.5,1122.5 660,1123 663.6,1122.5 666.2,1123.8"/>
<polyline points="800,877.5 799.6,874.5 797.8,873.1 797.5,870 798.6,867.3 799.1,863.5 798.8,860"/>
<polyline points="670,1058.8 669.5,1061.2 670,1063.9 669,1067.3 668.8,1070 668.4,1072.9 669.7,1075.9 670,1080 673.3,1080.6 677.5,1081.2 680,1077.5 681.6,1081.3 682.6,1083.5 685,1086.2 687.9,1085.9 690.7,1084 692.3,1082.2 695,1081.2 697.4,1079.9 700.5,1079.4 703.4,1079.4 706.2,1077.5"/>
<polyline points="647.5,1081.2 650.7,1081.5 652.9,1079.7 656.2,1080 659.6,1079.3 662,1080.7 663.9,1079.7 667.3,1080.8 670,1080"/>
<polyline points="652.5,1103.8 655.3,1102.5 657.7,1099.1 660,1097.5 664,1096.6 666.9,1095.5 670,1095 672.8,1093.8 676.8,1093.8 680,1093.8 681.5,1090.5 682.8,1088 685,1086.2"/>
<polyline points="667.5,1107.5 669.8,1106.5 672.3,1106.3 674.7,1105.7 677.5,1103.8 681.3,1103.4 683.8,1102.2 687.5,1102.5 690.2,1102 692.7,1102.1 696.2,1102 698.5,1101.6 701.2,1102.5"/>
<polyline points="671.2,1025 674.7,1025 677.5,1025 681.4,1024.6 683.8,1023.8"/>
<polyline points="671.2,920 672.6,922.7 672,925.1 672.5,928.8"/>
<polyline points="692.5,892.5 694.4,891.1 697.7,890 700,887.5 702.6,886.9 704.9,884.9 707.5,885 708.4,883 709,879.7 710,877.5 711.8,875.6 715,875"/>
<polyline points="735,872.5 736.7,875 737,877.3 739.1,879.4 740,882.5 740.3,885.2 743.5,887.7 744.5,889.9 745,892.5 745.4,895.7 747,897.5 748.4,899.6 748.8,902.5 749.9,906 748.9,909 750,912.5"/>
<polyline points="815,880 816.4,881.9 817.5,885 818,887.2 818.7,889.7 819.5,893.2 821.2,895 820.1,898.1 820,902.5 821.7,904.9 823.6,907 825,908.8 827.2,911.1 830.7,912.2 833.8,913.8"/>
<polyline points="817.5,885 819.9,885.3 822.5,887.2 825,887.5 824.1,890.1 823.1,893.6 822.5,897.5 824.5,900 826.5,902.3 828,904.8 828.8,907.5"/>
<polyline points="697.5,982.5 697.6,984.7 698.2,987.3 700,990 700,992.3 701.5,994.7 702.5,997.5 701.6,999.4 700.4,1002.2 700,1005 697.4,1005.3 695.4,1007.2 692.5,1007.5 691.5,1011.8 691.2,1015 692.5,1020"/>
<polyline points="674.7,633.5 674.6,635.5 674.9,638.7 675.1,641.3 674.6,643.7 673.6,646.5 674.8,648.4 674.8,651.7 674.9,654.3 676.9,658.8"/>
<polyline points="1082.5,612.5 1085.2,611.1 1087.9,609.2 1090,607.5 1092.3,606 1096.2,603.8 1098.4,602.4 1101.3,603.1 1104.5,601.7 1107.5,601.2 1110.8,601.1 1113.3,600.1 1115,598.8 1118,598.1 1122.4,598.6 1125,597.5 1128.1,599.7 1130,602.6 1132.5,603.8 1136,604.1 1138.5,603.9 1142.5,605 1145.8,605.6 1150,606.2 1153.7,607.6 1156.8,608.1 1160,608.8 1161.6,611 1165.2,612 1167.5,613.8 1169.5,615.4 1173.2,616.9 1175,618.8 1177.4,619.6 1182.3,619.1 1185,620 1188.1,618.9 1189.7,618.1 1192.5,616.2 1194.8,613.4 1197.5,611.2 1196.4,615.2 1195,617.5 1193.1,620.2 1193.8,622.2 1191.8,625.3 1191.2,627.5 1190.1,629.6 1189.6,632.2 1189.3,635.6 1188,637.3 1187.5,640 1185.9,642.7 1184.9,645 1183.9,647.3 1183.8,650 1182.2,652.1 1181.6,656.7 1180,659"/>
<polyline points="1108.8,659 1110.1,656.2 1111.2,652.5 1109.7,650.8 1108.6,646.8 1106.2,645 1105.1,642.5 1104.1,639.4 1103.2,637.9 1102.5,635 1099.5,632.8 1097.8,631.3 1095,630 1091.5,628.7 1090.2,626.2 1087.5,625 1085.1,623.6 1082.8,621.5 1081.2,620 1081,616.7 1082.5,612.5"/>
<polyline points="862.5,855 866.1,853.3 867.5,851.2 871.4,852.9 875,852.5 877.2,855 880.3,855.7 882.5,857.5 885.4,860.1 888.8,861.2 887.2,864.2 885,865 882.3,867.7 880,870 877.6,873.1 875,875 873.2,877.3 871.2,879"/>
<polyline points="815,879 817.6,879 820.8,877.4 821.8,875.6 825,875 829.3,874 832.5,873.8 836.7,874.5 840,875 843.1,872.8 845,870 847.3,869 850.8,866.9 852.5,865 852.6,862.3 854.1,859.3 855,857.5 856.8,854.6 858,853 858.8,850 861.6,852.7 862.5,855"/>
<polyline points="661.2,855 664.9,854.2 666.7,852.4 670,852.5 673.6,852.6 676.2,851.9 680,850 684,850.2 687.5,850.1 690,851.2 694,852.2 697.1,852.9 700,852.5 701.4,855.4 702.3,857.7 703.8,860 705.2,862.1 707.9,863.4 710.4,866.4 712.5,867.5 713.6,869.6 715.1,872 716.4,875.5 717.5,877.5 719.8,879 722.5,879"/>
<polyline points="682.5,879 680.5,876.8 679.1,873.6 675.9,872.3 675,870 672.2,869.5 670.7,867.1 667,864.8 665,863.8 663.4,861.9 661.2,858.8 661.2,855"/>
<polyline points="1180,657.5 1181.2,662.5 1182.1,666.6 1181.8,669 1181.2,672.5 1180.5,676.2 1177.5,678.8 1176.9,681.9 1176.2,686.2 1176.4,688.8 1175,692.5 1176.5,695.3 1178,698.8 1176.2,701.2 1174.5,699.1 1173.8,696.2 1174,692.7 1173.4,690.2 1172.5,687.5 1170,688.8 1168.1,686.5 1167.5,682.5 1167,679.2 1164.9,677.9 1165,675 1163.4,672.9 1163.1,670.3 1162.5,667.5 1158.8,668.8 1157.5,670.5 1155,672.5 1152.9,671.9 1150,670 1147.1,671.1 1145,672.5 1141.2,670 1136.2,670 1135.2,672.1 1132,672.2 1130,675 1125,676.2 1123.9,680.1 1122.5,682.5 1124.1,685.1 1123.2,687.6 1125,690 1125.8,693 1126.2,697.5 1122.8,696.5 1120,696.2 1117.7,694.6 1115,693.8 1113.3,691 1112.5,689.4 1110,687.5 1105,686.2 1102.2,685.2 1100,682.5 1096.1,681.3 1092.5,681.2 1089.7,683 1088.1,684 1086.2,686.2 1082,685.2 1078.8,685 1076.2,682.5 1075,678.8 1073.9,675.6 1072.5,672.5 1069.5,668.8 1071.5,667.6 1075,667.5 1080,666.2 1080.3,663.6 1079.5,660 1082.5,661.2 1083.7,664.2 1085.7,666.3 1087.5,670 1090.7,671.1 1092.5,672.3 1095,673.8 1097.7,674.8 1100.3,675.8 1102.5,676.2 1105,672.5 1105.1,668.2 1107.3,666.6 1107.5,662.5 1108.8,657.5"/>
<polyline points="617.5,877.5 617.5,880 614.3,880.1 611.5,881.8 607.5,882.5 604.5,883.6 600.1,883.2 597.5,883.8 595.4,881.6 593.8,877.5"/>
<polyline points="1026.2,520 1028.8,518.6 1032.5,517.5 1034.8,516.7 1037.6,514.5 1040.5,513 1042.5,516.3 1044.6,518.3 1047.5,520 1046.8,523.4 1046.6,526.1 1046,527.8 1047,531.5 1046.2,533.8 1046.7,536.3 1049.6,539.3 1050.1,541.8 1052.5,545 1053.6,548.1 1055.8,550.2 1056.5,552.3 1057.5,555 1057.9,557.8 1059,562.1 1060,565 1062.4,568.5 1065,570 1066.7,571.9 1066.4,575.4 1068.8,577.2 1068.8,580 1071.4,582.8 1072.7,585.5 1075,587.5 1077.6,590.2 1077.8,593.2 1080,596.2 1082.9,596.8 1085,598 1087.5,600 1090.1,600.3 1093.9,601.9 1096.2,603.8 1092.3,606 1090,607.5 1087.9,609.2 1085.2,611.1 1082.5,612.5 1080.7,615.4 1079.6,616.7 1078.8,620 1080.2,621.6 1079.6,625.7 1081.2,627.5 1082.1,632.2 1083,635 1083.4,637.7 1081.6,642.2 1081.2,645 1081.1,647.4 1081,651 1081.3,653.9 1082.7,656.8 1082,659"/>
<polyline points="1075,659 1075.4,656.3 1075.5,653.3 1076.6,650.4 1076.1,648.2 1076.2,645 1074.9,641.7 1075.7,637.9 1073.8,635 1073.8,632.5 1071.7,629.8 1068.6,627.5 1067.5,625 1065.8,621.7 1064.1,619.5 1061.2,617.5 1059.4,614.6 1057.6,611.8 1056.2,608.8 1054.5,606.1 1052.8,604.3 1052.1,601.4 1050,600 1048.7,597.8 1048.4,594.9 1047,592.2 1046.2,590 1045.8,587.2 1044.8,583.9 1045,580 1044.1,577.2 1043.2,575 1041.6,572.9 1041.2,570 1040,568 1039.4,564.9 1037.5,562.5 1035.5,560.5 1033.8,557.5 1031.2,556.7 1028.5,554.6 1026.2,553.8 1023.8,551.2 1021.2,548.8 1022.2,545.4 1022.5,543.7 1023,540.3 1022.5,537.5 1022.9,534.6 1024.6,531.8 1025,527.5 1024.9,522.8 1026.2,520"/>
<polyline points="1082,656.5 1080,661 1077.5,662.3 1075,662.5 1075,659.5 1074.2,656.5"/>
<polyline points="1181.2,420 1184,421.6 1187.5,423.8 1192,424.4 1195,425 1196.7,428.3 1197.5,431.2 1200.9,431.3 1204.3,429.9 1207.5,430 1210.4,429.2 1214.1,429 1217.5,429.5 1219.2,432.1 1222.5,435 1223.7,437.6 1226.2,441.2 1227.5,446.2 1230,448.3 1232.5,450 1234.7,452.6 1236.2,454.7 1238.8,457.5 1241,454.7 1240.6,452.8 1242.5,450 1244.9,449.2 1247.8,446.9 1250.5,445.4 1253.8,443.8 1257.2,445.4 1260,446.2 1262.1,447.7 1264.1,450.3 1266.2,451.2 1268.5,452.3 1272.2,453.4 1275,455 1276.9,456.9 1280.6,456.9 1282.5,458.8 1283,461.6 1283.8,465 1286.9,467.5 1290,468.8 1291,471.9 1293,474.7 1295,477.5 1296.7,480.3 1298.8,483.8 1300.2,486.1 1299.8,488.4 1301.2,491.2 1297.9,493.9 1295,495 1294.1,497.7 1293.8,501.2 1295.4,504.2 1295.4,506.9 1297.5,510 1297.9,512.7 1299.2,515.2 1301.2,517.5 1301.5,520.6 1303.7,522 1304.8,524.7 1305,527.5 1307.2,528.1 1310,530 1311.5,531.9 1311.6,535 1312.9,536.8 1313.8,540 1315.2,543 1316.9,545.5 1318.8,548.8 1316.5,547.6 1313.7,545.5 1311.2,544.5 1310,542.5 1306,541.3 1303.3,542.5 1300,541.2 1297.6,542.8 1294.3,542.6 1293,543.9 1290.5,545.1 1287.5,546.2 1285.4,549.4 1282.3,550.5 1281.5,553.5 1278.8,555 1275.6,557.5 1272.8,559.3 1270,560 1268.4,562.2 1266.9,564 1263.5,565.6 1262.5,567.5 1259.7,569.6 1257.8,571.1 1255.2,573.4 1252.5,575 1251,577.1 1247.2,578.3 1245.9,581.4 1243.8,582.5 1241.4,583.7 1238.5,584 1235,585 1233.6,586.7 1233.7,590.2 1232.5,592.5 1230.6,594.4 1228.9,596.5 1226,597.9 1225,600 1225.7,604.4 1225,607.5 1223.1,608.6 1221.1,610.8 1218.4,612.3 1217.2,613.8 1215,616.2 1213,619 1211.8,621.7 1210.9,624 1210,627.5 1210.3,629.8 1208.2,632.6 1207,634.4 1206.8,637.8 1206.2,640 1205.9,643.5 1204,646.6 1205.2,648.9 1203.8,652.5 1204,656 1202.5,659"/>
<polyline points="1180,659 1181.6,656.7 1182.2,652.1 1183.8,650 1183.9,647.3 1184.9,645 1185.9,642.7 1187.5,640 1188,637.3 1189.3,635.6 1189.6,632.2 1190.1,629.6 1191.2,627.5 1191.8,625.3 1193.8,622.2 1193.1,620.2 1195,617.5 1196.4,615.2 1197.5,611.2 1195.8,608.5 1193.8,605 1194.5,602.9 1197,601.4 1198.8,598.8 1201.8,596.1 1202.7,592.8 1205,591.2 1202.5,588.2 1201.2,585 1200.1,583.1 1196.1,580.9 1195,578.8 1190.6,579.5 1187.5,580 1183.9,579.2 1181.3,580.2 1177.5,579.9 1175,580 1171.7,579.2 1170,578.3 1167.2,577.8 1165.2,575.8 1163.2,574.6 1159.9,574.7 1157.3,573.3 1155,572.9 1152.9,570.5 1150,570 1150.6,566.6 1150,564.1 1148.9,561.6 1148.4,558.1 1147.5,556.4 1146.9,552.5 1147.5,550 1145.7,552.8 1143,553.1 1141.6,556 1139.1,558.5 1137.5,560 1135.5,562.7 1134,563.4 1130.2,564.7 1129,566.9 1127.4,569.2 1125,570 1123.1,571.6 1121.6,573.4 1119.1,576.1 1118.2,578.8 1116.1,580.7 1115,582.5 1118.8,583.5 1121.7,583.8 1125,583.8 1128,585.7 1129.8,587 1132.5,588.8 1131.9,591.2 1131.2,595 1133.4,597.8 1133.9,600.2 1135,602.5 1132,604.8 1129.7,602.3 1127.7,599.2 1125,597.5 1122.4,598.6 1118,598.1 1115,598.8 1113.3,600.1 1110.8,601.1 1107.5,601.2 1104.2,601.3 1100.9,603.8 1097.5,603.8 1094.5,603.3 1092.8,602.5 1089.9,600 1087.5,600 1085,598 1082.9,596.8 1080,596.2 1077.8,593.2 1077.6,590.2 1075,587.5 1072.7,585.5 1071.4,582.8 1068.8,580 1068.8,577.2 1066.4,575.4 1066.7,571.9 1065,570 1062.4,568.5 1060,565 1059,562.1 1057.9,557.8 1057.5,555 1056.5,552.3 1055.8,550.2 1053.6,548.1 1052.5,545 1050.1,541.8 1049.6,539.3 1046.7,536.3 1046.2,533.8 1046.7,530.9 1048.8,528.7 1050,525 1052.1,523.5 1055,521.2 1058.4,520 1061.2,520 1063.2,518.2 1065.3,517.2 1066.6,513.2 1068.8,512.5 1071.6,510.8 1073.4,510.4 1076.1,510 1078.8,508.8 1082.1,509.5 1085.1,509.8 1087.5,510 1089.4,511.5 1092.3,511.8 1095.3,512.9 1097.5,513.8 1100.1,513.4 1104.2,513.9 1107.5,513.8 1111.1,514.1 1114,513.4 1117.5,512 1120.4,512.3 1123.6,513 1127.3,512 1130,512.5 1132,510.5 1133.3,507.1 1135,505 1136.7,502.9 1139.4,501.8 1142.5,500 1145.2,501.7 1147.7,503.3 1150,503.8 1151.4,505.3 1152.8,508.4 1155,510 1157.3,512.8 1158.8,515 1160.8,517.5 1161.2,521.2 1164.3,521.6 1167.5,520 1170.9,518.2 1173.8,517.5 1174.4,514.2 1175,510 1178,508.8 1180.1,505.9 1182.5,505 1184,502.3 1183.8,498.8 1183.6,496.4 1182.5,492.3 1181.2,490 1183.4,489.8 1187.4,491 1190,490 1193.5,489.7 1196.3,491.2 1200,491.2 1203.9,491.2 1206.1,490.2 1210,490 1212,488.7 1216,487.1 1218.8,486.2 1220,484.3 1222.8,482.1 1225,480 1225.8,477 1227.5,473.8 1229.6,471.6 1231.6,469.2 1232.5,466.2 1229.2,466.1 1228.2,464.3 1225,463.8 1221.4,463.7 1219,462.3 1215,461.2 1210.8,460 1207.5,460 1203.8,460.9 1201.2,462.5 1198,461.7 1195,458.8 1192.1,459.2 1189.7,460.3 1187.5,461.2 1184.3,459.3 1182.1,457.6 1180,455 1176.4,455 1173.8,453.8 1172.8,456.4 1170,458.8 1169,456.7 1166.2,455 1165.2,452.2 1165,448.8 1163.3,446.9 1160.9,445.9 1157.5,445 1160.3,442.8 1162.4,441.9 1165,440 1167.3,438 1170,435 1171.1,432.2 1173.4,431.4 1175,428.8 1175.9,426.1 1177.5,422.5 1181.2,420"/>
<polyline points="525,760 528.2,759.1 532.5,758 535.1,759 539.7,758.6 542.5,758.8 545.6,759.1 549.8,759.8 552.5,761.2 554.9,762.3 557,763 559.7,764 562.5,765 563.8,770 563.2,772.3 561.5,775.3 560,777.5 558.8,781.1 557.5,783.8 555.5,785 553.8,787.5 553.2,791.1 552.5,795 550.7,797.8 550.4,799.7 550,802.5 550.7,805.5 551.2,810 552.8,812.7 555,816.2 556.1,819.3 557.5,822.5 556.4,825.4 553.8,827.5 552.1,830.4 550,831.2 549.7,834.4 547.5,837.5 545.9,839.7 545,842.5 543.6,847 543.8,850 545.2,853.1 548.1,854.2 550,857.5 550.6,859.6 552.6,862.2 552.5,865 552.8,867.5 554.5,870.3 556.2,872.5 558.6,876 560,879"/>
<polyline points="537.5,879 537.8,876.3 536.2,873.4 535,870 534.2,866.2 533.1,863.4 532.5,860 531.4,857.1 530.5,853.5 530,850 528.4,847.2 528.6,843.3 527.5,840 527.4,836.9 527.5,833.9 525.7,831.1 526.2,827.5 525.2,824.6 525.7,821.3 523.8,817.5 523.2,813.2 522.6,809.9 521.2,807.5 521.1,804.3 522.3,801.2 523.8,797.5 524.6,793.7 525.4,791.4 526.2,788.3 526.2,785 525,782 525.4,778.4 525.8,776.2 523.5,773.8 523.8,770 523.7,767.4 524.5,763.4 525,760"/>
<polyline points="556.2,866.2 559.2,867.5 562.5,867.5 564.7,869.5 568.4,870.4 570,872.5 572,875.6 572.5,879"/>
<polyline points="560,879 558.6,876 556.2,872.5 556.9,869.6 556.2,866.2"/>
<polyline points="790,807.5 793.1,806.8 796.2,806.2 799.2,807.8 802.5,810 805.2,813.4 806.2,816.2 807.4,818.7 807.7,821.6 808.8,825 811,827.3 812.5,830 815.3,832 817.5,833.8 820.3,832.5 824.6,833 827.5,832.5 831.8,832.2 835,831.2 836.7,832.5 840.4,833.6 842.5,833.8 844.1,836.1 845.6,838.1 847.5,840 851.2,841.6 854.2,841.9 857.5,842.5 857.8,845.5 858.8,850 858,853 856.8,854.6 855,857.5 854.1,859.3 852.6,862.3 852.5,865 850.8,866.9 847.3,869 845,870 843.1,872.8 840,875 836.7,874.5 832.5,873.8 829.3,874 825,875 822.1,875.7 820.7,877 817.5,877.5 814.1,878 810,879"/>
<polyline points="772.5,879 771.2,876.5 768.3,873.1 767.5,870 765.2,867.3 763.8,865.5 761.4,863 760,860 760.8,856.2 760,852.5 759.5,849.4 758,847.7 756.2,845 757.9,842.8 758.8,840 763.8,840 763.3,835.9 762.5,832.5 762.8,829.6 765,826.2 768.5,827.1 772.5,826.2 773.5,823.6 776.1,822.2 777.5,820 778.7,817.1 780,813.8 781.8,811.6 785,810 786.9,808.1 790,807.5"/>
<polyline points="1205,656.5 1203.6,659.4 1203.8,662.5 1202.5,665 1201.5,668.5 1201.4,671.8 1201.2,675 1198.8,672.5 1197.5,668.8 1194.5,671.2 1192.5,672.5 1189.5,671.4 1186.2,671.2 1184.8,673.4 1185.5,676.9 1183.8,680 1183.6,677.9 1182.4,675.3 1181.2,672.5 1181.8,669 1182.1,666.6 1181.2,662.5 1179.7,659.5 1179.5,656.5"/>
<polyline points="555,877.5 555.7,880 557.2,884.2 557.1,886.1 557.5,890 559,892.4 558.9,896.4 560,900 560.4,903.5 558.9,906.6 558.8,910 559,913.2 561,916 561.2,920 561.9,923.8 562.7,927.3 563.8,930 564.7,932.6 565.7,935.1 566.2,937.5 569.3,937.9 571,939.7 573.1,942 576.2,942.5 576,946.1 575,948.8 575.6,951.3 577.5,953.8 576.7,957.6 575,960 574.5,963.7 573.8,967.5 573.1,970.1 571.5,972.7 571.2,975 574.2,975.1 576.9,975.1 580,976.2 582.6,974.5 584.5,973 587.5,972.5 590.3,971.5 592.7,970 595,967.5 594.7,963.8 595.5,960 595.2,957.9 593.8,955 598.8,955 600.5,957.3 602.5,958.8 602.8,962.4 603.8,965 602.3,967.8 601.9,969.9 600,972.5 598.6,975.6 597.5,977.8 596.2,980 595.7,982.1 595.4,985.7 593.8,987.5 595.5,990.3 595.5,992.6 597.5,995 601.1,997.5 602.5,1000 604.4,1001.5 607.5,1002.5 606,1004.7 606.4,1007.7 605,1010 603.2,1012.1 602.9,1015.6 601.2,1017.5 601.8,1021.6 602.5,1025 605.6,1027.7 607.5,1030 610.4,1031.6 613.1,1031.7 615,1032.5 618.5,1035.2 620,1037.5 621.1,1039.7 620.9,1042.6 622.5,1045 621.3,1047.7 621.1,1049.5 620,1052.5 616.7,1054.3 615,1056.2 617,1058.3 619.1,1060.2 620,1062.5 622.8,1063.6 625.6,1066.1 627.5,1067.5 629,1069.9 630,1072.5 627.6,1074.7 625,1075 626.2,1077 628.5,1078.3 630,1081.2 632.7,1082.4 635.1,1083.1 637.5,1085 640.3,1084.9 643.2,1086.1 646.2,1086.2 646.1,1088.9 647.5,1092.5 646.6,1095.5 646.7,1097.6 645,1100 647.6,1100.6 649.9,1102.2 652.5,1103.8 655.7,1105 658.8,1103.6 662.5,1105 665.4,1105.9 667.5,1107.5 666.8,1111 667.5,1115 666.9,1117.2 666.2,1120.9 666.2,1123.8 664.6,1127.3 665,1130 667.9,1132.8 670,1135 670.7,1138.2 671.2,1142.5 669.7,1145.7 670,1149"/>
<polyline points="660,1149 659.3,1145.7 659.6,1143.3 658.8,1140 656.9,1137.7 655.1,1134.8 652.5,1132.5 648,1131.9 645,1131.2 640,1132.5 638.3,1129.2 636.2,1127.5 634.7,1125.5 634.8,1122.6 633.8,1120 632.7,1116.8 631.5,1115.2 631.7,1112.1 630,1110 628.1,1107.2 627.7,1105.4 626.1,1102.4 626.2,1100 625.4,1097.6 624.1,1095.3 622.4,1093.2 621.2,1090 620.3,1087 619.2,1084.4 617.6,1082.3 616.2,1080 615,1077.3 613.2,1074.3 612.4,1072.5 610,1070 608.7,1066.8 606.1,1065 603.9,1063.4 602.5,1060 600.7,1057.7 600.2,1054.4 597.8,1052.6 596.8,1050.3 596.2,1047.5 595,1045.6 594,1043.1 593.7,1040.5 593,1036.9 591.2,1035 590.9,1032 589.8,1030 589.4,1026.8 588.9,1025.1 587.5,1022.5 586.3,1019 586,1016.6 586.2,1013.4 586.2,1010 584.5,1007.8 585.2,1005.4 583.6,1002.1 582.5,1000 580.7,997.7 580.1,995.2 578,992.6 577.5,990 576.2,987.2 576.4,984.9 574.9,982.7 573.8,980 572,978.1 570.3,974.5 567.5,972.5 565.9,969.3 563.9,967.9 562.5,965 562.2,962.7 560.6,960.1 558.8,957.5 557.7,955.1 556.7,952.3 556.1,950.1 555,947.5 554.3,944.8 553.2,942 551.2,940 550.5,938.1 548.7,935.6 549.1,932.1 547.5,930 546.2,928 545.9,924.7 545.9,922.9 543.7,920.5 543.8,917.5 542.8,913.7 542.9,912 543.4,908.4 542.5,905 542.2,902.4 541.9,899 540.9,894.9 540,892.5 538.7,889.2 539.2,886.4 538.6,883.8 538.1,880 537.5,877.5"/>
<polyline points="810,877.5 806.4,879.7 805,882.5 802.4,880.9 800,877.5 798.6,880.3 797.6,882.5 797.5,885 795.2,886.6 793.2,888.4 790,890 787.2,891.5 782.5,891.2 779.2,889.9 777.5,887.5 775.2,884.8 774.4,882.1 773.8,880 773,877.5"/>
<polyline points="673.6,1147.9 675,1150 673.6,1154.3 671.4,1157.9 670.7,1155.7 668.7,1154.1 667.1,1151.4 665,1147.9"/>
</g>
</g>
<g id="map-axes">
<g stroke="#000" stroke-width="1.4" fill="none">
<line x1="174.0" y1="101.2" x2="174.0" y2="108.5"/>
<line x1="174.0" y1="1233.5" x2="174.0" y2="1240.8"/>
<line x1="304.2" y1="101.2" x2="304.2" y2="108.5"/>
<line x1="304.2" y1="1233.5" x2="304.2" y2="1240.8"/>
<line x1="434.4" y1="101.2" x2="434.4" y2="108.5"/>
<line x1="434.4" y1="1233.5" x2="434.4" y2="1240.8"/>
<line x1="564.6" y1="101.2" x2="564.6" y2="108.5"/>
<line x1="564.6" y1="1233.5" x2="564.6" y2="1240.8"/>
<line x1="694.8" y1="101.2" x2="694.8" y2="108.5"/>
<line x1="694.8" y1="1233.5" x2="694.8" y2="1240.8"/>
<line x1="825.0" y1="101.2" x2="825.0" y2="108.5"/>
<line x1="825.0" y1="1233.5" x2="825.0" y2="1240.8"/>
<line x1="955.2" y1="101.2" x2="955.2" y2="108.5"/>
<line x1="955.2" y1="1233.5" x2="955.2" y2="1240.8"/>
<line x1="1085.4" y1="101.2" x2="1085.4" y2="108.5"/>
<line x1="1085.4" y1="1233.5" x2="1085.4" y2="1240.8"/>
<line x1="1215.6" y1="101.2" x2="1215.6" y2="108.5"/>
<line x1="1215.6" y1="1233.5" x2="1215.6" y2="1240.8"/>
<line x1="1345.8" y1="101.2" x2="1345.8" y2="108.5"/>
<line x1="1345.8" y1="1233.5" x2="1345.8" y2="1240.8"/>
<line x1="1476.0" y1="101.2" x2="1476.0" y2="108.5"/>
<line x1="1476.0" y1="1233.5" x2="1476.0" y2="1240.8"/>
<line x1="134.29999999999998" y1="129.0" x2="141.6" y2="129.0"/>
<line x1="1508.4" y1="129.0" x2="1515.7" y2="129.0"/>
<line x1="134.29999999999998" y1="288.8" x2="141.6" y2="288.8"/>
<line x1="1508.4" y1="288.8" x2="1515.7" y2="288.8"/>
<line x1="134.29999999999998" y1="442.0" x2="141.6" y2="442.0"/>
<line x1="1508.4" y1="442.0" x2="1515.7" y2="442.0"/>
<line x1="134.29999999999998" y1="588.9" x2="141.6" y2="588.9"/>
<line x1="1508.4" y1="588.9" x2="1515.7" y2="588.9"/>
<line x1="134.29999999999998" y1="730.7" x2="141.6" y2="730.7"/>
<line x1="1508.4" y1="730.7" x2="1515.7" y2="730.7"/>
<line x1="134.29999999999998" y1="868.0" x2="141.6" y2="868.0"/>
<line x1="1508.4" y1="868.0" x2="1515.7" y2="868.0"/>
<line x1="134.29999999999998" y1="1002.3" x2="141.6" y2="1002.3"/>
<line x1="1508.4" y1="1002.3" x2="1515.7" y2="1002.3"/>
<line x1="134.29999999999998" y1="1134.9" x2="141.6" y2="1134.9"/>
<line x1="1508.4" y1="1134.9" x2="1515.7" y2="1134.9"/>
</g>
<rect x="141.6" y="108.5" width="1366.8000000000002" height="1125.0" fill="none" stroke="#000" stroke-width="3.1"/>
<text x="174.0" y="94.6" font-size="32.6" text-anchor="middle">62°</text>
<text x="304.2" y="94.6" font-size="32.6" text-anchor="middle">66°</text>
<text x="434.4" y="94.6" font-size="32.6" text-anchor="middle">70°</text>
<text x="564.6" y="94.6" font-size="32.6" text-anchor="middle">74°</text>
<text x="694.8" y="94.6" font-size="32.6" text-anchor="middle">78°</text>
<text x="825.0" y="94.6" font-size="32.6" text-anchor="middle">82°</text>
<text x="955.2" y="94.6" font-size="32.6" text-anchor="middle">86°</text>
<text x="1085.4" y="94.6" font-size="32.6" text-anchor="middle">90°</text>
<text x="1215.6" y="94.6" font-size="32.6" text-anchor="middle">94°</text>
<text x="1345.8" y="94.6" font-size="32.6" text-anchor="middle">98°</text>
<text x="1476.0" y="94.6" font-size="32.6" text-anchor="middle">102°</text>
<text x="127.9" y="141.2" font-size="32.6" text-anchor="end">38°</text>
<text x="1521.3" y="141.2" font-size="32.6">38°</text>
<text x="127.9" y="301.0" font-size="32.6" text-anchor="end">34°</text>
<text x="1521.3" y="301.0" font-size="32.6">34°</text>
<text x="127.9" y="454.2" font-size="32.6" text-anchor="end">30°</text>
<text x="1521.3" y="454.2" font-size="32.6">30°</text>
<text x="127.9" y="601.1" font-size="32.6" text-anchor="end">26°</text>
<text x="1521.3" y="601.1" font-size="32.6">26°</text>
<text x="127.9" y="742.9" font-size="32.6" text-anchor="end">22°</text>
<text x="1521.3" y="742.9" font-size="32.6">22°</text>
<text x="127.9" y="880.2" font-size="32.6" text-anchor="end">18°</text>
<text x="1521.3" y="880.2" font-size="32.6">18°</text>
<text x="127.9" y="1014.5" font-size="32.6" text-anchor="end">14°</text>
<text x="1521.3" y="1014.5" font-size="32.6">14°</text>
<text x="127.9" y="1147.1" font-size="32.6" text-anchor="end">10°</text>
<text x="1521.3" y="1147.1" font-size="32.6">10°</text>
</g>
<g id="map-legend">
<text x="999.5" y="936.5" font-size="40.1">Flash flood susceptibility</text>
<rect x="998" y="984.5" width="45" height="37" fill="#ff0000"/>
<text x="1064.5" y="1019.5" font-size="40.1">Very high</text>
<rect x="998" y="1050.5" width="45" height="37" fill="#ffa500"/>
<text x="1064.5" y="1085.5" font-size="40.1">High</text>
<rect x="998" y="1116.5" width="45" height="37" fill="#ffeda0"/>
<text x="1064.5" y="1151.5" font-size="40.1">Moderate</text>
</g>
<g id="chart-b">
<clipPath id="clip-b"><rect x="141.6" y="1326.4" width="640.0" height="516.4"/></clipPath>
<g clip-path="url(#clip-b)">
<rect x="167.0" y="1776.0" width="34.6" height="66.8" fill="#6a6cd9"/>
<rect x="170.0" y="1484.5" width="28.6" height="358.3" fill="none" stroke="#6a6cd9" stroke-width="5.8"/>
<rect x="209.6" y="1776.0" width="34.6" height="66.8" fill="#7e88db"/>
<rect x="212.6" y="1484.5" width="28.6" height="358.3" fill="none" stroke="#7e88db" stroke-width="5.8"/>
<rect x="252.3" y="1776.0" width="34.6" height="66.8" fill="#91a5dc"/>
<rect x="255.3" y="1484.5" width="28.6" height="358.3" fill="none" stroke="#91a5dc" stroke-width="5.8"/>
<rect x="295.0" y="1757.8" width="34.6" height="85.0" fill="#a3c1dc"/>
<rect x="298.0" y="1478.4" width="28.6" height="364.4" fill="none" stroke="#a3c1dc" stroke-width="5.8"/>
<rect x="380.3" y="1763.9" width="34.6" height="78.9" fill="#6a6cd9"/>
<rect x="383.3" y="1496.6" width="28.6" height="346.2" fill="none" stroke="#6a6cd9" stroke-width="5.8"/>
<rect x="423.0" y="1763.9" width="34.6" height="78.9" fill="#7e88db"/>
<rect x="426.0" y="1496.6" width="28.6" height="346.2" fill="none" stroke="#7e88db" stroke-width="5.8"/>
<rect x="465.6" y="1763.9" width="34.6" height="78.9" fill="#91a5dc"/>
<rect x="468.6" y="1490.6" width="28.6" height="352.2" fill="none" stroke="#91a5dc" stroke-width="5.8"/>
<rect x="508.3" y="1745.6" width="34.6" height="97.2" fill="#a3c1dc"/>
<rect x="511.3" y="1478.4" width="28.6" height="364.4" fill="none" stroke="#a3c1dc" stroke-width="5.8"/>
<rect x="593.6" y="1818.5" width="34.6" height="24.3" fill="#6a6cd9"/>
<rect x="596.6" y="1575.6" width="28.6" height="267.2" fill="none" stroke="#6a6cd9" stroke-width="5.8"/>
<rect x="636.3" y="1818.5" width="34.6" height="24.3" fill="#7e88db"/>
<rect x="639.3" y="1587.7" width="28.6" height="255.1" fill="none" stroke="#7e88db" stroke-width="5.8"/>
<rect x="679.0" y="1818.5" width="34.6" height="24.3" fill="#91a5dc"/>
<rect x="682.0" y="1581.7" width="28.6" height="261.1" fill="none" stroke="#91a5dc" stroke-width="5.8"/>
<rect x="721.6" y="1800.3" width="34.6" height="42.5" fill="#a3c1dc"/>
<rect x="724.6" y="1545.2" width="28.6" height="297.6" fill="none" stroke="#a3c1dc" stroke-width="5.8"/>
</g>
<g stroke="#000" stroke-width="1.4">
<line x1="134.29999999999998" y1="1842.8" x2="141.6" y2="1842.8"/>
<line x1="134.29999999999998" y1="1721.3" x2="141.6" y2="1721.3"/>
<line x1="134.29999999999998" y1="1599.9" x2="141.6" y2="1599.9"/>
<line x1="134.29999999999998" y1="1478.4" x2="141.6" y2="1478.4"/>
<line x1="134.29999999999998" y1="1357.0" x2="141.6" y2="1357.0"/>
</g>
<rect x="141.6" y="1326.4" width="640.0" height="516.4" fill="none" stroke="#000" stroke-width="3.1"/>
<text x="127.6" y="1855.0" font-size="32.6" text-anchor="end">0</text>
<text x="127.6" y="1733.5" font-size="32.6" text-anchor="end">20</text>
<text x="127.6" y="1612.1" font-size="32.6" text-anchor="end">40</text>
<text x="127.6" y="1490.6" font-size="32.6" text-anchor="end">60</text>
<text x="127.6" y="1369.2" font-size="32.6" text-anchor="end">80</text>
<text x="248.3" y="1876.7" font-size="28.7" text-anchor="middle">Moderate</text>
<text x="461.6" y="1876.7" font-size="28.7" text-anchor="middle">High</text>
<text x="674.9" y="1876.7" font-size="28.7" text-anchor="middle">Very high</text>
<text x="25.5" y="1584.6" font-size="34.4" text-anchor="middle" transform="rotate(-90 25.5 1584.6)">No. of sub-basins</text>
<text x="68.5" y="1584.6" font-size="34.4" text-anchor="middle" transform="rotate(-90 68.5 1584.6)">with positive streamflow trend</text>
<text x="603.3" y="1397.8" font-size="31.2" font-weight="bold" fill="#6a6cd9">1 hour</text>
<text x="603.3" y="1433.9" font-size="31.2" font-weight="bold" fill="#7e88db">3 hours</text>
<text x="603.3" y="1470.0" font-size="31.2" font-weight="bold" fill="#91a5dc">24 hours</text>
<text x="603.3" y="1506.1" font-size="31.2" font-weight="bold" fill="#a3c1dc">72 hours</text>
</g>
<g id="chart-c">
<clipPath id="clip-c"><rect x="864.9" y="1326.4" width="640.3" height="516.4"/></clipPath>
<g clip-path="url(#clip-c)">
<rect x="893.4" y="1721.3" width="28.6" height="121.5" fill="none" stroke="#993404" stroke-width="5.8"/>
<rect x="936.1" y="1721.3" width="28.6" height="121.5" fill="none" stroke="#d95f0e" stroke-width="5.8"/>
<rect x="978.8" y="1721.3" width="28.6" height="121.5" fill="none" stroke="#fe9929" stroke-width="5.8"/>
<rect x="1018.4" y="1824.6" width="34.6" height="18.2" fill="#fec44f"/>
<rect x="1021.4" y="1727.4" width="28.6" height="115.4" fill="none" stroke="#fec44f" stroke-width="5.8"/>
<rect x="1106.7" y="1709.2" width="28.6" height="133.6" fill="none" stroke="#993404" stroke-width="5.8"/>
<rect x="1149.4" y="1709.2" width="28.6" height="133.6" fill="none" stroke="#d95f0e" stroke-width="5.8"/>
<rect x="1192.1" y="1715.3" width="28.6" height="127.5" fill="none" stroke="#fe9929" stroke-width="5.8"/>
<rect x="1234.8" y="1727.4" width="28.6" height="115.4" fill="none" stroke="#fec44f" stroke-width="5.8"/>
<rect x="1317.1" y="1806.4" width="34.6" height="36.4" fill="#993404"/>
<rect x="1320.1" y="1630.2" width="28.6" height="212.6" fill="none" stroke="#993404" stroke-width="5.8"/>
<rect x="1359.7" y="1806.4" width="34.6" height="36.4" fill="#d95f0e"/>
<rect x="1362.7" y="1618.1" width="28.6" height="224.7" fill="none" stroke="#d95f0e" stroke-width="5.8"/>
<rect x="1402.4" y="1788.1" width="34.6" height="54.7" fill="#fe9929"/>
<rect x="1405.4" y="1624.2" width="28.6" height="218.6" fill="none" stroke="#fe9929" stroke-width="5.8"/>
<rect x="1445.1" y="1812.4" width="34.6" height="30.4" fill="#fec44f"/>
<rect x="1448.1" y="1660.6" width="28.6" height="182.2" fill="none" stroke="#fec44f" stroke-width="5.8"/>
</g>
<g stroke="#000" stroke-width="1.4">
<line x1="857.6" y1="1842.8" x2="864.9" y2="1842.8"/>
<line x1="1505.2" y1="1842.8" x2="1512.5" y2="1842.8"/>
<line x1="857.6" y1="1721.3" x2="864.9" y2="1721.3"/>
<line x1="1505.2" y1="1721.3" x2="1512.5" y2="1721.3"/>
<line x1="857.6" y1="1599.9" x2="864.9" y2="1599.9"/>
<line x1="1505.2" y1="1599.9" x2="1512.5" y2="1599.9"/>
<line x1="857.6" y1="1478.4" x2="864.9" y2="1478.4"/>
<line x1="1505.2" y1="1478.4" x2="1512.5" y2="1478.4"/>
<line x1="857.6" y1="1357.0" x2="864.9" y2="1357.0"/>
<line x1="1505.2" y1="1357.0" x2="1512.5" y2="1357.0"/>
</g>
<rect x="864.9" y="1326.4" width="640.3" height="516.4" fill="none" stroke="#000" stroke-width="3.1"/>
<text x="1554.5" y="1855.0" font-size="32.6" text-anchor="end">0</text>
<text x="1554.5" y="1733.5" font-size="32.6" text-anchor="end">20</text>
<text x="1554.5" y="1612.1" font-size="32.6" text-anchor="end">40</text>
<text x="1554.5" y="1490.6" font-size="32.6" text-anchor="end">60</text>
<text x="1554.5" y="1369.2" font-size="32.6" text-anchor="end">80</text>
<text x="971.7" y="1876.7" font-size="28.7" text-anchor="middle">Moderate</text>
<text x="1185.0" y="1876.7" font-size="28.7" text-anchor="middle">High</text>
<text x="1398.4" y="1876.7" font-size="28.7" text-anchor="middle">Very high</text>
<text x="1590.3" y="1584.6" font-size="34.4" text-anchor="middle" transform="rotate(-90 1590.3 1584.6)">No. of sub-basins</text>
<text x="1633.5" y="1584.6" font-size="34.4" text-anchor="middle" transform="rotate(-90 1633.5 1584.6)">with negative streamflow trend</text>
<text x="899.5" y="1424.7" font-size="31.2" font-weight="bold" fill="#993404">1 hour</text>
<text x="899.5" y="1460.8" font-size="31.2" font-weight="bold" fill="#d95f0e">3 hours</text>
<text x="899.5" y="1496.9" font-size="31.2" font-weight="bold" fill="#fe9929">24 hours</text>
<text x="899.5" y="1533.0" font-size="31.2" font-weight="bold" fill="#fec44f">72 hours</text>
</g>
<g id="chart-d">
<clipPath id="clip-d"><rect x="141.6" y="1936.4" width="640.0" height="516.1"/></clipPath>
<g clip-path="url(#clip-d)">
<rect x="167.0" y="2422.1" width="34.6" height="30.4" fill="#6a6cd9"/>
<rect x="170.0" y="2130.6" width="28.6" height="321.9" fill="none" stroke="#6a6cd9" stroke-width="5.8"/>
<rect x="209.6" y="2422.1" width="34.6" height="30.4" fill="#7e88db"/>
<rect x="212.6" y="2154.9" width="28.6" height="297.6" fill="none" stroke="#7e88db" stroke-width="5.8"/>
<rect x="252.3" y="2434.3" width="34.6" height="18.2" fill="#91a5dc"/>
<rect x="255.3" y="2185.3" width="28.6" height="267.2" fill="none" stroke="#91a5dc" stroke-width="5.8"/>
<rect x="295.0" y="2416.1" width="34.6" height="36.4" fill="#a3c1dc"/>
<rect x="298.0" y="2130.6" width="28.6" height="321.9" fill="none" stroke="#a3c1dc" stroke-width="5.8"/>
<rect x="380.3" y="2434.3" width="34.6" height="18.2" fill="#6a6cd9"/>
<rect x="383.3" y="2142.8" width="28.6" height="309.7" fill="none" stroke="#6a6cd9" stroke-width="5.8"/>
<rect x="423.0" y="2428.2" width="34.6" height="24.3" fill="#7e88db"/>
<rect x="426.0" y="2148.8" width="28.6" height="303.7" fill="none" stroke="#7e88db" stroke-width="5.8"/>
<rect x="465.6" y="2434.3" width="34.6" height="18.2" fill="#91a5dc"/>
<rect x="468.6" y="2179.2" width="28.6" height="273.3" fill="none" stroke="#91a5dc" stroke-width="5.8"/>
<rect x="508.3" y="2434.3" width="34.6" height="18.2" fill="#a3c1dc"/>
<rect x="511.3" y="2161.0" width="28.6" height="291.5" fill="none" stroke="#a3c1dc" stroke-width="5.8"/>
<rect x="593.6" y="2428.2" width="34.6" height="24.3" fill="#6a6cd9"/>
<rect x="596.6" y="2173.1" width="28.6" height="279.4" fill="none" stroke="#6a6cd9" stroke-width="5.8"/>
<rect x="636.3" y="2434.3" width="34.6" height="18.2" fill="#7e88db"/>
<rect x="639.3" y="2197.4" width="28.6" height="255.1" fill="none" stroke="#7e88db" stroke-width="5.8"/>
<rect x="679.0" y="2440.4" width="34.6" height="12.1" fill="#91a5dc"/>
<rect x="682.0" y="2264.2" width="28.6" height="188.3" fill="none" stroke="#91a5dc" stroke-width="5.8"/>
<rect x="721.6" y="2434.3" width="34.6" height="18.2" fill="#a3c1dc"/>
<rect x="724.6" y="2215.7" width="28.6" height="236.8" fill="none" stroke="#a3c1dc" stroke-width="5.8"/>
</g>
<g stroke="#000" stroke-width="1.4">
<line x1="134.29999999999998" y1="2452.5" x2="141.6" y2="2452.5"/>
<line x1="134.29999999999998" y1="2331.0" x2="141.6" y2="2331.0"/>
<line x1="134.29999999999998" y1="2209.6" x2="141.6" y2="2209.6"/>
<line x1="134.29999999999998" y1="2088.1" x2="141.6" y2="2088.1"/>
<line x1="134.29999999999998" y1="1966.7" x2="141.6" y2="1966.7"/>
</g>
<rect x="141.6" y="1936.4" width="640.0" height="516.1" fill="none" stroke="#000" stroke-width="3.1"/>
<text x="127.6" y="2464.7" font-size="32.6" text-anchor="end">0</text>
<text x="127.6" y="2343.2" font-size="32.6" text-anchor="end">20</text>
<text x="127.6" y="2221.8" font-size="32.6" text-anchor="end">40</text>
<text x="127.6" y="2100.3" font-size="32.6" text-anchor="end">60</text>
<text x="127.6" y="1978.9" font-size="32.6" text-anchor="end">80</text>
<text x="248.3" y="2486.4" font-size="28.7" text-anchor="middle">Moderate</text>
<text x="461.6" y="2486.4" font-size="28.7" text-anchor="middle">High</text>
<text x="674.9" y="2486.4" font-size="28.7" text-anchor="middle">Very high</text>
<text x="461.6" y="2529.6" font-size="31.4" text-anchor="middle">Flash flood susceptibity</text>
<text x="25.5" y="2194.4" font-size="34.4" text-anchor="middle" transform="rotate(-90 25.5 2194.4)">No. of sub-basins</text>
<text x="68.5" y="2194.4" font-size="34.4" text-anchor="middle" transform="rotate(-90 68.5 2194.4)">with positive precipitation trend</text>
<text x="603.3" y="2007.8" font-size="31.2" font-weight="bold" fill="#6a6cd9">1 hour</text>
<text x="603.3" y="2043.9" font-size="31.2" font-weight="bold" fill="#7e88db">3 hours</text>
<text x="603.3" y="2080.0" font-size="31.2" font-weight="bold" fill="#91a5dc">24 hours</text>
<text x="603.3" y="2116.1" font-size="31.2" font-weight="bold" fill="#a3c1dc">72 hours</text>
</g>
<g id="chart-e">
<clipPath id="clip-e"><rect x="864.9" y="1936.4" width="640.3" height="516.1"/></clipPath>
<g clip-path="url(#clip-e)">
<rect x="893.4" y="2294.6" width="28.6" height="157.9" fill="none" stroke="#993404" stroke-width="5.8"/>
<rect x="936.1" y="2270.3" width="28.6" height="182.2" fill="none" stroke="#d95f0e" stroke-width="5.8"/>
<rect x="975.8" y="2446.4" width="34.6" height="6.1" fill="#fe9929"/>
<rect x="978.8" y="2239.9" width="28.6" height="212.6" fill="none" stroke="#fe9929" stroke-width="5.8"/>
<rect x="1021.4" y="2294.6" width="28.6" height="157.9" fill="none" stroke="#fec44f" stroke-width="5.8"/>
<rect x="1106.7" y="2282.5" width="28.6" height="170.0" fill="none" stroke="#993404" stroke-width="5.8"/>
<rect x="1149.4" y="2276.4" width="28.6" height="176.1" fill="none" stroke="#d95f0e" stroke-width="5.8"/>
<rect x="1189.1" y="2446.4" width="34.6" height="6.1" fill="#fe9929"/>
<rect x="1192.1" y="2246.0" width="28.6" height="206.5" fill="none" stroke="#fe9929" stroke-width="5.8"/>
<rect x="1234.8" y="2264.2" width="28.6" height="188.3" fill="none" stroke="#fec44f" stroke-width="5.8"/>
<rect x="1317.1" y="2434.3" width="34.6" height="18.2" fill="#993404"/>
<rect x="1320.1" y="2252.1" width="28.6" height="200.4" fill="none" stroke="#993404" stroke-width="5.8"/>
<rect x="1359.7" y="2434.3" width="34.6" height="18.2" fill="#d95f0e"/>
<rect x="1362.7" y="2227.8" width="28.6" height="224.7" fill="none" stroke="#d95f0e" stroke-width="5.8"/>
<rect x="1402.4" y="2410.0" width="34.6" height="42.5" fill="#fe9929"/>
<rect x="1405.4" y="2161.0" width="28.6" height="291.5" fill="none" stroke="#fe9929" stroke-width="5.8"/>
<rect x="1445.1" y="2410.0" width="34.6" height="42.5" fill="#fec44f"/>
<rect x="1448.1" y="2209.6" width="28.6" height="242.9" fill="none" stroke="#fec44f" stroke-width="5.8"/>
</g>
<g stroke="#000" stroke-width="1.4">
<line x1="857.6" y1="2452.5" x2="864.9" y2="2452.5"/>
<line x1="1505.2" y1="2452.5" x2="1512.5" y2="2452.5"/>
<line x1="857.6" y1="2331.0" x2="864.9" y2="2331.0"/>
<line x1="1505.2" y1="2331.0" x2="1512.5" y2="2331.0"/>
<line x1="857.6" y1="2209.6" x2="864.9" y2="2209.6"/>
<line x1="1505.2" y1="2209.6" x2="1512.5" y2="2209.6"/>
<line x1="857.6" y1="2088.1" x2="864.9" y2="2088.1"/>
<line x1="1505.2" y1="2088.1" x2="1512.5" y2="2088.1"/>
<line x1="857.6" y1="1966.7" x2="864.9" y2="1966.7"/>
<line x1="1505.2" y1="1966.7" x2="1512.5" y2="1966.7"/>
</g>
<rect x="864.9" y="1936.4" width="640.3" height="516.1" fill="none" stroke="#000" stroke-width="3.1"/>
<text x="1554.5" y="2464.7" font-size="32.6" text-anchor="end">0</text>
<text x="1554.5" y="2343.2" font-size="32.6" text-anchor="end">20</text>
<text x="1554.5" y="2221.8" font-size="32.6" text-anchor="end">40</text>
<text x="1554.5" y="2100.3" font-size="32.6" text-anchor="end">60</text>
<text x="1554.5" y="1978.9" font-size="32.6" text-anchor="end">80</text>
<text x="971.7" y="2486.4" font-size="28.7" text-anchor="middle">Moderate</text>
<text x="1185.0" y="2486.4" font-size="28.7" text-anchor="middle">High</text>
<text x="1398.4" y="2486.4" font-size="28.7" text-anchor="middle">Very high</text>
<text x="1185.0" y="2529.6" font-size="31.4" text-anchor="middle">Flash flood susceptibity</text>
<text x="1590.3" y="2194.4" font-size="34.4" text-anchor="middle" transform="rotate(-90 1590.3 2194.4)">No. of sub-basins</text>
<text x="1633.5" y="2194.4" font-size="34.4" text-anchor="middle" transform="rotate(-90 1633.5 2194.4)">with negative precipitation trend</text>
<text x="899.5" y="2034.7" font-size="31.2" font-weight="bold" fill="#993404">1 hour</text>
<text x="899.5" y="2070.8" font-size="31.2" font-weight="bold" fill="#d95f0e">3 hours</text>
<text x="899.5" y="2106.9" font-size="31.2" font-weight="bold" fill="#fe9929">24 hours</text>
<text x="899.5" y="2143.0" font-size="31.2" font-weight="bold" fill="#fec44f">72 hours</text>
</g>
<text x="88.1" y="24.8" font-size="34.4">(a)</text>
<text x="77.9" y="1301.0" font-size="34.4">(b)</text>
<text x="802.1" y="1301.0" font-size="34.4">(c)</text>
<text x="77.9" y="1911.0" font-size="34.4">(d)</text>
<text x="802.1" y="1911.0" font-size="34.4">(e)</text>
</svg></body></html>
